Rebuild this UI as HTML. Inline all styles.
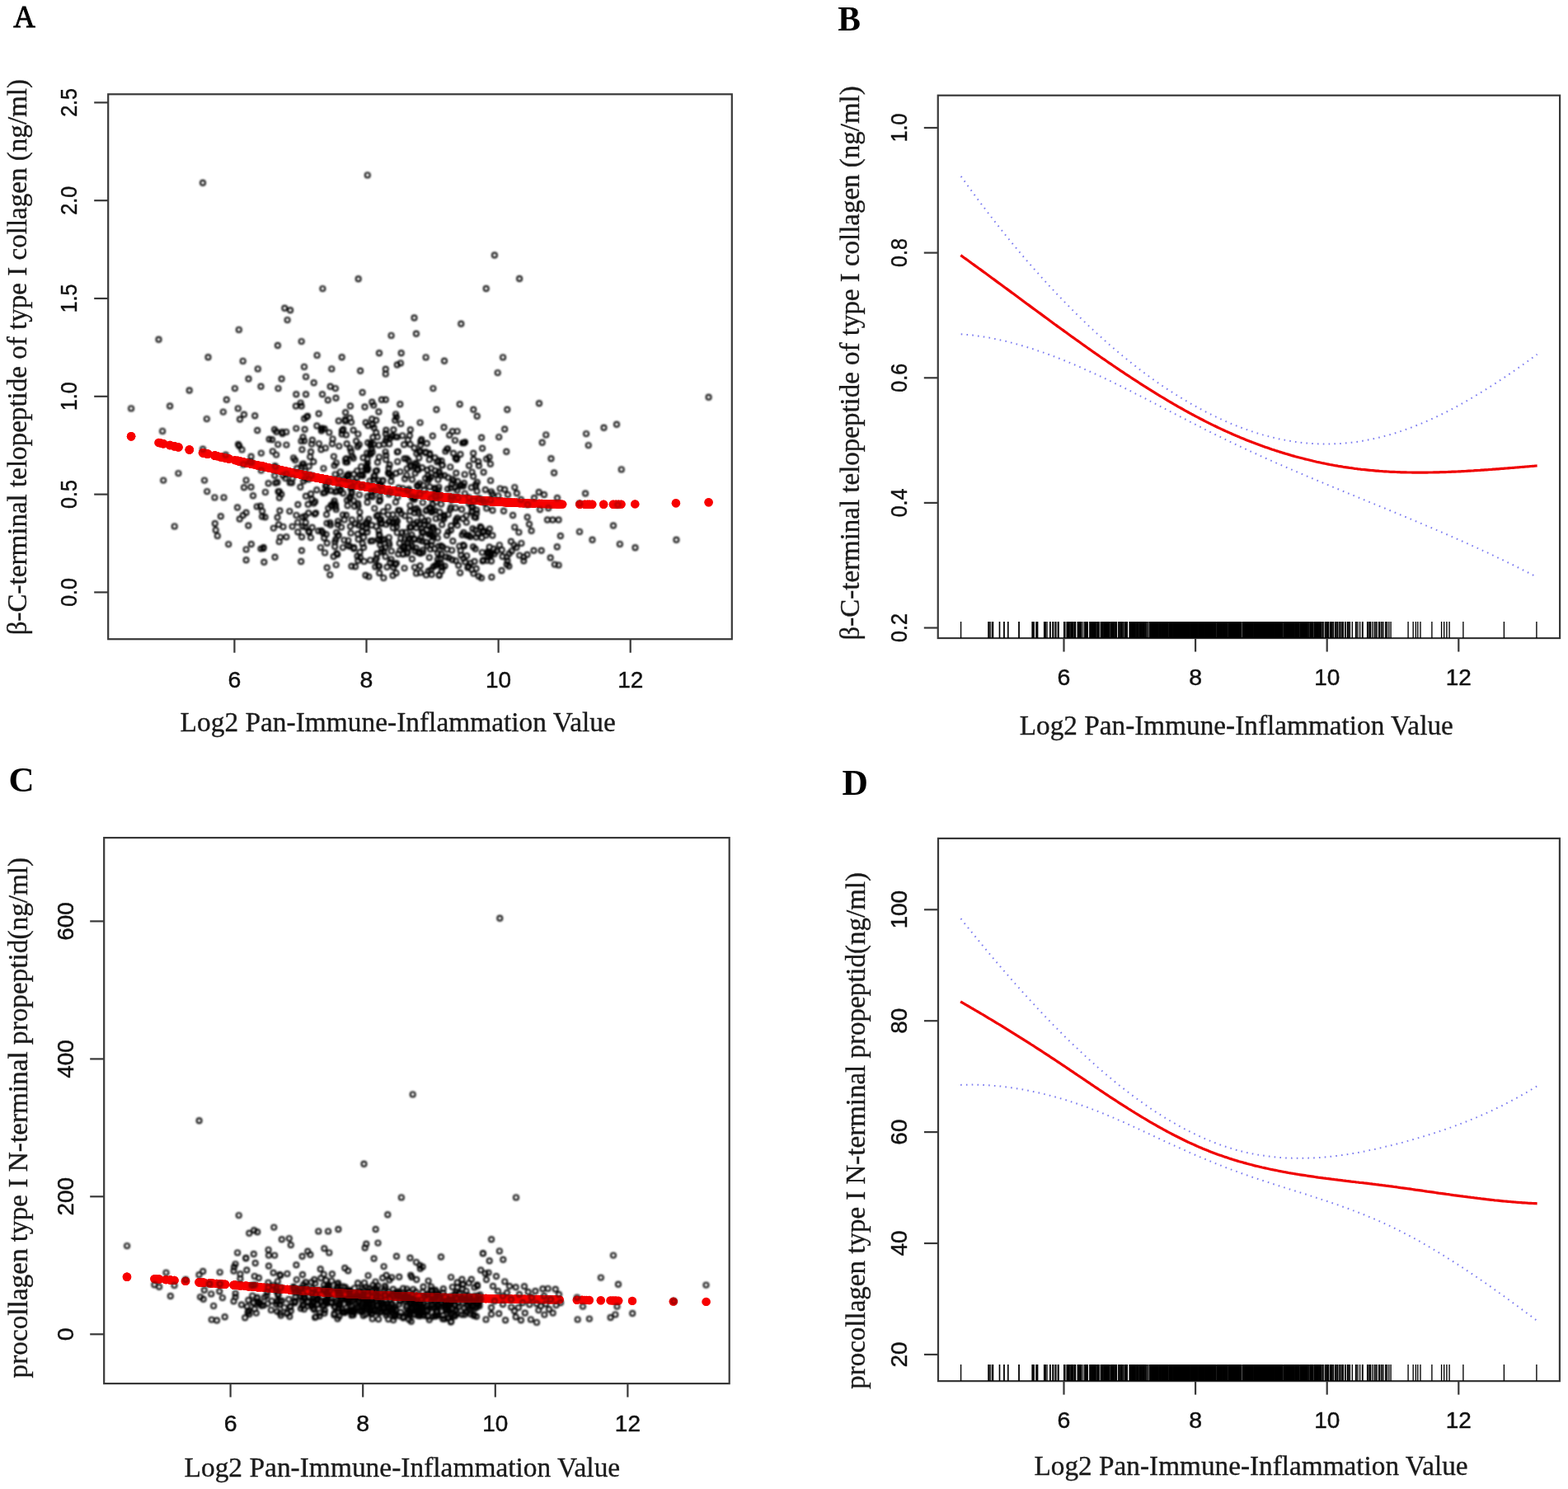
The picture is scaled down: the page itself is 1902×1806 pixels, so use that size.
<!DOCTYPE html><html><head><meta charset="utf-8"><title>Figure</title><style>html,body{margin:0;padding:0;background:#fff}svg{display:block}</style></head><body><svg xmlns="http://www.w3.org/2000/svg" width="1902" height="1806" viewBox="0 0 1902 1806">
<style>.tk{font-family:"Liberation Sans",Arial,sans-serif;font-size:28.5px;fill:#111;stroke:#111;stroke-width:0.45px}.ttl{font-family:"Liberation Serif","Times New Roman",serif;font-size:34.6px;fill:#1a1a1a;stroke:#1a1a1a;stroke-width:0.35px}.pl{font-family:"Liberation Serif","Times New Roman",serif;font-weight:bold;fill:#000}.oc{fill:none;stroke:#000;stroke-width:1.9}.rd{fill:#f70000}.rd2{fill:#f70000;opacity:.7}.rd3{fill:#f70000;opacity:.5}.ci{fill:none;stroke:#7b7bf0;stroke-width:2;stroke-dasharray:1.6 5.2;stroke-linecap:butt}.rc{fill:none;stroke:#f00000;stroke-width:3.2;stroke-linejoin:round}.rug{stroke:#000;stroke-width:1.35}</style>
<rect width="1902" height="1806" fill="#fff"/>
<defs><filter id="sb" x="0" y="0" width="1902" height="1806" filterUnits="userSpaceOnUse"><feGaussianBlur stdDeviation="0.8"/></filter></defs>
<g>
<text class="pl" x="16.2" y="33.1" font-size="38.5" style="font-weight:normal" stroke="#000" stroke-width="1.0" textLength="26.5" lengthAdjust="spacingAndGlyphs">A</text>
<text class="pl" x="1016.3" y="37.0" font-size="41.5">B</text>
<text class="pl" x="10.5" y="959.6" font-size="43">C</text>
<text class="pl" x="1021.6" y="964.3" font-size="43.5">D</text>
<g class="rd"><circle cx="304.5" cy="562.5" r="5.2"/><circle cx="316.4" cy="565.1" r="5.2"/><circle cx="319.7" cy="565.9" r="5.2"/><circle cx="301.3" cy="561.8" r="5.2"/><circle cx="305.1" cy="562.7" r="5.2"/><circle cx="330.1" cy="568.1" r="5.2"/><circle cx="302.7" cy="562.1" r="5.2"/><circle cx="304.6" cy="562.5" r="5.2"/><circle cx="330.8" cy="568.3" r="5.2"/><circle cx="320.3" cy="566.0" r="5.2"/><circle cx="312.2" cy="564.2" r="5.2"/><circle cx="316.8" cy="565.2" r="5.2"/><circle cx="321.6" cy="566.3" r="5.2"/><circle cx="309.2" cy="563.6" r="5.2"/><circle cx="304.8" cy="562.6" r="5.2"/><circle cx="325.6" cy="567.2" r="5.2"/><circle cx="321.9" cy="566.4" r="5.2"/><circle cx="316.8" cy="565.2" r="5.2"/><circle cx="326.6" cy="567.4" r="5.2"/><circle cx="318.0" cy="565.5" r="5.2"/><circle cx="331.8" cy="568.5" r="5.2"/><circle cx="307.0" cy="563.1" r="5.2"/><circle cx="318.1" cy="565.5" r="5.2"/><circle cx="315.9" cy="565.0" r="5.2"/><circle cx="311.7" cy="564.1" r="5.2"/><circle cx="319.4" cy="565.8" r="5.2"/><circle cx="340.0" cy="570.3" r="5.2"/><circle cx="358.1" cy="574.1" r="5.2"/><circle cx="360.2" cy="574.5" r="5.2"/><circle cx="336.6" cy="569.5" r="5.2"/><circle cx="347.4" cy="571.8" r="5.2"/><circle cx="341.3" cy="570.6" r="5.2"/><circle cx="335.1" cy="569.2" r="5.2"/><circle cx="361.1" cy="574.7" r="5.2"/><circle cx="346.2" cy="571.6" r="5.2"/><circle cx="337.2" cy="569.7" r="5.2"/><circle cx="354.0" cy="573.2" r="5.2"/><circle cx="338.9" cy="570.0" r="5.2"/><circle cx="361.3" cy="574.8" r="5.2"/><circle cx="339.4" cy="570.1" r="5.2"/><circle cx="333.5" cy="568.9" r="5.2"/><circle cx="338.9" cy="570.0" r="5.2"/><circle cx="343.5" cy="571.0" r="5.2"/><circle cx="347.4" cy="571.9" r="5.2"/><circle cx="361.4" cy="574.8" r="5.2"/><circle cx="354.8" cy="573.4" r="5.2"/><circle cx="343.3" cy="571.0" r="5.2"/><circle cx="333.0" cy="568.8" r="5.2"/><circle cx="337.5" cy="569.7" r="5.2"/><circle cx="364.3" cy="575.4" r="5.2"/><circle cx="347.2" cy="571.8" r="5.2"/><circle cx="354.6" cy="573.4" r="5.2"/><circle cx="334.2" cy="569.0" r="5.2"/><circle cx="333.5" cy="568.9" r="5.2"/><circle cx="359.5" cy="574.4" r="5.2"/><circle cx="351.3" cy="572.7" r="5.2"/><circle cx="342.3" cy="570.8" r="5.2"/><circle cx="342.6" cy="570.8" r="5.2"/><circle cx="335.3" cy="569.3" r="5.2"/><circle cx="338.0" cy="569.8" r="5.2"/><circle cx="333.2" cy="568.8" r="5.2"/><circle cx="359.3" cy="574.3" r="5.2"/><circle cx="347.4" cy="571.8" r="5.2"/><circle cx="336.5" cy="569.5" r="5.2"/><circle cx="356.1" cy="573.7" r="5.2"/><circle cx="338.7" cy="570.0" r="5.2"/><circle cx="334.4" cy="569.1" r="5.2"/><circle cx="351.6" cy="572.7" r="5.2"/><circle cx="400.3" cy="582.5" r="5.2"/><circle cx="365.5" cy="575.6" r="5.2"/><circle cx="396.7" cy="581.8" r="5.2"/><circle cx="372.1" cy="577.0" r="5.2"/><circle cx="368.2" cy="576.2" r="5.2"/><circle cx="365.2" cy="575.6" r="5.2"/><circle cx="376.2" cy="577.8" r="5.2"/><circle cx="393.6" cy="581.2" r="5.2"/><circle cx="384.2" cy="579.4" r="5.2"/><circle cx="398.6" cy="582.2" r="5.2"/><circle cx="373.1" cy="577.2" r="5.2"/><circle cx="377.1" cy="578.0" r="5.2"/><circle cx="374.8" cy="577.5" r="5.2"/><circle cx="403.6" cy="583.1" r="5.2"/><circle cx="402.1" cy="582.8" r="5.2"/><circle cx="378.1" cy="578.2" r="5.2"/><circle cx="381.9" cy="578.9" r="5.2"/><circle cx="377.0" cy="578.0" r="5.2"/><circle cx="394.3" cy="581.4" r="5.2"/><circle cx="366.1" cy="575.7" r="5.2"/><circle cx="367.1" cy="576.0" r="5.2"/><circle cx="380.6" cy="578.7" r="5.2"/><circle cx="374.3" cy="577.4" r="5.2"/><circle cx="398.3" cy="582.1" r="5.2"/><circle cx="394.1" cy="581.3" r="5.2"/><circle cx="386.3" cy="579.8" r="5.2"/><circle cx="390.9" cy="580.7" r="5.2"/><circle cx="392.2" cy="580.9" r="5.2"/><circle cx="395.7" cy="581.6" r="5.2"/><circle cx="401.6" cy="582.7" r="5.2"/><circle cx="370.4" cy="576.6" r="5.2"/><circle cx="389.5" cy="580.4" r="5.2"/><circle cx="370.2" cy="576.6" r="5.2"/><circle cx="382.2" cy="579.0" r="5.2"/><circle cx="395.9" cy="581.7" r="5.2"/><circle cx="400.3" cy="582.5" r="5.2"/><circle cx="394.8" cy="581.5" r="5.2"/><circle cx="365.9" cy="575.7" r="5.2"/><circle cx="378.8" cy="578.3" r="5.2"/><circle cx="371.0" cy="576.7" r="5.2"/><circle cx="404.4" cy="583.3" r="5.2"/><circle cx="370.2" cy="576.6" r="5.2"/><circle cx="374.2" cy="577.4" r="5.2"/><circle cx="378.7" cy="578.3" r="5.2"/><circle cx="366.9" cy="575.9" r="5.2"/><circle cx="399.3" cy="582.3" r="5.2"/><circle cx="389.9" cy="580.5" r="5.2"/><circle cx="370.8" cy="576.7" r="5.2"/><circle cx="384.4" cy="579.4" r="5.2"/><circle cx="367.6" cy="576.0" r="5.2"/><circle cx="388.9" cy="580.3" r="5.2"/><circle cx="373.7" cy="577.3" r="5.2"/><circle cx="366.0" cy="575.7" r="5.2"/><circle cx="369.1" cy="576.3" r="5.2"/><circle cx="386.7" cy="579.9" r="5.2"/><circle cx="389.9" cy="580.5" r="5.2"/><circle cx="377.5" cy="578.0" r="5.2"/><circle cx="390.2" cy="580.6" r="5.2"/><circle cx="378.5" cy="578.3" r="5.2"/><circle cx="369.7" cy="576.5" r="5.2"/><circle cx="377.1" cy="578.0" r="5.2"/><circle cx="380.3" cy="578.6" r="5.2"/><circle cx="401.0" cy="582.6" r="5.2"/><circle cx="369.1" cy="576.4" r="5.2"/><circle cx="367.9" cy="576.1" r="5.2"/><circle cx="386.9" cy="579.9" r="5.2"/><circle cx="403.0" cy="583.0" r="5.2"/><circle cx="400.8" cy="582.6" r="5.2"/><circle cx="392.5" cy="581.0" r="5.2"/><circle cx="367.1" cy="576.0" r="5.2"/><circle cx="396.7" cy="581.8" r="5.2"/><circle cx="391.8" cy="580.9" r="5.2"/><circle cx="370.2" cy="576.6" r="5.2"/><circle cx="383.1" cy="579.2" r="5.2"/><circle cx="366.4" cy="575.8" r="5.2"/><circle cx="396.5" cy="581.8" r="5.2"/><circle cx="393.2" cy="581.1" r="5.2"/><circle cx="396.7" cy="581.8" r="5.2"/><circle cx="394.9" cy="581.5" r="5.2"/><circle cx="375.1" cy="577.6" r="5.2"/><circle cx="396.1" cy="581.7" r="5.2"/><circle cx="374.4" cy="577.4" r="5.2"/><circle cx="410.0" cy="584.3" r="5.2"/><circle cx="420.1" cy="586.2" r="5.2"/><circle cx="424.4" cy="586.9" r="5.2"/><circle cx="415.9" cy="585.4" r="5.2"/><circle cx="428.7" cy="587.7" r="5.2"/><circle cx="428.6" cy="587.7" r="5.2"/><circle cx="414.1" cy="585.1" r="5.2"/><circle cx="429.4" cy="587.8" r="5.2"/><circle cx="418.8" cy="585.9" r="5.2"/><circle cx="433.9" cy="588.6" r="5.2"/><circle cx="416.1" cy="585.4" r="5.2"/><circle cx="436.4" cy="589.0" r="5.2"/><circle cx="421.1" cy="586.4" r="5.2"/><circle cx="426.6" cy="587.3" r="5.2"/><circle cx="431.4" cy="588.2" r="5.2"/><circle cx="425.2" cy="587.1" r="5.2"/><circle cx="414.8" cy="585.2" r="5.2"/><circle cx="443.7" cy="590.3" r="5.2"/><circle cx="408.3" cy="584.0" r="5.2"/><circle cx="417.5" cy="585.7" r="5.2"/><circle cx="426.5" cy="587.3" r="5.2"/><circle cx="405.6" cy="583.5" r="5.2"/><circle cx="410.7" cy="584.5" r="5.2"/><circle cx="436.5" cy="589.0" r="5.2"/><circle cx="435.8" cy="588.9" r="5.2"/><circle cx="430.0" cy="587.9" r="5.2"/><circle cx="440.6" cy="589.7" r="5.2"/><circle cx="434.7" cy="588.7" r="5.2"/><circle cx="416.4" cy="585.5" r="5.2"/><circle cx="430.3" cy="588.0" r="5.2"/><circle cx="418.1" cy="585.8" r="5.2"/><circle cx="434.5" cy="588.7" r="5.2"/><circle cx="419.9" cy="586.1" r="5.2"/><circle cx="410.6" cy="584.4" r="5.2"/><circle cx="439.6" cy="589.6" r="5.2"/><circle cx="432.1" cy="588.3" r="5.2"/><circle cx="434.3" cy="588.7" r="5.2"/><circle cx="426.9" cy="587.4" r="5.2"/><circle cx="435.8" cy="588.9" r="5.2"/><circle cx="422.4" cy="586.6" r="5.2"/><circle cx="427.1" cy="587.4" r="5.2"/><circle cx="407.0" cy="583.8" r="5.2"/><circle cx="426.7" cy="587.3" r="5.2"/><circle cx="437.1" cy="589.2" r="5.2"/><circle cx="432.7" cy="588.4" r="5.2"/><circle cx="436.6" cy="589.1" r="5.2"/><circle cx="424.3" cy="586.9" r="5.2"/><circle cx="439.8" cy="589.6" r="5.2"/><circle cx="408.8" cy="584.1" r="5.2"/><circle cx="439.5" cy="589.6" r="5.2"/><circle cx="419.3" cy="586.0" r="5.2"/><circle cx="408.1" cy="584.0" r="5.2"/><circle cx="429.3" cy="587.8" r="5.2"/><circle cx="422.7" cy="586.6" r="5.2"/><circle cx="421.6" cy="586.4" r="5.2"/><circle cx="438.6" cy="589.4" r="5.2"/><circle cx="410.0" cy="584.3" r="5.2"/><circle cx="429.2" cy="587.8" r="5.2"/><circle cx="421.0" cy="586.3" r="5.2"/><circle cx="425.6" cy="587.2" r="5.2"/><circle cx="424.5" cy="587.0" r="5.2"/><circle cx="409.8" cy="584.3" r="5.2"/><circle cx="425.0" cy="587.0" r="5.2"/><circle cx="439.0" cy="589.5" r="5.2"/><circle cx="411.3" cy="584.6" r="5.2"/><circle cx="404.9" cy="583.4" r="5.2"/><circle cx="407.2" cy="583.8" r="5.2"/><circle cx="422.9" cy="586.7" r="5.2"/><circle cx="443.5" cy="590.2" r="5.2"/><circle cx="406.2" cy="583.6" r="5.2"/><circle cx="444.1" cy="590.3" r="5.2"/><circle cx="425.9" cy="587.2" r="5.2"/><circle cx="409.3" cy="584.2" r="5.2"/><circle cx="421.2" cy="586.4" r="5.2"/><circle cx="412.8" cy="584.8" r="5.2"/><circle cx="433.1" cy="588.5" r="5.2"/><circle cx="426.1" cy="587.3" r="5.2"/><circle cx="416.0" cy="585.4" r="5.2"/><circle cx="414.7" cy="585.2" r="5.2"/><circle cx="439.2" cy="589.5" r="5.2"/><circle cx="435.1" cy="588.8" r="5.2"/><circle cx="421.9" cy="586.5" r="5.2"/><circle cx="420.7" cy="586.3" r="5.2"/><circle cx="434.0" cy="588.6" r="5.2"/><circle cx="443.3" cy="590.2" r="5.2"/><circle cx="407.7" cy="583.9" r="5.2"/><circle cx="410.8" cy="584.5" r="5.2"/><circle cx="419.0" cy="586.0" r="5.2"/><circle cx="424.8" cy="587.0" r="5.2"/><circle cx="407.3" cy="583.8" r="5.2"/><circle cx="406.6" cy="583.7" r="5.2"/><circle cx="413.3" cy="584.9" r="5.2"/><circle cx="419.9" cy="586.1" r="5.2"/><circle cx="434.1" cy="588.6" r="5.2"/><circle cx="428.9" cy="587.7" r="5.2"/><circle cx="405.6" cy="583.5" r="5.2"/><circle cx="406.3" cy="583.6" r="5.2"/><circle cx="422.6" cy="586.6" r="5.2"/><circle cx="439.5" cy="589.6" r="5.2"/><circle cx="441.1" cy="589.8" r="5.2"/><circle cx="419.1" cy="586.0" r="5.2"/><circle cx="440.0" cy="589.6" r="5.2"/><circle cx="441.7" cy="589.9" r="5.2"/><circle cx="420.7" cy="586.3" r="5.2"/><circle cx="434.3" cy="588.7" r="5.2"/><circle cx="419.1" cy="586.0" r="5.2"/><circle cx="410.6" cy="584.4" r="5.2"/><circle cx="427.5" cy="587.5" r="5.2"/><circle cx="407.9" cy="583.9" r="5.2"/><circle cx="431.0" cy="588.1" r="5.2"/><circle cx="436.9" cy="589.1" r="5.2"/><circle cx="441.1" cy="589.8" r="5.2"/><circle cx="462.4" cy="593.3" r="5.2"/><circle cx="449.2" cy="591.2" r="5.2"/><circle cx="480.6" cy="596.0" r="5.2"/><circle cx="479.3" cy="595.8" r="5.2"/><circle cx="483.2" cy="596.4" r="5.2"/><circle cx="468.3" cy="594.2" r="5.2"/><circle cx="471.5" cy="594.7" r="5.2"/><circle cx="459.4" cy="592.8" r="5.2"/><circle cx="451.8" cy="591.6" r="5.2"/><circle cx="456.2" cy="592.3" r="5.2"/><circle cx="473.3" cy="594.9" r="5.2"/><circle cx="457.5" cy="592.5" r="5.2"/><circle cx="472.2" cy="594.8" r="5.2"/><circle cx="464.6" cy="593.6" r="5.2"/><circle cx="462.5" cy="593.3" r="5.2"/><circle cx="483.2" cy="596.4" r="5.2"/><circle cx="451.1" cy="591.5" r="5.2"/><circle cx="464.0" cy="593.5" r="5.2"/><circle cx="450.9" cy="591.5" r="5.2"/><circle cx="482.0" cy="596.2" r="5.2"/><circle cx="464.1" cy="593.5" r="5.2"/><circle cx="457.8" cy="592.6" r="5.2"/><circle cx="451.2" cy="591.5" r="5.2"/><circle cx="468.3" cy="594.2" r="5.2"/><circle cx="460.5" cy="593.0" r="5.2"/><circle cx="449.6" cy="591.2" r="5.2"/><circle cx="445.8" cy="590.6" r="5.2"/><circle cx="460.2" cy="592.9" r="5.2"/><circle cx="467.8" cy="594.1" r="5.2"/><circle cx="465.3" cy="593.7" r="5.2"/><circle cx="480.5" cy="596.0" r="5.2"/><circle cx="481.0" cy="596.1" r="5.2"/><circle cx="482.0" cy="596.2" r="5.2"/><circle cx="476.5" cy="595.4" r="5.2"/><circle cx="463.6" cy="593.5" r="5.2"/><circle cx="465.5" cy="593.8" r="5.2"/><circle cx="460.4" cy="593.0" r="5.2"/><circle cx="460.5" cy="593.0" r="5.2"/><circle cx="446.2" cy="590.7" r="5.2"/><circle cx="476.5" cy="595.4" r="5.2"/><circle cx="454.3" cy="592.0" r="5.2"/><circle cx="445.7" cy="590.6" r="5.2"/><circle cx="463.2" cy="593.4" r="5.2"/><circle cx="473.2" cy="594.9" r="5.2"/><circle cx="462.0" cy="593.2" r="5.2"/><circle cx="459.1" cy="592.8" r="5.2"/><circle cx="470.9" cy="594.6" r="5.2"/><circle cx="451.0" cy="591.5" r="5.2"/><circle cx="445.0" cy="590.5" r="5.2"/><circle cx="468.2" cy="594.2" r="5.2"/><circle cx="465.7" cy="593.8" r="5.2"/><circle cx="479.2" cy="595.8" r="5.2"/><circle cx="461.1" cy="593.1" r="5.2"/><circle cx="476.0" cy="595.3" r="5.2"/><circle cx="445.2" cy="590.5" r="5.2"/><circle cx="445.6" cy="590.6" r="5.2"/><circle cx="468.5" cy="594.2" r="5.2"/><circle cx="453.6" cy="591.9" r="5.2"/><circle cx="447.2" cy="590.8" r="5.2"/><circle cx="449.6" cy="591.2" r="5.2"/><circle cx="459.5" cy="592.8" r="5.2"/><circle cx="458.0" cy="592.6" r="5.2"/><circle cx="467.1" cy="594.0" r="5.2"/><circle cx="480.0" cy="595.9" r="5.2"/><circle cx="459.1" cy="592.8" r="5.2"/><circle cx="451.9" cy="591.6" r="5.2"/><circle cx="467.6" cy="594.1" r="5.2"/><circle cx="444.6" cy="590.4" r="5.2"/><circle cx="459.9" cy="592.9" r="5.2"/><circle cx="457.2" cy="592.5" r="5.2"/><circle cx="460.0" cy="592.9" r="5.2"/><circle cx="446.5" cy="590.7" r="5.2"/><circle cx="466.7" cy="593.9" r="5.2"/><circle cx="469.5" cy="594.4" r="5.2"/><circle cx="474.5" cy="595.1" r="5.2"/><circle cx="482.8" cy="596.3" r="5.2"/><circle cx="458.7" cy="592.7" r="5.2"/><circle cx="470.8" cy="594.6" r="5.2"/><circle cx="462.2" cy="593.3" r="5.2"/><circle cx="453.1" cy="591.8" r="5.2"/><circle cx="480.1" cy="595.9" r="5.2"/><circle cx="474.4" cy="595.1" r="5.2"/><circle cx="482.2" cy="596.2" r="5.2"/><circle cx="477.4" cy="595.5" r="5.2"/><circle cx="481.2" cy="596.1" r="5.2"/><circle cx="449.6" cy="591.2" r="5.2"/><circle cx="445.1" cy="590.5" r="5.2"/><circle cx="452.4" cy="591.7" r="5.2"/><circle cx="461.0" cy="593.1" r="5.2"/><circle cx="472.0" cy="594.7" r="5.2"/><circle cx="462.0" cy="593.2" r="5.2"/><circle cx="465.0" cy="593.7" r="5.2"/><circle cx="475.0" cy="595.2" r="5.2"/><circle cx="447.3" cy="590.9" r="5.2"/><circle cx="471.6" cy="594.7" r="5.2"/><circle cx="446.5" cy="590.7" r="5.2"/><circle cx="454.5" cy="592.0" r="5.2"/><circle cx="473.4" cy="595.0" r="5.2"/><circle cx="471.8" cy="594.7" r="5.2"/><circle cx="460.7" cy="593.0" r="5.2"/><circle cx="456.3" cy="592.3" r="5.2"/><circle cx="477.6" cy="595.6" r="5.2"/><circle cx="455.5" cy="592.2" r="5.2"/><circle cx="445.7" cy="590.6" r="5.2"/><circle cx="454.4" cy="592.0" r="5.2"/><circle cx="445.3" cy="590.5" r="5.2"/><circle cx="476.9" cy="595.5" r="5.2"/><circle cx="449.4" cy="591.2" r="5.2"/><circle cx="483.5" cy="596.4" r="5.2"/><circle cx="453.0" cy="591.8" r="5.2"/><circle cx="456.8" cy="592.4" r="5.2"/><circle cx="467.9" cy="594.1" r="5.2"/><circle cx="456.8" cy="592.4" r="5.2"/><circle cx="459.7" cy="592.9" r="5.2"/><circle cx="448.7" cy="591.1" r="5.2"/><circle cx="460.1" cy="592.9" r="5.2"/><circle cx="445.5" cy="590.6" r="5.2"/><circle cx="453.5" cy="591.9" r="5.2"/><circle cx="480.9" cy="596.0" r="5.2"/><circle cx="455.7" cy="592.2" r="5.2"/><circle cx="455.3" cy="592.2" r="5.2"/><circle cx="471.7" cy="594.7" r="5.2"/><circle cx="479.8" cy="595.9" r="5.2"/><circle cx="456.3" cy="592.3" r="5.2"/><circle cx="459.6" cy="592.8" r="5.2"/><circle cx="473.1" cy="594.9" r="5.2"/><circle cx="476.2" cy="595.4" r="5.2"/><circle cx="469.1" cy="594.3" r="5.2"/><circle cx="451.7" cy="591.6" r="5.2"/><circle cx="451.7" cy="591.6" r="5.2"/><circle cx="474.8" cy="595.2" r="5.2"/><circle cx="472.8" cy="594.9" r="5.2"/><circle cx="480.4" cy="596.0" r="5.2"/><circle cx="475.7" cy="595.3" r="5.2"/><circle cx="461.4" cy="593.1" r="5.2"/><circle cx="449.8" cy="591.3" r="5.2"/><circle cx="480.1" cy="595.9" r="5.2"/><circle cx="472.3" cy="594.8" r="5.2"/><circle cx="467.6" cy="594.1" r="5.2"/><circle cx="471.8" cy="594.7" r="5.2"/><circle cx="499.9" cy="598.6" r="5.2"/><circle cx="498.3" cy="598.4" r="5.2"/><circle cx="507.6" cy="599.6" r="5.2"/><circle cx="503.8" cy="599.1" r="5.2"/><circle cx="512.9" cy="600.3" r="5.2"/><circle cx="522.0" cy="601.3" r="5.2"/><circle cx="518.4" cy="600.9" r="5.2"/><circle cx="500.0" cy="598.6" r="5.2"/><circle cx="499.4" cy="598.6" r="5.2"/><circle cx="521.6" cy="601.3" r="5.2"/><circle cx="500.3" cy="598.7" r="5.2"/><circle cx="516.6" cy="600.7" r="5.2"/><circle cx="488.2" cy="597.1" r="5.2"/><circle cx="502.6" cy="599.0" r="5.2"/><circle cx="505.2" cy="599.3" r="5.2"/><circle cx="516.9" cy="600.7" r="5.2"/><circle cx="519.7" cy="601.1" r="5.2"/><circle cx="490.6" cy="597.4" r="5.2"/><circle cx="509.2" cy="599.8" r="5.2"/><circle cx="509.7" cy="599.9" r="5.2"/><circle cx="490.6" cy="597.4" r="5.2"/><circle cx="517.9" cy="600.8" r="5.2"/><circle cx="506.7" cy="599.5" r="5.2"/><circle cx="523.0" cy="601.4" r="5.2"/><circle cx="492.0" cy="597.6" r="5.2"/><circle cx="505.5" cy="599.3" r="5.2"/><circle cx="497.5" cy="598.3" r="5.2"/><circle cx="510.2" cy="599.9" r="5.2"/><circle cx="508.9" cy="599.8" r="5.2"/><circle cx="505.0" cy="599.3" r="5.2"/><circle cx="497.5" cy="598.3" r="5.2"/><circle cx="504.7" cy="599.2" r="5.2"/><circle cx="499.4" cy="598.6" r="5.2"/><circle cx="520.2" cy="601.1" r="5.2"/><circle cx="503.0" cy="599.0" r="5.2"/><circle cx="503.5" cy="599.1" r="5.2"/><circle cx="494.9" cy="598.0" r="5.2"/><circle cx="494.7" cy="597.9" r="5.2"/><circle cx="522.7" cy="601.4" r="5.2"/><circle cx="497.1" cy="598.3" r="5.2"/><circle cx="519.3" cy="601.0" r="5.2"/><circle cx="508.3" cy="599.7" r="5.2"/><circle cx="523.8" cy="601.5" r="5.2"/><circle cx="491.1" cy="597.5" r="5.2"/><circle cx="522.2" cy="601.4" r="5.2"/><circle cx="515.4" cy="600.6" r="5.2"/><circle cx="507.3" cy="599.6" r="5.2"/><circle cx="512.9" cy="600.3" r="5.2"/><circle cx="513.4" cy="600.3" r="5.2"/><circle cx="502.5" cy="599.0" r="5.2"/><circle cx="509.9" cy="599.9" r="5.2"/><circle cx="493.7" cy="597.8" r="5.2"/><circle cx="485.4" cy="596.7" r="5.2"/><circle cx="511.6" cy="600.1" r="5.2"/><circle cx="503.5" cy="599.1" r="5.2"/><circle cx="520.8" cy="601.2" r="5.2"/><circle cx="495.1" cy="598.0" r="5.2"/><circle cx="517.3" cy="600.8" r="5.2"/><circle cx="524.0" cy="601.6" r="5.2"/><circle cx="520.5" cy="601.2" r="5.2"/><circle cx="523.1" cy="601.5" r="5.2"/><circle cx="490.9" cy="597.4" r="5.2"/><circle cx="491.1" cy="597.5" r="5.2"/><circle cx="493.7" cy="597.8" r="5.2"/><circle cx="499.0" cy="598.5" r="5.2"/><circle cx="489.1" cy="597.2" r="5.2"/><circle cx="490.6" cy="597.4" r="5.2"/><circle cx="485.3" cy="596.7" r="5.2"/><circle cx="521.9" cy="601.3" r="5.2"/><circle cx="499.0" cy="598.5" r="5.2"/><circle cx="509.6" cy="599.8" r="5.2"/><circle cx="502.7" cy="599.0" r="5.2"/><circle cx="514.3" cy="600.4" r="5.2"/><circle cx="516.8" cy="600.7" r="5.2"/><circle cx="499.9" cy="598.6" r="5.2"/><circle cx="506.0" cy="599.4" r="5.2"/><circle cx="488.4" cy="597.1" r="5.2"/><circle cx="496.0" cy="598.1" r="5.2"/><circle cx="493.4" cy="597.8" r="5.2"/><circle cx="496.9" cy="598.2" r="5.2"/><circle cx="497.5" cy="598.3" r="5.2"/><circle cx="507.5" cy="599.6" r="5.2"/><circle cx="497.8" cy="598.4" r="5.2"/><circle cx="497.6" cy="598.3" r="5.2"/><circle cx="517.8" cy="600.8" r="5.2"/><circle cx="485.0" cy="596.6" r="5.2"/><circle cx="484.7" cy="596.6" r="5.2"/><circle cx="486.8" cy="596.9" r="5.2"/><circle cx="519.2" cy="601.0" r="5.2"/><circle cx="509.9" cy="599.9" r="5.2"/><circle cx="513.7" cy="600.3" r="5.2"/><circle cx="522.9" cy="601.4" r="5.2"/><circle cx="493.3" cy="597.7" r="5.2"/><circle cx="521.3" cy="601.3" r="5.2"/><circle cx="494.2" cy="597.9" r="5.2"/><circle cx="505.3" cy="599.3" r="5.2"/><circle cx="511.8" cy="600.1" r="5.2"/><circle cx="516.4" cy="600.7" r="5.2"/><circle cx="494.5" cy="597.9" r="5.2"/><circle cx="503.6" cy="599.1" r="5.2"/><circle cx="486.3" cy="596.8" r="5.2"/><circle cx="496.0" cy="598.1" r="5.2"/><circle cx="523.8" cy="601.5" r="5.2"/><circle cx="520.8" cy="601.2" r="5.2"/><circle cx="507.8" cy="599.6" r="5.2"/><circle cx="516.0" cy="600.6" r="5.2"/><circle cx="520.6" cy="601.2" r="5.2"/><circle cx="497.8" cy="598.4" r="5.2"/><circle cx="523.8" cy="601.5" r="5.2"/><circle cx="502.5" cy="599.0" r="5.2"/><circle cx="490.9" cy="597.4" r="5.2"/><circle cx="505.7" cy="599.4" r="5.2"/><circle cx="508.3" cy="599.7" r="5.2"/><circle cx="512.3" cy="600.2" r="5.2"/><circle cx="511.4" cy="600.1" r="5.2"/><circle cx="486.2" cy="596.8" r="5.2"/><circle cx="510.1" cy="599.9" r="5.2"/><circle cx="521.4" cy="601.3" r="5.2"/><circle cx="511.3" cy="600.1" r="5.2"/><circle cx="523.6" cy="601.5" r="5.2"/><circle cx="505.0" cy="599.3" r="5.2"/><circle cx="517.0" cy="600.7" r="5.2"/><circle cx="490.1" cy="597.3" r="5.2"/><circle cx="520.4" cy="601.1" r="5.2"/><circle cx="502.0" cy="598.9" r="5.2"/><circle cx="519.6" cy="601.1" r="5.2"/><circle cx="497.4" cy="598.3" r="5.2"/><circle cx="509.5" cy="599.8" r="5.2"/><circle cx="518.4" cy="600.9" r="5.2"/><circle cx="513.0" cy="600.3" r="5.2"/><circle cx="509.3" cy="599.8" r="5.2"/><circle cx="523.4" cy="601.5" r="5.2"/><circle cx="488.0" cy="597.0" r="5.2"/><circle cx="488.6" cy="597.1" r="5.2"/><circle cx="506.6" cy="599.5" r="5.2"/><circle cx="522.7" cy="601.4" r="5.2"/><circle cx="512.0" cy="600.1" r="5.2"/><circle cx="496.9" cy="598.2" r="5.2"/><circle cx="488.8" cy="597.1" r="5.2"/><circle cx="502.5" cy="599.0" r="5.2"/><circle cx="503.7" cy="599.1" r="5.2"/><circle cx="503.3" cy="599.1" r="5.2"/><circle cx="549.3" cy="604.2" r="5.2"/><circle cx="535.5" cy="602.8" r="5.2"/><circle cx="559.8" cy="605.2" r="5.2"/><circle cx="536.1" cy="602.9" r="5.2"/><circle cx="528.8" cy="602.1" r="5.2"/><circle cx="538.5" cy="603.1" r="5.2"/><circle cx="562.0" cy="605.4" r="5.2"/><circle cx="530.9" cy="602.3" r="5.2"/><circle cx="535.7" cy="602.8" r="5.2"/><circle cx="561.6" cy="605.4" r="5.2"/><circle cx="538.5" cy="603.1" r="5.2"/><circle cx="558.3" cy="605.1" r="5.2"/><circle cx="526.4" cy="601.8" r="5.2"/><circle cx="560.1" cy="605.2" r="5.2"/><circle cx="534.0" cy="602.7" r="5.2"/><circle cx="531.8" cy="602.4" r="5.2"/><circle cx="554.3" cy="604.7" r="5.2"/><circle cx="564.2" cy="605.6" r="5.2"/><circle cx="562.9" cy="605.5" r="5.2"/><circle cx="554.7" cy="604.7" r="5.2"/><circle cx="561.1" cy="605.3" r="5.2"/><circle cx="564.1" cy="605.6" r="5.2"/><circle cx="546.7" cy="604.0" r="5.2"/><circle cx="530.3" cy="602.3" r="5.2"/><circle cx="558.5" cy="605.1" r="5.2"/><circle cx="540.4" cy="603.3" r="5.2"/><circle cx="537.1" cy="603.0" r="5.2"/><circle cx="544.6" cy="603.8" r="5.2"/><circle cx="525.9" cy="601.8" r="5.2"/><circle cx="525.3" cy="601.7" r="5.2"/><circle cx="535.1" cy="602.8" r="5.2"/><circle cx="548.4" cy="604.1" r="5.2"/><circle cx="554.5" cy="604.7" r="5.2"/><circle cx="562.9" cy="605.5" r="5.2"/><circle cx="557.3" cy="605.0" r="5.2"/><circle cx="562.2" cy="605.4" r="5.2"/><circle cx="550.0" cy="604.3" r="5.2"/><circle cx="553.9" cy="604.7" r="5.2"/><circle cx="548.1" cy="604.1" r="5.2"/><circle cx="527.8" cy="602.0" r="5.2"/><circle cx="527.0" cy="601.9" r="5.2"/><circle cx="555.0" cy="604.8" r="5.2"/><circle cx="532.6" cy="602.5" r="5.2"/><circle cx="556.2" cy="604.9" r="5.2"/><circle cx="543.1" cy="603.6" r="5.2"/><circle cx="524.8" cy="601.6" r="5.2"/><circle cx="547.0" cy="604.0" r="5.2"/><circle cx="542.3" cy="603.5" r="5.2"/><circle cx="527.5" cy="601.9" r="5.2"/><circle cx="535.0" cy="602.8" r="5.2"/><circle cx="536.8" cy="603.0" r="5.2"/><circle cx="538.4" cy="603.1" r="5.2"/><circle cx="552.8" cy="604.6" r="5.2"/><circle cx="531.2" cy="602.4" r="5.2"/><circle cx="542.3" cy="603.5" r="5.2"/><circle cx="548.8" cy="604.2" r="5.2"/><circle cx="562.4" cy="605.4" r="5.2"/><circle cx="529.2" cy="602.1" r="5.2"/><circle cx="527.7" cy="602.0" r="5.2"/><circle cx="532.2" cy="602.5" r="5.2"/><circle cx="533.4" cy="602.6" r="5.2"/><circle cx="531.1" cy="602.3" r="5.2"/><circle cx="527.6" cy="602.0" r="5.2"/><circle cx="532.9" cy="602.5" r="5.2"/><circle cx="533.5" cy="602.6" r="5.2"/><circle cx="543.7" cy="603.7" r="5.2"/><circle cx="550.5" cy="604.3" r="5.2"/><circle cx="539.1" cy="603.2" r="5.2"/><circle cx="531.3" cy="602.4" r="5.2"/><circle cx="528.3" cy="602.0" r="5.2"/><circle cx="535.1" cy="602.8" r="5.2"/><circle cx="531.4" cy="602.4" r="5.2"/><circle cx="543.8" cy="603.7" r="5.2"/><circle cx="559.4" cy="605.2" r="5.2"/><circle cx="553.2" cy="604.6" r="5.2"/><circle cx="532.7" cy="602.5" r="5.2"/><circle cx="526.0" cy="601.8" r="5.2"/><circle cx="527.3" cy="601.9" r="5.2"/><circle cx="542.0" cy="603.5" r="5.2"/><circle cx="539.1" cy="603.2" r="5.2"/><circle cx="551.9" cy="604.5" r="5.2"/><circle cx="527.9" cy="602.0" r="5.2"/><circle cx="534.7" cy="602.7" r="5.2"/><circle cx="552.0" cy="604.5" r="5.2"/><circle cx="547.3" cy="604.0" r="5.2"/><circle cx="545.2" cy="603.8" r="5.2"/><circle cx="560.6" cy="605.3" r="5.2"/><circle cx="529.1" cy="602.1" r="5.2"/><circle cx="532.4" cy="602.5" r="5.2"/><circle cx="547.2" cy="604.0" r="5.2"/><circle cx="547.2" cy="604.0" r="5.2"/><circle cx="563.8" cy="605.6" r="5.2"/><circle cx="563.7" cy="605.5" r="5.2"/><circle cx="548.1" cy="604.1" r="5.2"/><circle cx="554.9" cy="604.8" r="5.2"/><circle cx="552.5" cy="604.5" r="5.2"/><circle cx="529.9" cy="602.2" r="5.2"/><circle cx="548.7" cy="604.2" r="5.2"/><circle cx="536.8" cy="603.0" r="5.2"/><circle cx="538.9" cy="603.2" r="5.2"/><circle cx="530.8" cy="602.3" r="5.2"/><circle cx="524.9" cy="601.7" r="5.2"/><circle cx="558.7" cy="605.1" r="5.2"/><circle cx="553.3" cy="604.6" r="5.2"/><circle cx="554.7" cy="604.7" r="5.2"/><circle cx="536.1" cy="602.9" r="5.2"/><circle cx="541.3" cy="603.4" r="5.2"/><circle cx="531.6" cy="602.4" r="5.2"/><circle cx="548.7" cy="604.2" r="5.2"/><circle cx="558.1" cy="605.0" r="5.2"/><circle cx="555.7" cy="604.8" r="5.2"/><circle cx="561.9" cy="605.4" r="5.2"/><circle cx="535.0" cy="602.8" r="5.2"/><circle cx="552.6" cy="604.5" r="5.2"/><circle cx="529.6" cy="602.2" r="5.2"/><circle cx="546.0" cy="603.9" r="5.2"/><circle cx="529.0" cy="602.1" r="5.2"/><circle cx="546.2" cy="603.9" r="5.2"/><circle cx="584.1" cy="607.2" r="5.2"/><circle cx="577.1" cy="606.7" r="5.2"/><circle cx="577.2" cy="606.7" r="5.2"/><circle cx="590.2" cy="607.6" r="5.2"/><circle cx="581.9" cy="607.0" r="5.2"/><circle cx="579.3" cy="606.8" r="5.2"/><circle cx="568.6" cy="606.0" r="5.2"/><circle cx="574.7" cy="606.5" r="5.2"/><circle cx="595.1" cy="608.0" r="5.2"/><circle cx="599.6" cy="608.3" r="5.2"/><circle cx="578.0" cy="606.7" r="5.2"/><circle cx="595.9" cy="608.0" r="5.2"/><circle cx="596.0" cy="608.0" r="5.2"/><circle cx="572.4" cy="606.3" r="5.2"/><circle cx="574.4" cy="606.4" r="5.2"/><circle cx="589.6" cy="607.6" r="5.2"/><circle cx="575.6" cy="606.5" r="5.2"/><circle cx="599.0" cy="608.2" r="5.2"/><circle cx="577.7" cy="606.7" r="5.2"/><circle cx="590.9" cy="607.7" r="5.2"/><circle cx="590.1" cy="607.6" r="5.2"/><circle cx="572.3" cy="606.3" r="5.2"/><circle cx="595.8" cy="608.0" r="5.2"/><circle cx="576.4" cy="606.6" r="5.2"/><circle cx="568.5" cy="606.0" r="5.2"/><circle cx="566.4" cy="605.8" r="5.2"/><circle cx="580.9" cy="607.0" r="5.2"/><circle cx="587.4" cy="607.4" r="5.2"/><circle cx="574.4" cy="606.4" r="5.2"/><circle cx="594.9" cy="608.0" r="5.2"/><circle cx="574.2" cy="606.4" r="5.2"/><circle cx="595.1" cy="608.0" r="5.2"/><circle cx="565.8" cy="605.7" r="5.2"/><circle cx="574.0" cy="606.4" r="5.2"/><circle cx="570.3" cy="606.1" r="5.2"/><circle cx="580.7" cy="606.9" r="5.2"/><circle cx="577.2" cy="606.7" r="5.2"/><circle cx="578.8" cy="606.8" r="5.2"/><circle cx="595.2" cy="608.0" r="5.2"/><circle cx="585.5" cy="607.3" r="5.2"/><circle cx="586.4" cy="607.4" r="5.2"/><circle cx="578.6" cy="606.8" r="5.2"/><circle cx="593.7" cy="607.9" r="5.2"/><circle cx="582.7" cy="607.1" r="5.2"/><circle cx="591.4" cy="607.7" r="5.2"/><circle cx="597.5" cy="608.1" r="5.2"/><circle cx="586.6" cy="607.4" r="5.2"/><circle cx="580.3" cy="606.9" r="5.2"/><circle cx="574.1" cy="606.4" r="5.2"/><circle cx="597.4" cy="608.1" r="5.2"/><circle cx="592.1" cy="607.8" r="5.2"/><circle cx="593.4" cy="607.9" r="5.2"/><circle cx="572.6" cy="606.3" r="5.2"/><circle cx="580.3" cy="606.9" r="5.2"/><circle cx="596.4" cy="608.1" r="5.2"/><circle cx="573.4" cy="606.4" r="5.2"/><circle cx="593.9" cy="607.9" r="5.2"/><circle cx="584.0" cy="607.2" r="5.2"/><circle cx="572.5" cy="606.3" r="5.2"/><circle cx="578.1" cy="606.7" r="5.2"/><circle cx="567.3" cy="605.9" r="5.2"/><circle cx="588.8" cy="607.5" r="5.2"/><circle cx="590.8" cy="607.7" r="5.2"/><circle cx="565.6" cy="605.7" r="5.2"/><circle cx="575.4" cy="606.5" r="5.2"/><circle cx="592.3" cy="607.8" r="5.2"/><circle cx="571.8" cy="606.2" r="5.2"/><circle cx="583.9" cy="607.2" r="5.2"/><circle cx="593.6" cy="607.9" r="5.2"/><circle cx="585.1" cy="607.3" r="5.2"/><circle cx="569.0" cy="606.0" r="5.2"/><circle cx="597.3" cy="608.1" r="5.2"/><circle cx="591.5" cy="607.7" r="5.2"/><circle cx="584.9" cy="607.3" r="5.2"/><circle cx="576.6" cy="606.6" r="5.2"/><circle cx="585.6" cy="607.3" r="5.2"/><circle cx="578.7" cy="606.8" r="5.2"/><circle cx="568.9" cy="606.0" r="5.2"/><circle cx="569.0" cy="606.0" r="5.2"/><circle cx="566.2" cy="605.8" r="5.2"/><circle cx="570.7" cy="606.1" r="5.2"/><circle cx="573.4" cy="606.4" r="5.2"/><circle cx="587.5" cy="607.4" r="5.2"/><circle cx="585.5" cy="607.3" r="5.2"/><circle cx="509.1" cy="599.8" r="5.2"/><circle cx="444.3" cy="590.4" r="5.2"/><circle cx="584.5" cy="607.2" r="5.2"/><circle cx="533.7" cy="602.6" r="5.2"/><circle cx="535.6" cy="602.8" r="5.2"/><circle cx="521.2" cy="601.2" r="5.2"/><circle cx="404.7" cy="583.3" r="5.2"/><circle cx="510.5" cy="600.0" r="5.2"/><circle cx="543.1" cy="603.6" r="5.2"/><circle cx="532.4" cy="602.5" r="5.2"/><circle cx="445.8" cy="590.6" r="5.2"/><circle cx="495.7" cy="598.1" r="5.2"/><circle cx="543.5" cy="603.6" r="5.2"/><circle cx="577.7" cy="606.7" r="5.2"/><circle cx="448.6" cy="591.1" r="5.2"/><circle cx="514.5" cy="600.4" r="5.2"/><circle cx="417.7" cy="585.7" r="5.2"/><circle cx="438.2" cy="589.3" r="5.2"/><circle cx="477.3" cy="595.5" r="5.2"/><circle cx="407.7" cy="583.9" r="5.2"/><circle cx="472.6" cy="594.8" r="5.2"/><circle cx="571.8" cy="606.2" r="5.2"/><circle cx="462.5" cy="593.3" r="5.2"/><circle cx="433.5" cy="588.5" r="5.2"/><circle cx="424.5" cy="587.0" r="5.2"/><circle cx="510.6" cy="600.0" r="5.2"/><circle cx="481.8" cy="596.2" r="5.2"/><circle cx="524.8" cy="601.6" r="5.2"/><circle cx="481.7" cy="596.2" r="5.2"/><circle cx="505.7" cy="599.4" r="5.2"/><circle cx="482.3" cy="596.2" r="5.2"/><circle cx="459.9" cy="592.9" r="5.2"/><circle cx="406.4" cy="583.7" r="5.2"/><circle cx="458.8" cy="592.7" r="5.2"/><circle cx="547.0" cy="604.0" r="5.2"/><circle cx="470.7" cy="594.6" r="5.2"/><circle cx="552.8" cy="604.6" r="5.2"/><circle cx="412.5" cy="584.8" r="5.2"/><circle cx="539.6" cy="603.2" r="5.2"/><circle cx="563.0" cy="605.5" r="5.2"/><circle cx="246.0" cy="549.2" r="5.2"/><circle cx="445.8" cy="590.6" r="5.2"/><circle cx="599.9" cy="608.3" r="5.2"/><circle cx="630.1" cy="610.0" r="5.2"/><circle cx="434.7" cy="588.7" r="5.2"/><circle cx="391.4" cy="580.8" r="5.2"/><circle cx="589.7" cy="607.6" r="5.2"/><circle cx="345.3" cy="571.4" r="5.2"/><circle cx="352.1" cy="572.8" r="5.2"/><circle cx="348.6" cy="572.1" r="5.2"/><circle cx="502.5" cy="599.0" r="5.2"/><circle cx="559.3" cy="605.2" r="5.2"/><circle cx="289.8" cy="559.2" r="5.2"/><circle cx="192.5" cy="536.9" r="5.2"/><circle cx="474.6" cy="595.1" r="5.2"/><circle cx="504.9" cy="599.3" r="5.2"/><circle cx="365.7" cy="575.7" r="5.2"/><circle cx="336.9" cy="569.6" r="5.2"/><circle cx="252.5" cy="550.7" r="5.2"/><circle cx="294.7" cy="560.3" r="5.2"/><circle cx="384.6" cy="579.5" r="5.2"/><circle cx="414.7" cy="585.2" r="5.2"/><circle cx="460.0" cy="592.9" r="5.2"/><circle cx="486.7" cy="596.9" r="5.2"/><circle cx="516.6" cy="600.7" r="5.2"/><circle cx="539.0" cy="603.2" r="5.2"/><circle cx="610.1" cy="608.9" r="5.2"/><circle cx="312.8" cy="564.4" r="5.2"/><circle cx="369.0" cy="576.3" r="5.2"/><circle cx="402.3" cy="582.9" r="5.2"/><circle cx="437.1" cy="589.2" r="5.2"/><circle cx="467.8" cy="594.1" r="5.2"/><circle cx="467.8" cy="594.1" r="5.2"/><circle cx="481.8" cy="596.2" r="5.2"/><circle cx="485.9" cy="596.7" r="5.2"/><circle cx="603.7" cy="608.5" r="5.2"/><circle cx="301.5" cy="561.8" r="5.2"/><circle cx="341.6" cy="570.6" r="5.2"/><circle cx="371.1" cy="576.8" r="5.2"/><circle cx="380.7" cy="578.7" r="5.2"/><circle cx="229.7" cy="545.4" r="5.2"/><circle cx="284.9" cy="558.1" r="5.2"/><circle cx="316.5" cy="565.2" r="5.2"/><circle cx="337.5" cy="569.7" r="5.2"/><circle cx="400.7" cy="582.6" r="5.2"/><circle cx="406.9" cy="583.7" r="5.2"/><circle cx="525.4" cy="601.7" r="5.2"/><circle cx="439.6" cy="589.6" r="5.2"/><circle cx="359.3" cy="574.3" r="5.2"/><circle cx="371.1" cy="576.8" r="5.2"/><circle cx="391.0" cy="580.7" r="5.2"/><circle cx="407.5" cy="583.9" r="5.2"/><circle cx="274.8" cy="555.8" r="5.2"/><circle cx="397.8" cy="582.0" r="5.2"/><circle cx="463.0" cy="593.4" r="5.2"/><circle cx="467.8" cy="594.1" r="5.2"/><circle cx="451.3" cy="591.5" r="5.2"/><circle cx="453.2" cy="591.8" r="5.2"/><circle cx="364.7" cy="575.5" r="5.2"/><circle cx="485.3" cy="596.7" r="5.2"/><circle cx="425.0" cy="587.0" r="5.2"/><circle cx="159.1" cy="529.3" r="5.2"/><circle cx="206.1" cy="540.0" r="5.2"/><circle cx="358.9" cy="574.3" r="5.2"/><circle cx="365.7" cy="575.7" r="5.2"/><circle cx="442.5" cy="590.1" r="5.2"/><circle cx="557.7" cy="605.0" r="5.2"/><circle cx="529.4" cy="602.2" r="5.2"/><circle cx="574.3" cy="606.4" r="5.2"/><circle cx="615.3" cy="609.2" r="5.2"/><circle cx="654.0" cy="610.9" r="5.2"/><circle cx="250.8" cy="550.3" r="5.2"/><circle cx="270.8" cy="554.9" r="5.2"/><circle cx="288.8" cy="559.0" r="5.2"/><circle cx="291.0" cy="559.5" r="5.2"/><circle cx="296.0" cy="560.6" r="5.2"/><circle cx="197.1" cy="537.9" r="5.2"/><circle cx="246.1" cy="549.2" r="5.2"/><circle cx="273.8" cy="555.6" r="5.2"/><circle cx="289.0" cy="559.0" r="5.2"/><circle cx="290.3" cy="559.3" r="5.2"/><circle cx="293.5" cy="560.0" r="5.2"/><circle cx="295.2" cy="560.4" r="5.2"/><circle cx="216.4" cy="542.4" r="5.2"/><circle cx="198.2" cy="538.2" r="5.2"/><circle cx="248.0" cy="549.7" r="5.2"/><circle cx="251.2" cy="550.4" r="5.2"/><circle cx="260.4" cy="552.5" r="5.2"/><circle cx="271.5" cy="555.1" r="5.2"/><circle cx="288.0" cy="558.8" r="5.2"/><circle cx="267.8" cy="554.2" r="5.2"/><circle cx="290.7" cy="559.4" r="5.2"/><circle cx="294.8" cy="560.3" r="5.2"/><circle cx="298.6" cy="561.2" r="5.2"/><circle cx="211.7" cy="541.3" r="5.2"/><circle cx="260.8" cy="552.6" r="5.2"/><circle cx="261.7" cy="552.8" r="5.2"/><circle cx="263.8" cy="553.3" r="5.2"/><circle cx="277.2" cy="556.4" r="5.2"/><circle cx="298.6" cy="561.2" r="5.2"/><circle cx="298.6" cy="561.2" r="5.2"/><circle cx="298.6" cy="561.2" r="5.2"/><circle cx="296.0" cy="560.6" r="5.2"/><circle cx="612.2" cy="609.0" r="5.2"/><circle cx="605.2" cy="608.6" r="5.2"/><circle cx="662.3" cy="611.1" r="5.2"/><circle cx="657.7" cy="611.0" r="5.2"/><circle cx="614.3" cy="609.2" r="5.2"/><circle cx="668.5" cy="611.3" r="5.2"/><circle cx="672.1" cy="611.4" r="5.2"/><circle cx="606.6" cy="608.7" r="5.2"/><circle cx="612.2" cy="609.0" r="5.2"/><circle cx="624.3" cy="609.7" r="5.2"/><circle cx="626.9" cy="609.8" r="5.2"/><circle cx="604.4" cy="608.6" r="5.2"/><circle cx="653.7" cy="610.9" r="5.2"/><circle cx="611.0" cy="609.0" r="5.2"/><circle cx="622.1" cy="609.6" r="5.2"/><circle cx="639.7" cy="610.4" r="5.2"/><circle cx="642.0" cy="610.5" r="5.2"/><circle cx="644.6" cy="610.6" r="5.2"/><circle cx="624.3" cy="609.7" r="5.2"/><circle cx="629.4" cy="609.9" r="5.2"/><circle cx="664.0" cy="611.2" r="5.2"/><circle cx="670.4" cy="611.3" r="5.2"/><circle cx="677.6" cy="611.5" r="5.2"/><circle cx="665.2" cy="611.2" r="5.2"/><circle cx="679.9" cy="611.5" r="5.2"/><circle cx="675.8" cy="611.5" r="5.2"/><circle cx="667.7" cy="611.3" r="5.2"/><circle cx="672.9" cy="611.4" r="5.2"/><circle cx="677.6" cy="611.5" r="5.2"/><circle cx="647.5" cy="610.7" r="5.2"/><circle cx="656.7" cy="611.0" r="5.2"/><circle cx="619.9" cy="609.5" r="5.2"/><circle cx="632.4" cy="610.1" r="5.2"/><circle cx="605.9" cy="608.7" r="5.2"/><circle cx="608.8" cy="608.8" r="5.2"/><circle cx="602.2" cy="608.4" r="5.2"/><circle cx="623.6" cy="609.7" r="5.2"/><circle cx="626.5" cy="609.8" r="5.2"/><circle cx="620.6" cy="609.5" r="5.2"/><circle cx="617.7" cy="609.3" r="5.2"/><circle cx="609.6" cy="608.9" r="5.2"/><circle cx="614.7" cy="609.2" r="5.2"/><circle cx="615.5" cy="609.2" r="5.2"/><circle cx="614.7" cy="609.2" r="5.2"/><circle cx="617.4" cy="609.3" r="5.2"/><circle cx="608.5" cy="608.8" r="5.2"/><circle cx="630.2" cy="610.0" r="5.2"/><circle cx="635.3" cy="610.2" r="5.2"/><circle cx="635.3" cy="610.2" r="5.2"/><circle cx="639.5" cy="610.4" r="5.2"/><circle cx="616.0" cy="609.3" r="5.2"/><circle cx="632.0" cy="610.1" r="5.2"/><circle cx="648.0" cy="610.7" r="5.2"/><circle cx="660.0" cy="611.1" r="5.2"/><circle cx="676.0" cy="611.5" r="5.2"/><circle cx="640.0" cy="610.4" r="5.2"/><circle cx="655.0" cy="610.9" r="5.2"/><circle cx="709.5" cy="611.8" r="5.2"/><circle cx="712.7" cy="611.8" r="5.2"/><circle cx="715.1" cy="611.8" r="5.2"/><circle cx="718.3" cy="611.8" r="5.2"/><circle cx="732.2" cy="611.8" r="5.2"/><circle cx="743.9" cy="611.7" r="5.2"/><circle cx="747.1" cy="611.7" r="5.2"/><circle cx="750.3" cy="611.6" r="5.2"/><circle cx="753.5" cy="611.6" r="5.2"/><circle cx="770.3" cy="611.4" r="5.2"/><circle cx="819.9" cy="610.3" r="5.2"/><circle cx="859.6" cy="609.3" r="5.2"/><circle cx="703.3" cy="611.8" r="5.2"/><circle cx="682.2" cy="611.6" r="5.2"/><circle cx="159.1" cy="529.3" r="5.2"/><circle cx="193.5" cy="537.1" r="5.2"/><circle cx="194.7" cy="537.4" r="5.2"/><circle cx="197.9" cy="538.1" r="5.2"/><circle cx="206.2" cy="540.0" r="5.2"/><circle cx="211.6" cy="541.3" r="5.2"/><circle cx="216.4" cy="542.4" r="5.2"/><circle cx="229.8" cy="545.5" r="5.2"/><circle cx="247.0" cy="549.4" r="5.2"/><circle cx="250.8" cy="550.3" r="5.2"/><circle cx="260.4" cy="552.5" r="5.2"/><circle cx="262.0" cy="552.9" r="5.2"/><circle cx="267.6" cy="554.2" r="5.2"/><circle cx="270.8" cy="554.9" r="5.2"/><circle cx="273.8" cy="555.6" r="5.2"/><circle cx="278.0" cy="556.5" r="5.2"/></g>
<g class="oc" filter="url(#sb)"><circle cx="304.5" cy="590.8" r="3.0"/><circle cx="316.4" cy="665.6" r="3.0"/><circle cx="319.7" cy="663.9" r="3.0"/><circle cx="301.3" cy="637.5" r="3.0"/><circle cx="305.1" cy="560.9" r="3.0"/><circle cx="330.1" cy="533.2" r="3.0"/><circle cx="302.7" cy="560.3" r="3.0"/><circle cx="304.6" cy="553.7" r="3.0"/><circle cx="330.8" cy="547.4" r="3.0"/><circle cx="320.3" cy="681.8" r="3.0"/><circle cx="312.2" cy="522.0" r="3.0"/><circle cx="316.8" cy="549.6" r="3.0"/><circle cx="321.6" cy="627.3" r="3.0"/><circle cx="309.2" cy="504.2" r="3.0"/><circle cx="304.8" cy="660.0" r="3.0"/><circle cx="325.6" cy="586.2" r="3.0"/><circle cx="321.9" cy="596.9" r="3.0"/><circle cx="316.8" cy="570.6" r="3.0"/><circle cx="326.6" cy="532.7" r="3.0"/><circle cx="318.0" cy="626.6" r="3.0"/><circle cx="331.8" cy="640.6" r="3.0"/><circle cx="307.0" cy="601.3" r="3.0"/><circle cx="318.1" cy="620.0" r="3.0"/><circle cx="315.9" cy="613.8" r="3.0"/><circle cx="311.7" cy="614.4" r="3.0"/><circle cx="319.4" cy="665.2" r="3.0"/><circle cx="340.0" cy="651.6" r="3.0"/><circle cx="358.1" cy="558.1" r="3.0"/><circle cx="360.2" cy="568.0" r="3.0"/><circle cx="336.6" cy="627.5" r="3.0"/><circle cx="347.4" cy="574.9" r="3.0"/><circle cx="341.3" cy="599.4" r="3.0"/><circle cx="335.1" cy="551.6" r="3.0"/><circle cx="361.1" cy="633.6" r="3.0"/><circle cx="346.2" cy="580.1" r="3.0"/><circle cx="337.2" cy="539.1" r="3.0"/><circle cx="354.0" cy="585.6" r="3.0"/><circle cx="338.9" cy="596.3" r="3.0"/><circle cx="361.3" cy="645.3" r="3.0"/><circle cx="339.4" cy="619.5" r="3.0"/><circle cx="333.5" cy="675.7" r="3.0"/><circle cx="338.9" cy="603.8" r="3.0"/><circle cx="343.5" cy="638.9" r="3.0"/><circle cx="347.4" cy="539.6" r="3.0"/><circle cx="361.4" cy="612.0" r="3.0"/><circle cx="354.8" cy="580.1" r="3.0"/><circle cx="343.3" cy="576.7" r="3.0"/><circle cx="333.0" cy="521.0" r="3.0"/><circle cx="337.5" cy="596.2" r="3.0"/><circle cx="364.3" cy="590.7" r="3.0"/><circle cx="347.2" cy="523.9" r="3.0"/><circle cx="354.6" cy="638.6" r="3.0"/><circle cx="334.2" cy="585.8" r="3.0"/><circle cx="333.5" cy="565.2" r="3.0"/><circle cx="359.5" cy="624.9" r="3.0"/><circle cx="351.3" cy="620.1" r="3.0"/><circle cx="342.3" cy="523.9" r="3.0"/><circle cx="342.6" cy="526.1" r="3.0"/><circle cx="335.3" cy="523.7" r="3.0"/><circle cx="338.0" cy="636.2" r="3.0"/><circle cx="333.2" cy="576.7" r="3.0"/><circle cx="359.3" cy="519.6" r="3.0"/><circle cx="347.4" cy="651.3" r="3.0"/><circle cx="336.5" cy="585.0" r="3.0"/><circle cx="356.1" cy="555.4" r="3.0"/><circle cx="338.7" cy="656.9" r="3.0"/><circle cx="334.4" cy="566.2" r="3.0"/><circle cx="351.6" cy="585.4" r="3.0"/><circle cx="400.3" cy="697.3" r="3.0"/><circle cx="365.5" cy="534.9" r="3.0"/><circle cx="396.7" cy="594.6" r="3.0"/><circle cx="372.1" cy="505.8" r="3.0"/><circle cx="368.2" cy="583.5" r="3.0"/><circle cx="365.2" cy="681.0" r="3.0"/><circle cx="376.2" cy="554.1" r="3.0"/><circle cx="393.6" cy="520.0" r="3.0"/><circle cx="384.2" cy="594.2" r="3.0"/><circle cx="398.6" cy="584.4" r="3.0"/><circle cx="373.1" cy="504.7" r="3.0"/><circle cx="377.1" cy="599.0" r="3.0"/><circle cx="374.8" cy="565.6" r="3.0"/><circle cx="403.6" cy="532.4" r="3.0"/><circle cx="402.1" cy="613.8" r="3.0"/><circle cx="378.1" cy="538.6" r="3.0"/><circle cx="381.9" cy="623.6" r="3.0"/><circle cx="377.0" cy="652.1" r="3.0"/><circle cx="394.3" cy="597.4" r="3.0"/><circle cx="366.1" cy="651.3" r="3.0"/><circle cx="367.1" cy="638.6" r="3.0"/><circle cx="380.6" cy="610.6" r="3.0"/><circle cx="374.3" cy="644.2" r="3.0"/><circle cx="398.3" cy="616.4" r="3.0"/><circle cx="394.1" cy="670.4" r="3.0"/><circle cx="386.3" cy="643.9" r="3.0"/><circle cx="390.9" cy="519.5" r="3.0"/><circle cx="392.2" cy="598.0" r="3.0"/><circle cx="395.7" cy="648.1" r="3.0"/><circle cx="401.6" cy="612.7" r="3.0"/><circle cx="370.4" cy="580.4" r="3.0"/><circle cx="389.5" cy="545.3" r="3.0"/><circle cx="370.2" cy="571.9" r="3.0"/><circle cx="382.2" cy="608.5" r="3.0"/><circle cx="395.9" cy="588.0" r="3.0"/><circle cx="400.3" cy="633.9" r="3.0"/><circle cx="394.8" cy="543.4" r="3.0"/><circle cx="365.9" cy="667.8" r="3.0"/><circle cx="378.8" cy="533.7" r="3.0"/><circle cx="371.0" cy="601.8" r="3.0"/><circle cx="404.4" cy="610.5" r="3.0"/><circle cx="370.2" cy="639.1" r="3.0"/><circle cx="374.2" cy="622.3" r="3.0"/><circle cx="378.7" cy="639.8" r="3.0"/><circle cx="366.9" cy="562.9" r="3.0"/><circle cx="399.3" cy="524.6" r="3.0"/><circle cx="389.9" cy="643.7" r="3.0"/><circle cx="370.8" cy="633.7" r="3.0"/><circle cx="384.4" cy="516.5" r="3.0"/><circle cx="367.6" cy="530.2" r="3.0"/><circle cx="388.9" cy="664.1" r="3.0"/><circle cx="373.7" cy="611.7" r="3.0"/><circle cx="366.0" cy="565.7" r="3.0"/><circle cx="369.1" cy="534.7" r="3.0"/><circle cx="386.7" cy="501.7" r="3.0"/><circle cx="389.9" cy="522.5" r="3.0"/><circle cx="377.5" cy="576.4" r="3.0"/><circle cx="390.2" cy="520.0" r="3.0"/><circle cx="378.5" cy="605.7" r="3.0"/><circle cx="369.7" cy="520.7" r="3.0"/><circle cx="377.1" cy="548.0" r="3.0"/><circle cx="380.3" cy="560.0" r="3.0"/><circle cx="401.0" cy="595.0" r="3.0"/><circle cx="369.1" cy="507.8" r="3.0"/><circle cx="367.9" cy="562.5" r="3.0"/><circle cx="386.9" cy="538.1" r="3.0"/><circle cx="403.0" cy="538.3" r="3.0"/><circle cx="400.8" cy="636.7" r="3.0"/><circle cx="392.5" cy="568.1" r="3.0"/><circle cx="367.1" cy="627.2" r="3.0"/><circle cx="396.7" cy="688.5" r="3.0"/><circle cx="391.8" cy="646.3" r="3.0"/><circle cx="370.2" cy="625.9" r="3.0"/><circle cx="383.1" cy="622.1" r="3.0"/><circle cx="366.4" cy="545.3" r="3.0"/><circle cx="396.5" cy="634.6" r="3.0"/><circle cx="393.2" cy="652.5" r="3.0"/><circle cx="396.7" cy="658.7" r="3.0"/><circle cx="394.9" cy="590.0" r="3.0"/><circle cx="375.1" cy="645.8" r="3.0"/><circle cx="396.1" cy="624.0" r="3.0"/><circle cx="374.4" cy="581.3" r="3.0"/><circle cx="410.0" cy="649.6" r="3.0"/><circle cx="420.1" cy="556.2" r="3.0"/><circle cx="424.4" cy="602.6" r="3.0"/><circle cx="415.9" cy="664.1" r="3.0"/><circle cx="428.7" cy="555.7" r="3.0"/><circle cx="428.6" cy="521.7" r="3.0"/><circle cx="414.1" cy="639.4" r="3.0"/><circle cx="429.4" cy="663.9" r="3.0"/><circle cx="418.8" cy="508.8" r="3.0"/><circle cx="433.9" cy="541.7" r="3.0"/><circle cx="416.1" cy="598.3" r="3.0"/><circle cx="436.4" cy="621.2" r="3.0"/><circle cx="421.1" cy="576.5" r="3.0"/><circle cx="426.6" cy="596.1" r="3.0"/><circle cx="431.4" cy="635.2" r="3.0"/><circle cx="425.2" cy="591.7" r="3.0"/><circle cx="414.8" cy="522.5" r="3.0"/><circle cx="443.7" cy="512.5" r="3.0"/><circle cx="408.3" cy="671.2" r="3.0"/><circle cx="417.5" cy="655.1" r="3.0"/><circle cx="426.5" cy="686.7" r="3.0"/><circle cx="405.6" cy="607.5" r="3.0"/><circle cx="410.7" cy="649.3" r="3.0"/><circle cx="436.5" cy="628.7" r="3.0"/><circle cx="435.8" cy="539.3" r="3.0"/><circle cx="430.0" cy="614.1" r="3.0"/><circle cx="440.6" cy="555.3" r="3.0"/><circle cx="434.7" cy="654.1" r="3.0"/><circle cx="416.4" cy="520.8" r="3.0"/><circle cx="430.3" cy="584.1" r="3.0"/><circle cx="418.1" cy="580.6" r="3.0"/><circle cx="434.5" cy="613.4" r="3.0"/><circle cx="419.9" cy="527.5" r="3.0"/><circle cx="410.6" cy="580.8" r="3.0"/><circle cx="439.6" cy="637.8" r="3.0"/><circle cx="432.1" cy="535.0" r="3.0"/><circle cx="434.3" cy="680.0" r="3.0"/><circle cx="426.9" cy="630.5" r="3.0"/><circle cx="435.8" cy="600.1" r="3.0"/><circle cx="422.4" cy="655.6" r="3.0"/><circle cx="427.1" cy="553.2" r="3.0"/><circle cx="407.0" cy="611.9" r="3.0"/><circle cx="426.7" cy="598.9" r="3.0"/><circle cx="437.1" cy="576.2" r="3.0"/><circle cx="432.7" cy="580.3" r="3.0"/><circle cx="436.6" cy="669.8" r="3.0"/><circle cx="424.3" cy="605.3" r="3.0"/><circle cx="439.8" cy="659.4" r="3.0"/><circle cx="408.8" cy="595.9" r="3.0"/><circle cx="439.5" cy="575.3" r="3.0"/><circle cx="419.3" cy="560.6" r="3.0"/><circle cx="408.1" cy="646.0" r="3.0"/><circle cx="429.3" cy="575.2" r="3.0"/><circle cx="422.7" cy="576.5" r="3.0"/><circle cx="421.6" cy="613.2" r="3.0"/><circle cx="438.6" cy="589.5" r="3.0"/><circle cx="410.0" cy="632.3" r="3.0"/><circle cx="429.2" cy="665.5" r="3.0"/><circle cx="421.0" cy="606.7" r="3.0"/><circle cx="425.6" cy="646.6" r="3.0"/><circle cx="424.5" cy="507.0" r="3.0"/><circle cx="409.8" cy="636.3" r="3.0"/><circle cx="425.0" cy="638.5" r="3.0"/><circle cx="439.0" cy="645.1" r="3.0"/><circle cx="411.3" cy="541.1" r="3.0"/><circle cx="404.9" cy="553.6" r="3.0"/><circle cx="407.2" cy="614.7" r="3.0"/><circle cx="422.9" cy="575.3" r="3.0"/><circle cx="443.5" cy="697.7" r="3.0"/><circle cx="406.2" cy="662.9" r="3.0"/><circle cx="444.1" cy="569.4" r="3.0"/><circle cx="425.9" cy="547.4" r="3.0"/><circle cx="409.3" cy="672.5" r="3.0"/><circle cx="421.2" cy="560.6" r="3.0"/><circle cx="412.8" cy="572.4" r="3.0"/><circle cx="433.1" cy="571.1" r="3.0"/><circle cx="426.1" cy="512.1" r="3.0"/><circle cx="416.0" cy="624.4" r="3.0"/><circle cx="414.7" cy="526.5" r="3.0"/><circle cx="439.2" cy="589.3" r="3.0"/><circle cx="435.1" cy="637.0" r="3.0"/><circle cx="421.9" cy="661.7" r="3.0"/><circle cx="420.7" cy="577.9" r="3.0"/><circle cx="434.0" cy="647.8" r="3.0"/><circle cx="443.3" cy="635.8" r="3.0"/><circle cx="407.7" cy="685.1" r="3.0"/><circle cx="410.8" cy="510.5" r="3.0"/><circle cx="419.0" cy="510.9" r="3.0"/><circle cx="424.8" cy="543.9" r="3.0"/><circle cx="407.3" cy="654.2" r="3.0"/><circle cx="406.6" cy="575.4" r="3.0"/><circle cx="413.3" cy="593.7" r="3.0"/><circle cx="419.9" cy="624.8" r="3.0"/><circle cx="434.1" cy="610.7" r="3.0"/><circle cx="428.9" cy="607.1" r="3.0"/><circle cx="405.6" cy="564.6" r="3.0"/><circle cx="406.3" cy="657.3" r="3.0"/><circle cx="422.6" cy="581.5" r="3.0"/><circle cx="439.5" cy="644.1" r="3.0"/><circle cx="441.1" cy="664.0" r="3.0"/><circle cx="419.1" cy="557.1" r="3.0"/><circle cx="440.0" cy="577.1" r="3.0"/><circle cx="441.7" cy="680.9" r="3.0"/><circle cx="420.7" cy="538.3" r="3.0"/><circle cx="434.3" cy="526.4" r="3.0"/><circle cx="419.1" cy="500.2" r="3.0"/><circle cx="410.6" cy="591.0" r="3.0"/><circle cx="427.5" cy="590.4" r="3.0"/><circle cx="407.9" cy="561.4" r="3.0"/><circle cx="431.0" cy="687.3" r="3.0"/><circle cx="436.9" cy="676.3" r="3.0"/><circle cx="441.1" cy="651.7" r="3.0"/><circle cx="462.4" cy="669.6" r="3.0"/><circle cx="449.2" cy="679.4" r="3.0"/><circle cx="480.6" cy="634.7" r="3.0"/><circle cx="479.3" cy="684.7" r="3.0"/><circle cx="483.2" cy="672.0" r="3.0"/><circle cx="468.3" cy="552.3" r="3.0"/><circle cx="471.5" cy="633.1" r="3.0"/><circle cx="459.4" cy="499.5" r="3.0"/><circle cx="451.8" cy="602.6" r="3.0"/><circle cx="456.2" cy="509.8" r="3.0"/><circle cx="473.3" cy="531.4" r="3.0"/><circle cx="457.5" cy="671.7" r="3.0"/><circle cx="472.2" cy="538.4" r="3.0"/><circle cx="464.6" cy="582.6" r="3.0"/><circle cx="462.5" cy="634.0" r="3.0"/><circle cx="483.2" cy="619.0" r="3.0"/><circle cx="451.1" cy="596.3" r="3.0"/><circle cx="464.0" cy="583.3" r="3.0"/><circle cx="450.9" cy="544.5" r="3.0"/><circle cx="482.0" cy="632.0" r="3.0"/><circle cx="464.1" cy="654.9" r="3.0"/><circle cx="457.8" cy="529.9" r="3.0"/><circle cx="451.2" cy="508.2" r="3.0"/><circle cx="468.3" cy="521.7" r="3.0"/><circle cx="460.5" cy="602.2" r="3.0"/><circle cx="449.6" cy="601.2" r="3.0"/><circle cx="445.8" cy="602.2" r="3.0"/><circle cx="460.2" cy="695.0" r="3.0"/><circle cx="467.8" cy="534.6" r="3.0"/><circle cx="465.3" cy="700.9" r="3.0"/><circle cx="480.5" cy="695.0" r="3.0"/><circle cx="481.0" cy="506.0" r="3.0"/><circle cx="482.0" cy="530.1" r="3.0"/><circle cx="476.5" cy="624.3" r="3.0"/><circle cx="463.6" cy="594.8" r="3.0"/><circle cx="465.5" cy="668.8" r="3.0"/><circle cx="460.4" cy="586.8" r="3.0"/><circle cx="460.5" cy="649.8" r="3.0"/><circle cx="446.2" cy="537.0" r="3.0"/><circle cx="476.5" cy="698.0" r="3.0"/><circle cx="454.3" cy="616.6" r="3.0"/><circle cx="445.7" cy="561.6" r="3.0"/><circle cx="463.2" cy="665.8" r="3.0"/><circle cx="473.2" cy="682.0" r="3.0"/><circle cx="462.0" cy="588.5" r="3.0"/><circle cx="459.1" cy="654.3" r="3.0"/><circle cx="470.9" cy="573.4" r="3.0"/><circle cx="451.0" cy="637.0" r="3.0"/><circle cx="445.0" cy="632.9" r="3.0"/><circle cx="468.2" cy="557.4" r="3.0"/><circle cx="465.7" cy="538.7" r="3.0"/><circle cx="479.2" cy="509.8" r="3.0"/><circle cx="461.1" cy="606.5" r="3.0"/><circle cx="476.0" cy="634.0" r="3.0"/><circle cx="445.2" cy="564.7" r="3.0"/><circle cx="445.6" cy="609.3" r="3.0"/><circle cx="468.5" cy="636.0" r="3.0"/><circle cx="453.6" cy="518.8" r="3.0"/><circle cx="447.2" cy="629.7" r="3.0"/><circle cx="449.6" cy="656.2" r="3.0"/><circle cx="459.5" cy="643.8" r="3.0"/><circle cx="458.0" cy="560.7" r="3.0"/><circle cx="467.1" cy="664.2" r="3.0"/><circle cx="480.0" cy="608.9" r="3.0"/><circle cx="459.1" cy="654.4" r="3.0"/><circle cx="451.9" cy="655.9" r="3.0"/><circle cx="467.6" cy="675.1" r="3.0"/><circle cx="444.6" cy="641.2" r="3.0"/><circle cx="459.9" cy="554.4" r="3.0"/><circle cx="457.2" cy="570.8" r="3.0"/><circle cx="460.0" cy="686.8" r="3.0"/><circle cx="446.5" cy="568.5" r="3.0"/><circle cx="466.7" cy="654.1" r="3.0"/><circle cx="469.5" cy="687.7" r="3.0"/><circle cx="474.5" cy="678.4" r="3.0"/><circle cx="482.8" cy="547.8" r="3.0"/><circle cx="458.7" cy="624.5" r="3.0"/><circle cx="470.8" cy="624.3" r="3.0"/><circle cx="462.2" cy="629.9" r="3.0"/><circle cx="453.1" cy="538.7" r="3.0"/><circle cx="480.1" cy="629.1" r="3.0"/><circle cx="474.4" cy="583.8" r="3.0"/><circle cx="482.2" cy="559.9" r="3.0"/><circle cx="477.4" cy="521.2" r="3.0"/><circle cx="481.2" cy="638.5" r="3.0"/><circle cx="449.6" cy="540.4" r="3.0"/><circle cx="445.1" cy="566.0" r="3.0"/><circle cx="452.4" cy="530.5" r="3.0"/><circle cx="461.0" cy="660.5" r="3.0"/><circle cx="472.0" cy="599.5" r="3.0"/><circle cx="462.0" cy="589.8" r="3.0"/><circle cx="465.0" cy="620.5" r="3.0"/><circle cx="475.0" cy="577.0" r="3.0"/><circle cx="447.3" cy="699.4" r="3.0"/><circle cx="471.6" cy="567.8" r="3.0"/><circle cx="446.5" cy="516.3" r="3.0"/><circle cx="454.5" cy="577.6" r="3.0"/><circle cx="473.4" cy="596.5" r="3.0"/><circle cx="471.8" cy="574.4" r="3.0"/><circle cx="460.7" cy="631.3" r="3.0"/><circle cx="456.3" cy="638.4" r="3.0"/><circle cx="477.6" cy="633.3" r="3.0"/><circle cx="455.5" cy="679.4" r="3.0"/><circle cx="445.7" cy="557.1" r="3.0"/><circle cx="454.4" cy="595.2" r="3.0"/><circle cx="445.3" cy="549.4" r="3.0"/><circle cx="476.9" cy="640.3" r="3.0"/><circle cx="449.4" cy="550.9" r="3.0"/><circle cx="483.5" cy="591.8" r="3.0"/><circle cx="453.0" cy="581.6" r="3.0"/><circle cx="456.8" cy="626.0" r="3.0"/><circle cx="467.9" cy="526.0" r="3.0"/><circle cx="456.8" cy="676.9" r="3.0"/><circle cx="459.7" cy="582.9" r="3.0"/><circle cx="448.7" cy="550.3" r="3.0"/><circle cx="460.1" cy="608.0" r="3.0"/><circle cx="445.5" cy="645.3" r="3.0"/><circle cx="453.5" cy="577.8" r="3.0"/><circle cx="480.9" cy="683.1" r="3.0"/><circle cx="455.7" cy="571.5" r="3.0"/><circle cx="455.3" cy="687.4" r="3.0"/><circle cx="471.7" cy="657.9" r="3.0"/><circle cx="479.8" cy="529.8" r="3.0"/><circle cx="456.3" cy="524.8" r="3.0"/><circle cx="459.6" cy="539.9" r="3.0"/><circle cx="473.1" cy="575.0" r="3.0"/><circle cx="476.2" cy="528.8" r="3.0"/><circle cx="469.1" cy="531.3" r="3.0"/><circle cx="451.7" cy="515.2" r="3.0"/><circle cx="451.7" cy="548.5" r="3.0"/><circle cx="474.8" cy="668.4" r="3.0"/><circle cx="472.8" cy="632.3" r="3.0"/><circle cx="480.4" cy="574.0" r="3.0"/><circle cx="475.7" cy="529.0" r="3.0"/><circle cx="461.4" cy="656.2" r="3.0"/><circle cx="449.8" cy="537.7" r="3.0"/><circle cx="480.1" cy="502.4" r="3.0"/><circle cx="472.3" cy="660.6" r="3.0"/><circle cx="467.6" cy="548.1" r="3.0"/><circle cx="471.8" cy="651.9" r="3.0"/><circle cx="499.9" cy="581.5" r="3.0"/><circle cx="498.3" cy="566.5" r="3.0"/><circle cx="507.6" cy="569.7" r="3.0"/><circle cx="503.8" cy="562.0" r="3.0"/><circle cx="512.9" cy="670.1" r="3.0"/><circle cx="522.0" cy="666.1" r="3.0"/><circle cx="518.4" cy="661.8" r="3.0"/><circle cx="500.0" cy="663.2" r="3.0"/><circle cx="499.4" cy="602.5" r="3.0"/><circle cx="521.6" cy="617.4" r="3.0"/><circle cx="500.3" cy="604.6" r="3.0"/><circle cx="516.6" cy="549.5" r="3.0"/><circle cx="488.2" cy="528.4" r="3.0"/><circle cx="502.6" cy="605.7" r="3.0"/><circle cx="505.2" cy="616.7" r="3.0"/><circle cx="516.9" cy="657.8" r="3.0"/><circle cx="519.7" cy="692.7" r="3.0"/><circle cx="490.6" cy="556.2" r="3.0"/><circle cx="509.2" cy="636.4" r="3.0"/><circle cx="509.7" cy="686.2" r="3.0"/><circle cx="490.6" cy="689.1" r="3.0"/><circle cx="517.9" cy="642.2" r="3.0"/><circle cx="506.7" cy="590.2" r="3.0"/><circle cx="523.0" cy="661.3" r="3.0"/><circle cx="492.0" cy="645.6" r="3.0"/><circle cx="505.5" cy="569.6" r="3.0"/><circle cx="497.5" cy="620.2" r="3.0"/><circle cx="510.2" cy="535.3" r="3.0"/><circle cx="508.9" cy="586.4" r="3.0"/><circle cx="505.0" cy="695.4" r="3.0"/><circle cx="497.5" cy="564.2" r="3.0"/><circle cx="504.7" cy="664.7" r="3.0"/><circle cx="499.4" cy="648.7" r="3.0"/><circle cx="520.2" cy="647.9" r="3.0"/><circle cx="503.0" cy="688.1" r="3.0"/><circle cx="503.5" cy="603.6" r="3.0"/><circle cx="494.9" cy="533.5" r="3.0"/><circle cx="494.7" cy="669.4" r="3.0"/><circle cx="522.7" cy="578.7" r="3.0"/><circle cx="497.1" cy="639.2" r="3.0"/><circle cx="519.3" cy="631.1" r="3.0"/><circle cx="508.3" cy="547.4" r="3.0"/><circle cx="523.8" cy="649.3" r="3.0"/><circle cx="491.1" cy="580.8" r="3.0"/><circle cx="522.2" cy="615.4" r="3.0"/><circle cx="515.4" cy="632.0" r="3.0"/><circle cx="507.3" cy="670.0" r="3.0"/><circle cx="512.9" cy="609.4" r="3.0"/><circle cx="513.4" cy="588.6" r="3.0"/><circle cx="502.5" cy="617.9" r="3.0"/><circle cx="509.9" cy="671.3" r="3.0"/><circle cx="493.7" cy="568.4" r="3.0"/><circle cx="485.4" cy="572.1" r="3.0"/><circle cx="511.6" cy="627.8" r="3.0"/><circle cx="503.5" cy="565.6" r="3.0"/><circle cx="520.8" cy="676.2" r="3.0"/><circle cx="495.1" cy="654.5" r="3.0"/><circle cx="517.3" cy="618.6" r="3.0"/><circle cx="524.0" cy="649.6" r="3.0"/><circle cx="520.5" cy="638.4" r="3.0"/><circle cx="523.1" cy="604.5" r="3.0"/><circle cx="490.9" cy="653.6" r="3.0"/><circle cx="491.1" cy="625.6" r="3.0"/><circle cx="493.7" cy="671.6" r="3.0"/><circle cx="499.0" cy="660.9" r="3.0"/><circle cx="489.1" cy="671.8" r="3.0"/><circle cx="490.6" cy="664.1" r="3.0"/><circle cx="485.3" cy="667.4" r="3.0"/><circle cx="521.9" cy="648.5" r="3.0"/><circle cx="499.0" cy="639.6" r="3.0"/><circle cx="509.6" cy="512.6" r="3.0"/><circle cx="502.7" cy="635.8" r="3.0"/><circle cx="514.3" cy="636.1" r="3.0"/><circle cx="516.8" cy="619.6" r="3.0"/><circle cx="499.9" cy="678.0" r="3.0"/><circle cx="506.0" cy="589.0" r="3.0"/><circle cx="488.4" cy="663.9" r="3.0"/><circle cx="496.0" cy="663.9" r="3.0"/><circle cx="493.4" cy="556.3" r="3.0"/><circle cx="496.9" cy="630.7" r="3.0"/><circle cx="497.5" cy="613.1" r="3.0"/><circle cx="507.5" cy="619.8" r="3.0"/><circle cx="497.8" cy="640.0" r="3.0"/><circle cx="497.6" cy="538.9" r="3.0"/><circle cx="517.8" cy="537.8" r="3.0"/><circle cx="485.0" cy="619.2" r="3.0"/><circle cx="484.7" cy="658.9" r="3.0"/><circle cx="486.8" cy="622.9" r="3.0"/><circle cx="519.2" cy="576.7" r="3.0"/><circle cx="509.9" cy="694.5" r="3.0"/><circle cx="513.7" cy="646.1" r="3.0"/><circle cx="522.9" cy="568.1" r="3.0"/><circle cx="493.3" cy="576.4" r="3.0"/><circle cx="521.3" cy="549.9" r="3.0"/><circle cx="494.2" cy="658.0" r="3.0"/><circle cx="505.3" cy="550.1" r="3.0"/><circle cx="511.8" cy="644.9" r="3.0"/><circle cx="516.4" cy="548.3" r="3.0"/><circle cx="494.5" cy="595.2" r="3.0"/><circle cx="503.6" cy="573.9" r="3.0"/><circle cx="486.3" cy="652.9" r="3.0"/><circle cx="496.0" cy="593.2" r="3.0"/><circle cx="523.8" cy="656.6" r="3.0"/><circle cx="520.8" cy="557.4" r="3.0"/><circle cx="507.8" cy="622.6" r="3.0"/><circle cx="516.0" cy="580.2" r="3.0"/><circle cx="520.6" cy="616.3" r="3.0"/><circle cx="497.8" cy="521.2" r="3.0"/><circle cx="523.8" cy="640.1" r="3.0"/><circle cx="502.5" cy="543.2" r="3.0"/><circle cx="490.9" cy="662.0" r="3.0"/><circle cx="505.7" cy="633.2" r="3.0"/><circle cx="508.3" cy="555.3" r="3.0"/><circle cx="512.3" cy="656.4" r="3.0"/><circle cx="511.4" cy="640.8" r="3.0"/><circle cx="486.2" cy="513.9" r="3.0"/><circle cx="510.1" cy="539.7" r="3.0"/><circle cx="521.4" cy="551.5" r="3.0"/><circle cx="511.3" cy="533.0" r="3.0"/><circle cx="523.6" cy="696.7" r="3.0"/><circle cx="505.0" cy="640.0" r="3.0"/><circle cx="517.0" cy="697.4" r="3.0"/><circle cx="490.1" cy="539.2" r="3.0"/><circle cx="520.4" cy="580.3" r="3.0"/><circle cx="502.0" cy="653.3" r="3.0"/><circle cx="519.6" cy="582.6" r="3.0"/><circle cx="497.4" cy="652.4" r="3.0"/><circle cx="509.5" cy="635.8" r="3.0"/><circle cx="518.4" cy="570.0" r="3.0"/><circle cx="513.0" cy="667.1" r="3.0"/><circle cx="509.3" cy="599.2" r="3.0"/><circle cx="523.4" cy="621.3" r="3.0"/><circle cx="488.0" cy="645.8" r="3.0"/><circle cx="488.6" cy="592.5" r="3.0"/><circle cx="506.6" cy="588.6" r="3.0"/><circle cx="522.7" cy="691.3" r="3.0"/><circle cx="512.0" cy="567.2" r="3.0"/><circle cx="496.9" cy="528.2" r="3.0"/><circle cx="488.8" cy="672.3" r="3.0"/><circle cx="502.5" cy="622.0" r="3.0"/><circle cx="503.7" cy="668.5" r="3.0"/><circle cx="503.3" cy="654.2" r="3.0"/><circle cx="549.3" cy="656.2" r="3.0"/><circle cx="535.5" cy="686.6" r="3.0"/><circle cx="559.8" cy="588.5" r="3.0"/><circle cx="536.1" cy="564.0" r="3.0"/><circle cx="528.8" cy="628.9" r="3.0"/><circle cx="538.5" cy="518.3" r="3.0"/><circle cx="562.0" cy="589.6" r="3.0"/><circle cx="530.9" cy="678.6" r="3.0"/><circle cx="535.7" cy="692.4" r="3.0"/><circle cx="561.6" cy="629.0" r="3.0"/><circle cx="538.5" cy="629.2" r="3.0"/><circle cx="558.3" cy="589.4" r="3.0"/><circle cx="526.4" cy="641.9" r="3.0"/><circle cx="560.1" cy="617.8" r="3.0"/><circle cx="534.0" cy="678.2" r="3.0"/><circle cx="531.8" cy="662.6" r="3.0"/><circle cx="554.3" cy="555.5" r="3.0"/><circle cx="564.2" cy="681.4" r="3.0"/><circle cx="562.9" cy="537.3" r="3.0"/><circle cx="554.7" cy="628.2" r="3.0"/><circle cx="561.1" cy="537.2" r="3.0"/><circle cx="564.1" cy="536.2" r="3.0"/><circle cx="546.7" cy="591.8" r="3.0"/><circle cx="530.3" cy="560.2" r="3.0"/><circle cx="558.5" cy="551.0" r="3.0"/><circle cx="540.4" cy="547.4" r="3.0"/><circle cx="537.1" cy="663.5" r="3.0"/><circle cx="544.6" cy="676.8" r="3.0"/><circle cx="525.9" cy="687.3" r="3.0"/><circle cx="525.3" cy="639.4" r="3.0"/><circle cx="535.1" cy="671.8" r="3.0"/><circle cx="548.4" cy="602.5" r="3.0"/><circle cx="554.5" cy="594.8" r="3.0"/><circle cx="562.9" cy="586.0" r="3.0"/><circle cx="557.3" cy="662.4" r="3.0"/><circle cx="562.2" cy="677.3" r="3.0"/><circle cx="550.0" cy="549.7" r="3.0"/><circle cx="553.9" cy="557.2" r="3.0"/><circle cx="548.1" cy="667.4" r="3.0"/><circle cx="527.8" cy="619.5" r="3.0"/><circle cx="527.0" cy="665.5" r="3.0"/><circle cx="555.0" cy="583.7" r="3.0"/><circle cx="532.6" cy="697.2" r="3.0"/><circle cx="556.2" cy="685.8" r="3.0"/><circle cx="543.1" cy="544.3" r="3.0"/><circle cx="524.8" cy="528.8" r="3.0"/><circle cx="547.0" cy="643.0" r="3.0"/><circle cx="542.3" cy="544.6" r="3.0"/><circle cx="527.5" cy="591.9" r="3.0"/><circle cx="535.0" cy="576.8" r="3.0"/><circle cx="536.8" cy="564.3" r="3.0"/><circle cx="538.4" cy="626.6" r="3.0"/><circle cx="552.8" cy="633.0" r="3.0"/><circle cx="531.2" cy="671.3" r="3.0"/><circle cx="542.3" cy="666.2" r="3.0"/><circle cx="548.8" cy="523.2" r="3.0"/><circle cx="562.4" cy="646.0" r="3.0"/><circle cx="529.2" cy="608.9" r="3.0"/><circle cx="527.7" cy="593.7" r="3.0"/><circle cx="532.2" cy="558.4" r="3.0"/><circle cx="533.4" cy="621.0" r="3.0"/><circle cx="531.1" cy="644.5" r="3.0"/><circle cx="527.6" cy="555.2" r="3.0"/><circle cx="532.9" cy="698.1" r="3.0"/><circle cx="533.5" cy="601.3" r="3.0"/><circle cx="543.7" cy="624.1" r="3.0"/><circle cx="550.5" cy="583.2" r="3.0"/><circle cx="539.1" cy="576.8" r="3.0"/><circle cx="531.3" cy="682.8" r="3.0"/><circle cx="528.3" cy="685.6" r="3.0"/><circle cx="535.1" cy="611.5" r="3.0"/><circle cx="531.4" cy="581.7" r="3.0"/><circle cx="543.8" cy="645.1" r="3.0"/><circle cx="559.4" cy="673.4" r="3.0"/><circle cx="553.2" cy="630.5" r="3.0"/><circle cx="532.7" cy="571.6" r="3.0"/><circle cx="526.0" cy="651.4" r="3.0"/><circle cx="527.3" cy="601.2" r="3.0"/><circle cx="542.0" cy="649.2" r="3.0"/><circle cx="539.1" cy="626.6" r="3.0"/><circle cx="551.9" cy="591.5" r="3.0"/><circle cx="527.9" cy="570.9" r="3.0"/><circle cx="534.7" cy="683.1" r="3.0"/><circle cx="552.0" cy="534.1" r="3.0"/><circle cx="547.3" cy="606.3" r="3.0"/><circle cx="545.2" cy="527.8" r="3.0"/><circle cx="560.6" cy="648.8" r="3.0"/><circle cx="529.1" cy="575.4" r="3.0"/><circle cx="532.4" cy="590.9" r="3.0"/><circle cx="547.2" cy="602.6" r="3.0"/><circle cx="547.2" cy="637.8" r="3.0"/><circle cx="563.8" cy="598.6" r="3.0"/><circle cx="563.7" cy="575.4" r="3.0"/><circle cx="548.1" cy="587.3" r="3.0"/><circle cx="554.9" cy="637.1" r="3.0"/><circle cx="552.5" cy="555.8" r="3.0"/><circle cx="529.9" cy="602.0" r="3.0"/><circle cx="548.7" cy="581.1" r="3.0"/><circle cx="536.8" cy="688.4" r="3.0"/><circle cx="538.9" cy="624.9" r="3.0"/><circle cx="530.8" cy="652.6" r="3.0"/><circle cx="524.9" cy="619.7" r="3.0"/><circle cx="558.7" cy="667.9" r="3.0"/><circle cx="553.3" cy="573.7" r="3.0"/><circle cx="554.7" cy="523.1" r="3.0"/><circle cx="536.1" cy="636.3" r="3.0"/><circle cx="541.3" cy="675.5" r="3.0"/><circle cx="531.6" cy="594.3" r="3.0"/><circle cx="548.7" cy="679.0" r="3.0"/><circle cx="558.1" cy="694.8" r="3.0"/><circle cx="555.7" cy="603.7" r="3.0"/><circle cx="561.9" cy="660.9" r="3.0"/><circle cx="535.0" cy="661.9" r="3.0"/><circle cx="552.6" cy="616.1" r="3.0"/><circle cx="529.6" cy="685.6" r="3.0"/><circle cx="546.0" cy="618.1" r="3.0"/><circle cx="529.0" cy="596.4" r="3.0"/><circle cx="546.2" cy="566.4" r="3.0"/><circle cx="584.1" cy="530.8" r="3.0"/><circle cx="577.1" cy="587.6" r="3.0"/><circle cx="577.2" cy="590.1" r="3.0"/><circle cx="590.2" cy="616.6" r="3.0"/><circle cx="581.9" cy="604.7" r="3.0"/><circle cx="579.3" cy="647.6" r="3.0"/><circle cx="568.6" cy="649.3" r="3.0"/><circle cx="574.7" cy="607.3" r="3.0"/><circle cx="595.1" cy="606.5" r="3.0"/><circle cx="599.6" cy="671.9" r="3.0"/><circle cx="578.0" cy="622.8" r="3.0"/><circle cx="595.9" cy="596.4" r="3.0"/><circle cx="596.0" cy="680.5" r="3.0"/><circle cx="572.4" cy="690.9" r="3.0"/><circle cx="574.4" cy="557.3" r="3.0"/><circle cx="589.6" cy="649.2" r="3.0"/><circle cx="575.6" cy="681.0" r="3.0"/><circle cx="599.0" cy="665.7" r="3.0"/><circle cx="577.7" cy="689.7" r="3.0"/><circle cx="590.9" cy="670.8" r="3.0"/><circle cx="590.1" cy="556.6" r="3.0"/><circle cx="572.3" cy="621.6" r="3.0"/><circle cx="595.8" cy="671.3" r="3.0"/><circle cx="576.4" cy="642.9" r="3.0"/><circle cx="568.5" cy="686.8" r="3.0"/><circle cx="566.4" cy="649.5" r="3.0"/><circle cx="580.9" cy="564.8" r="3.0"/><circle cx="587.4" cy="644.2" r="3.0"/><circle cx="574.4" cy="695.6" r="3.0"/><circle cx="594.9" cy="562.7" r="3.0"/><circle cx="574.2" cy="549.7" r="3.0"/><circle cx="595.1" cy="582.9" r="3.0"/><circle cx="565.8" cy="633.5" r="3.0"/><circle cx="574.0" cy="663.2" r="3.0"/><circle cx="570.3" cy="651.1" r="3.0"/><circle cx="580.7" cy="698.9" r="3.0"/><circle cx="577.2" cy="627.8" r="3.0"/><circle cx="578.8" cy="584.9" r="3.0"/><circle cx="595.2" cy="673.5" r="3.0"/><circle cx="585.5" cy="680.5" r="3.0"/><circle cx="586.4" cy="679.3" r="3.0"/><circle cx="578.6" cy="595.8" r="3.0"/><circle cx="593.7" cy="663.5" r="3.0"/><circle cx="582.7" cy="638.7" r="3.0"/><circle cx="591.4" cy="645.6" r="3.0"/><circle cx="597.5" cy="619.0" r="3.0"/><circle cx="586.6" cy="572.7" r="3.0"/><circle cx="580.3" cy="605.4" r="3.0"/><circle cx="574.1" cy="577.7" r="3.0"/><circle cx="597.4" cy="649.5" r="3.0"/><circle cx="592.1" cy="670.2" r="3.0"/><circle cx="593.4" cy="671.8" r="3.0"/><circle cx="572.6" cy="572.6" r="3.0"/><circle cx="580.3" cy="560.0" r="3.0"/><circle cx="596.4" cy="700.0" r="3.0"/><circle cx="573.4" cy="641.3" r="3.0"/><circle cx="593.9" cy="641.5" r="3.0"/><circle cx="584.0" cy="700.9" r="3.0"/><circle cx="572.5" cy="619.4" r="3.0"/><circle cx="578.1" cy="618.8" r="3.0"/><circle cx="567.3" cy="688.5" r="3.0"/><circle cx="588.8" cy="594.0" r="3.0"/><circle cx="590.8" cy="679.7" r="3.0"/><circle cx="565.6" cy="625.4" r="3.0"/><circle cx="575.4" cy="626.9" r="3.0"/><circle cx="592.3" cy="675.8" r="3.0"/><circle cx="571.8" cy="591.3" r="3.0"/><circle cx="583.9" cy="640.3" r="3.0"/><circle cx="593.6" cy="554.5" r="3.0"/><circle cx="585.1" cy="543.7" r="3.0"/><circle cx="569.0" cy="564.7" r="3.0"/><circle cx="597.3" cy="599.2" r="3.0"/><circle cx="591.5" cy="669.4" r="3.0"/><circle cx="584.9" cy="670.1" r="3.0"/><circle cx="576.6" cy="665.8" r="3.0"/><circle cx="585.6" cy="645.2" r="3.0"/><circle cx="578.7" cy="504.7" r="3.0"/><circle cx="568.9" cy="610.4" r="3.0"/><circle cx="569.0" cy="603.4" r="3.0"/><circle cx="566.2" cy="674.1" r="3.0"/><circle cx="570.7" cy="683.3" r="3.0"/><circle cx="573.4" cy="615.4" r="3.0"/><circle cx="587.5" cy="609.8" r="3.0"/><circle cx="585.5" cy="607.0" r="3.0"/><circle cx="509.1" cy="655.1" r="3.0"/><circle cx="444.3" cy="635.8" r="3.0"/><circle cx="584.5" cy="652.2" r="3.0"/><circle cx="533.7" cy="627.7" r="3.0"/><circle cx="535.6" cy="558.9" r="3.0"/><circle cx="521.2" cy="590.5" r="3.0"/><circle cx="404.7" cy="675.0" r="3.0"/><circle cx="510.5" cy="547.8" r="3.0"/><circle cx="543.1" cy="593.0" r="3.0"/><circle cx="532.4" cy="573.9" r="3.0"/><circle cx="445.8" cy="570.2" r="3.0"/><circle cx="495.7" cy="558.8" r="3.0"/><circle cx="543.5" cy="579.2" r="3.0"/><circle cx="577.7" cy="651.5" r="3.0"/><circle cx="448.6" cy="583.4" r="3.0"/><circle cx="514.5" cy="594.6" r="3.0"/><circle cx="417.7" cy="630.4" r="3.0"/><circle cx="438.2" cy="565.9" r="3.0"/><circle cx="477.3" cy="688.2" r="3.0"/><circle cx="407.7" cy="617.9" r="3.0"/><circle cx="472.6" cy="563.8" r="3.0"/><circle cx="571.8" cy="614.0" r="3.0"/><circle cx="462.5" cy="635.4" r="3.0"/><circle cx="433.5" cy="674.5" r="3.0"/><circle cx="424.5" cy="662.8" r="3.0"/><circle cx="510.6" cy="652.1" r="3.0"/><circle cx="481.8" cy="548.3" r="3.0"/><circle cx="524.8" cy="611.7" r="3.0"/><circle cx="481.7" cy="646.1" r="3.0"/><circle cx="505.7" cy="563.4" r="3.0"/><circle cx="482.3" cy="602.8" r="3.0"/><circle cx="459.9" cy="647.9" r="3.0"/><circle cx="406.4" cy="596.6" r="3.0"/><circle cx="458.8" cy="686.2" r="3.0"/><circle cx="547.0" cy="615.5" r="3.0"/><circle cx="470.7" cy="614.9" r="3.0"/><circle cx="552.8" cy="680.1" r="3.0"/><circle cx="412.5" cy="595.8" r="3.0"/><circle cx="539.6" cy="686.6" r="3.0"/><circle cx="563.0" cy="662.2" r="3.0"/><circle cx="246.0" cy="221.7" r="3.0"/><circle cx="445.8" cy="212.4" r="3.0"/><circle cx="599.9" cy="309.5" r="3.0"/><circle cx="630.1" cy="338.0" r="3.0"/><circle cx="434.7" cy="338.2" r="3.0"/><circle cx="391.4" cy="350.1" r="3.0"/><circle cx="589.7" cy="350.0" r="3.0"/><circle cx="345.3" cy="373.7" r="3.0"/><circle cx="352.1" cy="376.2" r="3.0"/><circle cx="348.6" cy="388.1" r="3.0"/><circle cx="502.5" cy="385.5" r="3.0"/><circle cx="559.3" cy="392.8" r="3.0"/><circle cx="289.8" cy="399.9" r="3.0"/><circle cx="192.5" cy="411.8" r="3.0"/><circle cx="474.6" cy="406.9" r="3.0"/><circle cx="504.9" cy="404.8" r="3.0"/><circle cx="365.7" cy="414.1" r="3.0"/><circle cx="336.9" cy="419.0" r="3.0"/><circle cx="252.5" cy="433.2" r="3.0"/><circle cx="294.7" cy="437.9" r="3.0"/><circle cx="384.6" cy="430.9" r="3.0"/><circle cx="414.7" cy="433.2" r="3.0"/><circle cx="460.0" cy="428.3" r="3.0"/><circle cx="486.7" cy="428.3" r="3.0"/><circle cx="516.6" cy="433.4" r="3.0"/><circle cx="539.0" cy="437.8" r="3.0"/><circle cx="610.1" cy="433.4" r="3.0"/><circle cx="312.8" cy="447.4" r="3.0"/><circle cx="369.0" cy="444.9" r="3.0"/><circle cx="402.3" cy="447.4" r="3.0"/><circle cx="437.1" cy="449.7" r="3.0"/><circle cx="467.8" cy="447.8" r="3.0"/><circle cx="467.8" cy="453.6" r="3.0"/><circle cx="481.8" cy="442.5" r="3.0"/><circle cx="485.9" cy="440.4" r="3.0"/><circle cx="603.7" cy="452.1" r="3.0"/><circle cx="301.5" cy="459.5" r="3.0"/><circle cx="341.6" cy="459.5" r="3.0"/><circle cx="371.1" cy="456.9" r="3.0"/><circle cx="380.7" cy="464.3" r="3.0"/><circle cx="229.7" cy="473.5" r="3.0"/><circle cx="284.9" cy="471.1" r="3.0"/><circle cx="316.5" cy="468.8" r="3.0"/><circle cx="337.5" cy="471.1" r="3.0"/><circle cx="400.7" cy="468.8" r="3.0"/><circle cx="406.9" cy="471.1" r="3.0"/><circle cx="525.4" cy="471.1" r="3.0"/><circle cx="439.6" cy="476.0" r="3.0"/><circle cx="359.3" cy="478.3" r="3.0"/><circle cx="371.1" cy="478.3" r="3.0"/><circle cx="391.0" cy="478.3" r="3.0"/><circle cx="407.5" cy="482.8" r="3.0"/><circle cx="274.8" cy="484.7" r="3.0"/><circle cx="397.8" cy="485.3" r="3.0"/><circle cx="463.0" cy="484.7" r="3.0"/><circle cx="467.8" cy="484.7" r="3.0"/><circle cx="451.3" cy="487.7" r="3.0"/><circle cx="453.2" cy="491.6" r="3.0"/><circle cx="364.7" cy="488.6" r="3.0"/><circle cx="485.3" cy="490.2" r="3.0"/><circle cx="425.0" cy="492.5" r="3.0"/><circle cx="159.1" cy="495.4" r="3.0"/><circle cx="206.1" cy="492.5" r="3.0"/><circle cx="358.9" cy="492.5" r="3.0"/><circle cx="365.7" cy="492.5" r="3.0"/><circle cx="442.5" cy="493.5" r="3.0"/><circle cx="557.7" cy="490.3" r="3.0"/><circle cx="529.4" cy="496.7" r="3.0"/><circle cx="574.3" cy="496.7" r="3.0"/><circle cx="615.3" cy="496.7" r="3.0"/><circle cx="654.0" cy="489.3" r="3.0"/><circle cx="859.6" cy="481.7" r="3.0"/><circle cx="250.8" cy="508.1" r="3.0"/><circle cx="270.8" cy="499.6" r="3.0"/><circle cx="288.8" cy="495.4" r="3.0"/><circle cx="291.0" cy="508.5" r="3.0"/><circle cx="296.0" cy="502.7" r="3.0"/><circle cx="197.1" cy="522.9" r="3.0"/><circle cx="246.1" cy="544.8" r="3.0"/><circle cx="273.8" cy="551.8" r="3.0"/><circle cx="289.0" cy="539.0" r="3.0"/><circle cx="290.3" cy="541.0" r="3.0"/><circle cx="293.5" cy="545.4" r="3.0"/><circle cx="295.2" cy="563.2" r="3.0"/><circle cx="216.4" cy="574.1" r="3.0"/><circle cx="198.2" cy="582.6" r="3.0"/><circle cx="248.0" cy="582.6" r="3.0"/><circle cx="251.2" cy="596.1" r="3.0"/><circle cx="260.4" cy="603.4" r="3.0"/><circle cx="271.5" cy="603.4" r="3.0"/><circle cx="288.0" cy="615.5" r="3.0"/><circle cx="267.8" cy="626.3" r="3.0"/><circle cx="290.7" cy="629.5" r="3.0"/><circle cx="294.8" cy="625.0" r="3.0"/><circle cx="298.6" cy="621.8" r="3.0"/><circle cx="211.7" cy="638.4" r="3.0"/><circle cx="260.8" cy="635.0" r="3.0"/><circle cx="261.7" cy="642.9" r="3.0"/><circle cx="263.8" cy="649.9" r="3.0"/><circle cx="277.2" cy="660.1" r="3.0"/><circle cx="298.6" cy="666.4" r="3.0"/><circle cx="298.6" cy="679.2" r="3.0"/><circle cx="298.6" cy="582.4" r="3.0"/><circle cx="296.0" cy="591.3" r="3.0"/><circle cx="612.2" cy="520.5" r="3.0"/><circle cx="605.2" cy="530.1" r="3.0"/><circle cx="662.3" cy="527.4" r="3.0"/><circle cx="657.7" cy="536.7" r="3.0"/><circle cx="614.3" cy="547.7" r="3.0"/><circle cx="668.5" cy="556.3" r="3.0"/><circle cx="672.1" cy="573.5" r="3.0"/><circle cx="711.1" cy="526.1" r="3.0"/><circle cx="732.5" cy="518.7" r="3.0"/><circle cx="748.0" cy="514.7" r="3.0"/><circle cx="713.8" cy="540.1" r="3.0"/><circle cx="753.8" cy="569.4" r="3.0"/><circle cx="606.6" cy="592.6" r="3.0"/><circle cx="612.2" cy="593.8" r="3.0"/><circle cx="624.3" cy="591.1" r="3.0"/><circle cx="626.9" cy="598.2" r="3.0"/><circle cx="604.4" cy="601.4" r="3.0"/><circle cx="653.7" cy="597.0" r="3.0"/><circle cx="710.1" cy="598.5" r="3.0"/><circle cx="611.0" cy="619.8" r="3.0"/><circle cx="622.1" cy="625.0" r="3.0"/><circle cx="639.7" cy="627.2" r="3.0"/><circle cx="642.0" cy="635.8" r="3.0"/><circle cx="644.6" cy="643.8" r="3.0"/><circle cx="624.3" cy="639.4" r="3.0"/><circle cx="629.4" cy="645.6" r="3.0"/><circle cx="664.0" cy="630.5" r="3.0"/><circle cx="670.4" cy="630.5" r="3.0"/><circle cx="677.6" cy="630.5" r="3.0"/><circle cx="665.2" cy="616.2" r="3.0"/><circle cx="679.9" cy="650.0" r="3.0"/><circle cx="675.8" cy="663.3" r="3.0"/><circle cx="667.7" cy="676.5" r="3.0"/><circle cx="672.9" cy="684.6" r="3.0"/><circle cx="677.6" cy="685.4" r="3.0"/><circle cx="647.5" cy="667.7" r="3.0"/><circle cx="656.7" cy="667.7" r="3.0"/><circle cx="703.0" cy="644.9" r="3.0"/><circle cx="718.5" cy="654.7" r="3.0"/><circle cx="744.0" cy="637.5" r="3.0"/><circle cx="751.9" cy="659.9" r="3.0"/><circle cx="770.5" cy="664.3" r="3.0"/><circle cx="820.4" cy="654.7" r="3.0"/><circle cx="703.0" cy="610.7" r="3.0"/><circle cx="749.4" cy="612.2" r="3.0"/><circle cx="619.9" cy="656.7" r="3.0"/><circle cx="632.4" cy="658.9" r="3.0"/><circle cx="605.9" cy="661.1" r="3.0"/><circle cx="608.8" cy="667.0" r="3.0"/><circle cx="602.2" cy="668.4" r="3.0"/><circle cx="623.6" cy="661.1" r="3.0"/><circle cx="626.5" cy="664.0" r="3.0"/><circle cx="620.6" cy="668.4" r="3.0"/><circle cx="617.7" cy="671.4" r="3.0"/><circle cx="609.6" cy="675.0" r="3.0"/><circle cx="614.7" cy="675.8" r="3.0"/><circle cx="615.5" cy="680.2" r="3.0"/><circle cx="614.7" cy="684.6" r="3.0"/><circle cx="617.4" cy="686.8" r="3.0"/><circle cx="608.5" cy="692.0" r="3.0"/><circle cx="630.2" cy="673.6" r="3.0"/><circle cx="635.3" cy="675.8" r="3.0"/><circle cx="635.3" cy="680.2" r="3.0"/><circle cx="639.5" cy="672.8" r="3.0"/><circle cx="616.0" cy="600.0" r="3.0"/><circle cx="632.0" cy="606.0" r="3.0"/><circle cx="648.0" cy="604.0" r="3.0"/><circle cx="660.0" cy="600.0" r="3.0"/><circle cx="676.0" cy="604.0" r="3.0"/><circle cx="640.0" cy="612.0" r="3.0"/><circle cx="655.0" cy="618.0" r="3.0"/></g>
<g class="rd2"><circle cx="304.5" cy="562.5" r="5.2"/><circle cx="316.4" cy="565.1" r="5.2"/><circle cx="319.7" cy="565.9" r="5.2"/><circle cx="301.3" cy="561.8" r="5.2"/><circle cx="305.1" cy="562.7" r="5.2"/><circle cx="330.1" cy="568.1" r="5.2"/><circle cx="302.7" cy="562.1" r="5.2"/><circle cx="304.6" cy="562.5" r="5.2"/><circle cx="330.8" cy="568.3" r="5.2"/><circle cx="320.3" cy="566.0" r="5.2"/><circle cx="312.2" cy="564.2" r="5.2"/><circle cx="316.8" cy="565.2" r="5.2"/><circle cx="321.6" cy="566.3" r="5.2"/><circle cx="309.2" cy="563.6" r="5.2"/><circle cx="304.8" cy="562.6" r="5.2"/><circle cx="325.6" cy="567.2" r="5.2"/><circle cx="321.9" cy="566.4" r="5.2"/><circle cx="316.8" cy="565.2" r="5.2"/><circle cx="326.6" cy="567.4" r="5.2"/><circle cx="318.0" cy="565.5" r="5.2"/><circle cx="331.8" cy="568.5" r="5.2"/><circle cx="307.0" cy="563.1" r="5.2"/><circle cx="318.1" cy="565.5" r="5.2"/><circle cx="315.9" cy="565.0" r="5.2"/><circle cx="311.7" cy="564.1" r="5.2"/><circle cx="319.4" cy="565.8" r="5.2"/><circle cx="340.0" cy="570.3" r="5.2"/><circle cx="358.1" cy="574.1" r="5.2"/><circle cx="360.2" cy="574.5" r="5.2"/><circle cx="336.6" cy="569.5" r="5.2"/><circle cx="347.4" cy="571.8" r="5.2"/><circle cx="341.3" cy="570.6" r="5.2"/><circle cx="335.1" cy="569.2" r="5.2"/><circle cx="361.1" cy="574.7" r="5.2"/><circle cx="346.2" cy="571.6" r="5.2"/><circle cx="337.2" cy="569.7" r="5.2"/><circle cx="354.0" cy="573.2" r="5.2"/><circle cx="338.9" cy="570.0" r="5.2"/><circle cx="361.3" cy="574.8" r="5.2"/><circle cx="339.4" cy="570.1" r="5.2"/><circle cx="333.5" cy="568.9" r="5.2"/><circle cx="338.9" cy="570.0" r="5.2"/><circle cx="343.5" cy="571.0" r="5.2"/><circle cx="347.4" cy="571.9" r="5.2"/><circle cx="361.4" cy="574.8" r="5.2"/><circle cx="354.8" cy="573.4" r="5.2"/><circle cx="343.3" cy="571.0" r="5.2"/><circle cx="333.0" cy="568.8" r="5.2"/><circle cx="337.5" cy="569.7" r="5.2"/><circle cx="364.3" cy="575.4" r="5.2"/><circle cx="347.2" cy="571.8" r="5.2"/><circle cx="354.6" cy="573.4" r="5.2"/><circle cx="334.2" cy="569.0" r="5.2"/><circle cx="333.5" cy="568.9" r="5.2"/><circle cx="359.5" cy="574.4" r="5.2"/><circle cx="351.3" cy="572.7" r="5.2"/><circle cx="342.3" cy="570.8" r="5.2"/><circle cx="342.6" cy="570.8" r="5.2"/><circle cx="335.3" cy="569.3" r="5.2"/><circle cx="338.0" cy="569.8" r="5.2"/><circle cx="333.2" cy="568.8" r="5.2"/><circle cx="359.3" cy="574.3" r="5.2"/><circle cx="347.4" cy="571.8" r="5.2"/><circle cx="336.5" cy="569.5" r="5.2"/><circle cx="356.1" cy="573.7" r="5.2"/><circle cx="338.7" cy="570.0" r="5.2"/><circle cx="334.4" cy="569.1" r="5.2"/><circle cx="351.6" cy="572.7" r="5.2"/><circle cx="400.3" cy="582.5" r="5.2"/><circle cx="365.5" cy="575.6" r="5.2"/><circle cx="396.7" cy="581.8" r="5.2"/><circle cx="372.1" cy="577.0" r="5.2"/><circle cx="368.2" cy="576.2" r="5.2"/><circle cx="365.2" cy="575.6" r="5.2"/><circle cx="376.2" cy="577.8" r="5.2"/><circle cx="393.6" cy="581.2" r="5.2"/><circle cx="384.2" cy="579.4" r="5.2"/><circle cx="398.6" cy="582.2" r="5.2"/><circle cx="373.1" cy="577.2" r="5.2"/><circle cx="377.1" cy="578.0" r="5.2"/><circle cx="374.8" cy="577.5" r="5.2"/><circle cx="403.6" cy="583.1" r="5.2"/><circle cx="402.1" cy="582.8" r="5.2"/><circle cx="378.1" cy="578.2" r="5.2"/><circle cx="381.9" cy="578.9" r="5.2"/><circle cx="377.0" cy="578.0" r="5.2"/><circle cx="394.3" cy="581.4" r="5.2"/><circle cx="366.1" cy="575.7" r="5.2"/><circle cx="367.1" cy="576.0" r="5.2"/><circle cx="380.6" cy="578.7" r="5.2"/><circle cx="374.3" cy="577.4" r="5.2"/><circle cx="398.3" cy="582.1" r="5.2"/><circle cx="394.1" cy="581.3" r="5.2"/><circle cx="386.3" cy="579.8" r="5.2"/><circle cx="390.9" cy="580.7" r="5.2"/><circle cx="392.2" cy="580.9" r="5.2"/><circle cx="395.7" cy="581.6" r="5.2"/><circle cx="401.6" cy="582.7" r="5.2"/><circle cx="370.4" cy="576.6" r="5.2"/><circle cx="389.5" cy="580.4" r="5.2"/><circle cx="370.2" cy="576.6" r="5.2"/><circle cx="382.2" cy="579.0" r="5.2"/><circle cx="395.9" cy="581.7" r="5.2"/><circle cx="400.3" cy="582.5" r="5.2"/><circle cx="394.8" cy="581.5" r="5.2"/><circle cx="365.9" cy="575.7" r="5.2"/><circle cx="378.8" cy="578.3" r="5.2"/><circle cx="371.0" cy="576.7" r="5.2"/><circle cx="404.4" cy="583.3" r="5.2"/><circle cx="370.2" cy="576.6" r="5.2"/><circle cx="374.2" cy="577.4" r="5.2"/><circle cx="378.7" cy="578.3" r="5.2"/><circle cx="366.9" cy="575.9" r="5.2"/><circle cx="399.3" cy="582.3" r="5.2"/><circle cx="389.9" cy="580.5" r="5.2"/><circle cx="370.8" cy="576.7" r="5.2"/><circle cx="384.4" cy="579.4" r="5.2"/><circle cx="367.6" cy="576.0" r="5.2"/><circle cx="388.9" cy="580.3" r="5.2"/><circle cx="373.7" cy="577.3" r="5.2"/><circle cx="366.0" cy="575.7" r="5.2"/><circle cx="369.1" cy="576.3" r="5.2"/><circle cx="386.7" cy="579.9" r="5.2"/><circle cx="389.9" cy="580.5" r="5.2"/><circle cx="377.5" cy="578.0" r="5.2"/><circle cx="390.2" cy="580.6" r="5.2"/><circle cx="378.5" cy="578.3" r="5.2"/><circle cx="369.7" cy="576.5" r="5.2"/><circle cx="377.1" cy="578.0" r="5.2"/><circle cx="380.3" cy="578.6" r="5.2"/><circle cx="401.0" cy="582.6" r="5.2"/><circle cx="369.1" cy="576.4" r="5.2"/><circle cx="367.9" cy="576.1" r="5.2"/><circle cx="386.9" cy="579.9" r="5.2"/><circle cx="403.0" cy="583.0" r="5.2"/><circle cx="400.8" cy="582.6" r="5.2"/><circle cx="392.5" cy="581.0" r="5.2"/><circle cx="367.1" cy="576.0" r="5.2"/><circle cx="396.7" cy="581.8" r="5.2"/><circle cx="391.8" cy="580.9" r="5.2"/><circle cx="370.2" cy="576.6" r="5.2"/><circle cx="383.1" cy="579.2" r="5.2"/><circle cx="366.4" cy="575.8" r="5.2"/><circle cx="396.5" cy="581.8" r="5.2"/><circle cx="393.2" cy="581.1" r="5.2"/><circle cx="396.7" cy="581.8" r="5.2"/><circle cx="394.9" cy="581.5" r="5.2"/><circle cx="375.1" cy="577.6" r="5.2"/><circle cx="396.1" cy="581.7" r="5.2"/><circle cx="374.4" cy="577.4" r="5.2"/><circle cx="410.0" cy="584.3" r="5.2"/><circle cx="420.1" cy="586.2" r="5.2"/><circle cx="424.4" cy="586.9" r="5.2"/><circle cx="415.9" cy="585.4" r="5.2"/><circle cx="428.7" cy="587.7" r="5.2"/><circle cx="428.6" cy="587.7" r="5.2"/><circle cx="414.1" cy="585.1" r="5.2"/><circle cx="429.4" cy="587.8" r="5.2"/><circle cx="418.8" cy="585.9" r="5.2"/><circle cx="433.9" cy="588.6" r="5.2"/><circle cx="416.1" cy="585.4" r="5.2"/><circle cx="436.4" cy="589.0" r="5.2"/><circle cx="421.1" cy="586.4" r="5.2"/><circle cx="426.6" cy="587.3" r="5.2"/><circle cx="431.4" cy="588.2" r="5.2"/><circle cx="425.2" cy="587.1" r="5.2"/><circle cx="414.8" cy="585.2" r="5.2"/><circle cx="443.7" cy="590.3" r="5.2"/><circle cx="408.3" cy="584.0" r="5.2"/><circle cx="417.5" cy="585.7" r="5.2"/><circle cx="426.5" cy="587.3" r="5.2"/><circle cx="405.6" cy="583.5" r="5.2"/><circle cx="410.7" cy="584.5" r="5.2"/><circle cx="436.5" cy="589.0" r="5.2"/><circle cx="435.8" cy="588.9" r="5.2"/><circle cx="430.0" cy="587.9" r="5.2"/><circle cx="440.6" cy="589.7" r="5.2"/><circle cx="434.7" cy="588.7" r="5.2"/><circle cx="416.4" cy="585.5" r="5.2"/><circle cx="430.3" cy="588.0" r="5.2"/><circle cx="418.1" cy="585.8" r="5.2"/><circle cx="434.5" cy="588.7" r="5.2"/><circle cx="419.9" cy="586.1" r="5.2"/><circle cx="410.6" cy="584.4" r="5.2"/><circle cx="439.6" cy="589.6" r="5.2"/><circle cx="432.1" cy="588.3" r="5.2"/><circle cx="434.3" cy="588.7" r="5.2"/><circle cx="426.9" cy="587.4" r="5.2"/><circle cx="435.8" cy="588.9" r="5.2"/><circle cx="422.4" cy="586.6" r="5.2"/><circle cx="427.1" cy="587.4" r="5.2"/><circle cx="407.0" cy="583.8" r="5.2"/><circle cx="426.7" cy="587.3" r="5.2"/><circle cx="437.1" cy="589.2" r="5.2"/><circle cx="432.7" cy="588.4" r="5.2"/><circle cx="436.6" cy="589.1" r="5.2"/><circle cx="424.3" cy="586.9" r="5.2"/><circle cx="439.8" cy="589.6" r="5.2"/><circle cx="408.8" cy="584.1" r="5.2"/><circle cx="439.5" cy="589.6" r="5.2"/><circle cx="419.3" cy="586.0" r="5.2"/><circle cx="408.1" cy="584.0" r="5.2"/><circle cx="429.3" cy="587.8" r="5.2"/><circle cx="422.7" cy="586.6" r="5.2"/><circle cx="421.6" cy="586.4" r="5.2"/><circle cx="438.6" cy="589.4" r="5.2"/><circle cx="410.0" cy="584.3" r="5.2"/><circle cx="429.2" cy="587.8" r="5.2"/><circle cx="421.0" cy="586.3" r="5.2"/><circle cx="425.6" cy="587.2" r="5.2"/><circle cx="424.5" cy="587.0" r="5.2"/><circle cx="409.8" cy="584.3" r="5.2"/><circle cx="425.0" cy="587.0" r="5.2"/><circle cx="439.0" cy="589.5" r="5.2"/><circle cx="411.3" cy="584.6" r="5.2"/><circle cx="404.9" cy="583.4" r="5.2"/><circle cx="407.2" cy="583.8" r="5.2"/><circle cx="422.9" cy="586.7" r="5.2"/><circle cx="443.5" cy="590.2" r="5.2"/><circle cx="406.2" cy="583.6" r="5.2"/><circle cx="444.1" cy="590.3" r="5.2"/><circle cx="425.9" cy="587.2" r="5.2"/><circle cx="409.3" cy="584.2" r="5.2"/><circle cx="421.2" cy="586.4" r="5.2"/><circle cx="412.8" cy="584.8" r="5.2"/><circle cx="433.1" cy="588.5" r="5.2"/><circle cx="426.1" cy="587.3" r="5.2"/><circle cx="416.0" cy="585.4" r="5.2"/><circle cx="414.7" cy="585.2" r="5.2"/><circle cx="439.2" cy="589.5" r="5.2"/><circle cx="435.1" cy="588.8" r="5.2"/><circle cx="421.9" cy="586.5" r="5.2"/><circle cx="420.7" cy="586.3" r="5.2"/><circle cx="434.0" cy="588.6" r="5.2"/><circle cx="443.3" cy="590.2" r="5.2"/><circle cx="407.7" cy="583.9" r="5.2"/><circle cx="410.8" cy="584.5" r="5.2"/><circle cx="419.0" cy="586.0" r="5.2"/><circle cx="424.8" cy="587.0" r="5.2"/><circle cx="407.3" cy="583.8" r="5.2"/><circle cx="406.6" cy="583.7" r="5.2"/><circle cx="413.3" cy="584.9" r="5.2"/><circle cx="419.9" cy="586.1" r="5.2"/><circle cx="434.1" cy="588.6" r="5.2"/><circle cx="428.9" cy="587.7" r="5.2"/><circle cx="405.6" cy="583.5" r="5.2"/><circle cx="406.3" cy="583.6" r="5.2"/><circle cx="422.6" cy="586.6" r="5.2"/><circle cx="439.5" cy="589.6" r="5.2"/><circle cx="441.1" cy="589.8" r="5.2"/><circle cx="419.1" cy="586.0" r="5.2"/><circle cx="440.0" cy="589.6" r="5.2"/><circle cx="441.7" cy="589.9" r="5.2"/><circle cx="420.7" cy="586.3" r="5.2"/><circle cx="434.3" cy="588.7" r="5.2"/><circle cx="419.1" cy="586.0" r="5.2"/><circle cx="410.6" cy="584.4" r="5.2"/><circle cx="427.5" cy="587.5" r="5.2"/><circle cx="407.9" cy="583.9" r="5.2"/><circle cx="431.0" cy="588.1" r="5.2"/><circle cx="436.9" cy="589.1" r="5.2"/><circle cx="441.1" cy="589.8" r="5.2"/><circle cx="462.4" cy="593.3" r="5.2"/><circle cx="449.2" cy="591.2" r="5.2"/><circle cx="480.6" cy="596.0" r="5.2"/><circle cx="479.3" cy="595.8" r="5.2"/><circle cx="483.2" cy="596.4" r="5.2"/><circle cx="468.3" cy="594.2" r="5.2"/><circle cx="471.5" cy="594.7" r="5.2"/><circle cx="459.4" cy="592.8" r="5.2"/><circle cx="451.8" cy="591.6" r="5.2"/><circle cx="456.2" cy="592.3" r="5.2"/><circle cx="473.3" cy="594.9" r="5.2"/><circle cx="457.5" cy="592.5" r="5.2"/><circle cx="472.2" cy="594.8" r="5.2"/><circle cx="464.6" cy="593.6" r="5.2"/><circle cx="462.5" cy="593.3" r="5.2"/><circle cx="483.2" cy="596.4" r="5.2"/><circle cx="451.1" cy="591.5" r="5.2"/><circle cx="464.0" cy="593.5" r="5.2"/><circle cx="450.9" cy="591.5" r="5.2"/><circle cx="482.0" cy="596.2" r="5.2"/><circle cx="464.1" cy="593.5" r="5.2"/><circle cx="457.8" cy="592.6" r="5.2"/><circle cx="451.2" cy="591.5" r="5.2"/><circle cx="468.3" cy="594.2" r="5.2"/><circle cx="460.5" cy="593.0" r="5.2"/><circle cx="449.6" cy="591.2" r="5.2"/><circle cx="445.8" cy="590.6" r="5.2"/><circle cx="460.2" cy="592.9" r="5.2"/><circle cx="467.8" cy="594.1" r="5.2"/><circle cx="465.3" cy="593.7" r="5.2"/><circle cx="480.5" cy="596.0" r="5.2"/><circle cx="481.0" cy="596.1" r="5.2"/><circle cx="482.0" cy="596.2" r="5.2"/><circle cx="476.5" cy="595.4" r="5.2"/><circle cx="463.6" cy="593.5" r="5.2"/><circle cx="465.5" cy="593.8" r="5.2"/><circle cx="460.4" cy="593.0" r="5.2"/><circle cx="460.5" cy="593.0" r="5.2"/><circle cx="446.2" cy="590.7" r="5.2"/><circle cx="476.5" cy="595.4" r="5.2"/><circle cx="454.3" cy="592.0" r="5.2"/><circle cx="445.7" cy="590.6" r="5.2"/><circle cx="463.2" cy="593.4" r="5.2"/><circle cx="473.2" cy="594.9" r="5.2"/><circle cx="462.0" cy="593.2" r="5.2"/><circle cx="459.1" cy="592.8" r="5.2"/><circle cx="470.9" cy="594.6" r="5.2"/><circle cx="451.0" cy="591.5" r="5.2"/><circle cx="445.0" cy="590.5" r="5.2"/><circle cx="468.2" cy="594.2" r="5.2"/><circle cx="465.7" cy="593.8" r="5.2"/><circle cx="479.2" cy="595.8" r="5.2"/><circle cx="461.1" cy="593.1" r="5.2"/><circle cx="476.0" cy="595.3" r="5.2"/><circle cx="445.2" cy="590.5" r="5.2"/><circle cx="445.6" cy="590.6" r="5.2"/><circle cx="468.5" cy="594.2" r="5.2"/><circle cx="453.6" cy="591.9" r="5.2"/><circle cx="447.2" cy="590.8" r="5.2"/><circle cx="449.6" cy="591.2" r="5.2"/><circle cx="459.5" cy="592.8" r="5.2"/><circle cx="458.0" cy="592.6" r="5.2"/><circle cx="467.1" cy="594.0" r="5.2"/><circle cx="480.0" cy="595.9" r="5.2"/><circle cx="459.1" cy="592.8" r="5.2"/><circle cx="451.9" cy="591.6" r="5.2"/><circle cx="467.6" cy="594.1" r="5.2"/><circle cx="444.6" cy="590.4" r="5.2"/><circle cx="459.9" cy="592.9" r="5.2"/><circle cx="457.2" cy="592.5" r="5.2"/><circle cx="460.0" cy="592.9" r="5.2"/><circle cx="446.5" cy="590.7" r="5.2"/><circle cx="466.7" cy="593.9" r="5.2"/><circle cx="469.5" cy="594.4" r="5.2"/><circle cx="474.5" cy="595.1" r="5.2"/><circle cx="482.8" cy="596.3" r="5.2"/><circle cx="458.7" cy="592.7" r="5.2"/><circle cx="470.8" cy="594.6" r="5.2"/><circle cx="462.2" cy="593.3" r="5.2"/><circle cx="453.1" cy="591.8" r="5.2"/><circle cx="480.1" cy="595.9" r="5.2"/><circle cx="474.4" cy="595.1" r="5.2"/><circle cx="482.2" cy="596.2" r="5.2"/><circle cx="477.4" cy="595.5" r="5.2"/><circle cx="481.2" cy="596.1" r="5.2"/><circle cx="449.6" cy="591.2" r="5.2"/><circle cx="445.1" cy="590.5" r="5.2"/><circle cx="452.4" cy="591.7" r="5.2"/><circle cx="461.0" cy="593.1" r="5.2"/><circle cx="472.0" cy="594.7" r="5.2"/><circle cx="462.0" cy="593.2" r="5.2"/><circle cx="465.0" cy="593.7" r="5.2"/><circle cx="475.0" cy="595.2" r="5.2"/><circle cx="447.3" cy="590.9" r="5.2"/><circle cx="471.6" cy="594.7" r="5.2"/><circle cx="446.5" cy="590.7" r="5.2"/><circle cx="454.5" cy="592.0" r="5.2"/><circle cx="473.4" cy="595.0" r="5.2"/><circle cx="471.8" cy="594.7" r="5.2"/><circle cx="460.7" cy="593.0" r="5.2"/><circle cx="456.3" cy="592.3" r="5.2"/><circle cx="477.6" cy="595.6" r="5.2"/><circle cx="455.5" cy="592.2" r="5.2"/><circle cx="445.7" cy="590.6" r="5.2"/><circle cx="454.4" cy="592.0" r="5.2"/><circle cx="445.3" cy="590.5" r="5.2"/><circle cx="476.9" cy="595.5" r="5.2"/><circle cx="449.4" cy="591.2" r="5.2"/><circle cx="483.5" cy="596.4" r="5.2"/><circle cx="453.0" cy="591.8" r="5.2"/><circle cx="456.8" cy="592.4" r="5.2"/><circle cx="467.9" cy="594.1" r="5.2"/><circle cx="456.8" cy="592.4" r="5.2"/><circle cx="459.7" cy="592.9" r="5.2"/><circle cx="448.7" cy="591.1" r="5.2"/><circle cx="460.1" cy="592.9" r="5.2"/><circle cx="445.5" cy="590.6" r="5.2"/><circle cx="453.5" cy="591.9" r="5.2"/><circle cx="480.9" cy="596.0" r="5.2"/><circle cx="455.7" cy="592.2" r="5.2"/><circle cx="455.3" cy="592.2" r="5.2"/><circle cx="471.7" cy="594.7" r="5.2"/><circle cx="479.8" cy="595.9" r="5.2"/><circle cx="456.3" cy="592.3" r="5.2"/><circle cx="459.6" cy="592.8" r="5.2"/><circle cx="473.1" cy="594.9" r="5.2"/><circle cx="476.2" cy="595.4" r="5.2"/><circle cx="469.1" cy="594.3" r="5.2"/><circle cx="451.7" cy="591.6" r="5.2"/><circle cx="451.7" cy="591.6" r="5.2"/><circle cx="474.8" cy="595.2" r="5.2"/><circle cx="472.8" cy="594.9" r="5.2"/><circle cx="480.4" cy="596.0" r="5.2"/><circle cx="475.7" cy="595.3" r="5.2"/><circle cx="461.4" cy="593.1" r="5.2"/><circle cx="449.8" cy="591.3" r="5.2"/><circle cx="480.1" cy="595.9" r="5.2"/><circle cx="472.3" cy="594.8" r="5.2"/><circle cx="467.6" cy="594.1" r="5.2"/><circle cx="471.8" cy="594.7" r="5.2"/><circle cx="499.9" cy="598.6" r="5.2"/><circle cx="498.3" cy="598.4" r="5.2"/><circle cx="507.6" cy="599.6" r="5.2"/><circle cx="503.8" cy="599.1" r="5.2"/><circle cx="512.9" cy="600.3" r="5.2"/><circle cx="522.0" cy="601.3" r="5.2"/><circle cx="518.4" cy="600.9" r="5.2"/><circle cx="500.0" cy="598.6" r="5.2"/><circle cx="499.4" cy="598.6" r="5.2"/><circle cx="521.6" cy="601.3" r="5.2"/><circle cx="500.3" cy="598.7" r="5.2"/><circle cx="516.6" cy="600.7" r="5.2"/><circle cx="488.2" cy="597.1" r="5.2"/><circle cx="502.6" cy="599.0" r="5.2"/><circle cx="505.2" cy="599.3" r="5.2"/><circle cx="516.9" cy="600.7" r="5.2"/><circle cx="519.7" cy="601.1" r="5.2"/><circle cx="490.6" cy="597.4" r="5.2"/><circle cx="509.2" cy="599.8" r="5.2"/><circle cx="509.7" cy="599.9" r="5.2"/><circle cx="490.6" cy="597.4" r="5.2"/><circle cx="517.9" cy="600.8" r="5.2"/><circle cx="506.7" cy="599.5" r="5.2"/><circle cx="523.0" cy="601.4" r="5.2"/><circle cx="492.0" cy="597.6" r="5.2"/><circle cx="505.5" cy="599.3" r="5.2"/><circle cx="497.5" cy="598.3" r="5.2"/><circle cx="510.2" cy="599.9" r="5.2"/><circle cx="508.9" cy="599.8" r="5.2"/><circle cx="505.0" cy="599.3" r="5.2"/><circle cx="497.5" cy="598.3" r="5.2"/><circle cx="504.7" cy="599.2" r="5.2"/><circle cx="499.4" cy="598.6" r="5.2"/><circle cx="520.2" cy="601.1" r="5.2"/><circle cx="503.0" cy="599.0" r="5.2"/><circle cx="503.5" cy="599.1" r="5.2"/><circle cx="494.9" cy="598.0" r="5.2"/><circle cx="494.7" cy="597.9" r="5.2"/><circle cx="522.7" cy="601.4" r="5.2"/><circle cx="497.1" cy="598.3" r="5.2"/><circle cx="519.3" cy="601.0" r="5.2"/><circle cx="508.3" cy="599.7" r="5.2"/><circle cx="523.8" cy="601.5" r="5.2"/><circle cx="491.1" cy="597.5" r="5.2"/><circle cx="522.2" cy="601.4" r="5.2"/><circle cx="515.4" cy="600.6" r="5.2"/><circle cx="507.3" cy="599.6" r="5.2"/><circle cx="512.9" cy="600.3" r="5.2"/><circle cx="513.4" cy="600.3" r="5.2"/><circle cx="502.5" cy="599.0" r="5.2"/><circle cx="509.9" cy="599.9" r="5.2"/><circle cx="493.7" cy="597.8" r="5.2"/><circle cx="485.4" cy="596.7" r="5.2"/><circle cx="511.6" cy="600.1" r="5.2"/><circle cx="503.5" cy="599.1" r="5.2"/><circle cx="520.8" cy="601.2" r="5.2"/><circle cx="495.1" cy="598.0" r="5.2"/><circle cx="517.3" cy="600.8" r="5.2"/><circle cx="524.0" cy="601.6" r="5.2"/><circle cx="520.5" cy="601.2" r="5.2"/><circle cx="523.1" cy="601.5" r="5.2"/><circle cx="490.9" cy="597.4" r="5.2"/><circle cx="491.1" cy="597.5" r="5.2"/><circle cx="493.7" cy="597.8" r="5.2"/><circle cx="499.0" cy="598.5" r="5.2"/><circle cx="489.1" cy="597.2" r="5.2"/><circle cx="490.6" cy="597.4" r="5.2"/><circle cx="485.3" cy="596.7" r="5.2"/><circle cx="521.9" cy="601.3" r="5.2"/><circle cx="499.0" cy="598.5" r="5.2"/><circle cx="509.6" cy="599.8" r="5.2"/><circle cx="502.7" cy="599.0" r="5.2"/><circle cx="514.3" cy="600.4" r="5.2"/><circle cx="516.8" cy="600.7" r="5.2"/><circle cx="499.9" cy="598.6" r="5.2"/><circle cx="506.0" cy="599.4" r="5.2"/><circle cx="488.4" cy="597.1" r="5.2"/><circle cx="496.0" cy="598.1" r="5.2"/><circle cx="493.4" cy="597.8" r="5.2"/><circle cx="496.9" cy="598.2" r="5.2"/><circle cx="497.5" cy="598.3" r="5.2"/><circle cx="507.5" cy="599.6" r="5.2"/><circle cx="497.8" cy="598.4" r="5.2"/><circle cx="497.6" cy="598.3" r="5.2"/><circle cx="517.8" cy="600.8" r="5.2"/><circle cx="485.0" cy="596.6" r="5.2"/><circle cx="484.7" cy="596.6" r="5.2"/><circle cx="486.8" cy="596.9" r="5.2"/><circle cx="519.2" cy="601.0" r="5.2"/><circle cx="509.9" cy="599.9" r="5.2"/><circle cx="513.7" cy="600.3" r="5.2"/><circle cx="522.9" cy="601.4" r="5.2"/><circle cx="493.3" cy="597.7" r="5.2"/><circle cx="521.3" cy="601.3" r="5.2"/><circle cx="494.2" cy="597.9" r="5.2"/><circle cx="505.3" cy="599.3" r="5.2"/><circle cx="511.8" cy="600.1" r="5.2"/><circle cx="516.4" cy="600.7" r="5.2"/><circle cx="494.5" cy="597.9" r="5.2"/><circle cx="503.6" cy="599.1" r="5.2"/><circle cx="486.3" cy="596.8" r="5.2"/><circle cx="496.0" cy="598.1" r="5.2"/><circle cx="523.8" cy="601.5" r="5.2"/><circle cx="520.8" cy="601.2" r="5.2"/><circle cx="507.8" cy="599.6" r="5.2"/><circle cx="516.0" cy="600.6" r="5.2"/><circle cx="520.6" cy="601.2" r="5.2"/><circle cx="497.8" cy="598.4" r="5.2"/><circle cx="523.8" cy="601.5" r="5.2"/><circle cx="502.5" cy="599.0" r="5.2"/><circle cx="490.9" cy="597.4" r="5.2"/><circle cx="505.7" cy="599.4" r="5.2"/><circle cx="508.3" cy="599.7" r="5.2"/><circle cx="512.3" cy="600.2" r="5.2"/><circle cx="511.4" cy="600.1" r="5.2"/><circle cx="486.2" cy="596.8" r="5.2"/><circle cx="510.1" cy="599.9" r="5.2"/><circle cx="521.4" cy="601.3" r="5.2"/><circle cx="511.3" cy="600.1" r="5.2"/><circle cx="523.6" cy="601.5" r="5.2"/><circle cx="505.0" cy="599.3" r="5.2"/><circle cx="517.0" cy="600.7" r="5.2"/><circle cx="490.1" cy="597.3" r="5.2"/><circle cx="520.4" cy="601.1" r="5.2"/><circle cx="502.0" cy="598.9" r="5.2"/><circle cx="519.6" cy="601.1" r="5.2"/><circle cx="497.4" cy="598.3" r="5.2"/><circle cx="509.5" cy="599.8" r="5.2"/><circle cx="518.4" cy="600.9" r="5.2"/><circle cx="513.0" cy="600.3" r="5.2"/><circle cx="509.3" cy="599.8" r="5.2"/><circle cx="523.4" cy="601.5" r="5.2"/><circle cx="488.0" cy="597.0" r="5.2"/><circle cx="488.6" cy="597.1" r="5.2"/><circle cx="506.6" cy="599.5" r="5.2"/><circle cx="522.7" cy="601.4" r="5.2"/><circle cx="512.0" cy="600.1" r="5.2"/><circle cx="496.9" cy="598.2" r="5.2"/><circle cx="488.8" cy="597.1" r="5.2"/><circle cx="502.5" cy="599.0" r="5.2"/><circle cx="503.7" cy="599.1" r="5.2"/><circle cx="503.3" cy="599.1" r="5.2"/><circle cx="549.3" cy="604.2" r="5.2"/><circle cx="535.5" cy="602.8" r="5.2"/><circle cx="559.8" cy="605.2" r="5.2"/><circle cx="536.1" cy="602.9" r="5.2"/><circle cx="528.8" cy="602.1" r="5.2"/><circle cx="538.5" cy="603.1" r="5.2"/><circle cx="562.0" cy="605.4" r="5.2"/><circle cx="530.9" cy="602.3" r="5.2"/><circle cx="535.7" cy="602.8" r="5.2"/><circle cx="561.6" cy="605.4" r="5.2"/><circle cx="538.5" cy="603.1" r="5.2"/><circle cx="558.3" cy="605.1" r="5.2"/><circle cx="526.4" cy="601.8" r="5.2"/><circle cx="560.1" cy="605.2" r="5.2"/><circle cx="534.0" cy="602.7" r="5.2"/><circle cx="531.8" cy="602.4" r="5.2"/><circle cx="554.3" cy="604.7" r="5.2"/><circle cx="564.2" cy="605.6" r="5.2"/><circle cx="562.9" cy="605.5" r="5.2"/><circle cx="554.7" cy="604.7" r="5.2"/><circle cx="561.1" cy="605.3" r="5.2"/><circle cx="564.1" cy="605.6" r="5.2"/><circle cx="546.7" cy="604.0" r="5.2"/><circle cx="530.3" cy="602.3" r="5.2"/><circle cx="558.5" cy="605.1" r="5.2"/><circle cx="540.4" cy="603.3" r="5.2"/><circle cx="537.1" cy="603.0" r="5.2"/><circle cx="544.6" cy="603.8" r="5.2"/><circle cx="525.9" cy="601.8" r="5.2"/><circle cx="525.3" cy="601.7" r="5.2"/><circle cx="535.1" cy="602.8" r="5.2"/><circle cx="548.4" cy="604.1" r="5.2"/><circle cx="554.5" cy="604.7" r="5.2"/><circle cx="562.9" cy="605.5" r="5.2"/><circle cx="557.3" cy="605.0" r="5.2"/><circle cx="562.2" cy="605.4" r="5.2"/><circle cx="550.0" cy="604.3" r="5.2"/><circle cx="553.9" cy="604.7" r="5.2"/><circle cx="548.1" cy="604.1" r="5.2"/><circle cx="527.8" cy="602.0" r="5.2"/><circle cx="527.0" cy="601.9" r="5.2"/><circle cx="555.0" cy="604.8" r="5.2"/><circle cx="532.6" cy="602.5" r="5.2"/><circle cx="556.2" cy="604.9" r="5.2"/><circle cx="543.1" cy="603.6" r="5.2"/><circle cx="524.8" cy="601.6" r="5.2"/><circle cx="547.0" cy="604.0" r="5.2"/><circle cx="542.3" cy="603.5" r="5.2"/><circle cx="527.5" cy="601.9" r="5.2"/><circle cx="535.0" cy="602.8" r="5.2"/><circle cx="536.8" cy="603.0" r="5.2"/><circle cx="538.4" cy="603.1" r="5.2"/><circle cx="552.8" cy="604.6" r="5.2"/><circle cx="531.2" cy="602.4" r="5.2"/><circle cx="542.3" cy="603.5" r="5.2"/><circle cx="548.8" cy="604.2" r="5.2"/><circle cx="562.4" cy="605.4" r="5.2"/><circle cx="529.2" cy="602.1" r="5.2"/><circle cx="527.7" cy="602.0" r="5.2"/><circle cx="532.2" cy="602.5" r="5.2"/><circle cx="533.4" cy="602.6" r="5.2"/><circle cx="531.1" cy="602.3" r="5.2"/><circle cx="527.6" cy="602.0" r="5.2"/><circle cx="532.9" cy="602.5" r="5.2"/><circle cx="533.5" cy="602.6" r="5.2"/><circle cx="543.7" cy="603.7" r="5.2"/><circle cx="550.5" cy="604.3" r="5.2"/><circle cx="539.1" cy="603.2" r="5.2"/><circle cx="531.3" cy="602.4" r="5.2"/><circle cx="528.3" cy="602.0" r="5.2"/><circle cx="535.1" cy="602.8" r="5.2"/><circle cx="531.4" cy="602.4" r="5.2"/><circle cx="543.8" cy="603.7" r="5.2"/><circle cx="559.4" cy="605.2" r="5.2"/><circle cx="553.2" cy="604.6" r="5.2"/><circle cx="532.7" cy="602.5" r="5.2"/><circle cx="526.0" cy="601.8" r="5.2"/><circle cx="527.3" cy="601.9" r="5.2"/><circle cx="542.0" cy="603.5" r="5.2"/><circle cx="539.1" cy="603.2" r="5.2"/><circle cx="551.9" cy="604.5" r="5.2"/><circle cx="527.9" cy="602.0" r="5.2"/><circle cx="534.7" cy="602.7" r="5.2"/><circle cx="552.0" cy="604.5" r="5.2"/><circle cx="547.3" cy="604.0" r="5.2"/><circle cx="545.2" cy="603.8" r="5.2"/><circle cx="560.6" cy="605.3" r="5.2"/><circle cx="529.1" cy="602.1" r="5.2"/><circle cx="532.4" cy="602.5" r="5.2"/><circle cx="547.2" cy="604.0" r="5.2"/><circle cx="547.2" cy="604.0" r="5.2"/><circle cx="563.8" cy="605.6" r="5.2"/><circle cx="563.7" cy="605.5" r="5.2"/><circle cx="548.1" cy="604.1" r="5.2"/><circle cx="554.9" cy="604.8" r="5.2"/><circle cx="552.5" cy="604.5" r="5.2"/><circle cx="529.9" cy="602.2" r="5.2"/><circle cx="548.7" cy="604.2" r="5.2"/><circle cx="536.8" cy="603.0" r="5.2"/><circle cx="538.9" cy="603.2" r="5.2"/><circle cx="530.8" cy="602.3" r="5.2"/><circle cx="524.9" cy="601.7" r="5.2"/><circle cx="558.7" cy="605.1" r="5.2"/><circle cx="553.3" cy="604.6" r="5.2"/><circle cx="554.7" cy="604.7" r="5.2"/><circle cx="536.1" cy="602.9" r="5.2"/><circle cx="541.3" cy="603.4" r="5.2"/><circle cx="531.6" cy="602.4" r="5.2"/><circle cx="548.7" cy="604.2" r="5.2"/><circle cx="558.1" cy="605.0" r="5.2"/><circle cx="555.7" cy="604.8" r="5.2"/><circle cx="561.9" cy="605.4" r="5.2"/><circle cx="535.0" cy="602.8" r="5.2"/><circle cx="552.6" cy="604.5" r="5.2"/><circle cx="529.6" cy="602.2" r="5.2"/><circle cx="546.0" cy="603.9" r="5.2"/><circle cx="529.0" cy="602.1" r="5.2"/><circle cx="546.2" cy="603.9" r="5.2"/><circle cx="584.1" cy="607.2" r="5.2"/><circle cx="577.1" cy="606.7" r="5.2"/><circle cx="577.2" cy="606.7" r="5.2"/><circle cx="590.2" cy="607.6" r="5.2"/><circle cx="581.9" cy="607.0" r="5.2"/><circle cx="579.3" cy="606.8" r="5.2"/><circle cx="568.6" cy="606.0" r="5.2"/><circle cx="574.7" cy="606.5" r="5.2"/><circle cx="595.1" cy="608.0" r="5.2"/><circle cx="599.6" cy="608.3" r="5.2"/><circle cx="578.0" cy="606.7" r="5.2"/><circle cx="595.9" cy="608.0" r="5.2"/><circle cx="596.0" cy="608.0" r="5.2"/><circle cx="572.4" cy="606.3" r="5.2"/><circle cx="574.4" cy="606.4" r="5.2"/><circle cx="589.6" cy="607.6" r="5.2"/><circle cx="575.6" cy="606.5" r="5.2"/><circle cx="599.0" cy="608.2" r="5.2"/><circle cx="577.7" cy="606.7" r="5.2"/><circle cx="590.9" cy="607.7" r="5.2"/><circle cx="590.1" cy="607.6" r="5.2"/><circle cx="572.3" cy="606.3" r="5.2"/><circle cx="595.8" cy="608.0" r="5.2"/><circle cx="576.4" cy="606.6" r="5.2"/><circle cx="568.5" cy="606.0" r="5.2"/><circle cx="566.4" cy="605.8" r="5.2"/><circle cx="580.9" cy="607.0" r="5.2"/><circle cx="587.4" cy="607.4" r="5.2"/><circle cx="574.4" cy="606.4" r="5.2"/><circle cx="594.9" cy="608.0" r="5.2"/><circle cx="574.2" cy="606.4" r="5.2"/><circle cx="595.1" cy="608.0" r="5.2"/><circle cx="565.8" cy="605.7" r="5.2"/><circle cx="574.0" cy="606.4" r="5.2"/><circle cx="570.3" cy="606.1" r="5.2"/><circle cx="580.7" cy="606.9" r="5.2"/><circle cx="577.2" cy="606.7" r="5.2"/><circle cx="578.8" cy="606.8" r="5.2"/><circle cx="595.2" cy="608.0" r="5.2"/><circle cx="585.5" cy="607.3" r="5.2"/><circle cx="586.4" cy="607.4" r="5.2"/><circle cx="578.6" cy="606.8" r="5.2"/><circle cx="593.7" cy="607.9" r="5.2"/><circle cx="582.7" cy="607.1" r="5.2"/><circle cx="591.4" cy="607.7" r="5.2"/><circle cx="597.5" cy="608.1" r="5.2"/><circle cx="586.6" cy="607.4" r="5.2"/><circle cx="580.3" cy="606.9" r="5.2"/><circle cx="574.1" cy="606.4" r="5.2"/><circle cx="597.4" cy="608.1" r="5.2"/><circle cx="592.1" cy="607.8" r="5.2"/><circle cx="593.4" cy="607.9" r="5.2"/><circle cx="572.6" cy="606.3" r="5.2"/><circle cx="580.3" cy="606.9" r="5.2"/><circle cx="596.4" cy="608.1" r="5.2"/><circle cx="573.4" cy="606.4" r="5.2"/><circle cx="593.9" cy="607.9" r="5.2"/><circle cx="584.0" cy="607.2" r="5.2"/><circle cx="572.5" cy="606.3" r="5.2"/><circle cx="578.1" cy="606.7" r="5.2"/><circle cx="567.3" cy="605.9" r="5.2"/><circle cx="588.8" cy="607.5" r="5.2"/><circle cx="590.8" cy="607.7" r="5.2"/><circle cx="565.6" cy="605.7" r="5.2"/><circle cx="575.4" cy="606.5" r="5.2"/><circle cx="592.3" cy="607.8" r="5.2"/><circle cx="571.8" cy="606.2" r="5.2"/><circle cx="583.9" cy="607.2" r="5.2"/><circle cx="593.6" cy="607.9" r="5.2"/><circle cx="585.1" cy="607.3" r="5.2"/><circle cx="569.0" cy="606.0" r="5.2"/><circle cx="597.3" cy="608.1" r="5.2"/><circle cx="591.5" cy="607.7" r="5.2"/><circle cx="584.9" cy="607.3" r="5.2"/><circle cx="576.6" cy="606.6" r="5.2"/><circle cx="585.6" cy="607.3" r="5.2"/><circle cx="578.7" cy="606.8" r="5.2"/><circle cx="568.9" cy="606.0" r="5.2"/><circle cx="569.0" cy="606.0" r="5.2"/><circle cx="566.2" cy="605.8" r="5.2"/><circle cx="570.7" cy="606.1" r="5.2"/><circle cx="573.4" cy="606.4" r="5.2"/><circle cx="587.5" cy="607.4" r="5.2"/><circle cx="585.5" cy="607.3" r="5.2"/><circle cx="509.1" cy="599.8" r="5.2"/><circle cx="444.3" cy="590.4" r="5.2"/><circle cx="584.5" cy="607.2" r="5.2"/><circle cx="533.7" cy="602.6" r="5.2"/><circle cx="535.6" cy="602.8" r="5.2"/><circle cx="521.2" cy="601.2" r="5.2"/><circle cx="404.7" cy="583.3" r="5.2"/><circle cx="510.5" cy="600.0" r="5.2"/><circle cx="543.1" cy="603.6" r="5.2"/><circle cx="532.4" cy="602.5" r="5.2"/><circle cx="445.8" cy="590.6" r="5.2"/><circle cx="495.7" cy="598.1" r="5.2"/><circle cx="543.5" cy="603.6" r="5.2"/><circle cx="577.7" cy="606.7" r="5.2"/><circle cx="448.6" cy="591.1" r="5.2"/><circle cx="514.5" cy="600.4" r="5.2"/><circle cx="417.7" cy="585.7" r="5.2"/><circle cx="438.2" cy="589.3" r="5.2"/><circle cx="477.3" cy="595.5" r="5.2"/><circle cx="407.7" cy="583.9" r="5.2"/><circle cx="472.6" cy="594.8" r="5.2"/><circle cx="571.8" cy="606.2" r="5.2"/><circle cx="462.5" cy="593.3" r="5.2"/><circle cx="433.5" cy="588.5" r="5.2"/><circle cx="424.5" cy="587.0" r="5.2"/><circle cx="510.6" cy="600.0" r="5.2"/><circle cx="481.8" cy="596.2" r="5.2"/><circle cx="524.8" cy="601.6" r="5.2"/><circle cx="481.7" cy="596.2" r="5.2"/><circle cx="505.7" cy="599.4" r="5.2"/><circle cx="482.3" cy="596.2" r="5.2"/><circle cx="459.9" cy="592.9" r="5.2"/><circle cx="406.4" cy="583.7" r="5.2"/><circle cx="458.8" cy="592.7" r="5.2"/><circle cx="547.0" cy="604.0" r="5.2"/><circle cx="470.7" cy="594.6" r="5.2"/><circle cx="552.8" cy="604.6" r="5.2"/><circle cx="412.5" cy="584.8" r="5.2"/><circle cx="539.6" cy="603.2" r="5.2"/><circle cx="563.0" cy="605.5" r="5.2"/><circle cx="246.0" cy="549.2" r="5.2"/><circle cx="445.8" cy="590.6" r="5.2"/><circle cx="599.9" cy="608.3" r="5.2"/><circle cx="630.1" cy="610.0" r="5.2"/><circle cx="434.7" cy="588.7" r="5.2"/><circle cx="391.4" cy="580.8" r="5.2"/><circle cx="589.7" cy="607.6" r="5.2"/><circle cx="345.3" cy="571.4" r="5.2"/><circle cx="352.1" cy="572.8" r="5.2"/><circle cx="348.6" cy="572.1" r="5.2"/><circle cx="502.5" cy="599.0" r="5.2"/><circle cx="559.3" cy="605.2" r="5.2"/><circle cx="289.8" cy="559.2" r="5.2"/><circle cx="192.5" cy="536.9" r="5.2"/><circle cx="474.6" cy="595.1" r="5.2"/><circle cx="504.9" cy="599.3" r="5.2"/><circle cx="365.7" cy="575.7" r="5.2"/><circle cx="336.9" cy="569.6" r="5.2"/><circle cx="252.5" cy="550.7" r="5.2"/><circle cx="294.7" cy="560.3" r="5.2"/><circle cx="384.6" cy="579.5" r="5.2"/><circle cx="414.7" cy="585.2" r="5.2"/><circle cx="460.0" cy="592.9" r="5.2"/><circle cx="486.7" cy="596.9" r="5.2"/><circle cx="516.6" cy="600.7" r="5.2"/><circle cx="539.0" cy="603.2" r="5.2"/><circle cx="610.1" cy="608.9" r="5.2"/><circle cx="312.8" cy="564.4" r="5.2"/><circle cx="369.0" cy="576.3" r="5.2"/><circle cx="402.3" cy="582.9" r="5.2"/><circle cx="437.1" cy="589.2" r="5.2"/><circle cx="467.8" cy="594.1" r="5.2"/><circle cx="467.8" cy="594.1" r="5.2"/><circle cx="481.8" cy="596.2" r="5.2"/><circle cx="485.9" cy="596.7" r="5.2"/><circle cx="603.7" cy="608.5" r="5.2"/><circle cx="301.5" cy="561.8" r="5.2"/><circle cx="341.6" cy="570.6" r="5.2"/><circle cx="371.1" cy="576.8" r="5.2"/><circle cx="380.7" cy="578.7" r="5.2"/><circle cx="229.7" cy="545.4" r="5.2"/><circle cx="284.9" cy="558.1" r="5.2"/><circle cx="316.5" cy="565.2" r="5.2"/><circle cx="337.5" cy="569.7" r="5.2"/><circle cx="400.7" cy="582.6" r="5.2"/><circle cx="406.9" cy="583.7" r="5.2"/><circle cx="525.4" cy="601.7" r="5.2"/><circle cx="439.6" cy="589.6" r="5.2"/><circle cx="359.3" cy="574.3" r="5.2"/><circle cx="371.1" cy="576.8" r="5.2"/><circle cx="391.0" cy="580.7" r="5.2"/><circle cx="407.5" cy="583.9" r="5.2"/><circle cx="274.8" cy="555.8" r="5.2"/><circle cx="397.8" cy="582.0" r="5.2"/><circle cx="463.0" cy="593.4" r="5.2"/><circle cx="467.8" cy="594.1" r="5.2"/><circle cx="451.3" cy="591.5" r="5.2"/><circle cx="453.2" cy="591.8" r="5.2"/><circle cx="364.7" cy="575.5" r="5.2"/><circle cx="485.3" cy="596.7" r="5.2"/><circle cx="425.0" cy="587.0" r="5.2"/><circle cx="159.1" cy="529.3" r="5.2"/><circle cx="206.1" cy="540.0" r="5.2"/><circle cx="358.9" cy="574.3" r="5.2"/><circle cx="365.7" cy="575.7" r="5.2"/><circle cx="442.5" cy="590.1" r="5.2"/><circle cx="557.7" cy="605.0" r="5.2"/><circle cx="529.4" cy="602.2" r="5.2"/><circle cx="574.3" cy="606.4" r="5.2"/><circle cx="615.3" cy="609.2" r="5.2"/><circle cx="654.0" cy="610.9" r="5.2"/><circle cx="250.8" cy="550.3" r="5.2"/><circle cx="270.8" cy="554.9" r="5.2"/><circle cx="288.8" cy="559.0" r="5.2"/><circle cx="291.0" cy="559.5" r="5.2"/><circle cx="296.0" cy="560.6" r="5.2"/><circle cx="197.1" cy="537.9" r="5.2"/><circle cx="246.1" cy="549.2" r="5.2"/><circle cx="273.8" cy="555.6" r="5.2"/><circle cx="289.0" cy="559.0" r="5.2"/><circle cx="290.3" cy="559.3" r="5.2"/><circle cx="293.5" cy="560.0" r="5.2"/><circle cx="295.2" cy="560.4" r="5.2"/><circle cx="216.4" cy="542.4" r="5.2"/><circle cx="198.2" cy="538.2" r="5.2"/><circle cx="248.0" cy="549.7" r="5.2"/><circle cx="251.2" cy="550.4" r="5.2"/><circle cx="260.4" cy="552.5" r="5.2"/><circle cx="271.5" cy="555.1" r="5.2"/><circle cx="288.0" cy="558.8" r="5.2"/><circle cx="267.8" cy="554.2" r="5.2"/><circle cx="290.7" cy="559.4" r="5.2"/><circle cx="294.8" cy="560.3" r="5.2"/><circle cx="298.6" cy="561.2" r="5.2"/><circle cx="211.7" cy="541.3" r="5.2"/><circle cx="260.8" cy="552.6" r="5.2"/><circle cx="261.7" cy="552.8" r="5.2"/><circle cx="263.8" cy="553.3" r="5.2"/><circle cx="277.2" cy="556.4" r="5.2"/><circle cx="298.6" cy="561.2" r="5.2"/><circle cx="298.6" cy="561.2" r="5.2"/><circle cx="298.6" cy="561.2" r="5.2"/><circle cx="296.0" cy="560.6" r="5.2"/><circle cx="612.2" cy="609.0" r="5.2"/><circle cx="605.2" cy="608.6" r="5.2"/><circle cx="662.3" cy="611.1" r="5.2"/><circle cx="657.7" cy="611.0" r="5.2"/><circle cx="614.3" cy="609.2" r="5.2"/><circle cx="668.5" cy="611.3" r="5.2"/><circle cx="672.1" cy="611.4" r="5.2"/><circle cx="606.6" cy="608.7" r="5.2"/><circle cx="612.2" cy="609.0" r="5.2"/><circle cx="624.3" cy="609.7" r="5.2"/><circle cx="626.9" cy="609.8" r="5.2"/><circle cx="604.4" cy="608.6" r="5.2"/><circle cx="653.7" cy="610.9" r="5.2"/><circle cx="611.0" cy="609.0" r="5.2"/><circle cx="622.1" cy="609.6" r="5.2"/><circle cx="639.7" cy="610.4" r="5.2"/><circle cx="642.0" cy="610.5" r="5.2"/><circle cx="644.6" cy="610.6" r="5.2"/><circle cx="624.3" cy="609.7" r="5.2"/><circle cx="629.4" cy="609.9" r="5.2"/><circle cx="664.0" cy="611.2" r="5.2"/><circle cx="670.4" cy="611.3" r="5.2"/><circle cx="677.6" cy="611.5" r="5.2"/><circle cx="665.2" cy="611.2" r="5.2"/><circle cx="679.9" cy="611.5" r="5.2"/><circle cx="675.8" cy="611.5" r="5.2"/><circle cx="667.7" cy="611.3" r="5.2"/><circle cx="672.9" cy="611.4" r="5.2"/><circle cx="677.6" cy="611.5" r="5.2"/><circle cx="647.5" cy="610.7" r="5.2"/><circle cx="656.7" cy="611.0" r="5.2"/><circle cx="619.9" cy="609.5" r="5.2"/><circle cx="632.4" cy="610.1" r="5.2"/><circle cx="605.9" cy="608.7" r="5.2"/><circle cx="608.8" cy="608.8" r="5.2"/><circle cx="602.2" cy="608.4" r="5.2"/><circle cx="623.6" cy="609.7" r="5.2"/><circle cx="626.5" cy="609.8" r="5.2"/><circle cx="620.6" cy="609.5" r="5.2"/><circle cx="617.7" cy="609.3" r="5.2"/><circle cx="609.6" cy="608.9" r="5.2"/><circle cx="614.7" cy="609.2" r="5.2"/><circle cx="615.5" cy="609.2" r="5.2"/><circle cx="614.7" cy="609.2" r="5.2"/><circle cx="617.4" cy="609.3" r="5.2"/><circle cx="608.5" cy="608.8" r="5.2"/><circle cx="630.2" cy="610.0" r="5.2"/><circle cx="635.3" cy="610.2" r="5.2"/><circle cx="635.3" cy="610.2" r="5.2"/><circle cx="639.5" cy="610.4" r="5.2"/><circle cx="616.0" cy="609.3" r="5.2"/><circle cx="632.0" cy="610.1" r="5.2"/><circle cx="648.0" cy="610.7" r="5.2"/><circle cx="660.0" cy="611.1" r="5.2"/><circle cx="676.0" cy="611.5" r="5.2"/><circle cx="640.0" cy="610.4" r="5.2"/><circle cx="655.0" cy="610.9" r="5.2"/><circle cx="709.5" cy="611.8" r="5.2"/><circle cx="712.7" cy="611.8" r="5.2"/><circle cx="715.1" cy="611.8" r="5.2"/><circle cx="718.3" cy="611.8" r="5.2"/><circle cx="732.2" cy="611.8" r="5.2"/><circle cx="743.9" cy="611.7" r="5.2"/><circle cx="747.1" cy="611.7" r="5.2"/><circle cx="750.3" cy="611.6" r="5.2"/><circle cx="753.5" cy="611.6" r="5.2"/><circle cx="770.3" cy="611.4" r="5.2"/><circle cx="819.9" cy="610.3" r="5.2"/><circle cx="859.6" cy="609.3" r="5.2"/><circle cx="703.3" cy="611.8" r="5.2"/><circle cx="682.2" cy="611.6" r="5.2"/><circle cx="159.1" cy="529.3" r="5.2"/><circle cx="193.5" cy="537.1" r="5.2"/><circle cx="194.7" cy="537.4" r="5.2"/><circle cx="197.9" cy="538.1" r="5.2"/><circle cx="206.2" cy="540.0" r="5.2"/><circle cx="211.6" cy="541.3" r="5.2"/><circle cx="216.4" cy="542.4" r="5.2"/><circle cx="229.8" cy="545.5" r="5.2"/><circle cx="247.0" cy="549.4" r="5.2"/><circle cx="250.8" cy="550.3" r="5.2"/><circle cx="260.4" cy="552.5" r="5.2"/><circle cx="262.0" cy="552.9" r="5.2"/><circle cx="267.6" cy="554.2" r="5.2"/><circle cx="270.8" cy="554.9" r="5.2"/><circle cx="273.8" cy="555.6" r="5.2"/><circle cx="278.0" cy="556.5" r="5.2"/></g>
<rect x="131.2" y="114.3" width="756.60" height="660.90" fill="none" stroke="#383838" stroke-width="2.2"/>
<line x1="114.2" y1="718.4" x2="131.2" y2="718.4" stroke="#383838" stroke-width="2.2"/>
<text class="tk" transform="translate(93.2,718.4) rotate(-90)" text-anchor="middle" textLength="34.9" lengthAdjust="spacingAndGlyphs">0.0</text>
<line x1="114.2" y1="599.6" x2="131.2" y2="599.6" stroke="#383838" stroke-width="2.2"/>
<text class="tk" transform="translate(93.2,599.6) rotate(-90)" text-anchor="middle" textLength="34.9" lengthAdjust="spacingAndGlyphs">0.5</text>
<line x1="114.2" y1="480.8" x2="131.2" y2="480.8" stroke="#383838" stroke-width="2.2"/>
<text class="tk" transform="translate(93.2,480.8) rotate(-90)" text-anchor="middle" textLength="34.9" lengthAdjust="spacingAndGlyphs">1.0</text>
<line x1="114.2" y1="362.0" x2="131.2" y2="362.0" stroke="#383838" stroke-width="2.2"/>
<text class="tk" transform="translate(93.2,362.0) rotate(-90)" text-anchor="middle" textLength="34.9" lengthAdjust="spacingAndGlyphs">1.5</text>
<line x1="114.2" y1="243.2" x2="131.2" y2="243.2" stroke="#383838" stroke-width="2.2"/>
<text class="tk" transform="translate(93.2,243.2) rotate(-90)" text-anchor="middle" textLength="34.9" lengthAdjust="spacingAndGlyphs">2.0</text>
<line x1="114.2" y1="124.4" x2="131.2" y2="124.4" stroke="#383838" stroke-width="2.2"/>
<text class="tk" transform="translate(93.2,124.4) rotate(-90)" text-anchor="middle" textLength="34.9" lengthAdjust="spacingAndGlyphs">2.5</text>
<line x1="284.4" y1="775.2" x2="284.4" y2="791.7" stroke="#383838" stroke-width="2.2"/>
<text class="tk" x="284.4" y="833.6" text-anchor="middle">6</text>
<line x1="444.5" y1="775.2" x2="444.5" y2="791.7" stroke="#383838" stroke-width="2.2"/>
<text class="tk" x="444.5" y="833.6" text-anchor="middle">8</text>
<line x1="604.6" y1="775.2" x2="604.6" y2="791.7" stroke="#383838" stroke-width="2.2"/>
<text class="tk" x="604.6" y="833.6" text-anchor="middle" textLength="31.1" lengthAdjust="spacingAndGlyphs">10</text>
<line x1="764.7" y1="775.2" x2="764.7" y2="791.7" stroke="#383838" stroke-width="2.2"/>
<text class="tk" x="764.7" y="833.6" text-anchor="middle" textLength="31.1" lengthAdjust="spacingAndGlyphs">12</text>
<text class="ttl" x="218.6" y="887.2" textLength="528.2" lengthAdjust="spacingAndGlyphs">Log2 Pan-Immune-Inflammation Value</text>
<text class="ttl" transform="translate(31.6,770.3) rotate(-90)" textLength="674.3" lengthAdjust="spacingAndGlyphs">β-C-terminal telopeptide of type I collagen (ng/ml)</text>
<rect x="1137.75" y="115.7" width="754.35" height="658.30" fill="none" stroke="#383838" stroke-width="2.2"/>
<g class="rug"><line x1="1165.6" y1="754" x2="1165.6" y2="774"/><line x1="1198.9" y1="754" x2="1198.9" y2="774"/><line x1="1199.8" y1="754" x2="1199.8" y2="774"/><line x1="1201.1" y1="754" x2="1201.1" y2="774"/><line x1="1203.4" y1="754" x2="1203.4" y2="774"/><line x1="1204.3" y1="754" x2="1204.3" y2="774"/><line x1="1204.6" y1="754" x2="1204.6" y2="774"/><line x1="1212.5" y1="754" x2="1212.5" y2="774"/><line x1="1212.5" y1="754" x2="1212.5" y2="774"/><line x1="1217.9" y1="754" x2="1217.9" y2="774"/><line x1="1218.0" y1="754" x2="1218.0" y2="774"/><line x1="1222.7" y1="754" x2="1222.7" y2="774"/><line x1="1222.7" y1="754" x2="1222.7" y2="774"/><line x1="1236.0" y1="754" x2="1236.0" y2="774"/><line x1="1236.1" y1="754" x2="1236.1" y2="774"/><line x1="1252.2" y1="754" x2="1252.2" y2="774"/><line x1="1252.4" y1="754" x2="1252.4" y2="774"/><line x1="1253.2" y1="754" x2="1253.2" y2="774"/><line x1="1254.2" y1="754" x2="1254.2" y2="774"/><line x1="1257.0" y1="754" x2="1257.0" y2="774"/><line x1="1257.4" y1="754" x2="1257.4" y2="774"/><line x1="1258.7" y1="754" x2="1258.7" y2="774"/><line x1="1266.6" y1="754" x2="1266.6" y2="774"/><line x1="1267.0" y1="754" x2="1267.0" y2="774"/><line x1="1267.8" y1="754" x2="1267.8" y2="774"/><line x1="1268.2" y1="754" x2="1268.2" y2="774"/><line x1="1270.0" y1="754" x2="1270.0" y2="774"/><line x1="1273.7" y1="754" x2="1273.7" y2="774"/><line x1="1274.0" y1="754" x2="1274.0" y2="774"/><line x1="1276.9" y1="754" x2="1276.9" y2="774"/><line x1="1277.7" y1="754" x2="1277.7" y2="774"/><line x1="1280.0" y1="754" x2="1280.0" y2="774"/><line x1="1280.9" y1="754" x2="1280.9" y2="774"/><line x1="1283.3" y1="754" x2="1283.3" y2="774"/><line x1="1284.1" y1="754" x2="1284.1" y2="774"/><line x1="1290.7" y1="754" x2="1290.7" y2="774"/><line x1="1291.0" y1="754" x2="1291.0" y2="774"/><line x1="1291.9" y1="754" x2="1291.9" y2="774"/><line x1="1294.1" y1="754" x2="1294.1" y2="774"/><line x1="1294.9" y1="754" x2="1294.9" y2="774"/><line x1="1295.0" y1="754" x2="1295.0" y2="774"/><line x1="1295.8" y1="754" x2="1295.8" y2="774"/><line x1="1296.4" y1="754" x2="1296.4" y2="774"/><line x1="1296.8" y1="754" x2="1296.8" y2="774"/><line x1="1297.0" y1="754" x2="1297.0" y2="774"/><line x1="1298.2" y1="754" x2="1298.2" y2="774"/><line x1="1299.6" y1="754" x2="1299.6" y2="774"/><line x1="1300.8" y1="754" x2="1300.8" y2="774"/><line x1="1300.9" y1="754" x2="1300.9" y2="774"/><line x1="1301.3" y1="754" x2="1301.3" y2="774"/><line x1="1302.1" y1="754" x2="1302.1" y2="774"/><line x1="1303.6" y1="754" x2="1303.6" y2="774"/><line x1="1303.7" y1="754" x2="1303.7" y2="774"/><line x1="1304.6" y1="754" x2="1304.6" y2="774"/><line x1="1307.3" y1="754" x2="1307.3" y2="774"/><line x1="1307.6" y1="754" x2="1307.6" y2="774"/><line x1="1308.7" y1="754" x2="1308.7" y2="774"/><line x1="1309.7" y1="754" x2="1309.7" y2="774"/><line x1="1310.5" y1="754" x2="1310.5" y2="774"/><line x1="1310.6" y1="754" x2="1310.6" y2="774"/><line x1="1310.8" y1="754" x2="1310.8" y2="774"/><line x1="1311.2" y1="754" x2="1311.2" y2="774"/><line x1="1313.0" y1="754" x2="1313.0" y2="774"/><line x1="1315.2" y1="754" x2="1315.2" y2="774"/><line x1="1316.6" y1="754" x2="1316.6" y2="774"/><line x1="1317.7" y1="754" x2="1317.7" y2="774"/><line x1="1318.3" y1="754" x2="1318.3" y2="774"/><line x1="1318.8" y1="754" x2="1318.8" y2="774"/><line x1="1319.3" y1="754" x2="1319.3" y2="774"/><line x1="1321.9" y1="754" x2="1321.9" y2="774"/><line x1="1322.4" y1="754" x2="1322.4" y2="774"/><line x1="1322.5" y1="754" x2="1322.5" y2="774"/><line x1="1322.8" y1="754" x2="1322.8" y2="774"/><line x1="1323.2" y1="754" x2="1323.2" y2="774"/><line x1="1323.9" y1="754" x2="1323.9" y2="774"/><line x1="1324.0" y1="754" x2="1324.0" y2="774"/><line x1="1324.1" y1="754" x2="1324.1" y2="774"/><line x1="1325.4" y1="754" x2="1325.4" y2="774"/><line x1="1325.7" y1="754" x2="1325.7" y2="774"/><line x1="1326.3" y1="754" x2="1326.3" y2="774"/><line x1="1327.6" y1="754" x2="1327.6" y2="774"/><line x1="1327.8" y1="754" x2="1327.8" y2="774"/><line x1="1327.9" y1="754" x2="1327.9" y2="774"/><line x1="1328.2" y1="754" x2="1328.2" y2="774"/><line x1="1329.2" y1="754" x2="1329.2" y2="774"/><line x1="1330.2" y1="754" x2="1330.2" y2="774"/><line x1="1331.6" y1="754" x2="1331.6" y2="774"/><line x1="1332.6" y1="754" x2="1332.6" y2="774"/><line x1="1333.0" y1="754" x2="1333.0" y2="774"/><line x1="1335.2" y1="754" x2="1335.2" y2="774"/><line x1="1336.1" y1="754" x2="1336.1" y2="774"/><line x1="1336.5" y1="754" x2="1336.5" y2="774"/><line x1="1336.7" y1="754" x2="1336.7" y2="774"/><line x1="1337.7" y1="754" x2="1337.7" y2="774"/><line x1="1338.9" y1="754" x2="1338.9" y2="774"/><line x1="1339.2" y1="754" x2="1339.2" y2="774"/><line x1="1339.4" y1="754" x2="1339.4" y2="774"/><line x1="1339.5" y1="754" x2="1339.5" y2="774"/><line x1="1340.1" y1="754" x2="1340.1" y2="774"/><line x1="1340.1" y1="754" x2="1340.1" y2="774"/><line x1="1340.3" y1="754" x2="1340.3" y2="774"/><line x1="1340.4" y1="754" x2="1340.4" y2="774"/><line x1="1341.0" y1="754" x2="1341.0" y2="774"/><line x1="1341.3" y1="754" x2="1341.3" y2="774"/><line x1="1342.3" y1="754" x2="1342.3" y2="774"/><line x1="1342.4" y1="754" x2="1342.4" y2="774"/><line x1="1342.5" y1="754" x2="1342.5" y2="774"/><line x1="1342.8" y1="754" x2="1342.8" y2="774"/><line x1="1343.1" y1="754" x2="1343.1" y2="774"/><line x1="1343.4" y1="754" x2="1343.4" y2="774"/><line x1="1343.5" y1="754" x2="1343.5" y2="774"/><line x1="1343.7" y1="754" x2="1343.7" y2="774"/><line x1="1343.9" y1="754" x2="1343.9" y2="774"/><line x1="1344.6" y1="754" x2="1344.6" y2="774"/><line x1="1344.8" y1="754" x2="1344.8" y2="774"/><line x1="1344.8" y1="754" x2="1344.8" y2="774"/><line x1="1345.3" y1="754" x2="1345.3" y2="774"/><line x1="1345.9" y1="754" x2="1345.9" y2="774"/><line x1="1347.2" y1="754" x2="1347.2" y2="774"/><line x1="1347.6" y1="754" x2="1347.6" y2="774"/><line x1="1348.2" y1="754" x2="1348.2" y2="774"/><line x1="1348.5" y1="754" x2="1348.5" y2="774"/><line x1="1348.8" y1="754" x2="1348.8" y2="774"/><line x1="1349.2" y1="754" x2="1349.2" y2="774"/><line x1="1349.4" y1="754" x2="1349.4" y2="774"/><line x1="1350.6" y1="754" x2="1350.6" y2="774"/><line x1="1351.2" y1="754" x2="1351.2" y2="774"/><line x1="1352.1" y1="754" x2="1352.1" y2="774"/><line x1="1353.1" y1="754" x2="1353.1" y2="774"/><line x1="1353.3" y1="754" x2="1353.3" y2="774"/><line x1="1353.4" y1="754" x2="1353.4" y2="774"/><line x1="1353.9" y1="754" x2="1353.9" y2="774"/><line x1="1354.5" y1="754" x2="1354.5" y2="774"/><line x1="1357.0" y1="754" x2="1357.0" y2="774"/><line x1="1357.1" y1="754" x2="1357.1" y2="774"/><line x1="1357.5" y1="754" x2="1357.5" y2="774"/><line x1="1357.9" y1="754" x2="1357.9" y2="774"/><line x1="1358.0" y1="754" x2="1358.0" y2="774"/><line x1="1359.8" y1="754" x2="1359.8" y2="774"/><line x1="1359.8" y1="754" x2="1359.8" y2="774"/><line x1="1360.4" y1="754" x2="1360.4" y2="774"/><line x1="1360.6" y1="754" x2="1360.6" y2="774"/><line x1="1362.0" y1="754" x2="1362.0" y2="774"/><line x1="1362.2" y1="754" x2="1362.2" y2="774"/><line x1="1364.0" y1="754" x2="1364.0" y2="774"/><line x1="1364.8" y1="754" x2="1364.8" y2="774"/><line x1="1365.2" y1="754" x2="1365.2" y2="774"/><line x1="1365.4" y1="754" x2="1365.4" y2="774"/><line x1="1366.1" y1="754" x2="1366.1" y2="774"/><line x1="1366.9" y1="754" x2="1366.9" y2="774"/><line x1="1367.2" y1="754" x2="1367.2" y2="774"/><line x1="1367.3" y1="754" x2="1367.3" y2="774"/><line x1="1370.2" y1="754" x2="1370.2" y2="774"/><line x1="1370.5" y1="754" x2="1370.5" y2="774"/><line x1="1371.0" y1="754" x2="1371.0" y2="774"/><line x1="1371.3" y1="754" x2="1371.3" y2="774"/><line x1="1371.6" y1="754" x2="1371.6" y2="774"/><line x1="1371.7" y1="754" x2="1371.7" y2="774"/><line x1="1371.8" y1="754" x2="1371.8" y2="774"/><line x1="1371.9" y1="754" x2="1371.9" y2="774"/><line x1="1372.3" y1="754" x2="1372.3" y2="774"/><line x1="1372.7" y1="754" x2="1372.7" y2="774"/><line x1="1372.9" y1="754" x2="1372.9" y2="774"/><line x1="1373.0" y1="754" x2="1373.0" y2="774"/><line x1="1373.4" y1="754" x2="1373.4" y2="774"/><line x1="1373.7" y1="754" x2="1373.7" y2="774"/><line x1="1374.0" y1="754" x2="1374.0" y2="774"/><line x1="1374.8" y1="754" x2="1374.8" y2="774"/><line x1="1374.9" y1="754" x2="1374.9" y2="774"/><line x1="1375.5" y1="754" x2="1375.5" y2="774"/><line x1="1376.0" y1="754" x2="1376.0" y2="774"/><line x1="1376.3" y1="754" x2="1376.3" y2="774"/><line x1="1376.7" y1="754" x2="1376.7" y2="774"/><line x1="1376.8" y1="754" x2="1376.8" y2="774"/><line x1="1376.9" y1="754" x2="1376.9" y2="774"/><line x1="1377.9" y1="754" x2="1377.9" y2="774"/><line x1="1378.9" y1="754" x2="1378.9" y2="774"/><line x1="1379.0" y1="754" x2="1379.0" y2="774"/><line x1="1379.6" y1="754" x2="1379.6" y2="774"/><line x1="1379.8" y1="754" x2="1379.8" y2="774"/><line x1="1380.0" y1="754" x2="1380.0" y2="774"/><line x1="1380.1" y1="754" x2="1380.1" y2="774"/><line x1="1380.3" y1="754" x2="1380.3" y2="774"/><line x1="1380.6" y1="754" x2="1380.6" y2="774"/><line x1="1381.0" y1="754" x2="1381.0" y2="774"/><line x1="1382.0" y1="754" x2="1382.0" y2="774"/><line x1="1382.7" y1="754" x2="1382.7" y2="774"/><line x1="1382.8" y1="754" x2="1382.8" y2="774"/><line x1="1382.9" y1="754" x2="1382.9" y2="774"/><line x1="1383.2" y1="754" x2="1383.2" y2="774"/><line x1="1383.9" y1="754" x2="1383.9" y2="774"/><line x1="1384.3" y1="754" x2="1384.3" y2="774"/><line x1="1384.6" y1="754" x2="1384.6" y2="774"/><line x1="1384.7" y1="754" x2="1384.7" y2="774"/><line x1="1385.9" y1="754" x2="1385.9" y2="774"/><line x1="1386.1" y1="754" x2="1386.1" y2="774"/><line x1="1386.4" y1="754" x2="1386.4" y2="774"/><line x1="1386.5" y1="754" x2="1386.5" y2="774"/><line x1="1387.7" y1="754" x2="1387.7" y2="774"/><line x1="1388.0" y1="754" x2="1388.0" y2="774"/><line x1="1388.8" y1="754" x2="1388.8" y2="774"/><line x1="1390.0" y1="754" x2="1390.0" y2="774"/><line x1="1390.2" y1="754" x2="1390.2" y2="774"/><line x1="1390.4" y1="754" x2="1390.4" y2="774"/><line x1="1392.1" y1="754" x2="1392.1" y2="774"/><line x1="1392.5" y1="754" x2="1392.5" y2="774"/><line x1="1392.7" y1="754" x2="1392.7" y2="774"/><line x1="1394.6" y1="754" x2="1394.6" y2="774"/><line x1="1395.3" y1="754" x2="1395.3" y2="774"/><line x1="1395.7" y1="754" x2="1395.7" y2="774"/><line x1="1396.0" y1="754" x2="1396.0" y2="774"/><line x1="1396.5" y1="754" x2="1396.5" y2="774"/><line x1="1396.7" y1="754" x2="1396.7" y2="774"/><line x1="1396.8" y1="754" x2="1396.8" y2="774"/><line x1="1397.2" y1="754" x2="1397.2" y2="774"/><line x1="1397.6" y1="754" x2="1397.6" y2="774"/><line x1="1397.9" y1="754" x2="1397.9" y2="774"/><line x1="1398.2" y1="754" x2="1398.2" y2="774"/><line x1="1398.9" y1="754" x2="1398.9" y2="774"/><line x1="1398.9" y1="754" x2="1398.9" y2="774"/><line x1="1399.3" y1="754" x2="1399.3" y2="774"/><line x1="1399.9" y1="754" x2="1399.9" y2="774"/><line x1="1400.1" y1="754" x2="1400.1" y2="774"/><line x1="1400.6" y1="754" x2="1400.6" y2="774"/><line x1="1401.5" y1="754" x2="1401.5" y2="774"/><line x1="1401.7" y1="754" x2="1401.7" y2="774"/><line x1="1401.8" y1="754" x2="1401.8" y2="774"/><line x1="1402.3" y1="754" x2="1402.3" y2="774"/><line x1="1402.4" y1="754" x2="1402.4" y2="774"/><line x1="1402.5" y1="754" x2="1402.5" y2="774"/><line x1="1403.6" y1="754" x2="1403.6" y2="774"/><line x1="1404.1" y1="754" x2="1404.1" y2="774"/><line x1="1404.3" y1="754" x2="1404.3" y2="774"/><line x1="1405.0" y1="754" x2="1405.0" y2="774"/><line x1="1406.0" y1="754" x2="1406.0" y2="774"/><line x1="1406.1" y1="754" x2="1406.1" y2="774"/><line x1="1406.4" y1="754" x2="1406.4" y2="774"/><line x1="1406.5" y1="754" x2="1406.5" y2="774"/><line x1="1406.7" y1="754" x2="1406.7" y2="774"/><line x1="1407.3" y1="754" x2="1407.3" y2="774"/><line x1="1407.9" y1="754" x2="1407.9" y2="774"/><line x1="1408.0" y1="754" x2="1408.0" y2="774"/><line x1="1408.8" y1="754" x2="1408.8" y2="774"/><line x1="1409.3" y1="754" x2="1409.3" y2="774"/><line x1="1410.1" y1="754" x2="1410.1" y2="774"/><line x1="1410.4" y1="754" x2="1410.4" y2="774"/><line x1="1410.7" y1="754" x2="1410.7" y2="774"/><line x1="1411.3" y1="754" x2="1411.3" y2="774"/><line x1="1411.4" y1="754" x2="1411.4" y2="774"/><line x1="1412.0" y1="754" x2="1412.0" y2="774"/><line x1="1412.0" y1="754" x2="1412.0" y2="774"/><line x1="1412.2" y1="754" x2="1412.2" y2="774"/><line x1="1412.4" y1="754" x2="1412.4" y2="774"/><line x1="1412.6" y1="754" x2="1412.6" y2="774"/><line x1="1412.7" y1="754" x2="1412.7" y2="774"/><line x1="1412.9" y1="754" x2="1412.9" y2="774"/><line x1="1413.1" y1="754" x2="1413.1" y2="774"/><line x1="1413.2" y1="754" x2="1413.2" y2="774"/><line x1="1413.4" y1="754" x2="1413.4" y2="774"/><line x1="1413.5" y1="754" x2="1413.5" y2="774"/><line x1="1413.6" y1="754" x2="1413.6" y2="774"/><line x1="1413.8" y1="754" x2="1413.8" y2="774"/><line x1="1414.0" y1="754" x2="1414.0" y2="774"/><line x1="1414.5" y1="754" x2="1414.5" y2="774"/><line x1="1414.8" y1="754" x2="1414.8" y2="774"/><line x1="1415.0" y1="754" x2="1415.0" y2="774"/><line x1="1415.5" y1="754" x2="1415.5" y2="774"/><line x1="1415.7" y1="754" x2="1415.7" y2="774"/><line x1="1416.3" y1="754" x2="1416.3" y2="774"/><line x1="1416.6" y1="754" x2="1416.6" y2="774"/><line x1="1417.1" y1="754" x2="1417.1" y2="774"/><line x1="1418.2" y1="754" x2="1418.2" y2="774"/><line x1="1418.5" y1="754" x2="1418.5" y2="774"/><line x1="1419.0" y1="754" x2="1419.0" y2="774"/><line x1="1419.1" y1="754" x2="1419.1" y2="774"/><line x1="1419.4" y1="754" x2="1419.4" y2="774"/><line x1="1419.8" y1="754" x2="1419.8" y2="774"/><line x1="1420.2" y1="754" x2="1420.2" y2="774"/><line x1="1420.4" y1="754" x2="1420.4" y2="774"/><line x1="1420.5" y1="754" x2="1420.5" y2="774"/><line x1="1421.6" y1="754" x2="1421.6" y2="774"/><line x1="1421.7" y1="754" x2="1421.7" y2="774"/><line x1="1421.8" y1="754" x2="1421.8" y2="774"/><line x1="1422.1" y1="754" x2="1422.1" y2="774"/><line x1="1423.1" y1="754" x2="1423.1" y2="774"/><line x1="1423.4" y1="754" x2="1423.4" y2="774"/><line x1="1423.8" y1="754" x2="1423.8" y2="774"/><line x1="1424.5" y1="754" x2="1424.5" y2="774"/><line x1="1424.6" y1="754" x2="1424.6" y2="774"/><line x1="1424.8" y1="754" x2="1424.8" y2="774"/><line x1="1425.0" y1="754" x2="1425.0" y2="774"/><line x1="1425.0" y1="754" x2="1425.0" y2="774"/><line x1="1425.5" y1="754" x2="1425.5" y2="774"/><line x1="1425.6" y1="754" x2="1425.6" y2="774"/><line x1="1425.8" y1="754" x2="1425.8" y2="774"/><line x1="1426.4" y1="754" x2="1426.4" y2="774"/><line x1="1426.7" y1="754" x2="1426.7" y2="774"/><line x1="1426.8" y1="754" x2="1426.8" y2="774"/><line x1="1426.9" y1="754" x2="1426.9" y2="774"/><line x1="1427.1" y1="754" x2="1427.1" y2="774"/><line x1="1427.3" y1="754" x2="1427.3" y2="774"/><line x1="1427.6" y1="754" x2="1427.6" y2="774"/><line x1="1428.1" y1="754" x2="1428.1" y2="774"/><line x1="1428.2" y1="754" x2="1428.2" y2="774"/><line x1="1428.3" y1="754" x2="1428.3" y2="774"/><line x1="1428.6" y1="754" x2="1428.6" y2="774"/><line x1="1429.2" y1="754" x2="1429.2" y2="774"/><line x1="1430.0" y1="754" x2="1430.0" y2="774"/><line x1="1430.1" y1="754" x2="1430.1" y2="774"/><line x1="1430.2" y1="754" x2="1430.2" y2="774"/><line x1="1430.5" y1="754" x2="1430.5" y2="774"/><line x1="1430.6" y1="754" x2="1430.6" y2="774"/><line x1="1430.9" y1="754" x2="1430.9" y2="774"/><line x1="1431.3" y1="754" x2="1431.3" y2="774"/><line x1="1431.3" y1="754" x2="1431.3" y2="774"/><line x1="1431.6" y1="754" x2="1431.6" y2="774"/><line x1="1431.8" y1="754" x2="1431.8" y2="774"/><line x1="1432.1" y1="754" x2="1432.1" y2="774"/><line x1="1432.3" y1="754" x2="1432.3" y2="774"/><line x1="1432.4" y1="754" x2="1432.4" y2="774"/><line x1="1432.5" y1="754" x2="1432.5" y2="774"/><line x1="1432.8" y1="754" x2="1432.8" y2="774"/><line x1="1432.9" y1="754" x2="1432.9" y2="774"/><line x1="1433.2" y1="754" x2="1433.2" y2="774"/><line x1="1434.2" y1="754" x2="1434.2" y2="774"/><line x1="1434.4" y1="754" x2="1434.4" y2="774"/><line x1="1434.5" y1="754" x2="1434.5" y2="774"/><line x1="1434.8" y1="754" x2="1434.8" y2="774"/><line x1="1434.9" y1="754" x2="1434.9" y2="774"/><line x1="1435.0" y1="754" x2="1435.0" y2="774"/><line x1="1435.6" y1="754" x2="1435.6" y2="774"/><line x1="1435.9" y1="754" x2="1435.9" y2="774"/><line x1="1436.7" y1="754" x2="1436.7" y2="774"/><line x1="1437.1" y1="754" x2="1437.1" y2="774"/><line x1="1437.7" y1="754" x2="1437.7" y2="774"/><line x1="1438.4" y1="754" x2="1438.4" y2="774"/><line x1="1438.5" y1="754" x2="1438.5" y2="774"/><line x1="1438.7" y1="754" x2="1438.7" y2="774"/><line x1="1439.1" y1="754" x2="1439.1" y2="774"/><line x1="1439.3" y1="754" x2="1439.3" y2="774"/><line x1="1439.5" y1="754" x2="1439.5" y2="774"/><line x1="1439.6" y1="754" x2="1439.6" y2="774"/><line x1="1439.7" y1="754" x2="1439.7" y2="774"/><line x1="1439.9" y1="754" x2="1439.9" y2="774"/><line x1="1440.0" y1="754" x2="1440.0" y2="774"/><line x1="1440.1" y1="754" x2="1440.1" y2="774"/><line x1="1440.4" y1="754" x2="1440.4" y2="774"/><line x1="1440.8" y1="754" x2="1440.8" y2="774"/><line x1="1441.4" y1="754" x2="1441.4" y2="774"/><line x1="1441.5" y1="754" x2="1441.5" y2="774"/><line x1="1441.9" y1="754" x2="1441.9" y2="774"/><line x1="1442.0" y1="754" x2="1442.0" y2="774"/><line x1="1442.1" y1="754" x2="1442.1" y2="774"/><line x1="1442.3" y1="754" x2="1442.3" y2="774"/><line x1="1442.5" y1="754" x2="1442.5" y2="774"/><line x1="1442.7" y1="754" x2="1442.7" y2="774"/><line x1="1442.8" y1="754" x2="1442.8" y2="774"/><line x1="1443.8" y1="754" x2="1443.8" y2="774"/><line x1="1444.2" y1="754" x2="1444.2" y2="774"/><line x1="1444.6" y1="754" x2="1444.6" y2="774"/><line x1="1444.8" y1="754" x2="1444.8" y2="774"/><line x1="1445.1" y1="754" x2="1445.1" y2="774"/><line x1="1445.2" y1="754" x2="1445.2" y2="774"/><line x1="1445.2" y1="754" x2="1445.2" y2="774"/><line x1="1445.4" y1="754" x2="1445.4" y2="774"/><line x1="1445.6" y1="754" x2="1445.6" y2="774"/><line x1="1446.2" y1="754" x2="1446.2" y2="774"/><line x1="1446.7" y1="754" x2="1446.7" y2="774"/><line x1="1446.7" y1="754" x2="1446.7" y2="774"/><line x1="1447.3" y1="754" x2="1447.3" y2="774"/><line x1="1448.1" y1="754" x2="1448.1" y2="774"/><line x1="1448.4" y1="754" x2="1448.4" y2="774"/><line x1="1448.9" y1="754" x2="1448.9" y2="774"/><line x1="1449.1" y1="754" x2="1449.1" y2="774"/><line x1="1449.3" y1="754" x2="1449.3" y2="774"/><line x1="1449.7" y1="754" x2="1449.7" y2="774"/><line x1="1449.9" y1="754" x2="1449.9" y2="774"/><line x1="1450.2" y1="754" x2="1450.2" y2="774"/><line x1="1450.6" y1="754" x2="1450.6" y2="774"/><line x1="1450.7" y1="754" x2="1450.7" y2="774"/><line x1="1450.8" y1="754" x2="1450.8" y2="774"/><line x1="1451.0" y1="754" x2="1451.0" y2="774"/><line x1="1451.1" y1="754" x2="1451.1" y2="774"/><line x1="1451.2" y1="754" x2="1451.2" y2="774"/><line x1="1451.3" y1="754" x2="1451.3" y2="774"/><line x1="1451.4" y1="754" x2="1451.4" y2="774"/><line x1="1451.5" y1="754" x2="1451.5" y2="774"/><line x1="1451.8" y1="754" x2="1451.8" y2="774"/><line x1="1452.0" y1="754" x2="1452.0" y2="774"/><line x1="1452.1" y1="754" x2="1452.1" y2="774"/><line x1="1452.8" y1="754" x2="1452.8" y2="774"/><line x1="1452.9" y1="754" x2="1452.9" y2="774"/><line x1="1453.9" y1="754" x2="1453.9" y2="774"/><line x1="1454.2" y1="754" x2="1454.2" y2="774"/><line x1="1454.2" y1="754" x2="1454.2" y2="774"/><line x1="1454.8" y1="754" x2="1454.8" y2="774"/><line x1="1455.0" y1="754" x2="1455.0" y2="774"/><line x1="1455.2" y1="754" x2="1455.2" y2="774"/><line x1="1455.4" y1="754" x2="1455.4" y2="774"/><line x1="1456.5" y1="754" x2="1456.5" y2="774"/><line x1="1456.6" y1="754" x2="1456.6" y2="774"/><line x1="1456.7" y1="754" x2="1456.7" y2="774"/><line x1="1456.8" y1="754" x2="1456.8" y2="774"/><line x1="1456.9" y1="754" x2="1456.9" y2="774"/><line x1="1457.2" y1="754" x2="1457.2" y2="774"/><line x1="1457.3" y1="754" x2="1457.3" y2="774"/><line x1="1457.4" y1="754" x2="1457.4" y2="774"/><line x1="1457.7" y1="754" x2="1457.7" y2="774"/><line x1="1458.0" y1="754" x2="1458.0" y2="774"/><line x1="1458.6" y1="754" x2="1458.6" y2="774"/><line x1="1458.7" y1="754" x2="1458.7" y2="774"/><line x1="1458.8" y1="754" x2="1458.8" y2="774"/><line x1="1459.0" y1="754" x2="1459.0" y2="774"/><line x1="1459.1" y1="754" x2="1459.1" y2="774"/><line x1="1459.9" y1="754" x2="1459.9" y2="774"/><line x1="1460.0" y1="754" x2="1460.0" y2="774"/><line x1="1460.9" y1="754" x2="1460.9" y2="774"/><line x1="1461.0" y1="754" x2="1461.0" y2="774"/><line x1="1461.3" y1="754" x2="1461.3" y2="774"/><line x1="1461.8" y1="754" x2="1461.8" y2="774"/><line x1="1461.8" y1="754" x2="1461.8" y2="774"/><line x1="1461.9" y1="754" x2="1461.9" y2="774"/><line x1="1462.3" y1="754" x2="1462.3" y2="774"/><line x1="1462.4" y1="754" x2="1462.4" y2="774"/><line x1="1462.8" y1="754" x2="1462.8" y2="774"/><line x1="1463.0" y1="754" x2="1463.0" y2="774"/><line x1="1463.3" y1="754" x2="1463.3" y2="774"/><line x1="1463.6" y1="754" x2="1463.6" y2="774"/><line x1="1464.2" y1="754" x2="1464.2" y2="774"/><line x1="1464.4" y1="754" x2="1464.4" y2="774"/><line x1="1464.6" y1="754" x2="1464.6" y2="774"/><line x1="1464.7" y1="754" x2="1464.7" y2="774"/><line x1="1465.0" y1="754" x2="1465.0" y2="774"/><line x1="1465.1" y1="754" x2="1465.1" y2="774"/><line x1="1465.3" y1="754" x2="1465.3" y2="774"/><line x1="1465.4" y1="754" x2="1465.4" y2="774"/><line x1="1465.6" y1="754" x2="1465.6" y2="774"/><line x1="1465.7" y1="754" x2="1465.7" y2="774"/><line x1="1465.7" y1="754" x2="1465.7" y2="774"/><line x1="1466.0" y1="754" x2="1466.0" y2="774"/><line x1="1466.1" y1="754" x2="1466.1" y2="774"/><line x1="1466.3" y1="754" x2="1466.3" y2="774"/><line x1="1466.5" y1="754" x2="1466.5" y2="774"/><line x1="1466.7" y1="754" x2="1466.7" y2="774"/><line x1="1466.9" y1="754" x2="1466.9" y2="774"/><line x1="1467.5" y1="754" x2="1467.5" y2="774"/><line x1="1467.6" y1="754" x2="1467.6" y2="774"/><line x1="1467.7" y1="754" x2="1467.7" y2="774"/><line x1="1468.0" y1="754" x2="1468.0" y2="774"/><line x1="1468.1" y1="754" x2="1468.1" y2="774"/><line x1="1468.5" y1="754" x2="1468.5" y2="774"/><line x1="1468.7" y1="754" x2="1468.7" y2="774"/><line x1="1469.2" y1="754" x2="1469.2" y2="774"/><line x1="1469.6" y1="754" x2="1469.6" y2="774"/><line x1="1469.7" y1="754" x2="1469.7" y2="774"/><line x1="1470.1" y1="754" x2="1470.1" y2="774"/><line x1="1470.6" y1="754" x2="1470.6" y2="774"/><line x1="1470.8" y1="754" x2="1470.8" y2="774"/><line x1="1471.0" y1="754" x2="1471.0" y2="774"/><line x1="1471.2" y1="754" x2="1471.2" y2="774"/><line x1="1472.2" y1="754" x2="1472.2" y2="774"/><line x1="1472.6" y1="754" x2="1472.6" y2="774"/><line x1="1473.0" y1="754" x2="1473.0" y2="774"/><line x1="1473.1" y1="754" x2="1473.1" y2="774"/><line x1="1473.2" y1="754" x2="1473.2" y2="774"/><line x1="1473.3" y1="754" x2="1473.3" y2="774"/><line x1="1473.4" y1="754" x2="1473.4" y2="774"/><line x1="1473.5" y1="754" x2="1473.5" y2="774"/><line x1="1473.7" y1="754" x2="1473.7" y2="774"/><line x1="1473.8" y1="754" x2="1473.8" y2="774"/><line x1="1474.0" y1="754" x2="1474.0" y2="774"/><line x1="1474.6" y1="754" x2="1474.6" y2="774"/><line x1="1475.0" y1="754" x2="1475.0" y2="774"/><line x1="1476.3" y1="754" x2="1476.3" y2="774"/><line x1="1476.4" y1="754" x2="1476.4" y2="774"/><line x1="1477.0" y1="754" x2="1477.0" y2="774"/><line x1="1477.2" y1="754" x2="1477.2" y2="774"/><line x1="1477.2" y1="754" x2="1477.2" y2="774"/><line x1="1477.3" y1="754" x2="1477.3" y2="774"/><line x1="1477.4" y1="754" x2="1477.4" y2="774"/><line x1="1477.6" y1="754" x2="1477.6" y2="774"/><line x1="1477.7" y1="754" x2="1477.7" y2="774"/><line x1="1477.9" y1="754" x2="1477.9" y2="774"/><line x1="1478.1" y1="754" x2="1478.1" y2="774"/><line x1="1478.3" y1="754" x2="1478.3" y2="774"/><line x1="1478.6" y1="754" x2="1478.6" y2="774"/><line x1="1478.7" y1="754" x2="1478.7" y2="774"/><line x1="1478.8" y1="754" x2="1478.8" y2="774"/><line x1="1478.9" y1="754" x2="1478.9" y2="774"/><line x1="1479.9" y1="754" x2="1479.9" y2="774"/><line x1="1480.0" y1="754" x2="1480.0" y2="774"/><line x1="1480.1" y1="754" x2="1480.1" y2="774"/><line x1="1480.3" y1="754" x2="1480.3" y2="774"/><line x1="1480.4" y1="754" x2="1480.4" y2="774"/><line x1="1481.2" y1="754" x2="1481.2" y2="774"/><line x1="1481.5" y1="754" x2="1481.5" y2="774"/><line x1="1481.7" y1="754" x2="1481.7" y2="774"/><line x1="1481.9" y1="754" x2="1481.9" y2="774"/><line x1="1482.0" y1="754" x2="1482.0" y2="774"/><line x1="1482.4" y1="754" x2="1482.4" y2="774"/><line x1="1482.8" y1="754" x2="1482.8" y2="774"/><line x1="1482.9" y1="754" x2="1482.9" y2="774"/><line x1="1483.1" y1="754" x2="1483.1" y2="774"/><line x1="1484.0" y1="754" x2="1484.0" y2="774"/><line x1="1484.1" y1="754" x2="1484.1" y2="774"/><line x1="1484.7" y1="754" x2="1484.7" y2="774"/><line x1="1484.8" y1="754" x2="1484.8" y2="774"/><line x1="1485.3" y1="754" x2="1485.3" y2="774"/><line x1="1485.5" y1="754" x2="1485.5" y2="774"/><line x1="1485.6" y1="754" x2="1485.6" y2="774"/><line x1="1485.9" y1="754" x2="1485.9" y2="774"/><line x1="1486.0" y1="754" x2="1486.0" y2="774"/><line x1="1486.1" y1="754" x2="1486.1" y2="774"/><line x1="1486.4" y1="754" x2="1486.4" y2="774"/><line x1="1486.5" y1="754" x2="1486.5" y2="774"/><line x1="1486.7" y1="754" x2="1486.7" y2="774"/><line x1="1487.2" y1="754" x2="1487.2" y2="774"/><line x1="1487.3" y1="754" x2="1487.3" y2="774"/><line x1="1487.4" y1="754" x2="1487.4" y2="774"/><line x1="1487.5" y1="754" x2="1487.5" y2="774"/><line x1="1487.7" y1="754" x2="1487.7" y2="774"/><line x1="1487.8" y1="754" x2="1487.8" y2="774"/><line x1="1488.3" y1="754" x2="1488.3" y2="774"/><line x1="1488.7" y1="754" x2="1488.7" y2="774"/><line x1="1489.0" y1="754" x2="1489.0" y2="774"/><line x1="1490.2" y1="754" x2="1490.2" y2="774"/><line x1="1490.5" y1="754" x2="1490.5" y2="774"/><line x1="1490.7" y1="754" x2="1490.7" y2="774"/><line x1="1490.8" y1="754" x2="1490.8" y2="774"/><line x1="1490.9" y1="754" x2="1490.9" y2="774"/><line x1="1491.4" y1="754" x2="1491.4" y2="774"/><line x1="1491.7" y1="754" x2="1491.7" y2="774"/><line x1="1491.8" y1="754" x2="1491.8" y2="774"/><line x1="1492.2" y1="754" x2="1492.2" y2="774"/><line x1="1492.3" y1="754" x2="1492.3" y2="774"/><line x1="1493.5" y1="754" x2="1493.5" y2="774"/><line x1="1493.7" y1="754" x2="1493.7" y2="774"/><line x1="1493.9" y1="754" x2="1493.9" y2="774"/><line x1="1494.1" y1="754" x2="1494.1" y2="774"/><line x1="1494.3" y1="754" x2="1494.3" y2="774"/><line x1="1494.6" y1="754" x2="1494.6" y2="774"/><line x1="1495.6" y1="754" x2="1495.6" y2="774"/><line x1="1496.0" y1="754" x2="1496.0" y2="774"/><line x1="1496.1" y1="754" x2="1496.1" y2="774"/><line x1="1496.3" y1="754" x2="1496.3" y2="774"/><line x1="1496.4" y1="754" x2="1496.4" y2="774"/><line x1="1496.5" y1="754" x2="1496.5" y2="774"/><line x1="1496.6" y1="754" x2="1496.6" y2="774"/><line x1="1497.1" y1="754" x2="1497.1" y2="774"/><line x1="1497.4" y1="754" x2="1497.4" y2="774"/><line x1="1498.7" y1="754" x2="1498.7" y2="774"/><line x1="1498.9" y1="754" x2="1498.9" y2="774"/><line x1="1499.1" y1="754" x2="1499.1" y2="774"/><line x1="1499.7" y1="754" x2="1499.7" y2="774"/><line x1="1499.9" y1="754" x2="1499.9" y2="774"/><line x1="1500.1" y1="754" x2="1500.1" y2="774"/><line x1="1500.3" y1="754" x2="1500.3" y2="774"/><line x1="1500.5" y1="754" x2="1500.5" y2="774"/><line x1="1501.1" y1="754" x2="1501.1" y2="774"/><line x1="1501.4" y1="754" x2="1501.4" y2="774"/><line x1="1501.5" y1="754" x2="1501.5" y2="774"/><line x1="1502.3" y1="754" x2="1502.3" y2="774"/><line x1="1502.4" y1="754" x2="1502.4" y2="774"/><line x1="1502.5" y1="754" x2="1502.5" y2="774"/><line x1="1502.8" y1="754" x2="1502.8" y2="774"/><line x1="1502.9" y1="754" x2="1502.9" y2="774"/><line x1="1503.0" y1="754" x2="1503.0" y2="774"/><line x1="1503.2" y1="754" x2="1503.2" y2="774"/><line x1="1503.7" y1="754" x2="1503.7" y2="774"/><line x1="1504.4" y1="754" x2="1504.4" y2="774"/><line x1="1504.8" y1="754" x2="1504.8" y2="774"/><line x1="1505.2" y1="754" x2="1505.2" y2="774"/><line x1="1505.4" y1="754" x2="1505.4" y2="774"/><line x1="1505.5" y1="754" x2="1505.5" y2="774"/><line x1="1505.7" y1="754" x2="1505.7" y2="774"/><line x1="1507.4" y1="754" x2="1507.4" y2="774"/><line x1="1507.9" y1="754" x2="1507.9" y2="774"/><line x1="1508.0" y1="754" x2="1508.0" y2="774"/><line x1="1508.0" y1="754" x2="1508.0" y2="774"/><line x1="1508.1" y1="754" x2="1508.1" y2="774"/><line x1="1508.4" y1="754" x2="1508.4" y2="774"/><line x1="1508.7" y1="754" x2="1508.7" y2="774"/><line x1="1508.9" y1="754" x2="1508.9" y2="774"/><line x1="1509.0" y1="754" x2="1509.0" y2="774"/><line x1="1509.1" y1="754" x2="1509.1" y2="774"/><line x1="1509.2" y1="754" x2="1509.2" y2="774"/><line x1="1509.2" y1="754" x2="1509.2" y2="774"/><line x1="1510.1" y1="754" x2="1510.1" y2="774"/><line x1="1510.3" y1="754" x2="1510.3" y2="774"/><line x1="1510.4" y1="754" x2="1510.4" y2="774"/><line x1="1510.6" y1="754" x2="1510.6" y2="774"/><line x1="1510.7" y1="754" x2="1510.7" y2="774"/><line x1="1510.9" y1="754" x2="1510.9" y2="774"/><line x1="1511.1" y1="754" x2="1511.1" y2="774"/><line x1="1511.4" y1="754" x2="1511.4" y2="774"/><line x1="1512.0" y1="754" x2="1512.0" y2="774"/><line x1="1512.1" y1="754" x2="1512.1" y2="774"/><line x1="1512.7" y1="754" x2="1512.7" y2="774"/><line x1="1513.0" y1="754" x2="1513.0" y2="774"/><line x1="1513.2" y1="754" x2="1513.2" y2="774"/><line x1="1513.7" y1="754" x2="1513.7" y2="774"/><line x1="1514.3" y1="754" x2="1514.3" y2="774"/><line x1="1514.5" y1="754" x2="1514.5" y2="774"/><line x1="1514.7" y1="754" x2="1514.7" y2="774"/><line x1="1514.7" y1="754" x2="1514.7" y2="774"/><line x1="1514.9" y1="754" x2="1514.9" y2="774"/><line x1="1515.0" y1="754" x2="1515.0" y2="774"/><line x1="1515.1" y1="754" x2="1515.1" y2="774"/><line x1="1515.3" y1="754" x2="1515.3" y2="774"/><line x1="1515.5" y1="754" x2="1515.5" y2="774"/><line x1="1515.6" y1="754" x2="1515.6" y2="774"/><line x1="1515.9" y1="754" x2="1515.9" y2="774"/><line x1="1515.9" y1="754" x2="1515.9" y2="774"/><line x1="1516.7" y1="754" x2="1516.7" y2="774"/><line x1="1517.0" y1="754" x2="1517.0" y2="774"/><line x1="1517.2" y1="754" x2="1517.2" y2="774"/><line x1="1517.4" y1="754" x2="1517.4" y2="774"/><line x1="1517.6" y1="754" x2="1517.6" y2="774"/><line x1="1518.2" y1="754" x2="1518.2" y2="774"/><line x1="1518.4" y1="754" x2="1518.4" y2="774"/><line x1="1518.8" y1="754" x2="1518.8" y2="774"/><line x1="1519.0" y1="754" x2="1519.0" y2="774"/><line x1="1519.7" y1="754" x2="1519.7" y2="774"/><line x1="1519.9" y1="754" x2="1519.9" y2="774"/><line x1="1520.8" y1="754" x2="1520.8" y2="774"/><line x1="1521.4" y1="754" x2="1521.4" y2="774"/><line x1="1521.8" y1="754" x2="1521.8" y2="774"/><line x1="1521.9" y1="754" x2="1521.9" y2="774"/><line x1="1522.0" y1="754" x2="1522.0" y2="774"/><line x1="1522.2" y1="754" x2="1522.2" y2="774"/><line x1="1522.2" y1="754" x2="1522.2" y2="774"/><line x1="1522.3" y1="754" x2="1522.3" y2="774"/><line x1="1522.6" y1="754" x2="1522.6" y2="774"/><line x1="1523.2" y1="754" x2="1523.2" y2="774"/><line x1="1523.3" y1="754" x2="1523.3" y2="774"/><line x1="1523.8" y1="754" x2="1523.8" y2="774"/><line x1="1523.8" y1="754" x2="1523.8" y2="774"/><line x1="1524.6" y1="754" x2="1524.6" y2="774"/><line x1="1524.6" y1="754" x2="1524.6" y2="774"/><line x1="1525.0" y1="754" x2="1525.0" y2="774"/><line x1="1525.0" y1="754" x2="1525.0" y2="774"/><line x1="1525.5" y1="754" x2="1525.5" y2="774"/><line x1="1525.8" y1="754" x2="1525.8" y2="774"/><line x1="1525.8" y1="754" x2="1525.8" y2="774"/><line x1="1526.0" y1="754" x2="1526.0" y2="774"/><line x1="1526.1" y1="754" x2="1526.1" y2="774"/><line x1="1526.5" y1="754" x2="1526.5" y2="774"/><line x1="1526.7" y1="754" x2="1526.7" y2="774"/><line x1="1526.8" y1="754" x2="1526.8" y2="774"/><line x1="1526.9" y1="754" x2="1526.9" y2="774"/><line x1="1527.3" y1="754" x2="1527.3" y2="774"/><line x1="1527.3" y1="754" x2="1527.3" y2="774"/><line x1="1527.6" y1="754" x2="1527.6" y2="774"/><line x1="1528.1" y1="754" x2="1528.1" y2="774"/><line x1="1528.2" y1="754" x2="1528.2" y2="774"/><line x1="1528.4" y1="754" x2="1528.4" y2="774"/><line x1="1528.5" y1="754" x2="1528.5" y2="774"/><line x1="1528.7" y1="754" x2="1528.7" y2="774"/><line x1="1528.9" y1="754" x2="1528.9" y2="774"/><line x1="1529.1" y1="754" x2="1529.1" y2="774"/><line x1="1529.3" y1="754" x2="1529.3" y2="774"/><line x1="1529.6" y1="754" x2="1529.6" y2="774"/><line x1="1530.1" y1="754" x2="1530.1" y2="774"/><line x1="1530.2" y1="754" x2="1530.2" y2="774"/><line x1="1530.6" y1="754" x2="1530.6" y2="774"/><line x1="1530.8" y1="754" x2="1530.8" y2="774"/><line x1="1531.3" y1="754" x2="1531.3" y2="774"/><line x1="1531.3" y1="754" x2="1531.3" y2="774"/><line x1="1531.7" y1="754" x2="1531.7" y2="774"/><line x1="1532.4" y1="754" x2="1532.4" y2="774"/><line x1="1532.6" y1="754" x2="1532.6" y2="774"/><line x1="1532.7" y1="754" x2="1532.7" y2="774"/><line x1="1532.9" y1="754" x2="1532.9" y2="774"/><line x1="1532.9" y1="754" x2="1532.9" y2="774"/><line x1="1533.1" y1="754" x2="1533.1" y2="774"/><line x1="1533.2" y1="754" x2="1533.2" y2="774"/><line x1="1533.3" y1="754" x2="1533.3" y2="774"/><line x1="1533.6" y1="754" x2="1533.6" y2="774"/><line x1="1533.7" y1="754" x2="1533.7" y2="774"/><line x1="1534.2" y1="754" x2="1534.2" y2="774"/><line x1="1534.3" y1="754" x2="1534.3" y2="774"/><line x1="1534.4" y1="754" x2="1534.4" y2="774"/><line x1="1534.8" y1="754" x2="1534.8" y2="774"/><line x1="1534.9" y1="754" x2="1534.9" y2="774"/><line x1="1535.2" y1="754" x2="1535.2" y2="774"/><line x1="1535.6" y1="754" x2="1535.6" y2="774"/><line x1="1536.1" y1="754" x2="1536.1" y2="774"/><line x1="1536.3" y1="754" x2="1536.3" y2="774"/><line x1="1536.4" y1="754" x2="1536.4" y2="774"/><line x1="1536.6" y1="754" x2="1536.6" y2="774"/><line x1="1536.7" y1="754" x2="1536.7" y2="774"/><line x1="1536.9" y1="754" x2="1536.9" y2="774"/><line x1="1537.1" y1="754" x2="1537.1" y2="774"/><line x1="1537.6" y1="754" x2="1537.6" y2="774"/><line x1="1537.7" y1="754" x2="1537.7" y2="774"/><line x1="1538.0" y1="754" x2="1538.0" y2="774"/><line x1="1538.0" y1="754" x2="1538.0" y2="774"/><line x1="1538.3" y1="754" x2="1538.3" y2="774"/><line x1="1538.7" y1="754" x2="1538.7" y2="774"/><line x1="1538.8" y1="754" x2="1538.8" y2="774"/><line x1="1539.0" y1="754" x2="1539.0" y2="774"/><line x1="1539.4" y1="754" x2="1539.4" y2="774"/><line x1="1540.0" y1="754" x2="1540.0" y2="774"/><line x1="1540.3" y1="754" x2="1540.3" y2="774"/><line x1="1540.4" y1="754" x2="1540.4" y2="774"/><line x1="1540.4" y1="754" x2="1540.4" y2="774"/><line x1="1540.8" y1="754" x2="1540.8" y2="774"/><line x1="1541.0" y1="754" x2="1541.0" y2="774"/><line x1="1541.3" y1="754" x2="1541.3" y2="774"/><line x1="1541.4" y1="754" x2="1541.4" y2="774"/><line x1="1541.8" y1="754" x2="1541.8" y2="774"/><line x1="1542.1" y1="754" x2="1542.1" y2="774"/><line x1="1542.3" y1="754" x2="1542.3" y2="774"/><line x1="1543.7" y1="754" x2="1543.7" y2="774"/><line x1="1543.8" y1="754" x2="1543.8" y2="774"/><line x1="1544.2" y1="754" x2="1544.2" y2="774"/><line x1="1544.3" y1="754" x2="1544.3" y2="774"/><line x1="1544.4" y1="754" x2="1544.4" y2="774"/><line x1="1544.9" y1="754" x2="1544.9" y2="774"/><line x1="1545.7" y1="754" x2="1545.7" y2="774"/><line x1="1546.6" y1="754" x2="1546.6" y2="774"/><line x1="1547.3" y1="754" x2="1547.3" y2="774"/><line x1="1547.6" y1="754" x2="1547.6" y2="774"/><line x1="1548.4" y1="754" x2="1548.4" y2="774"/><line x1="1548.8" y1="754" x2="1548.8" y2="774"/><line x1="1549.1" y1="754" x2="1549.1" y2="774"/><line x1="1549.1" y1="754" x2="1549.1" y2="774"/><line x1="1549.8" y1="754" x2="1549.8" y2="774"/><line x1="1550.5" y1="754" x2="1550.5" y2="774"/><line x1="1551.3" y1="754" x2="1551.3" y2="774"/><line x1="1551.4" y1="754" x2="1551.4" y2="774"/><line x1="1551.9" y1="754" x2="1551.9" y2="774"/><line x1="1552.3" y1="754" x2="1552.3" y2="774"/><line x1="1552.5" y1="754" x2="1552.5" y2="774"/><line x1="1552.6" y1="754" x2="1552.6" y2="774"/><line x1="1553.4" y1="754" x2="1553.4" y2="774"/><line x1="1553.7" y1="754" x2="1553.7" y2="774"/><line x1="1553.9" y1="754" x2="1553.9" y2="774"/><line x1="1554.1" y1="754" x2="1554.1" y2="774"/><line x1="1554.6" y1="754" x2="1554.6" y2="774"/><line x1="1555.3" y1="754" x2="1555.3" y2="774"/><line x1="1555.8" y1="754" x2="1555.8" y2="774"/><line x1="1557.1" y1="754" x2="1557.1" y2="774"/><line x1="1557.3" y1="754" x2="1557.3" y2="774"/><line x1="1557.8" y1="754" x2="1557.8" y2="774"/><line x1="1557.9" y1="754" x2="1557.9" y2="774"/><line x1="1558.1" y1="754" x2="1558.1" y2="774"/><line x1="1558.5" y1="754" x2="1558.5" y2="774"/><line x1="1558.5" y1="754" x2="1558.5" y2="774"/><line x1="1559.2" y1="754" x2="1559.2" y2="774"/><line x1="1559.5" y1="754" x2="1559.5" y2="774"/><line x1="1559.8" y1="754" x2="1559.8" y2="774"/><line x1="1559.9" y1="754" x2="1559.9" y2="774"/><line x1="1560.1" y1="754" x2="1560.1" y2="774"/><line x1="1560.2" y1="754" x2="1560.2" y2="774"/><line x1="1560.9" y1="754" x2="1560.9" y2="774"/><line x1="1561.4" y1="754" x2="1561.4" y2="774"/><line x1="1562.5" y1="754" x2="1562.5" y2="774"/><line x1="1562.9" y1="754" x2="1562.9" y2="774"/><line x1="1563.4" y1="754" x2="1563.4" y2="774"/><line x1="1563.6" y1="754" x2="1563.6" y2="774"/><line x1="1563.8" y1="754" x2="1563.8" y2="774"/><line x1="1564.0" y1="754" x2="1564.0" y2="774"/><line x1="1564.5" y1="754" x2="1564.5" y2="774"/><line x1="1564.7" y1="754" x2="1564.7" y2="774"/><line x1="1565.0" y1="754" x2="1565.0" y2="774"/><line x1="1565.3" y1="754" x2="1565.3" y2="774"/><line x1="1565.9" y1="754" x2="1565.9" y2="774"/><line x1="1566.4" y1="754" x2="1566.4" y2="774"/><line x1="1566.8" y1="754" x2="1566.8" y2="774"/><line x1="1567.2" y1="754" x2="1567.2" y2="774"/><line x1="1567.2" y1="754" x2="1567.2" y2="774"/><line x1="1567.5" y1="754" x2="1567.5" y2="774"/><line x1="1567.6" y1="754" x2="1567.6" y2="774"/><line x1="1568.1" y1="754" x2="1568.1" y2="774"/><line x1="1568.2" y1="754" x2="1568.2" y2="774"/><line x1="1568.3" y1="754" x2="1568.3" y2="774"/><line x1="1568.9" y1="754" x2="1568.9" y2="774"/><line x1="1569.0" y1="754" x2="1569.0" y2="774"/><line x1="1569.3" y1="754" x2="1569.3" y2="774"/><line x1="1569.4" y1="754" x2="1569.4" y2="774"/><line x1="1570.8" y1="754" x2="1570.8" y2="774"/><line x1="1571.0" y1="754" x2="1571.0" y2="774"/><line x1="1571.4" y1="754" x2="1571.4" y2="774"/><line x1="1571.6" y1="754" x2="1571.6" y2="774"/><line x1="1572.5" y1="754" x2="1572.5" y2="774"/><line x1="1573.8" y1="754" x2="1573.8" y2="774"/><line x1="1573.9" y1="754" x2="1573.9" y2="774"/><line x1="1574.0" y1="754" x2="1574.0" y2="774"/><line x1="1574.2" y1="754" x2="1574.2" y2="774"/><line x1="1575.5" y1="754" x2="1575.5" y2="774"/><line x1="1575.9" y1="754" x2="1575.9" y2="774"/><line x1="1577.0" y1="754" x2="1577.0" y2="774"/><line x1="1577.5" y1="754" x2="1577.5" y2="774"/><line x1="1577.6" y1="754" x2="1577.6" y2="774"/><line x1="1577.8" y1="754" x2="1577.8" y2="774"/><line x1="1578.7" y1="754" x2="1578.7" y2="774"/><line x1="1579.2" y1="754" x2="1579.2" y2="774"/><line x1="1579.3" y1="754" x2="1579.3" y2="774"/><line x1="1579.4" y1="754" x2="1579.4" y2="774"/><line x1="1579.5" y1="754" x2="1579.5" y2="774"/><line x1="1579.5" y1="754" x2="1579.5" y2="774"/><line x1="1579.6" y1="754" x2="1579.6" y2="774"/><line x1="1579.9" y1="754" x2="1579.9" y2="774"/><line x1="1580.7" y1="754" x2="1580.7" y2="774"/><line x1="1580.8" y1="754" x2="1580.8" y2="774"/><line x1="1581.6" y1="754" x2="1581.6" y2="774"/><line x1="1581.8" y1="754" x2="1581.8" y2="774"/><line x1="1582.2" y1="754" x2="1582.2" y2="774"/><line x1="1582.3" y1="754" x2="1582.3" y2="774"/><line x1="1582.4" y1="754" x2="1582.4" y2="774"/><line x1="1582.9" y1="754" x2="1582.9" y2="774"/><line x1="1583.2" y1="754" x2="1583.2" y2="774"/><line x1="1583.3" y1="754" x2="1583.3" y2="774"/><line x1="1583.8" y1="754" x2="1583.8" y2="774"/><line x1="1584.0" y1="754" x2="1584.0" y2="774"/><line x1="1584.4" y1="754" x2="1584.4" y2="774"/><line x1="1585.4" y1="754" x2="1585.4" y2="774"/><line x1="1585.5" y1="754" x2="1585.5" y2="774"/><line x1="1585.8" y1="754" x2="1585.8" y2="774"/><line x1="1586.0" y1="754" x2="1586.0" y2="774"/><line x1="1587.0" y1="754" x2="1587.0" y2="774"/><line x1="1587.8" y1="754" x2="1587.8" y2="774"/><line x1="1589.1" y1="754" x2="1589.1" y2="774"/><line x1="1589.3" y1="754" x2="1589.3" y2="774"/><line x1="1589.7" y1="754" x2="1589.7" y2="774"/><line x1="1590.1" y1="754" x2="1590.1" y2="774"/><line x1="1590.2" y1="754" x2="1590.2" y2="774"/><line x1="1590.6" y1="754" x2="1590.6" y2="774"/><line x1="1590.7" y1="754" x2="1590.7" y2="774"/><line x1="1591.5" y1="754" x2="1591.5" y2="774"/><line x1="1591.7" y1="754" x2="1591.7" y2="774"/><line x1="1592.5" y1="754" x2="1592.5" y2="774"/><line x1="1592.6" y1="754" x2="1592.6" y2="774"/><line x1="1594.0" y1="754" x2="1594.0" y2="774"/><line x1="1594.8" y1="754" x2="1594.8" y2="774"/><line x1="1594.9" y1="754" x2="1594.9" y2="774"/><line x1="1595.2" y1="754" x2="1595.2" y2="774"/><line x1="1595.3" y1="754" x2="1595.3" y2="774"/><line x1="1595.9" y1="754" x2="1595.9" y2="774"/><line x1="1596.1" y1="754" x2="1596.1" y2="774"/><line x1="1596.6" y1="754" x2="1596.6" y2="774"/><line x1="1597.3" y1="754" x2="1597.3" y2="774"/><line x1="1597.4" y1="754" x2="1597.4" y2="774"/><line x1="1598.5" y1="754" x2="1598.5" y2="774"/><line x1="1598.8" y1="754" x2="1598.8" y2="774"/><line x1="1598.8" y1="754" x2="1598.8" y2="774"/><line x1="1599.0" y1="754" x2="1599.0" y2="774"/><line x1="1600.0" y1="754" x2="1600.0" y2="774"/><line x1="1600.2" y1="754" x2="1600.2" y2="774"/><line x1="1600.4" y1="754" x2="1600.4" y2="774"/><line x1="1600.9" y1="754" x2="1600.9" y2="774"/><line x1="1601.1" y1="754" x2="1601.1" y2="774"/><line x1="1601.2" y1="754" x2="1601.2" y2="774"/><line x1="1601.6" y1="754" x2="1601.6" y2="774"/><line x1="1602.4" y1="754" x2="1602.4" y2="774"/><line x1="1602.5" y1="754" x2="1602.5" y2="774"/><line x1="1602.6" y1="754" x2="1602.6" y2="774"/><line x1="1604.1" y1="754" x2="1604.1" y2="774"/><line x1="1604.7" y1="754" x2="1604.7" y2="774"/><line x1="1605.0" y1="754" x2="1605.0" y2="774"/><line x1="1607.3" y1="754" x2="1607.3" y2="774"/><line x1="1608.8" y1="754" x2="1608.8" y2="774"/><line x1="1609.5" y1="754" x2="1609.5" y2="774"/><line x1="1610.3" y1="754" x2="1610.3" y2="774"/><line x1="1611.0" y1="754" x2="1611.0" y2="774"/><line x1="1611.7" y1="754" x2="1611.7" y2="774"/><line x1="1613.6" y1="754" x2="1613.6" y2="774"/><line x1="1613.8" y1="754" x2="1613.8" y2="774"/><line x1="1614.6" y1="754" x2="1614.6" y2="774"/><line x1="1615.2" y1="754" x2="1615.2" y2="774"/><line x1="1616.1" y1="754" x2="1616.1" y2="774"/><line x1="1617.3" y1="754" x2="1617.3" y2="774"/><line x1="1619.4" y1="754" x2="1619.4" y2="774"/><line x1="1619.8" y1="754" x2="1619.8" y2="774"/><line x1="1620.4" y1="754" x2="1620.4" y2="774"/><line x1="1620.6" y1="754" x2="1620.6" y2="774"/><line x1="1621.0" y1="754" x2="1621.0" y2="774"/><line x1="1622.5" y1="754" x2="1622.5" y2="774"/><line x1="1622.8" y1="754" x2="1622.8" y2="774"/><line x1="1624.9" y1="754" x2="1624.9" y2="774"/><line x1="1625.7" y1="754" x2="1625.7" y2="774"/><line x1="1627.2" y1="754" x2="1627.2" y2="774"/><line x1="1628.6" y1="754" x2="1628.6" y2="774"/><line x1="1629.3" y1="754" x2="1629.3" y2="774"/><line x1="1631.6" y1="754" x2="1631.6" y2="774"/><line x1="1632.0" y1="754" x2="1632.0" y2="774"/><line x1="1634.4" y1="754" x2="1634.4" y2="774"/><line x1="1635.2" y1="754" x2="1635.2" y2="774"/><line x1="1635.2" y1="754" x2="1635.2" y2="774"/><line x1="1637.0" y1="754" x2="1637.0" y2="774"/><line x1="1637.4" y1="754" x2="1637.4" y2="774"/><line x1="1640.3" y1="754" x2="1640.3" y2="774"/><line x1="1644.5" y1="754" x2="1644.5" y2="774"/><line x1="1644.7" y1="754" x2="1644.7" y2="774"/><line x1="1645.0" y1="754" x2="1645.0" y2="774"/><line x1="1647.0" y1="754" x2="1647.0" y2="774"/><line x1="1649.6" y1="754" x2="1649.6" y2="774"/><line x1="1652.5" y1="754" x2="1652.5" y2="774"/><line x1="1653.0" y1="754" x2="1653.0" y2="774"/><line x1="1658.6" y1="754" x2="1658.6" y2="774"/><line x1="1658.9" y1="754" x2="1658.9" y2="774"/><line x1="1660.0" y1="754" x2="1660.0" y2="774"/><line x1="1661.6" y1="754" x2="1661.6" y2="774"/><line x1="1662.6" y1="754" x2="1662.6" y2="774"/><line x1="1664.9" y1="754" x2="1664.9" y2="774"/><line x1="1667.2" y1="754" x2="1667.2" y2="774"/><line x1="1668.9" y1="754" x2="1668.9" y2="774"/><line x1="1670.1" y1="754" x2="1670.1" y2="774"/><line x1="1672.6" y1="754" x2="1672.6" y2="774"/><line x1="1673.4" y1="754" x2="1673.4" y2="774"/><line x1="1675.3" y1="754" x2="1675.3" y2="774"/><line x1="1677.0" y1="754" x2="1677.0" y2="774"/><line x1="1677.8" y1="754" x2="1677.8" y2="774"/><line x1="1680.6" y1="754" x2="1680.6" y2="774"/><line x1="1680.9" y1="754" x2="1680.9" y2="774"/><line x1="1682.5" y1="754" x2="1682.5" y2="774"/><line x1="1684.8" y1="754" x2="1684.8" y2="774"/><line x1="1687.1" y1="754" x2="1687.1" y2="774"/><line x1="1708.1" y1="754" x2="1708.1" y2="774"/><line x1="1714.2" y1="754" x2="1714.2" y2="774"/><line x1="1717.4" y1="754" x2="1717.4" y2="774"/><line x1="1719.8" y1="754" x2="1719.8" y2="774"/><line x1="1723.0" y1="754" x2="1723.0" y2="774"/><line x1="1736.9" y1="754" x2="1736.9" y2="774"/><line x1="1748.6" y1="754" x2="1748.6" y2="774"/><line x1="1751.7" y1="754" x2="1751.7" y2="774"/><line x1="1754.9" y1="754" x2="1754.9" y2="774"/><line x1="1758.1" y1="754" x2="1758.1" y2="774"/><line x1="1774.9" y1="754" x2="1774.9" y2="774"/><line x1="1824.4" y1="754" x2="1824.4" y2="774"/><line x1="1863.9" y1="754" x2="1863.9" y2="774"/></g>
<path class="ci" d="M1165.7,213.9 L1167.7,216.6 L1169.7,219.4 L1171.7,222.2 L1173.7,225.0 L1175.7,227.7 L1177.7,230.4 L1179.7,233.2 L1181.7,235.9 L1183.7,238.6 L1185.7,241.3 L1187.7,243.9 L1189.7,246.6 L1191.7,249.2 L1193.7,251.9 L1195.7,254.5 L1197.7,257.1 L1199.7,259.7 L1201.7,262.3 L1203.7,264.9 L1205.7,267.5 L1207.7,270.0 L1209.7,272.5 L1211.7,275.1 L1213.7,277.6 L1215.7,280.1 L1217.7,282.6 L1219.7,285.1 L1221.7,287.5 L1223.7,290.0 L1225.7,292.4 L1227.7,294.9 L1229.7,297.3 L1231.7,299.7 L1233.7,302.1 L1235.7,304.5 L1237.7,306.9 L1239.7,309.2 L1241.7,311.6 L1243.7,313.9 L1245.7,316.3 L1247.7,318.6 L1249.7,320.9 L1251.7,323.2 L1253.7,325.5 L1255.7,327.7 L1257.7,330.0 L1259.7,332.2 L1261.7,334.5 L1263.7,336.7 L1265.7,338.9 L1267.7,341.1 L1269.7,343.3 L1271.7,345.5 L1273.7,347.6 L1275.7,349.8 L1277.7,351.9 L1279.7,354.1 L1281.7,356.2 L1283.7,358.3 L1285.7,360.4 L1287.7,362.5 L1289.7,364.6 L1291.7,366.6 L1293.7,368.7 L1295.7,370.7 L1297.7,372.7 L1299.7,374.8 L1301.7,376.8 L1303.7,378.8 L1305.7,380.7 L1307.7,382.7 L1309.7,384.7 L1311.7,386.6 L1313.7,388.6 L1315.7,390.5 L1317.7,392.4 L1319.7,394.3 L1321.7,396.2 L1323.7,398.1 L1325.7,399.9 L1327.7,401.8 L1329.7,403.6 L1331.7,405.5 L1333.7,407.3 L1335.7,409.1 L1337.7,410.9 L1339.7,412.7 L1341.7,414.5 L1343.7,416.2 L1345.7,418.0 L1347.7,419.7 L1349.7,421.5 L1351.7,423.2 L1353.7,424.9 L1355.7,426.6 L1357.7,428.3 L1359.7,429.9 L1361.7,431.6 L1363.7,433.2 L1365.7,434.9 L1367.7,436.5 L1369.7,438.1 L1371.7,439.7 L1373.7,441.3 L1375.7,442.9 L1377.7,444.4 L1379.7,446.0 L1381.7,447.5 L1383.7,449.0 L1385.7,450.5 L1387.7,452.0 L1389.7,453.5 L1391.7,455.0 L1393.7,456.5 L1395.7,457.9 L1397.7,459.4 L1399.7,460.8 L1401.7,462.2 L1403.7,463.6 L1405.7,465.0 L1407.7,466.4 L1409.7,467.8 L1411.7,469.1 L1413.7,470.5 L1415.7,471.8 L1417.7,473.1 L1419.7,474.4 L1421.7,475.7 L1423.7,477.0 L1425.7,478.3 L1427.7,479.5 L1429.7,480.8 L1431.7,482.0 L1433.7,483.2 L1435.7,484.4 L1437.7,485.6 L1439.7,486.8 L1441.7,488.0 L1443.7,489.1 L1445.7,490.3 L1447.7,491.4 L1449.7,492.5 L1451.7,493.6 L1453.7,494.7 L1455.7,495.8 L1457.7,496.9 L1459.7,498.0 L1461.7,499.0 L1463.7,500.0 L1465.7,501.0 L1467.7,502.1 L1469.7,503.0 L1471.7,504.0 L1473.7,505.0 L1475.7,505.9 L1477.7,506.9 L1479.7,507.8 L1481.7,508.7 L1483.7,509.6 L1485.7,510.5 L1487.7,511.4 L1489.7,512.3 L1491.7,513.1 L1493.7,514.0 L1495.7,514.8 L1497.7,515.6 L1499.7,516.4 L1501.7,517.2 L1503.7,518.0 L1505.7,518.7 L1507.7,519.5 L1509.7,520.2 L1511.7,520.9 L1513.7,521.6 L1515.7,522.3 L1517.7,523.0 L1519.7,523.7 L1521.7,524.3 L1523.7,524.9 L1525.7,525.6 L1527.7,526.2 L1529.7,526.8 L1531.7,527.4 L1533.7,527.9 L1535.7,528.5 L1537.7,529.0 L1539.7,529.5 L1541.7,530.1 L1543.7,530.5 L1545.7,531.0 L1547.7,531.5 L1549.7,531.9 L1551.7,532.4 L1553.7,532.8 L1555.7,533.2 L1557.7,533.6 L1559.7,534.0 L1561.7,534.4 L1563.7,534.7 L1565.7,535.0 L1567.7,535.4 L1569.7,535.7 L1571.7,536.0 L1573.7,536.2 L1575.7,536.5 L1577.7,536.7 L1579.7,537.0 L1581.7,537.2 L1583.7,537.4 L1585.7,537.6 L1587.7,537.7 L1589.7,537.9 L1591.7,538.0 L1593.7,538.2 L1595.7,538.3 L1597.7,538.3 L1599.7,538.4 L1601.7,538.5 L1603.7,538.5 L1605.7,538.6 L1607.7,538.6 L1609.7,538.6 L1611.7,538.5 L1613.7,538.5 L1615.7,538.5 L1617.7,538.4 L1619.7,538.3 L1621.7,538.2 L1623.7,538.1 L1625.7,538.0 L1627.7,537.8 L1629.7,537.7 L1631.7,537.5 L1633.7,537.3 L1635.7,537.1 L1637.7,536.9 L1639.7,536.7 L1641.7,536.4 L1643.7,536.2 L1645.7,535.9 L1647.7,535.6 L1649.7,535.3 L1651.7,535.0 L1653.7,534.6 L1655.7,534.3 L1657.7,533.9 L1659.7,533.5 L1661.7,533.1 L1663.7,532.7 L1665.7,532.3 L1667.7,531.9 L1669.7,531.4 L1671.7,530.9 L1673.7,530.5 L1675.7,530.0 L1677.7,529.5 L1679.7,528.9 L1681.7,528.4 L1683.7,527.8 L1685.7,527.3 L1687.7,526.7 L1689.7,526.1 L1691.7,525.5 L1693.7,524.9 L1695.7,524.2 L1697.7,523.6 L1699.7,522.9 L1701.7,522.2 L1703.7,521.5 L1705.7,520.8 L1707.7,520.1 L1709.7,519.4 L1711.7,518.6 L1713.7,517.9 L1715.7,517.1 L1717.7,516.3 L1719.7,515.5 L1721.7,514.7 L1723.7,513.9 L1725.7,513.0 L1727.7,512.2 L1729.7,511.3 L1731.7,510.4 L1733.7,509.6 L1735.7,508.7 L1737.7,507.7 L1739.7,506.8 L1741.7,505.9 L1743.7,504.9 L1745.7,504.0 L1747.7,503.0 L1749.7,502.0 L1751.7,501.0 L1753.7,500.0 L1755.7,499.0 L1757.7,498.0 L1759.7,496.9 L1761.7,495.9 L1763.7,494.8 L1765.7,493.8 L1767.7,492.7 L1769.7,491.6 L1771.7,490.5 L1773.7,489.4 L1775.7,488.3 L1777.7,487.1 L1779.7,486.0 L1781.7,484.8 L1783.7,483.7 L1785.7,482.5 L1787.7,481.3 L1789.7,480.1 L1791.7,478.9 L1793.7,477.7 L1795.7,476.5 L1797.7,475.3 L1799.7,474.0 L1801.7,472.8 L1803.7,471.5 L1805.7,470.3 L1807.7,469.0 L1809.7,467.7 L1811.7,466.4 L1813.7,465.1 L1815.7,463.8 L1817.7,462.5 L1819.7,461.2 L1821.7,459.9 L1823.7,458.5 L1825.7,457.2 L1827.7,455.8 L1829.7,454.5 L1831.7,453.1 L1833.7,451.7 L1835.7,450.4 L1837.7,449.0 L1839.7,447.6 L1841.7,446.2 L1843.7,444.8 L1845.7,443.4 L1847.7,442.0 L1849.7,440.5 L1851.7,439.1 L1853.7,437.7 L1855.7,436.2 L1857.7,434.8 L1859.7,433.3 L1861.7,431.9 L1863.7,430.4 L1864.6,429.8"/>
<path class="ci" d="M1165.7,405.3 L1167.7,405.5 L1169.7,405.6 L1171.7,405.8 L1173.7,406.0 L1175.7,406.2 L1177.7,406.4 L1179.7,406.6 L1181.7,406.9 L1183.7,407.1 L1185.7,407.4 L1187.7,407.7 L1189.7,408.0 L1191.7,408.3 L1193.7,408.6 L1195.7,408.9 L1197.7,409.3 L1199.7,409.6 L1201.7,410.0 L1203.7,410.4 L1205.7,410.8 L1207.7,411.2 L1209.7,411.6 L1211.7,412.0 L1213.7,412.5 L1215.7,412.9 L1217.7,413.4 L1219.7,413.8 L1221.7,414.3 L1223.7,414.8 L1225.7,415.3 L1227.7,415.9 L1229.7,416.4 L1231.7,416.9 L1233.7,417.5 L1235.7,418.0 L1237.7,418.6 L1239.7,419.2 L1241.7,419.8 L1243.7,420.4 L1245.7,421.0 L1247.7,421.6 L1249.7,422.3 L1251.7,422.9 L1253.7,423.5 L1255.7,424.2 L1257.7,424.9 L1259.7,425.6 L1261.7,426.2 L1263.7,426.9 L1265.7,427.6 L1267.7,428.4 L1269.7,429.1 L1271.7,429.8 L1273.7,430.5 L1275.7,431.3 L1277.7,432.0 L1279.7,432.8 L1281.7,433.6 L1283.7,434.4 L1285.7,435.1 L1287.7,435.9 L1289.7,436.7 L1291.7,437.5 L1293.7,438.4 L1295.7,439.2 L1297.7,440.0 L1299.7,440.9 L1301.7,441.7 L1303.7,442.5 L1305.7,443.4 L1307.7,444.3 L1309.7,445.1 L1311.7,446.0 L1313.7,446.9 L1315.7,447.8 L1317.7,448.7 L1319.7,449.6 L1321.7,450.5 L1323.7,451.4 L1325.7,452.3 L1327.7,453.2 L1329.7,454.1 L1331.7,455.1 L1333.7,456.0 L1335.7,456.9 L1337.7,457.9 L1339.7,458.8 L1341.7,459.8 L1343.7,460.7 L1345.7,461.7 L1347.7,462.7 L1349.7,463.6 L1351.7,464.6 L1353.7,465.6 L1355.7,466.6 L1357.7,467.5 L1359.7,468.5 L1361.7,469.5 L1363.7,470.5 L1365.7,471.5 L1367.7,472.5 L1369.7,473.5 L1371.7,474.5 L1373.7,475.5 L1375.7,476.5 L1377.7,477.6 L1379.7,478.6 L1381.7,479.6 L1383.7,480.6 L1385.7,481.6 L1387.7,482.7 L1389.7,483.7 L1391.7,484.7 L1393.7,485.7 L1395.7,486.8 L1397.7,487.8 L1399.7,488.8 L1401.7,489.9 L1403.7,490.9 L1405.7,491.9 L1407.7,493.0 L1409.7,494.0 L1411.7,495.0 L1413.7,496.1 L1415.7,497.1 L1417.7,498.1 L1419.7,499.2 L1421.7,500.2 L1423.7,501.3 L1425.7,502.3 L1427.7,503.3 L1429.7,504.4 L1431.7,505.4 L1433.7,506.4 L1435.7,507.5 L1437.7,508.5 L1439.7,509.5 L1441.7,510.6 L1443.7,511.6 L1445.7,512.6 L1447.7,513.6 L1449.7,514.7 L1451.7,515.7 L1453.7,516.7 L1455.7,517.7 L1457.7,518.7 L1459.7,519.7 L1461.7,520.8 L1463.7,521.8 L1465.7,522.8 L1467.7,523.8 L1469.7,524.8 L1471.7,525.8 L1473.7,526.8 L1475.7,527.8 L1477.7,528.7 L1479.7,529.7 L1481.7,530.7 L1483.7,531.7 L1485.7,532.7 L1487.7,533.6 L1489.7,534.6 L1491.7,535.6 L1493.7,536.5 L1495.7,537.5 L1497.7,538.4 L1499.7,539.4 L1501.7,540.3 L1503.7,541.3 L1505.7,542.2 L1507.7,543.2 L1509.7,544.1 L1511.7,545.0 L1513.7,545.9 L1515.7,546.9 L1517.7,547.8 L1519.7,548.7 L1521.7,549.6 L1523.7,550.5 L1525.7,551.5 L1527.7,552.4 L1529.7,553.3 L1531.7,554.2 L1533.7,555.1 L1535.7,556.0 L1537.7,556.9 L1539.7,557.8 L1541.7,558.6 L1543.7,559.5 L1545.7,560.4 L1547.7,561.3 L1549.7,562.2 L1551.7,563.1 L1553.7,563.9 L1555.7,564.8 L1557.7,565.7 L1559.7,566.5 L1561.7,567.4 L1563.7,568.3 L1565.7,569.1 L1567.7,570.0 L1569.7,570.9 L1571.7,571.7 L1573.7,572.6 L1575.7,573.4 L1577.7,574.3 L1579.7,575.1 L1581.7,576.0 L1583.7,576.8 L1585.7,577.7 L1587.7,578.5 L1589.7,579.4 L1591.7,580.2 L1593.7,581.1 L1595.7,581.9 L1597.7,582.7 L1599.7,583.6 L1601.7,584.4 L1603.7,585.2 L1605.7,586.1 L1607.7,586.9 L1609.7,587.7 L1611.7,588.6 L1613.7,589.4 L1615.7,590.2 L1617.7,591.1 L1619.7,591.9 L1621.7,592.7 L1623.7,593.5 L1625.7,594.4 L1627.7,595.2 L1629.7,596.0 L1631.7,596.8 L1633.7,597.7 L1635.7,598.5 L1637.7,599.3 L1639.7,600.1 L1641.7,600.9 L1643.7,601.8 L1645.7,602.6 L1647.7,603.4 L1649.7,604.2 L1651.7,605.1 L1653.7,605.9 L1655.7,606.7 L1657.7,607.5 L1659.7,608.3 L1661.7,609.2 L1663.7,610.0 L1665.7,610.8 L1667.7,611.6 L1669.7,612.4 L1671.7,613.3 L1673.7,614.1 L1675.7,614.9 L1677.7,615.7 L1679.7,616.5 L1681.7,617.4 L1683.7,618.2 L1685.7,619.0 L1687.7,619.8 L1689.7,620.7 L1691.7,621.5 L1693.7,622.3 L1695.7,623.1 L1697.7,624.0 L1699.7,624.8 L1701.7,625.6 L1703.7,626.5 L1705.7,627.3 L1707.7,628.1 L1709.7,629.0 L1711.7,629.8 L1713.7,630.6 L1715.7,631.5 L1717.7,632.3 L1719.7,633.2 L1721.7,634.0 L1723.7,634.8 L1725.7,635.7 L1727.7,636.5 L1729.7,637.4 L1731.7,638.2 L1733.7,639.1 L1735.7,639.9 L1737.7,640.8 L1739.7,641.6 L1741.7,642.5 L1743.7,643.3 L1745.7,644.2 L1747.7,645.1 L1749.7,645.9 L1751.7,646.8 L1753.7,647.7 L1755.7,648.5 L1757.7,649.4 L1759.7,650.3 L1761.7,651.2 L1763.7,652.0 L1765.7,652.9 L1767.7,653.8 L1769.7,654.7 L1771.7,655.6 L1773.7,656.5 L1775.7,657.4 L1777.7,658.3 L1779.7,659.2 L1781.7,660.1 L1783.7,661.0 L1785.7,661.9 L1787.7,662.8 L1789.7,663.7 L1791.7,664.6 L1793.7,665.5 L1795.7,666.4 L1797.7,667.4 L1799.7,668.3 L1801.7,669.2 L1803.7,670.1 L1805.7,671.1 L1807.7,672.0 L1809.7,673.0 L1811.7,673.9 L1813.7,674.9 L1815.7,675.8 L1817.7,676.8 L1819.7,677.7 L1821.7,678.7 L1823.7,679.6 L1825.7,680.6 L1827.7,681.6 L1829.7,682.6 L1831.7,683.5 L1833.7,684.5 L1835.7,685.5 L1837.7,686.5 L1839.7,687.5 L1841.7,688.5 L1843.7,689.5 L1845.7,690.5 L1847.7,691.5 L1849.7,692.5 L1851.7,693.5 L1853.7,694.5 L1855.7,695.6 L1857.7,696.6 L1859.7,697.6 L1861.7,698.7 L1863.7,699.7 L1864.6,700.2"/>
<path class="rc" d="M1165.3,309.6 L1167.3,311.0 L1169.3,312.5 L1171.3,313.9 L1173.3,315.3 L1175.3,316.8 L1177.3,318.2 L1179.3,319.7 L1181.3,321.1 L1183.3,322.6 L1185.3,324.0 L1187.3,325.5 L1189.3,326.9 L1191.3,328.4 L1193.3,329.9 L1195.3,331.3 L1197.3,332.8 L1199.3,334.2 L1201.3,335.7 L1203.3,337.2 L1205.3,338.6 L1207.3,340.1 L1209.3,341.6 L1211.3,343.1 L1213.3,344.5 L1215.3,346.0 L1217.3,347.5 L1219.3,349.0 L1221.3,350.4 L1223.3,351.9 L1225.3,353.4 L1227.3,354.9 L1229.3,356.3 L1231.3,357.8 L1233.3,359.3 L1235.3,360.8 L1237.3,362.2 L1239.3,363.7 L1241.3,365.2 L1243.3,366.7 L1245.3,368.2 L1247.3,369.6 L1249.3,371.1 L1251.3,372.6 L1253.3,374.1 L1255.3,375.5 L1257.3,377.0 L1259.3,378.5 L1261.3,379.9 L1263.3,381.4 L1265.3,382.9 L1267.3,384.4 L1269.3,385.8 L1271.3,387.3 L1273.3,388.8 L1275.3,390.2 L1277.3,391.7 L1279.3,393.2 L1281.3,394.6 L1283.3,396.1 L1285.3,397.5 L1287.3,399.0 L1289.3,400.4 L1291.3,401.9 L1293.3,403.3 L1295.3,404.8 L1297.3,406.2 L1299.3,407.7 L1301.3,409.1 L1303.3,410.5 L1305.3,412.0 L1307.3,413.4 L1309.3,414.8 L1311.3,416.3 L1313.3,417.7 L1315.3,419.1 L1317.3,420.5 L1319.3,422.0 L1321.3,423.4 L1323.3,424.8 L1325.3,426.2 L1327.3,427.6 L1329.3,429.0 L1331.3,430.4 L1333.3,431.8 L1335.3,433.2 L1337.3,434.6 L1339.3,435.9 L1341.3,437.3 L1343.3,438.7 L1345.3,440.1 L1347.3,441.4 L1349.3,442.8 L1351.3,444.2 L1353.3,445.5 L1355.3,446.9 L1357.3,448.2 L1359.3,449.6 L1361.3,450.9 L1363.3,452.2 L1365.3,453.6 L1367.3,454.9 L1369.3,456.2 L1371.3,457.5 L1373.3,458.8 L1375.3,460.1 L1377.3,461.4 L1379.3,462.7 L1381.3,464.0 L1383.3,465.3 L1385.3,466.6 L1387.3,467.9 L1389.3,469.1 L1391.3,470.4 L1393.3,471.7 L1395.3,472.9 L1397.3,474.2 L1399.3,475.4 L1401.3,476.6 L1403.3,477.9 L1405.3,479.1 L1407.3,480.3 L1409.3,481.5 L1411.3,482.7 L1413.3,483.9 L1415.3,485.1 L1417.3,486.3 L1419.3,487.5 L1421.3,488.6 L1423.3,489.8 L1425.3,491.0 L1427.3,492.1 L1429.3,493.3 L1431.3,494.4 L1433.3,495.5 L1435.3,496.6 L1437.3,497.8 L1439.3,498.9 L1441.3,500.0 L1443.3,501.1 L1445.3,502.2 L1447.3,503.2 L1449.3,504.3 L1451.3,505.4 L1453.3,506.4 L1455.3,507.5 L1457.3,508.5 L1459.3,509.5 L1461.3,510.6 L1463.3,511.6 L1465.3,512.6 L1467.3,513.6 L1469.3,514.6 L1471.3,515.6 L1473.3,516.5 L1475.3,517.5 L1477.3,518.5 L1479.3,519.4 L1481.3,520.4 L1483.3,521.3 L1485.3,522.2 L1487.3,523.1 L1489.3,524.0 L1491.3,524.9 L1493.3,525.8 L1495.3,526.7 L1497.3,527.6 L1499.3,528.4 L1501.3,529.3 L1503.3,530.1 L1505.3,531.0 L1507.3,531.8 L1509.3,532.6 L1511.3,533.4 L1513.3,534.2 L1515.3,535.0 L1517.3,535.8 L1519.3,536.6 L1521.3,537.3 L1523.3,538.1 L1525.3,538.8 L1527.3,539.6 L1529.3,540.3 L1531.3,541.0 L1533.3,541.7 L1535.3,542.4 L1537.3,543.1 L1539.3,543.8 L1541.3,544.5 L1543.3,545.2 L1545.3,545.8 L1547.3,546.5 L1549.3,547.1 L1551.3,547.8 L1553.3,548.4 L1555.3,549.0 L1557.3,549.6 L1559.3,550.2 L1561.3,550.8 L1563.3,551.4 L1565.3,552.0 L1567.3,552.6 L1569.3,553.1 L1571.3,553.7 L1573.3,554.2 L1575.3,554.8 L1577.3,555.3 L1579.3,555.8 L1581.3,556.3 L1583.3,556.9 L1585.3,557.3 L1587.3,557.8 L1589.3,558.3 L1591.3,558.8 L1593.3,559.3 L1595.3,559.7 L1597.3,560.2 L1599.3,560.6 L1601.3,561.0 L1603.3,561.5 L1605.3,561.9 L1607.3,562.3 L1609.3,562.7 L1611.3,563.1 L1613.3,563.5 L1615.3,563.8 L1617.3,564.2 L1619.3,564.6 L1621.3,564.9 L1623.3,565.3 L1625.3,565.6 L1627.3,565.9 L1629.3,566.3 L1631.3,566.6 L1633.3,566.9 L1635.3,567.2 L1637.3,567.5 L1639.3,567.7 L1641.3,568.0 L1643.3,568.3 L1645.3,568.5 L1647.3,568.8 L1649.3,569.0 L1651.3,569.3 L1653.3,569.5 L1655.3,569.7 L1657.3,569.9 L1659.3,570.1 L1661.3,570.3 L1663.3,570.5 L1665.3,570.7 L1667.3,570.9 L1669.3,571.1 L1671.3,571.2 L1673.3,571.4 L1675.3,571.5 L1677.3,571.7 L1679.3,571.8 L1681.3,571.9 L1683.3,572.0 L1685.3,572.2 L1687.3,572.3 L1689.3,572.4 L1691.3,572.4 L1693.3,572.5 L1695.3,572.6 L1697.3,572.7 L1699.3,572.8 L1701.3,572.8 L1703.3,572.9 L1705.3,572.9 L1707.3,573.0 L1709.3,573.0 L1711.3,573.0 L1713.3,573.1 L1715.3,573.1 L1717.3,573.1 L1719.3,573.1 L1721.3,573.1 L1723.3,573.1 L1725.3,573.1 L1727.3,573.1 L1729.3,573.1 L1731.3,573.1 L1733.3,573.0 L1735.3,573.0 L1737.3,573.0 L1739.3,572.9 L1741.3,572.9 L1743.3,572.9 L1745.3,572.8 L1747.3,572.7 L1749.3,572.7 L1751.3,572.6 L1753.3,572.6 L1755.3,572.5 L1757.3,572.4 L1759.3,572.3 L1761.3,572.2 L1763.3,572.2 L1765.3,572.1 L1767.3,572.0 L1769.3,571.9 L1771.3,571.8 L1773.3,571.7 L1775.3,571.6 L1777.3,571.5 L1779.3,571.3 L1781.3,571.2 L1783.3,571.1 L1785.3,571.0 L1787.3,570.9 L1789.3,570.7 L1791.3,570.6 L1793.3,570.5 L1795.3,570.4 L1797.3,570.2 L1799.3,570.1 L1801.3,569.9 L1803.3,569.8 L1805.3,569.7 L1807.3,569.5 L1809.3,569.4 L1811.3,569.2 L1813.3,569.1 L1815.3,568.9 L1817.3,568.8 L1819.3,568.6 L1821.3,568.4 L1823.3,568.3 L1825.3,568.1 L1827.3,568.0 L1829.3,567.8 L1831.3,567.6 L1833.3,567.5 L1835.3,567.3 L1837.3,567.2 L1839.3,567.0 L1841.3,566.8 L1843.3,566.7 L1845.3,566.5 L1847.3,566.3 L1849.3,566.2 L1851.3,566.0 L1853.3,565.8 L1855.3,565.7 L1857.3,565.5 L1859.3,565.3 L1861.3,565.2 L1863.3,565.0 L1864.6,564.9"/>
<line x1="1120.8" y1="761.5" x2="1137.8" y2="761.5" stroke="#383838" stroke-width="2.2"/>
<text class="tk" transform="translate(1100.2,761.5) rotate(-90)" text-anchor="middle" textLength="34.9" lengthAdjust="spacingAndGlyphs">0.2</text>
<line x1="1120.8" y1="609.9" x2="1137.8" y2="609.9" stroke="#383838" stroke-width="2.2"/>
<text class="tk" transform="translate(1100.2,609.9) rotate(-90)" text-anchor="middle" textLength="34.9" lengthAdjust="spacingAndGlyphs">0.4</text>
<line x1="1120.8" y1="458.3" x2="1137.8" y2="458.3" stroke="#383838" stroke-width="2.2"/>
<text class="tk" transform="translate(1100.2,458.3) rotate(-90)" text-anchor="middle" textLength="34.9" lengthAdjust="spacingAndGlyphs">0.6</text>
<line x1="1120.8" y1="306.6" x2="1137.8" y2="306.6" stroke="#383838" stroke-width="2.2"/>
<text class="tk" transform="translate(1100.2,306.6) rotate(-90)" text-anchor="middle" textLength="34.9" lengthAdjust="spacingAndGlyphs">0.8</text>
<line x1="1120.8" y1="155.0" x2="1137.8" y2="155.0" stroke="#383838" stroke-width="2.2"/>
<text class="tk" transform="translate(1100.2,155.0) rotate(-90)" text-anchor="middle" textLength="34.9" lengthAdjust="spacingAndGlyphs">1.0</text>
<line x1="1290.5" y1="774.0" x2="1290.5" y2="790.5" stroke="#383838" stroke-width="2.2"/>
<text class="tk" x="1290.5" y="830.7" text-anchor="middle">6</text>
<line x1="1450.1" y1="774.0" x2="1450.1" y2="790.5" stroke="#383838" stroke-width="2.2"/>
<text class="tk" x="1450.1" y="830.7" text-anchor="middle">8</text>
<line x1="1609.7" y1="774.0" x2="1609.7" y2="790.5" stroke="#383838" stroke-width="2.2"/>
<text class="tk" x="1609.7" y="830.7" text-anchor="middle" textLength="31.1" lengthAdjust="spacingAndGlyphs">10</text>
<line x1="1769.3" y1="774.0" x2="1769.3" y2="790.5" stroke="#383838" stroke-width="2.2"/>
<text class="tk" x="1769.3" y="830.7" text-anchor="middle" textLength="31.1" lengthAdjust="spacingAndGlyphs">12</text>
<text class="ttl" x="1236.7" y="890.8" textLength="526.1" lengthAdjust="spacingAndGlyphs">Log2 Pan-Immune-Inflammation Value</text>
<text class="ttl" transform="translate(1042.1,776.4) rotate(-90)" textLength="672.1" lengthAdjust="spacingAndGlyphs">β-C-terminal telopeptide of type I collagen (ng/ml)</text>
<g class="rd"><circle cx="313.9" cy="1561.1" r="5.2"/><circle cx="302.4" cy="1560.2" r="5.2"/><circle cx="323.5" cy="1561.9" r="5.2"/><circle cx="307.3" cy="1560.6" r="5.2"/><circle cx="308.9" cy="1560.7" r="5.2"/><circle cx="308.7" cy="1560.7" r="5.2"/><circle cx="319.9" cy="1561.6" r="5.2"/><circle cx="308.8" cy="1560.7" r="5.2"/><circle cx="312.1" cy="1561.0" r="5.2"/><circle cx="324.2" cy="1562.0" r="5.2"/><circle cx="312.0" cy="1561.0" r="5.2"/><circle cx="325.5" cy="1562.1" r="5.2"/><circle cx="325.4" cy="1562.1" r="5.2"/><circle cx="312.4" cy="1561.0" r="5.2"/><circle cx="306.2" cy="1560.5" r="5.2"/><circle cx="326.0" cy="1562.1" r="5.2"/><circle cx="315.4" cy="1561.2" r="5.2"/><circle cx="309.7" cy="1560.8" r="5.2"/><circle cx="301.3" cy="1560.1" r="5.2"/><circle cx="312.7" cy="1561.0" r="5.2"/><circle cx="300.6" cy="1560.0" r="5.2"/><circle cx="317.3" cy="1561.4" r="5.2"/><circle cx="310.8" cy="1560.9" r="5.2"/><circle cx="307.9" cy="1560.6" r="5.2"/><circle cx="305.8" cy="1560.4" r="5.2"/><circle cx="320.9" cy="1561.7" r="5.2"/><circle cx="324.9" cy="1562.0" r="5.2"/><circle cx="299.9" cy="1560.0" r="5.2"/><circle cx="314.6" cy="1561.2" r="5.2"/><circle cx="301.9" cy="1560.1" r="5.2"/><circle cx="328.9" cy="1562.4" r="5.2"/><circle cx="359.4" cy="1564.8" r="5.2"/><circle cx="337.8" cy="1563.1" r="5.2"/><circle cx="344.9" cy="1563.6" r="5.2"/><circle cx="356.8" cy="1564.6" r="5.2"/><circle cx="348.4" cy="1563.9" r="5.2"/><circle cx="339.0" cy="1563.2" r="5.2"/><circle cx="350.3" cy="1564.1" r="5.2"/><circle cx="352.9" cy="1564.3" r="5.2"/><circle cx="348.5" cy="1563.9" r="5.2"/><circle cx="340.2" cy="1563.3" r="5.2"/><circle cx="352.0" cy="1564.2" r="5.2"/><circle cx="339.8" cy="1563.2" r="5.2"/><circle cx="339.4" cy="1563.2" r="5.2"/><circle cx="336.8" cy="1563.0" r="5.2"/><circle cx="359.1" cy="1564.8" r="5.2"/><circle cx="331.6" cy="1562.6" r="5.2"/><circle cx="329.5" cy="1562.4" r="5.2"/><circle cx="337.2" cy="1563.0" r="5.2"/><circle cx="331.7" cy="1562.6" r="5.2"/><circle cx="339.5" cy="1563.2" r="5.2"/><circle cx="357.9" cy="1564.7" r="5.2"/><circle cx="358.2" cy="1564.7" r="5.2"/><circle cx="335.1" cy="1562.9" r="5.2"/><circle cx="337.3" cy="1563.0" r="5.2"/><circle cx="340.7" cy="1563.3" r="5.2"/><circle cx="358.3" cy="1564.7" r="5.2"/><circle cx="336.3" cy="1563.0" r="5.2"/><circle cx="352.3" cy="1564.2" r="5.2"/><circle cx="348.3" cy="1563.9" r="5.2"/><circle cx="356.0" cy="1564.5" r="5.2"/><circle cx="336.7" cy="1563.0" r="5.2"/><circle cx="357.6" cy="1564.6" r="5.2"/><circle cx="359.8" cy="1564.8" r="5.2"/><circle cx="340.5" cy="1563.3" r="5.2"/><circle cx="357.8" cy="1564.7" r="5.2"/><circle cx="351.3" cy="1564.2" r="5.2"/><circle cx="335.0" cy="1562.8" r="5.2"/><circle cx="342.0" cy="1563.4" r="5.2"/><circle cx="335.8" cy="1562.9" r="5.2"/><circle cx="356.8" cy="1564.6" r="5.2"/><circle cx="335.2" cy="1562.9" r="5.2"/><circle cx="395.1" cy="1567.4" r="5.2"/><circle cx="371.0" cy="1565.7" r="5.2"/><circle cx="395.7" cy="1567.5" r="5.2"/><circle cx="391.7" cy="1567.2" r="5.2"/><circle cx="389.3" cy="1567.0" r="5.2"/><circle cx="370.7" cy="1565.6" r="5.2"/><circle cx="388.7" cy="1567.0" r="5.2"/><circle cx="385.1" cy="1566.7" r="5.2"/><circle cx="373.9" cy="1565.9" r="5.2"/><circle cx="399.5" cy="1567.7" r="5.2"/><circle cx="398.3" cy="1567.6" r="5.2"/><circle cx="386.1" cy="1566.8" r="5.2"/><circle cx="396.3" cy="1567.5" r="5.2"/><circle cx="373.3" cy="1565.8" r="5.2"/><circle cx="366.7" cy="1565.3" r="5.2"/><circle cx="373.3" cy="1565.8" r="5.2"/><circle cx="382.7" cy="1566.5" r="5.2"/><circle cx="396.1" cy="1567.5" r="5.2"/><circle cx="393.6" cy="1567.3" r="5.2"/><circle cx="369.6" cy="1565.6" r="5.2"/><circle cx="392.8" cy="1567.2" r="5.2"/><circle cx="395.4" cy="1567.4" r="5.2"/><circle cx="383.3" cy="1566.6" r="5.2"/><circle cx="379.8" cy="1566.3" r="5.2"/><circle cx="378.8" cy="1566.2" r="5.2"/><circle cx="367.8" cy="1565.4" r="5.2"/><circle cx="370.2" cy="1565.6" r="5.2"/><circle cx="380.2" cy="1566.4" r="5.2"/><circle cx="380.5" cy="1566.4" r="5.2"/><circle cx="381.2" cy="1566.4" r="5.2"/><circle cx="377.8" cy="1566.2" r="5.2"/><circle cx="394.0" cy="1567.3" r="5.2"/><circle cx="366.6" cy="1565.3" r="5.2"/><circle cx="367.0" cy="1565.4" r="5.2"/><circle cx="397.3" cy="1567.6" r="5.2"/><circle cx="383.4" cy="1566.6" r="5.2"/><circle cx="384.7" cy="1566.7" r="5.2"/><circle cx="378.8" cy="1566.3" r="5.2"/><circle cx="377.1" cy="1566.1" r="5.2"/><circle cx="374.0" cy="1565.9" r="5.2"/><circle cx="381.3" cy="1566.4" r="5.2"/><circle cx="393.1" cy="1567.3" r="5.2"/><circle cx="361.7" cy="1565.0" r="5.2"/><circle cx="397.7" cy="1567.6" r="5.2"/><circle cx="367.5" cy="1565.4" r="5.2"/><circle cx="379.5" cy="1566.3" r="5.2"/><circle cx="393.1" cy="1567.3" r="5.2"/><circle cx="365.2" cy="1565.2" r="5.2"/><circle cx="386.0" cy="1566.8" r="5.2"/><circle cx="384.2" cy="1566.6" r="5.2"/><circle cx="382.1" cy="1566.5" r="5.2"/><circle cx="393.2" cy="1567.3" r="5.2"/><circle cx="365.1" cy="1565.2" r="5.2"/><circle cx="368.7" cy="1565.5" r="5.2"/><circle cx="396.5" cy="1567.5" r="5.2"/><circle cx="398.0" cy="1567.6" r="5.2"/><circle cx="364.9" cy="1565.2" r="5.2"/><circle cx="386.8" cy="1566.8" r="5.2"/><circle cx="363.8" cy="1565.1" r="5.2"/><circle cx="397.4" cy="1567.6" r="5.2"/><circle cx="397.8" cy="1567.6" r="5.2"/><circle cx="387.6" cy="1566.9" r="5.2"/><circle cx="379.2" cy="1566.3" r="5.2"/><circle cx="386.1" cy="1566.8" r="5.2"/><circle cx="382.4" cy="1566.5" r="5.2"/><circle cx="393.0" cy="1567.3" r="5.2"/><circle cx="393.4" cy="1567.3" r="5.2"/><circle cx="394.5" cy="1567.4" r="5.2"/><circle cx="393.6" cy="1567.3" r="5.2"/><circle cx="368.8" cy="1565.5" r="5.2"/><circle cx="368.2" cy="1565.5" r="5.2"/><circle cx="387.9" cy="1566.9" r="5.2"/><circle cx="422.2" cy="1569.2" r="5.2"/><circle cx="438.9" cy="1570.1" r="5.2"/><circle cx="402.3" cy="1567.9" r="5.2"/><circle cx="416.3" cy="1568.8" r="5.2"/><circle cx="434.9" cy="1569.9" r="5.2"/><circle cx="418.1" cy="1568.9" r="5.2"/><circle cx="405.4" cy="1568.1" r="5.2"/><circle cx="413.2" cy="1568.6" r="5.2"/><circle cx="438.7" cy="1570.1" r="5.2"/><circle cx="431.0" cy="1569.7" r="5.2"/><circle cx="433.7" cy="1569.9" r="5.2"/><circle cx="410.5" cy="1568.4" r="5.2"/><circle cx="432.3" cy="1569.8" r="5.2"/><circle cx="400.3" cy="1567.8" r="5.2"/><circle cx="408.9" cy="1568.3" r="5.2"/><circle cx="425.2" cy="1569.4" r="5.2"/><circle cx="426.5" cy="1569.4" r="5.2"/><circle cx="418.3" cy="1568.9" r="5.2"/><circle cx="438.5" cy="1570.1" r="5.2"/><circle cx="414.9" cy="1568.7" r="5.2"/><circle cx="411.0" cy="1568.5" r="5.2"/><circle cx="408.2" cy="1568.3" r="5.2"/><circle cx="430.0" cy="1569.6" r="5.2"/><circle cx="432.8" cy="1569.8" r="5.2"/><circle cx="433.2" cy="1569.8" r="5.2"/><circle cx="425.0" cy="1569.3" r="5.2"/><circle cx="401.4" cy="1567.8" r="5.2"/><circle cx="416.7" cy="1568.8" r="5.2"/><circle cx="406.8" cy="1568.2" r="5.2"/><circle cx="411.4" cy="1568.5" r="5.2"/><circle cx="401.2" cy="1567.8" r="5.2"/><circle cx="427.9" cy="1569.5" r="5.2"/><circle cx="410.1" cy="1568.4" r="5.2"/><circle cx="422.6" cy="1569.2" r="5.2"/><circle cx="438.7" cy="1570.1" r="5.2"/><circle cx="409.5" cy="1568.4" r="5.2"/><circle cx="411.5" cy="1568.5" r="5.2"/><circle cx="410.3" cy="1568.4" r="5.2"/><circle cx="402.7" cy="1567.9" r="5.2"/><circle cx="422.8" cy="1569.2" r="5.2"/><circle cx="422.2" cy="1569.2" r="5.2"/><circle cx="424.1" cy="1569.3" r="5.2"/><circle cx="438.7" cy="1570.1" r="5.2"/><circle cx="423.2" cy="1569.2" r="5.2"/><circle cx="424.5" cy="1569.3" r="5.2"/><circle cx="435.8" cy="1570.0" r="5.2"/><circle cx="435.2" cy="1569.9" r="5.2"/><circle cx="421.1" cy="1569.1" r="5.2"/><circle cx="424.4" cy="1569.3" r="5.2"/><circle cx="414.8" cy="1568.7" r="5.2"/><circle cx="420.0" cy="1569.0" r="5.2"/><circle cx="419.4" cy="1569.0" r="5.2"/><circle cx="421.3" cy="1569.1" r="5.2"/><circle cx="409.5" cy="1568.4" r="5.2"/><circle cx="424.2" cy="1569.3" r="5.2"/><circle cx="411.4" cy="1568.5" r="5.2"/><circle cx="412.5" cy="1568.6" r="5.2"/><circle cx="412.4" cy="1568.6" r="5.2"/><circle cx="431.6" cy="1569.7" r="5.2"/><circle cx="402.9" cy="1567.9" r="5.2"/><circle cx="440.0" cy="1570.2" r="5.2"/><circle cx="406.7" cy="1568.2" r="5.2"/><circle cx="424.9" cy="1569.3" r="5.2"/><circle cx="409.4" cy="1568.4" r="5.2"/><circle cx="427.5" cy="1569.5" r="5.2"/><circle cx="434.4" cy="1569.9" r="5.2"/><circle cx="417.5" cy="1568.9" r="5.2"/><circle cx="418.9" cy="1569.0" r="5.2"/><circle cx="439.5" cy="1570.2" r="5.2"/><circle cx="423.7" cy="1569.3" r="5.2"/><circle cx="414.8" cy="1568.7" r="5.2"/><circle cx="409.3" cy="1568.4" r="5.2"/><circle cx="434.1" cy="1569.9" r="5.2"/><circle cx="428.1" cy="1569.5" r="5.2"/><circle cx="412.5" cy="1568.6" r="5.2"/><circle cx="420.4" cy="1569.1" r="5.2"/><circle cx="405.6" cy="1568.1" r="5.2"/><circle cx="431.2" cy="1569.7" r="5.2"/><circle cx="436.2" cy="1570.0" r="5.2"/><circle cx="429.3" cy="1569.6" r="5.2"/><circle cx="428.6" cy="1569.6" r="5.2"/><circle cx="405.3" cy="1568.1" r="5.2"/><circle cx="436.6" cy="1570.0" r="5.2"/><circle cx="423.9" cy="1569.3" r="5.2"/><circle cx="436.0" cy="1570.0" r="5.2"/><circle cx="430.0" cy="1569.6" r="5.2"/><circle cx="435.7" cy="1570.0" r="5.2"/><circle cx="432.5" cy="1569.8" r="5.2"/><circle cx="429.4" cy="1569.6" r="5.2"/><circle cx="424.1" cy="1569.3" r="5.2"/><circle cx="411.3" cy="1568.5" r="5.2"/><circle cx="410.1" cy="1568.4" r="5.2"/><circle cx="476.9" cy="1572.0" r="5.2"/><circle cx="472.2" cy="1571.8" r="5.2"/><circle cx="450.3" cy="1570.7" r="5.2"/><circle cx="444.4" cy="1570.4" r="5.2"/><circle cx="475.4" cy="1571.9" r="5.2"/><circle cx="440.7" cy="1570.2" r="5.2"/><circle cx="465.3" cy="1571.5" r="5.2"/><circle cx="468.6" cy="1571.6" r="5.2"/><circle cx="457.3" cy="1571.1" r="5.2"/><circle cx="476.9" cy="1572.0" r="5.2"/><circle cx="466.1" cy="1571.5" r="5.2"/><circle cx="480.0" cy="1572.1" r="5.2"/><circle cx="467.9" cy="1571.6" r="5.2"/><circle cx="462.6" cy="1571.3" r="5.2"/><circle cx="443.4" cy="1570.4" r="5.2"/><circle cx="475.6" cy="1571.9" r="5.2"/><circle cx="444.9" cy="1570.5" r="5.2"/><circle cx="451.3" cy="1570.8" r="5.2"/><circle cx="466.2" cy="1571.5" r="5.2"/><circle cx="467.7" cy="1571.6" r="5.2"/><circle cx="477.4" cy="1572.0" r="5.2"/><circle cx="478.2" cy="1572.0" r="5.2"/><circle cx="477.2" cy="1572.0" r="5.2"/><circle cx="471.9" cy="1571.8" r="5.2"/><circle cx="455.5" cy="1571.0" r="5.2"/><circle cx="469.3" cy="1571.6" r="5.2"/><circle cx="446.4" cy="1570.5" r="5.2"/><circle cx="453.2" cy="1570.9" r="5.2"/><circle cx="480.2" cy="1572.1" r="5.2"/><circle cx="465.9" cy="1571.5" r="5.2"/><circle cx="477.5" cy="1572.0" r="5.2"/><circle cx="446.9" cy="1570.6" r="5.2"/><circle cx="464.2" cy="1571.4" r="5.2"/><circle cx="447.6" cy="1570.6" r="5.2"/><circle cx="468.6" cy="1571.6" r="5.2"/><circle cx="477.4" cy="1572.0" r="5.2"/><circle cx="457.7" cy="1571.1" r="5.2"/><circle cx="440.9" cy="1570.3" r="5.2"/><circle cx="453.6" cy="1570.9" r="5.2"/><circle cx="443.7" cy="1570.4" r="5.2"/><circle cx="458.6" cy="1571.2" r="5.2"/><circle cx="472.4" cy="1571.8" r="5.2"/><circle cx="479.6" cy="1572.1" r="5.2"/><circle cx="451.4" cy="1570.8" r="5.2"/><circle cx="446.2" cy="1570.5" r="5.2"/><circle cx="442.1" cy="1570.3" r="5.2"/><circle cx="452.6" cy="1570.9" r="5.2"/><circle cx="450.6" cy="1570.8" r="5.2"/><circle cx="448.5" cy="1570.7" r="5.2"/><circle cx="475.7" cy="1571.9" r="5.2"/><circle cx="451.7" cy="1570.8" r="5.2"/><circle cx="446.6" cy="1570.6" r="5.2"/><circle cx="446.3" cy="1570.5" r="5.2"/><circle cx="469.3" cy="1571.6" r="5.2"/><circle cx="457.5" cy="1571.1" r="5.2"/><circle cx="455.8" cy="1571.0" r="5.2"/><circle cx="468.5" cy="1571.6" r="5.2"/><circle cx="465.6" cy="1571.5" r="5.2"/><circle cx="458.7" cy="1571.2" r="5.2"/><circle cx="465.1" cy="1571.5" r="5.2"/><circle cx="452.6" cy="1570.9" r="5.2"/><circle cx="457.5" cy="1571.1" r="5.2"/><circle cx="467.3" cy="1571.6" r="5.2"/><circle cx="441.1" cy="1570.3" r="5.2"/><circle cx="456.6" cy="1571.1" r="5.2"/><circle cx="455.5" cy="1571.0" r="5.2"/><circle cx="453.2" cy="1570.9" r="5.2"/><circle cx="460.3" cy="1571.2" r="5.2"/><circle cx="467.9" cy="1571.6" r="5.2"/><circle cx="469.9" cy="1571.7" r="5.2"/><circle cx="471.1" cy="1571.7" r="5.2"/><circle cx="465.1" cy="1571.5" r="5.2"/><circle cx="440.8" cy="1570.2" r="5.2"/><circle cx="450.1" cy="1570.7" r="5.2"/><circle cx="467.0" cy="1571.5" r="5.2"/><circle cx="444.9" cy="1570.5" r="5.2"/><circle cx="463.5" cy="1571.4" r="5.2"/><circle cx="440.8" cy="1570.2" r="5.2"/><circle cx="473.9" cy="1571.8" r="5.2"/><circle cx="446.9" cy="1570.6" r="5.2"/><circle cx="457.7" cy="1571.1" r="5.2"/><circle cx="445.0" cy="1570.5" r="5.2"/><circle cx="447.3" cy="1570.6" r="5.2"/><circle cx="459.1" cy="1571.2" r="5.2"/><circle cx="461.1" cy="1571.3" r="5.2"/><circle cx="474.9" cy="1571.9" r="5.2"/><circle cx="448.5" cy="1570.7" r="5.2"/><circle cx="475.6" cy="1571.9" r="5.2"/><circle cx="449.7" cy="1570.7" r="5.2"/><circle cx="456.0" cy="1571.0" r="5.2"/><circle cx="478.7" cy="1572.0" r="5.2"/><circle cx="460.8" cy="1571.3" r="5.2"/><circle cx="450.4" cy="1570.8" r="5.2"/><circle cx="458.4" cy="1571.1" r="5.2"/><circle cx="473.2" cy="1571.8" r="5.2"/><circle cx="475.2" cy="1571.9" r="5.2"/><circle cx="444.7" cy="1570.5" r="5.2"/><circle cx="460.9" cy="1571.3" r="5.2"/><circle cx="455.3" cy="1571.0" r="5.2"/><circle cx="443.5" cy="1570.4" r="5.2"/><circle cx="457.8" cy="1571.1" r="5.2"/><circle cx="452.0" cy="1570.8" r="5.2"/><circle cx="469.9" cy="1571.7" r="5.2"/><circle cx="440.9" cy="1570.3" r="5.2"/><circle cx="498.5" cy="1572.8" r="5.2"/><circle cx="494.2" cy="1572.6" r="5.2"/><circle cx="497.2" cy="1572.7" r="5.2"/><circle cx="497.8" cy="1572.8" r="5.2"/><circle cx="519.6" cy="1573.5" r="5.2"/><circle cx="507.9" cy="1573.1" r="5.2"/><circle cx="495.8" cy="1572.7" r="5.2"/><circle cx="493.9" cy="1572.6" r="5.2"/><circle cx="497.9" cy="1572.8" r="5.2"/><circle cx="517.8" cy="1573.4" r="5.2"/><circle cx="504.3" cy="1573.0" r="5.2"/><circle cx="518.6" cy="1573.4" r="5.2"/><circle cx="488.6" cy="1572.4" r="5.2"/><circle cx="501.3" cy="1572.9" r="5.2"/><circle cx="509.3" cy="1573.1" r="5.2"/><circle cx="513.5" cy="1573.3" r="5.2"/><circle cx="484.5" cy="1572.3" r="5.2"/><circle cx="496.6" cy="1572.7" r="5.2"/><circle cx="515.4" cy="1573.3" r="5.2"/><circle cx="505.0" cy="1573.0" r="5.2"/><circle cx="486.0" cy="1572.3" r="5.2"/><circle cx="497.2" cy="1572.7" r="5.2"/><circle cx="500.5" cy="1572.9" r="5.2"/><circle cx="480.4" cy="1572.1" r="5.2"/><circle cx="497.3" cy="1572.7" r="5.2"/><circle cx="499.4" cy="1572.8" r="5.2"/><circle cx="519.0" cy="1573.4" r="5.2"/><circle cx="501.1" cy="1572.9" r="5.2"/><circle cx="501.5" cy="1572.9" r="5.2"/><circle cx="483.4" cy="1572.2" r="5.2"/><circle cx="481.9" cy="1572.2" r="5.2"/><circle cx="498.8" cy="1572.8" r="5.2"/><circle cx="505.7" cy="1573.0" r="5.2"/><circle cx="489.1" cy="1572.5" r="5.2"/><circle cx="503.4" cy="1573.0" r="5.2"/><circle cx="484.2" cy="1572.3" r="5.2"/><circle cx="491.4" cy="1572.5" r="5.2"/><circle cx="501.3" cy="1572.9" r="5.2"/><circle cx="492.7" cy="1572.6" r="5.2"/><circle cx="498.2" cy="1572.8" r="5.2"/><circle cx="509.0" cy="1573.1" r="5.2"/><circle cx="487.5" cy="1572.4" r="5.2"/><circle cx="506.7" cy="1573.1" r="5.2"/><circle cx="518.9" cy="1573.4" r="5.2"/><circle cx="513.5" cy="1573.3" r="5.2"/><circle cx="495.4" cy="1572.7" r="5.2"/><circle cx="506.0" cy="1573.0" r="5.2"/><circle cx="484.9" cy="1572.3" r="5.2"/><circle cx="509.3" cy="1573.1" r="5.2"/><circle cx="510.4" cy="1573.2" r="5.2"/><circle cx="489.2" cy="1572.5" r="5.2"/><circle cx="495.6" cy="1572.7" r="5.2"/><circle cx="504.6" cy="1573.0" r="5.2"/><circle cx="506.8" cy="1573.1" r="5.2"/><circle cx="505.3" cy="1573.0" r="5.2"/><circle cx="510.4" cy="1573.2" r="5.2"/><circle cx="514.5" cy="1573.3" r="5.2"/><circle cx="499.2" cy="1572.8" r="5.2"/><circle cx="481.0" cy="1572.1" r="5.2"/><circle cx="512.7" cy="1573.3" r="5.2"/><circle cx="484.7" cy="1572.3" r="5.2"/><circle cx="501.6" cy="1572.9" r="5.2"/><circle cx="509.0" cy="1573.1" r="5.2"/><circle cx="512.8" cy="1573.3" r="5.2"/><circle cx="501.6" cy="1572.9" r="5.2"/><circle cx="505.8" cy="1573.0" r="5.2"/><circle cx="519.1" cy="1573.4" r="5.2"/><circle cx="511.3" cy="1573.2" r="5.2"/><circle cx="491.8" cy="1572.5" r="5.2"/><circle cx="517.9" cy="1573.4" r="5.2"/><circle cx="507.6" cy="1573.1" r="5.2"/><circle cx="492.5" cy="1572.6" r="5.2"/><circle cx="491.4" cy="1572.5" r="5.2"/><circle cx="498.1" cy="1572.8" r="5.2"/><circle cx="500.8" cy="1572.9" r="5.2"/><circle cx="514.3" cy="1573.3" r="5.2"/><circle cx="498.7" cy="1572.8" r="5.2"/><circle cx="508.9" cy="1573.1" r="5.2"/><circle cx="493.8" cy="1572.6" r="5.2"/><circle cx="499.2" cy="1572.8" r="5.2"/><circle cx="493.4" cy="1572.6" r="5.2"/><circle cx="496.1" cy="1572.7" r="5.2"/><circle cx="508.4" cy="1573.1" r="5.2"/><circle cx="489.7" cy="1572.5" r="5.2"/><circle cx="500.0" cy="1572.8" r="5.2"/><circle cx="510.1" cy="1573.2" r="5.2"/><circle cx="480.8" cy="1572.1" r="5.2"/><circle cx="496.8" cy="1572.7" r="5.2"/><circle cx="511.4" cy="1573.2" r="5.2"/><circle cx="506.7" cy="1573.1" r="5.2"/><circle cx="513.1" cy="1573.3" r="5.2"/><circle cx="490.7" cy="1572.5" r="5.2"/><circle cx="505.0" cy="1573.0" r="5.2"/><circle cx="492.7" cy="1572.6" r="5.2"/><circle cx="483.7" cy="1572.2" r="5.2"/><circle cx="511.9" cy="1573.2" r="5.2"/><circle cx="492.3" cy="1572.6" r="5.2"/><circle cx="509.8" cy="1573.2" r="5.2"/><circle cx="511.3" cy="1573.2" r="5.2"/><circle cx="512.7" cy="1573.3" r="5.2"/><circle cx="532.1" cy="1573.8" r="5.2"/><circle cx="552.7" cy="1574.3" r="5.2"/><circle cx="530.3" cy="1573.8" r="5.2"/><circle cx="547.2" cy="1574.2" r="5.2"/><circle cx="520.8" cy="1573.5" r="5.2"/><circle cx="552.0" cy="1574.3" r="5.2"/><circle cx="523.0" cy="1573.6" r="5.2"/><circle cx="549.3" cy="1574.2" r="5.2"/><circle cx="545.9" cy="1574.1" r="5.2"/><circle cx="523.0" cy="1573.6" r="5.2"/><circle cx="543.9" cy="1574.1" r="5.2"/><circle cx="548.9" cy="1574.2" r="5.2"/><circle cx="552.9" cy="1574.3" r="5.2"/><circle cx="559.9" cy="1574.4" r="5.2"/><circle cx="530.1" cy="1573.7" r="5.2"/><circle cx="537.6" cy="1573.9" r="5.2"/><circle cx="535.2" cy="1573.9" r="5.2"/><circle cx="547.1" cy="1574.2" r="5.2"/><circle cx="528.1" cy="1573.7" r="5.2"/><circle cx="543.0" cy="1574.1" r="5.2"/><circle cx="530.1" cy="1573.7" r="5.2"/><circle cx="528.9" cy="1573.7" r="5.2"/><circle cx="550.8" cy="1574.3" r="5.2"/><circle cx="542.5" cy="1574.1" r="5.2"/><circle cx="551.8" cy="1574.3" r="5.2"/><circle cx="547.1" cy="1574.2" r="5.2"/><circle cx="554.7" cy="1574.3" r="5.2"/><circle cx="539.6" cy="1574.0" r="5.2"/><circle cx="521.0" cy="1573.5" r="5.2"/><circle cx="560.6" cy="1574.5" r="5.2"/><circle cx="529.7" cy="1573.7" r="5.2"/><circle cx="553.6" cy="1574.3" r="5.2"/><circle cx="528.5" cy="1573.7" r="5.2"/><circle cx="541.0" cy="1574.0" r="5.2"/><circle cx="532.1" cy="1573.8" r="5.2"/><circle cx="546.9" cy="1574.2" r="5.2"/><circle cx="523.7" cy="1573.6" r="5.2"/><circle cx="523.4" cy="1573.6" r="5.2"/><circle cx="539.0" cy="1574.0" r="5.2"/><circle cx="554.6" cy="1574.3" r="5.2"/><circle cx="539.2" cy="1574.0" r="5.2"/><circle cx="525.2" cy="1573.6" r="5.2"/><circle cx="560.4" cy="1574.5" r="5.2"/><circle cx="524.7" cy="1573.6" r="5.2"/><circle cx="533.0" cy="1573.8" r="5.2"/><circle cx="543.2" cy="1574.1" r="5.2"/><circle cx="531.3" cy="1573.8" r="5.2"/><circle cx="548.6" cy="1574.2" r="5.2"/><circle cx="537.3" cy="1573.9" r="5.2"/><circle cx="552.4" cy="1574.3" r="5.2"/><circle cx="523.8" cy="1573.6" r="5.2"/><circle cx="553.5" cy="1574.3" r="5.2"/><circle cx="556.7" cy="1574.4" r="5.2"/><circle cx="530.7" cy="1573.8" r="5.2"/><circle cx="530.0" cy="1573.7" r="5.2"/><circle cx="555.9" cy="1574.4" r="5.2"/><circle cx="537.1" cy="1573.9" r="5.2"/><circle cx="536.5" cy="1573.9" r="5.2"/><circle cx="544.0" cy="1574.1" r="5.2"/><circle cx="542.5" cy="1574.1" r="5.2"/><circle cx="553.1" cy="1574.3" r="5.2"/><circle cx="547.4" cy="1574.2" r="5.2"/><circle cx="548.8" cy="1574.2" r="5.2"/><circle cx="537.8" cy="1573.9" r="5.2"/><circle cx="541.1" cy="1574.0" r="5.2"/><circle cx="554.8" cy="1574.3" r="5.2"/><circle cx="555.3" cy="1574.4" r="5.2"/><circle cx="545.1" cy="1574.1" r="5.2"/><circle cx="544.2" cy="1574.1" r="5.2"/><circle cx="532.7" cy="1573.8" r="5.2"/><circle cx="539.8" cy="1574.0" r="5.2"/><circle cx="528.4" cy="1573.7" r="5.2"/><circle cx="540.0" cy="1574.0" r="5.2"/><circle cx="522.9" cy="1573.6" r="5.2"/><circle cx="530.8" cy="1573.8" r="5.2"/><circle cx="532.0" cy="1573.8" r="5.2"/><circle cx="539.5" cy="1574.0" r="5.2"/><circle cx="547.9" cy="1574.2" r="5.2"/><circle cx="524.4" cy="1573.6" r="5.2"/><circle cx="546.2" cy="1574.1" r="5.2"/><circle cx="551.6" cy="1574.3" r="5.2"/><circle cx="527.2" cy="1573.7" r="5.2"/><circle cx="526.1" cy="1573.6" r="5.2"/><circle cx="524.6" cy="1573.6" r="5.2"/><circle cx="574.9" cy="1574.7" r="5.2"/><circle cx="569.6" cy="1574.6" r="5.2"/><circle cx="561.5" cy="1574.5" r="5.2"/><circle cx="563.3" cy="1574.5" r="5.2"/><circle cx="568.8" cy="1574.6" r="5.2"/><circle cx="561.8" cy="1574.5" r="5.2"/><circle cx="578.5" cy="1574.8" r="5.2"/><circle cx="565.0" cy="1574.6" r="5.2"/><circle cx="578.9" cy="1574.8" r="5.2"/><circle cx="561.4" cy="1574.5" r="5.2"/><circle cx="568.2" cy="1574.6" r="5.2"/><circle cx="581.6" cy="1574.9" r="5.2"/><circle cx="564.1" cy="1574.5" r="5.2"/><circle cx="561.5" cy="1574.5" r="5.2"/><circle cx="579.5" cy="1574.8" r="5.2"/><circle cx="578.6" cy="1574.8" r="5.2"/><circle cx="571.8" cy="1574.7" r="5.2"/><circle cx="563.5" cy="1574.5" r="5.2"/><circle cx="567.2" cy="1574.6" r="5.2"/><circle cx="570.6" cy="1574.7" r="5.2"/><circle cx="582.3" cy="1574.9" r="5.2"/><circle cx="565.5" cy="1574.6" r="5.2"/><circle cx="575.5" cy="1574.8" r="5.2"/><circle cx="576.5" cy="1574.8" r="5.2"/><circle cx="580.2" cy="1574.8" r="5.2"/><circle cx="575.8" cy="1574.8" r="5.2"/><circle cx="569.1" cy="1574.6" r="5.2"/><circle cx="570.6" cy="1574.7" r="5.2"/><circle cx="571.3" cy="1574.7" r="5.2"/><circle cx="573.9" cy="1574.7" r="5.2"/><circle cx="572.6" cy="1574.7" r="5.2"/><circle cx="563.0" cy="1574.5" r="5.2"/><circle cx="578.0" cy="1574.8" r="5.2"/><circle cx="568.8" cy="1574.6" r="5.2"/><circle cx="574.7" cy="1574.7" r="5.2"/><circle cx="567.6" cy="1574.6" r="5.2"/><circle cx="570.7" cy="1574.7" r="5.2"/><circle cx="583.0" cy="1574.9" r="5.2"/><circle cx="561.0" cy="1574.5" r="5.2"/><circle cx="575.0" cy="1574.7" r="5.2"/><circle cx="564.9" cy="1574.6" r="5.2"/><circle cx="582.1" cy="1574.9" r="5.2"/><circle cx="579.1" cy="1574.8" r="5.2"/><circle cx="579.4" cy="1574.8" r="5.2"/><circle cx="606.3" cy="1575.3" r="5.2"/><circle cx="500.7" cy="1572.9" r="5.2"/><circle cx="241.6" cy="1555.2" r="5.2"/><circle cx="441.5" cy="1570.3" r="5.2"/><circle cx="486.9" cy="1572.4" r="5.2"/><circle cx="626.0" cy="1575.6" r="5.2"/><circle cx="470.3" cy="1571.7" r="5.2"/><circle cx="289.7" cy="1559.1" r="5.2"/><circle cx="154.1" cy="1548.7" r="5.2"/><circle cx="332.3" cy="1562.6" r="5.2"/><circle cx="302.3" cy="1560.2" r="5.2"/><circle cx="308.2" cy="1560.6" r="5.2"/><circle cx="312.2" cy="1561.0" r="5.2"/><circle cx="386.3" cy="1566.8" r="5.2"/><circle cx="398.1" cy="1567.6" r="5.2"/><circle cx="410.4" cy="1568.4" r="5.2"/><circle cx="455.7" cy="1571.0" r="5.2"/><circle cx="596.1" cy="1575.1" r="5.2"/><circle cx="341.8" cy="1563.4" r="5.2"/><circle cx="350.8" cy="1564.1" r="5.2"/><circle cx="352.8" cy="1564.3" r="5.2"/><circle cx="458.5" cy="1571.2" r="5.2"/><circle cx="444.3" cy="1570.4" r="5.2"/><circle cx="442.7" cy="1570.4" r="5.2"/><circle cx="288.1" cy="1559.0" r="5.2"/><circle cx="307.8" cy="1560.6" r="5.2"/><circle cx="298.4" cy="1559.8" r="5.2"/><circle cx="325.6" cy="1562.1" r="5.2"/><circle cx="326.0" cy="1562.1" r="5.2"/><circle cx="333.1" cy="1562.7" r="5.2"/><circle cx="393.4" cy="1567.3" r="5.2"/><circle cx="399.3" cy="1567.7" r="5.2"/><circle cx="373.3" cy="1565.8" r="5.2"/><circle cx="376.4" cy="1566.1" r="5.2"/><circle cx="366.6" cy="1565.3" r="5.2"/><circle cx="481.0" cy="1572.1" r="5.2"/><circle cx="497.5" cy="1572.8" r="5.2"/><circle cx="505.0" cy="1573.0" r="5.2"/><circle cx="535.0" cy="1573.9" r="5.2"/><circle cx="585.8" cy="1574.9" r="5.2"/><circle cx="605.9" cy="1575.3" r="5.2"/><circle cx="593.7" cy="1575.1" r="5.2"/><circle cx="610.3" cy="1575.3" r="5.2"/><circle cx="201.5" cy="1552.1" r="5.2"/><circle cx="187.3" cy="1551.1" r="5.2"/><circle cx="193.1" cy="1551.5" r="5.2"/><circle cx="211.5" cy="1552.9" r="5.2"/><circle cx="206.8" cy="1552.5" r="5.2"/><circle cx="225.2" cy="1553.9" r="5.2"/><circle cx="241.5" cy="1555.2" r="5.2"/><circle cx="246.2" cy="1555.6" r="5.2"/><circle cx="266.7" cy="1557.2" r="5.2"/><circle cx="247.8" cy="1555.7" r="5.2"/><circle cx="256.2" cy="1556.4" r="5.2"/><circle cx="266.2" cy="1557.2" r="5.2"/><circle cx="269.9" cy="1557.5" r="5.2"/><circle cx="243.0" cy="1555.3" r="5.2"/><circle cx="246.7" cy="1555.6" r="5.2"/><circle cx="259.1" cy="1556.6" r="5.2"/><circle cx="256.7" cy="1556.4" r="5.2"/><circle cx="263.0" cy="1556.9" r="5.2"/><circle cx="272.7" cy="1557.7" r="5.2"/><circle cx="254.1" cy="1556.2" r="5.2"/><circle cx="266.7" cy="1557.2" r="5.2"/><circle cx="298.2" cy="1559.8" r="5.2"/><circle cx="285.6" cy="1558.8" r="5.2"/><circle cx="284.0" cy="1558.6" r="5.2"/><circle cx="283.5" cy="1558.6" r="5.2"/><circle cx="291.4" cy="1559.2" r="5.2"/><circle cx="291.4" cy="1559.2" r="5.2"/><circle cx="299.3" cy="1559.9" r="5.2"/><circle cx="283.5" cy="1558.6" r="5.2"/><circle cx="285.6" cy="1558.8" r="5.2"/><circle cx="285.6" cy="1558.8" r="5.2"/><circle cx="293.0" cy="1559.4" r="5.2"/><circle cx="297.2" cy="1559.7" r="5.2"/><circle cx="586.0" cy="1574.9" r="5.2"/><circle cx="583.2" cy="1574.9" r="5.2"/><circle cx="588.7" cy="1575.0" r="5.2"/><circle cx="592.6" cy="1575.1" r="5.2"/><circle cx="625.7" cy="1575.6" r="5.2"/><circle cx="636.0" cy="1575.7" r="5.2"/><circle cx="640.7" cy="1575.8" r="5.2"/><circle cx="649.4" cy="1575.9" r="5.2"/><circle cx="658.4" cy="1576.0" r="5.2"/><circle cx="664.7" cy="1576.1" r="5.2"/><circle cx="673.8" cy="1576.3" r="5.2"/><circle cx="612.3" cy="1575.4" r="5.2"/><circle cx="589.5" cy="1575.0" r="5.2"/><circle cx="613.1" cy="1575.4" r="5.2"/><circle cx="632.0" cy="1575.7" r="5.2"/><circle cx="651.0" cy="1575.9" r="5.2"/><circle cx="660.4" cy="1576.1" r="5.2"/><circle cx="625.7" cy="1575.6" r="5.2"/><circle cx="643.9" cy="1575.8" r="5.2"/><circle cx="653.3" cy="1576.0" r="5.2"/><circle cx="670.7" cy="1576.2" r="5.2"/><circle cx="605.2" cy="1575.3" r="5.2"/><circle cx="620.2" cy="1575.5" r="5.2"/><circle cx="628.9" cy="1575.6" r="5.2"/><circle cx="642.3" cy="1575.8" r="5.2"/><circle cx="651.0" cy="1575.9" r="5.2"/><circle cx="662.0" cy="1576.1" r="5.2"/><circle cx="674.6" cy="1576.3" r="5.2"/><circle cx="636.8" cy="1575.7" r="5.2"/><circle cx="598.0" cy="1575.1" r="5.2"/><circle cx="604.0" cy="1575.2" r="5.2"/><circle cx="610.0" cy="1575.3" r="5.2"/><circle cx="600.0" cy="1575.2" r="5.2"/><circle cx="615.0" cy="1575.4" r="5.2"/><circle cx="620.0" cy="1575.5" r="5.2"/><circle cx="596.0" cy="1575.1" r="5.2"/><circle cx="630.0" cy="1575.6" r="5.2"/><circle cx="645.0" cy="1575.8" r="5.2"/><circle cx="660.0" cy="1576.1" r="5.2"/><circle cx="668.0" cy="1576.2" r="5.2"/><circle cx="590.0" cy="1575.0" r="5.2"/><circle cx="602.0" cy="1575.2" r="5.2"/><circle cx="618.0" cy="1575.5" r="5.2"/><circle cx="634.0" cy="1575.7" r="5.2"/><circle cx="656.0" cy="1576.0" r="5.2"/><circle cx="666.0" cy="1576.2" r="5.2"/><circle cx="596.0" cy="1575.1" r="5.2"/><circle cx="610.0" cy="1575.3" r="5.2"/><circle cx="624.0" cy="1575.5" r="5.2"/><circle cx="706.0" cy="1576.8" r="5.2"/><circle cx="709.2" cy="1576.9" r="5.2"/><circle cx="711.6" cy="1576.9" r="5.2"/><circle cx="714.8" cy="1577.0" r="5.2"/><circle cx="728.8" cy="1577.2" r="5.2"/><circle cx="740.5" cy="1577.4" r="5.2"/><circle cx="743.7" cy="1577.5" r="5.2"/><circle cx="746.9" cy="1577.5" r="5.2"/><circle cx="750.2" cy="1577.6" r="5.2"/><circle cx="767.0" cy="1577.9" r="5.2"/><circle cx="816.8" cy="1578.6" r="5.2"/><circle cx="856.6" cy="1578.9" r="5.2"/><circle cx="699.8" cy="1576.7" r="5.2"/><circle cx="678.7" cy="1576.4" r="5.2"/><circle cx="153.9" cy="1548.7" r="5.2"/><circle cx="188.4" cy="1551.1" r="5.2"/><circle cx="189.7" cy="1551.2" r="5.2"/><circle cx="192.9" cy="1551.5" r="5.2"/><circle cx="201.1" cy="1552.1" r="5.2"/><circle cx="206.5" cy="1552.5" r="5.2"/><circle cx="211.3" cy="1552.9" r="5.2"/><circle cx="224.8" cy="1553.9" r="5.2"/><circle cx="242.1" cy="1555.2" r="5.2"/><circle cx="245.9" cy="1555.5" r="5.2"/><circle cx="255.5" cy="1556.3" r="5.2"/><circle cx="257.1" cy="1556.4" r="5.2"/><circle cx="262.7" cy="1556.9" r="5.2"/><circle cx="265.9" cy="1557.2" r="5.2"/><circle cx="269.0" cy="1557.4" r="5.2"/><circle cx="273.2" cy="1557.7" r="5.2"/></g>
<g class="oc" filter="url(#sb)"><circle cx="313.9" cy="1550.0" r="3.0"/><circle cx="302.4" cy="1594.1" r="3.0"/><circle cx="323.5" cy="1571.4" r="3.0"/><circle cx="307.3" cy="1580.3" r="3.0"/><circle cx="308.9" cy="1587.8" r="3.0"/><circle cx="308.7" cy="1558.5" r="3.0"/><circle cx="319.9" cy="1583.3" r="3.0"/><circle cx="308.8" cy="1547.9" r="3.0"/><circle cx="312.1" cy="1574.6" r="3.0"/><circle cx="324.2" cy="1567.1" r="3.0"/><circle cx="312.0" cy="1573.8" r="3.0"/><circle cx="325.5" cy="1561.4" r="3.0"/><circle cx="325.4" cy="1555.6" r="3.0"/><circle cx="312.4" cy="1578.4" r="3.0"/><circle cx="306.2" cy="1571.6" r="3.0"/><circle cx="326.0" cy="1535.5" r="3.0"/><circle cx="315.4" cy="1580.2" r="3.0"/><circle cx="309.7" cy="1532.0" r="3.0"/><circle cx="301.3" cy="1577.0" r="3.0"/><circle cx="312.7" cy="1579.9" r="3.0"/><circle cx="300.6" cy="1591.7" r="3.0"/><circle cx="317.3" cy="1583.7" r="3.0"/><circle cx="310.8" cy="1592.6" r="3.0"/><circle cx="307.9" cy="1579.8" r="3.0"/><circle cx="305.8" cy="1559.0" r="3.0"/><circle cx="320.9" cy="1573.4" r="3.0"/><circle cx="324.9" cy="1581.1" r="3.0"/><circle cx="299.9" cy="1584.9" r="3.0"/><circle cx="314.6" cy="1581.6" r="3.0"/><circle cx="301.9" cy="1589.5" r="3.0"/><circle cx="328.9" cy="1588.9" r="3.0"/><circle cx="359.4" cy="1534.2" r="3.0"/><circle cx="337.8" cy="1569.7" r="3.0"/><circle cx="344.9" cy="1585.9" r="3.0"/><circle cx="356.8" cy="1563.6" r="3.0"/><circle cx="348.4" cy="1544.9" r="3.0"/><circle cx="339.0" cy="1582.3" r="3.0"/><circle cx="350.3" cy="1575.9" r="3.0"/><circle cx="352.9" cy="1589.7" r="3.0"/><circle cx="348.5" cy="1592.7" r="3.0"/><circle cx="340.2" cy="1547.0" r="3.0"/><circle cx="352.0" cy="1584.2" r="3.0"/><circle cx="339.8" cy="1592.6" r="3.0"/><circle cx="339.4" cy="1545.9" r="3.0"/><circle cx="336.8" cy="1554.1" r="3.0"/><circle cx="359.1" cy="1567.3" r="3.0"/><circle cx="331.6" cy="1543.8" r="3.0"/><circle cx="329.5" cy="1577.9" r="3.0"/><circle cx="337.2" cy="1569.1" r="3.0"/><circle cx="331.7" cy="1559.2" r="3.0"/><circle cx="339.5" cy="1578.2" r="3.0"/><circle cx="357.9" cy="1567.2" r="3.0"/><circle cx="358.2" cy="1578.2" r="3.0"/><circle cx="335.1" cy="1565.9" r="3.0"/><circle cx="337.3" cy="1571.0" r="3.0"/><circle cx="340.7" cy="1595.6" r="3.0"/><circle cx="358.3" cy="1573.5" r="3.0"/><circle cx="336.3" cy="1590.7" r="3.0"/><circle cx="352.3" cy="1585.5" r="3.0"/><circle cx="348.3" cy="1593.3" r="3.0"/><circle cx="356.0" cy="1560.8" r="3.0"/><circle cx="336.7" cy="1578.2" r="3.0"/><circle cx="357.6" cy="1580.2" r="3.0"/><circle cx="359.8" cy="1552.1" r="3.0"/><circle cx="340.5" cy="1561.6" r="3.0"/><circle cx="357.8" cy="1577.9" r="3.0"/><circle cx="351.3" cy="1596.7" r="3.0"/><circle cx="335.0" cy="1562.1" r="3.0"/><circle cx="342.0" cy="1577.7" r="3.0"/><circle cx="335.8" cy="1578.7" r="3.0"/><circle cx="356.8" cy="1562.5" r="3.0"/><circle cx="335.2" cy="1582.1" r="3.0"/><circle cx="395.1" cy="1578.2" r="3.0"/><circle cx="371.0" cy="1560.7" r="3.0"/><circle cx="395.7" cy="1568.3" r="3.0"/><circle cx="391.7" cy="1584.7" r="3.0"/><circle cx="389.3" cy="1550.2" r="3.0"/><circle cx="370.7" cy="1555.3" r="3.0"/><circle cx="388.7" cy="1539.2" r="3.0"/><circle cx="385.1" cy="1577.3" r="3.0"/><circle cx="373.9" cy="1572.6" r="3.0"/><circle cx="399.5" cy="1559.7" r="3.0"/><circle cx="398.3" cy="1570.6" r="3.0"/><circle cx="386.1" cy="1574.5" r="3.0"/><circle cx="396.3" cy="1578.5" r="3.0"/><circle cx="373.3" cy="1579.9" r="3.0"/><circle cx="366.7" cy="1583.9" r="3.0"/><circle cx="373.3" cy="1584.1" r="3.0"/><circle cx="382.7" cy="1570.1" r="3.0"/><circle cx="396.1" cy="1581.2" r="3.0"/><circle cx="393.6" cy="1592.7" r="3.0"/><circle cx="369.6" cy="1574.8" r="3.0"/><circle cx="392.8" cy="1545.6" r="3.0"/><circle cx="395.4" cy="1552.8" r="3.0"/><circle cx="383.3" cy="1597.1" r="3.0"/><circle cx="379.8" cy="1586.7" r="3.0"/><circle cx="378.8" cy="1563.3" r="3.0"/><circle cx="367.8" cy="1574.2" r="3.0"/><circle cx="370.2" cy="1574.5" r="3.0"/><circle cx="380.2" cy="1578.0" r="3.0"/><circle cx="380.5" cy="1575.3" r="3.0"/><circle cx="381.2" cy="1588.5" r="3.0"/><circle cx="377.8" cy="1555.1" r="3.0"/><circle cx="394.0" cy="1589.3" r="3.0"/><circle cx="366.6" cy="1577.3" r="3.0"/><circle cx="367.0" cy="1546.0" r="3.0"/><circle cx="397.3" cy="1558.8" r="3.0"/><circle cx="383.4" cy="1576.4" r="3.0"/><circle cx="384.7" cy="1576.5" r="3.0"/><circle cx="378.8" cy="1583.8" r="3.0"/><circle cx="377.1" cy="1582.5" r="3.0"/><circle cx="374.0" cy="1579.0" r="3.0"/><circle cx="381.3" cy="1552.0" r="3.0"/><circle cx="393.1" cy="1582.5" r="3.0"/><circle cx="361.7" cy="1565.8" r="3.0"/><circle cx="397.7" cy="1570.6" r="3.0"/><circle cx="367.5" cy="1569.0" r="3.0"/><circle cx="379.5" cy="1579.8" r="3.0"/><circle cx="393.1" cy="1565.0" r="3.0"/><circle cx="365.2" cy="1572.7" r="3.0"/><circle cx="386.0" cy="1574.9" r="3.0"/><circle cx="384.2" cy="1582.5" r="3.0"/><circle cx="382.1" cy="1597.9" r="3.0"/><circle cx="393.2" cy="1565.1" r="3.0"/><circle cx="365.1" cy="1562.4" r="3.0"/><circle cx="368.7" cy="1582.0" r="3.0"/><circle cx="396.5" cy="1579.3" r="3.0"/><circle cx="398.0" cy="1572.7" r="3.0"/><circle cx="364.9" cy="1587.1" r="3.0"/><circle cx="386.8" cy="1564.9" r="3.0"/><circle cx="363.8" cy="1563.0" r="3.0"/><circle cx="397.4" cy="1563.0" r="3.0"/><circle cx="397.8" cy="1561.7" r="3.0"/><circle cx="387.6" cy="1596.2" r="3.0"/><circle cx="379.2" cy="1567.6" r="3.0"/><circle cx="386.1" cy="1582.0" r="3.0"/><circle cx="382.4" cy="1556.6" r="3.0"/><circle cx="393.0" cy="1558.6" r="3.0"/><circle cx="393.4" cy="1563.3" r="3.0"/><circle cx="394.5" cy="1577.8" r="3.0"/><circle cx="393.6" cy="1577.3" r="3.0"/><circle cx="368.8" cy="1587.9" r="3.0"/><circle cx="368.2" cy="1558.2" r="3.0"/><circle cx="387.9" cy="1592.5" r="3.0"/><circle cx="422.2" cy="1541.2" r="3.0"/><circle cx="438.9" cy="1562.7" r="3.0"/><circle cx="402.3" cy="1553.6" r="3.0"/><circle cx="416.3" cy="1560.5" r="3.0"/><circle cx="434.9" cy="1572.8" r="3.0"/><circle cx="418.1" cy="1592.3" r="3.0"/><circle cx="405.4" cy="1584.6" r="3.0"/><circle cx="413.2" cy="1568.9" r="3.0"/><circle cx="438.7" cy="1581.3" r="3.0"/><circle cx="431.0" cy="1573.0" r="3.0"/><circle cx="433.7" cy="1586.7" r="3.0"/><circle cx="410.5" cy="1586.9" r="3.0"/><circle cx="432.3" cy="1574.2" r="3.0"/><circle cx="400.3" cy="1564.9" r="3.0"/><circle cx="408.9" cy="1577.1" r="3.0"/><circle cx="425.2" cy="1589.3" r="3.0"/><circle cx="426.5" cy="1595.4" r="3.0"/><circle cx="418.3" cy="1538.0" r="3.0"/><circle cx="438.5" cy="1591.3" r="3.0"/><circle cx="414.9" cy="1587.9" r="3.0"/><circle cx="411.0" cy="1586.3" r="3.0"/><circle cx="408.2" cy="1562.8" r="3.0"/><circle cx="430.0" cy="1587.4" r="3.0"/><circle cx="432.8" cy="1570.5" r="3.0"/><circle cx="433.2" cy="1574.4" r="3.0"/><circle cx="425.0" cy="1591.0" r="3.0"/><circle cx="401.4" cy="1574.7" r="3.0"/><circle cx="416.7" cy="1591.5" r="3.0"/><circle cx="406.8" cy="1579.5" r="3.0"/><circle cx="411.4" cy="1566.0" r="3.0"/><circle cx="401.2" cy="1580.2" r="3.0"/><circle cx="427.9" cy="1589.0" r="3.0"/><circle cx="410.1" cy="1582.9" r="3.0"/><circle cx="422.6" cy="1580.6" r="3.0"/><circle cx="438.7" cy="1574.3" r="3.0"/><circle cx="409.5" cy="1599.5" r="3.0"/><circle cx="411.5" cy="1596.5" r="3.0"/><circle cx="410.3" cy="1570.4" r="3.0"/><circle cx="402.7" cy="1578.9" r="3.0"/><circle cx="422.8" cy="1578.2" r="3.0"/><circle cx="422.2" cy="1575.4" r="3.0"/><circle cx="424.1" cy="1580.6" r="3.0"/><circle cx="438.7" cy="1584.7" r="3.0"/><circle cx="423.2" cy="1577.0" r="3.0"/><circle cx="424.5" cy="1568.6" r="3.0"/><circle cx="435.8" cy="1574.4" r="3.0"/><circle cx="435.2" cy="1578.9" r="3.0"/><circle cx="421.1" cy="1590.2" r="3.0"/><circle cx="424.4" cy="1575.4" r="3.0"/><circle cx="414.8" cy="1591.1" r="3.0"/><circle cx="420.0" cy="1586.5" r="3.0"/><circle cx="419.4" cy="1576.4" r="3.0"/><circle cx="421.3" cy="1576.9" r="3.0"/><circle cx="409.5" cy="1560.0" r="3.0"/><circle cx="424.2" cy="1565.0" r="3.0"/><circle cx="411.4" cy="1570.8" r="3.0"/><circle cx="412.5" cy="1582.2" r="3.0"/><circle cx="412.4" cy="1578.2" r="3.0"/><circle cx="431.6" cy="1582.1" r="3.0"/><circle cx="402.9" cy="1545.3" r="3.0"/><circle cx="440.0" cy="1572.9" r="3.0"/><circle cx="406.7" cy="1585.7" r="3.0"/><circle cx="424.9" cy="1588.5" r="3.0"/><circle cx="409.4" cy="1557.0" r="3.0"/><circle cx="427.5" cy="1588.8" r="3.0"/><circle cx="434.4" cy="1574.0" r="3.0"/><circle cx="417.5" cy="1575.8" r="3.0"/><circle cx="418.9" cy="1561.2" r="3.0"/><circle cx="439.5" cy="1589.3" r="3.0"/><circle cx="423.7" cy="1571.9" r="3.0"/><circle cx="414.8" cy="1575.3" r="3.0"/><circle cx="409.3" cy="1565.4" r="3.0"/><circle cx="434.1" cy="1556.3" r="3.0"/><circle cx="428.1" cy="1577.4" r="3.0"/><circle cx="412.5" cy="1580.9" r="3.0"/><circle cx="420.4" cy="1564.7" r="3.0"/><circle cx="405.6" cy="1592.9" r="3.0"/><circle cx="431.2" cy="1576.3" r="3.0"/><circle cx="436.2" cy="1590.1" r="3.0"/><circle cx="429.3" cy="1592.0" r="3.0"/><circle cx="428.6" cy="1595.0" r="3.0"/><circle cx="405.3" cy="1594.9" r="3.0"/><circle cx="436.6" cy="1566.5" r="3.0"/><circle cx="423.9" cy="1564.9" r="3.0"/><circle cx="436.0" cy="1577.7" r="3.0"/><circle cx="430.0" cy="1562.4" r="3.0"/><circle cx="435.7" cy="1578.6" r="3.0"/><circle cx="432.5" cy="1584.9" r="3.0"/><circle cx="429.4" cy="1590.8" r="3.0"/><circle cx="424.1" cy="1566.7" r="3.0"/><circle cx="411.3" cy="1565.1" r="3.0"/><circle cx="410.1" cy="1556.3" r="3.0"/><circle cx="476.9" cy="1589.5" r="3.0"/><circle cx="472.2" cy="1583.9" r="3.0"/><circle cx="450.3" cy="1593.7" r="3.0"/><circle cx="444.4" cy="1561.1" r="3.0"/><circle cx="475.4" cy="1570.4" r="3.0"/><circle cx="440.7" cy="1571.8" r="3.0"/><circle cx="465.3" cy="1580.4" r="3.0"/><circle cx="468.6" cy="1582.1" r="3.0"/><circle cx="457.3" cy="1584.3" r="3.0"/><circle cx="476.9" cy="1563.8" r="3.0"/><circle cx="466.1" cy="1587.5" r="3.0"/><circle cx="480.0" cy="1567.5" r="3.0"/><circle cx="467.9" cy="1576.4" r="3.0"/><circle cx="462.6" cy="1591.0" r="3.0"/><circle cx="443.4" cy="1594.3" r="3.0"/><circle cx="475.6" cy="1589.2" r="3.0"/><circle cx="444.9" cy="1579.8" r="3.0"/><circle cx="451.3" cy="1593.2" r="3.0"/><circle cx="466.2" cy="1571.2" r="3.0"/><circle cx="467.7" cy="1562.4" r="3.0"/><circle cx="477.4" cy="1572.9" r="3.0"/><circle cx="478.2" cy="1596.9" r="3.0"/><circle cx="477.2" cy="1601.1" r="3.0"/><circle cx="471.9" cy="1567.5" r="3.0"/><circle cx="455.5" cy="1554.6" r="3.0"/><circle cx="469.3" cy="1585.0" r="3.0"/><circle cx="446.4" cy="1571.9" r="3.0"/><circle cx="453.2" cy="1583.0" r="3.0"/><circle cx="480.2" cy="1587.9" r="3.0"/><circle cx="465.9" cy="1565.0" r="3.0"/><circle cx="477.5" cy="1586.9" r="3.0"/><circle cx="446.9" cy="1566.4" r="3.0"/><circle cx="464.2" cy="1550.0" r="3.0"/><circle cx="447.6" cy="1580.9" r="3.0"/><circle cx="468.6" cy="1546.8" r="3.0"/><circle cx="477.4" cy="1594.0" r="3.0"/><circle cx="457.7" cy="1565.8" r="3.0"/><circle cx="440.9" cy="1579.0" r="3.0"/><circle cx="453.6" cy="1526.5" r="3.0"/><circle cx="443.7" cy="1578.7" r="3.0"/><circle cx="458.6" cy="1588.9" r="3.0"/><circle cx="472.4" cy="1552.6" r="3.0"/><circle cx="479.6" cy="1595.8" r="3.0"/><circle cx="451.4" cy="1573.3" r="3.0"/><circle cx="446.2" cy="1588.2" r="3.0"/><circle cx="442.1" cy="1555.9" r="3.0"/><circle cx="452.6" cy="1580.9" r="3.0"/><circle cx="450.6" cy="1566.5" r="3.0"/><circle cx="448.5" cy="1579.9" r="3.0"/><circle cx="475.7" cy="1592.2" r="3.0"/><circle cx="451.7" cy="1599.6" r="3.0"/><circle cx="446.6" cy="1547.1" r="3.0"/><circle cx="446.3" cy="1576.1" r="3.0"/><circle cx="469.3" cy="1592.5" r="3.0"/><circle cx="457.5" cy="1583.7" r="3.0"/><circle cx="455.8" cy="1564.5" r="3.0"/><circle cx="468.5" cy="1595.3" r="3.0"/><circle cx="465.6" cy="1536.1" r="3.0"/><circle cx="458.7" cy="1583.0" r="3.0"/><circle cx="465.1" cy="1584.6" r="3.0"/><circle cx="452.6" cy="1558.6" r="3.0"/><circle cx="457.5" cy="1577.0" r="3.0"/><circle cx="467.3" cy="1591.2" r="3.0"/><circle cx="441.1" cy="1564.9" r="3.0"/><circle cx="456.6" cy="1573.5" r="3.0"/><circle cx="455.5" cy="1561.9" r="3.0"/><circle cx="453.2" cy="1590.0" r="3.0"/><circle cx="460.3" cy="1592.1" r="3.0"/><circle cx="467.9" cy="1571.3" r="3.0"/><circle cx="469.9" cy="1585.6" r="3.0"/><circle cx="471.1" cy="1600.0" r="3.0"/><circle cx="465.1" cy="1587.1" r="3.0"/><circle cx="440.8" cy="1570.0" r="3.0"/><circle cx="450.1" cy="1588.1" r="3.0"/><circle cx="467.0" cy="1559.7" r="3.0"/><circle cx="444.9" cy="1585.5" r="3.0"/><circle cx="463.5" cy="1581.4" r="3.0"/><circle cx="440.8" cy="1595.8" r="3.0"/><circle cx="473.9" cy="1589.5" r="3.0"/><circle cx="446.9" cy="1582.0" r="3.0"/><circle cx="457.7" cy="1571.7" r="3.0"/><circle cx="445.0" cy="1577.0" r="3.0"/><circle cx="447.3" cy="1562.8" r="3.0"/><circle cx="459.1" cy="1600.0" r="3.0"/><circle cx="461.1" cy="1579.9" r="3.0"/><circle cx="474.9" cy="1582.5" r="3.0"/><circle cx="448.5" cy="1591.2" r="3.0"/><circle cx="475.6" cy="1581.2" r="3.0"/><circle cx="449.7" cy="1588.3" r="3.0"/><circle cx="456.0" cy="1574.0" r="3.0"/><circle cx="478.7" cy="1585.0" r="3.0"/><circle cx="460.8" cy="1573.0" r="3.0"/><circle cx="450.4" cy="1590.0" r="3.0"/><circle cx="458.4" cy="1559.5" r="3.0"/><circle cx="473.2" cy="1575.2" r="3.0"/><circle cx="475.2" cy="1549.4" r="3.0"/><circle cx="444.7" cy="1581.3" r="3.0"/><circle cx="460.9" cy="1586.1" r="3.0"/><circle cx="455.3" cy="1578.1" r="3.0"/><circle cx="443.5" cy="1585.2" r="3.0"/><circle cx="457.8" cy="1591.4" r="3.0"/><circle cx="452.0" cy="1579.6" r="3.0"/><circle cx="469.9" cy="1581.3" r="3.0"/><circle cx="440.9" cy="1587.1" r="3.0"/><circle cx="498.5" cy="1585.9" r="3.0"/><circle cx="494.2" cy="1591.7" r="3.0"/><circle cx="497.2" cy="1579.5" r="3.0"/><circle cx="497.8" cy="1594.9" r="3.0"/><circle cx="519.6" cy="1553.6" r="3.0"/><circle cx="507.9" cy="1581.3" r="3.0"/><circle cx="495.8" cy="1567.3" r="3.0"/><circle cx="493.9" cy="1593.7" r="3.0"/><circle cx="497.9" cy="1576.8" r="3.0"/><circle cx="517.8" cy="1583.5" r="3.0"/><circle cx="504.3" cy="1567.0" r="3.0"/><circle cx="518.6" cy="1569.4" r="3.0"/><circle cx="488.6" cy="1597.0" r="3.0"/><circle cx="501.3" cy="1563.9" r="3.0"/><circle cx="509.3" cy="1596.3" r="3.0"/><circle cx="513.5" cy="1560.7" r="3.0"/><circle cx="484.5" cy="1581.7" r="3.0"/><circle cx="496.6" cy="1593.7" r="3.0"/><circle cx="515.4" cy="1571.9" r="3.0"/><circle cx="505.0" cy="1581.1" r="3.0"/><circle cx="486.0" cy="1591.7" r="3.0"/><circle cx="497.2" cy="1589.6" r="3.0"/><circle cx="500.5" cy="1574.9" r="3.0"/><circle cx="480.4" cy="1594.8" r="3.0"/><circle cx="497.3" cy="1590.8" r="3.0"/><circle cx="499.4" cy="1549.0" r="3.0"/><circle cx="519.0" cy="1590.3" r="3.0"/><circle cx="501.1" cy="1576.5" r="3.0"/><circle cx="501.5" cy="1575.4" r="3.0"/><circle cx="483.4" cy="1566.5" r="3.0"/><circle cx="481.9" cy="1567.8" r="3.0"/><circle cx="498.8" cy="1602.7" r="3.0"/><circle cx="505.7" cy="1587.2" r="3.0"/><circle cx="489.1" cy="1562.6" r="3.0"/><circle cx="503.4" cy="1590.2" r="3.0"/><circle cx="484.2" cy="1548.8" r="3.0"/><circle cx="491.4" cy="1577.9" r="3.0"/><circle cx="501.3" cy="1594.0" r="3.0"/><circle cx="492.7" cy="1573.3" r="3.0"/><circle cx="498.2" cy="1546.6" r="3.0"/><circle cx="509.0" cy="1589.2" r="3.0"/><circle cx="487.5" cy="1573.2" r="3.0"/><circle cx="506.7" cy="1591.2" r="3.0"/><circle cx="518.9" cy="1588.5" r="3.0"/><circle cx="513.5" cy="1580.3" r="3.0"/><circle cx="495.4" cy="1574.2" r="3.0"/><circle cx="506.0" cy="1576.9" r="3.0"/><circle cx="484.9" cy="1578.2" r="3.0"/><circle cx="509.3" cy="1534.8" r="3.0"/><circle cx="510.4" cy="1593.0" r="3.0"/><circle cx="489.2" cy="1598.6" r="3.0"/><circle cx="495.6" cy="1573.5" r="3.0"/><circle cx="504.6" cy="1579.1" r="3.0"/><circle cx="506.8" cy="1595.8" r="3.0"/><circle cx="505.3" cy="1552.0" r="3.0"/><circle cx="510.4" cy="1589.5" r="3.0"/><circle cx="514.5" cy="1595.8" r="3.0"/><circle cx="499.2" cy="1575.6" r="3.0"/><circle cx="481.0" cy="1571.6" r="3.0"/><circle cx="512.7" cy="1536.4" r="3.0"/><circle cx="484.7" cy="1596.2" r="3.0"/><circle cx="501.6" cy="1594.5" r="3.0"/><circle cx="509.0" cy="1584.9" r="3.0"/><circle cx="512.8" cy="1586.8" r="3.0"/><circle cx="501.6" cy="1582.3" r="3.0"/><circle cx="505.8" cy="1589.5" r="3.0"/><circle cx="519.1" cy="1596.9" r="3.0"/><circle cx="511.3" cy="1586.9" r="3.0"/><circle cx="491.8" cy="1570.9" r="3.0"/><circle cx="517.9" cy="1570.5" r="3.0"/><circle cx="507.6" cy="1589.0" r="3.0"/><circle cx="492.5" cy="1573.6" r="3.0"/><circle cx="491.4" cy="1575.5" r="3.0"/><circle cx="498.1" cy="1587.1" r="3.0"/><circle cx="500.8" cy="1585.6" r="3.0"/><circle cx="514.3" cy="1581.2" r="3.0"/><circle cx="498.7" cy="1579.2" r="3.0"/><circle cx="508.9" cy="1591.2" r="3.0"/><circle cx="493.8" cy="1583.2" r="3.0"/><circle cx="499.2" cy="1587.8" r="3.0"/><circle cx="493.4" cy="1563.4" r="3.0"/><circle cx="496.1" cy="1600.6" r="3.0"/><circle cx="508.4" cy="1593.1" r="3.0"/><circle cx="489.7" cy="1568.8" r="3.0"/><circle cx="500.0" cy="1575.6" r="3.0"/><circle cx="510.1" cy="1581.2" r="3.0"/><circle cx="480.8" cy="1570.2" r="3.0"/><circle cx="496.8" cy="1594.8" r="3.0"/><circle cx="511.4" cy="1576.7" r="3.0"/><circle cx="506.7" cy="1593.4" r="3.0"/><circle cx="513.1" cy="1594.7" r="3.0"/><circle cx="490.7" cy="1574.1" r="3.0"/><circle cx="505.0" cy="1590.3" r="3.0"/><circle cx="492.7" cy="1585.4" r="3.0"/><circle cx="483.7" cy="1571.9" r="3.0"/><circle cx="511.9" cy="1592.7" r="3.0"/><circle cx="492.3" cy="1572.4" r="3.0"/><circle cx="509.8" cy="1538.8" r="3.0"/><circle cx="511.3" cy="1584.0" r="3.0"/><circle cx="512.7" cy="1567.3" r="3.0"/><circle cx="532.1" cy="1571.1" r="3.0"/><circle cx="552.7" cy="1595.1" r="3.0"/><circle cx="530.3" cy="1595.6" r="3.0"/><circle cx="547.2" cy="1582.3" r="3.0"/><circle cx="520.8" cy="1600.8" r="3.0"/><circle cx="552.0" cy="1581.9" r="3.0"/><circle cx="523.0" cy="1578.5" r="3.0"/><circle cx="549.3" cy="1576.1" r="3.0"/><circle cx="545.9" cy="1576.3" r="3.0"/><circle cx="523.0" cy="1560.6" r="3.0"/><circle cx="543.9" cy="1586.2" r="3.0"/><circle cx="548.9" cy="1561.1" r="3.0"/><circle cx="552.9" cy="1575.2" r="3.0"/><circle cx="559.9" cy="1575.4" r="3.0"/><circle cx="530.1" cy="1583.8" r="3.0"/><circle cx="537.6" cy="1568.0" r="3.0"/><circle cx="535.2" cy="1590.3" r="3.0"/><circle cx="547.1" cy="1572.1" r="3.0"/><circle cx="528.1" cy="1564.8" r="3.0"/><circle cx="543.0" cy="1589.6" r="3.0"/><circle cx="530.1" cy="1592.1" r="3.0"/><circle cx="528.9" cy="1590.2" r="3.0"/><circle cx="550.8" cy="1582.8" r="3.0"/><circle cx="542.5" cy="1577.4" r="3.0"/><circle cx="551.8" cy="1569.7" r="3.0"/><circle cx="547.1" cy="1549.1" r="3.0"/><circle cx="554.7" cy="1555.5" r="3.0"/><circle cx="539.6" cy="1578.5" r="3.0"/><circle cx="521.0" cy="1586.3" r="3.0"/><circle cx="560.6" cy="1594.6" r="3.0"/><circle cx="529.7" cy="1569.9" r="3.0"/><circle cx="553.6" cy="1575.3" r="3.0"/><circle cx="528.5" cy="1585.2" r="3.0"/><circle cx="541.0" cy="1584.1" r="3.0"/><circle cx="532.1" cy="1583.4" r="3.0"/><circle cx="546.9" cy="1603.5" r="3.0"/><circle cx="523.7" cy="1582.5" r="3.0"/><circle cx="523.4" cy="1577.4" r="3.0"/><circle cx="539.0" cy="1583.6" r="3.0"/><circle cx="554.6" cy="1593.4" r="3.0"/><circle cx="539.2" cy="1581.5" r="3.0"/><circle cx="525.2" cy="1575.2" r="3.0"/><circle cx="560.4" cy="1551.7" r="3.0"/><circle cx="524.7" cy="1565.7" r="3.0"/><circle cx="533.0" cy="1573.7" r="3.0"/><circle cx="543.2" cy="1582.8" r="3.0"/><circle cx="531.3" cy="1595.4" r="3.0"/><circle cx="548.6" cy="1587.6" r="3.0"/><circle cx="537.3" cy="1595.7" r="3.0"/><circle cx="552.4" cy="1583.6" r="3.0"/><circle cx="523.8" cy="1565.6" r="3.0"/><circle cx="553.5" cy="1566.7" r="3.0"/><circle cx="556.7" cy="1569.3" r="3.0"/><circle cx="530.7" cy="1581.6" r="3.0"/><circle cx="530.0" cy="1567.1" r="3.0"/><circle cx="555.9" cy="1585.6" r="3.0"/><circle cx="537.1" cy="1599.8" r="3.0"/><circle cx="536.5" cy="1580.3" r="3.0"/><circle cx="544.0" cy="1581.7" r="3.0"/><circle cx="542.5" cy="1598.5" r="3.0"/><circle cx="553.1" cy="1588.3" r="3.0"/><circle cx="547.4" cy="1602.8" r="3.0"/><circle cx="548.8" cy="1587.7" r="3.0"/><circle cx="537.8" cy="1563.3" r="3.0"/><circle cx="541.1" cy="1589.3" r="3.0"/><circle cx="554.8" cy="1561.8" r="3.0"/><circle cx="555.3" cy="1579.5" r="3.0"/><circle cx="545.1" cy="1590.3" r="3.0"/><circle cx="544.2" cy="1598.7" r="3.0"/><circle cx="532.7" cy="1571.2" r="3.0"/><circle cx="539.8" cy="1572.8" r="3.0"/><circle cx="528.4" cy="1596.5" r="3.0"/><circle cx="540.0" cy="1587.0" r="3.0"/><circle cx="522.9" cy="1564.8" r="3.0"/><circle cx="530.8" cy="1590.2" r="3.0"/><circle cx="532.0" cy="1576.6" r="3.0"/><circle cx="539.5" cy="1599.8" r="3.0"/><circle cx="547.9" cy="1592.1" r="3.0"/><circle cx="524.4" cy="1571.4" r="3.0"/><circle cx="546.2" cy="1594.3" r="3.0"/><circle cx="551.6" cy="1596.4" r="3.0"/><circle cx="527.2" cy="1595.7" r="3.0"/><circle cx="526.1" cy="1586.3" r="3.0"/><circle cx="524.6" cy="1597.1" r="3.0"/><circle cx="574.9" cy="1584.1" r="3.0"/><circle cx="569.6" cy="1575.1" r="3.0"/><circle cx="561.5" cy="1557.6" r="3.0"/><circle cx="563.3" cy="1587.1" r="3.0"/><circle cx="568.8" cy="1556.1" r="3.0"/><circle cx="561.8" cy="1574.9" r="3.0"/><circle cx="578.5" cy="1585.4" r="3.0"/><circle cx="565.0" cy="1575.6" r="3.0"/><circle cx="578.9" cy="1558.4" r="3.0"/><circle cx="561.4" cy="1558.4" r="3.0"/><circle cx="568.2" cy="1572.0" r="3.0"/><circle cx="581.6" cy="1583.9" r="3.0"/><circle cx="564.1" cy="1570.7" r="3.0"/><circle cx="561.5" cy="1579.7" r="3.0"/><circle cx="579.5" cy="1580.7" r="3.0"/><circle cx="578.6" cy="1579.5" r="3.0"/><circle cx="571.8" cy="1551.7" r="3.0"/><circle cx="563.5" cy="1594.6" r="3.0"/><circle cx="567.2" cy="1583.5" r="3.0"/><circle cx="570.6" cy="1593.8" r="3.0"/><circle cx="582.3" cy="1570.5" r="3.0"/><circle cx="565.5" cy="1565.9" r="3.0"/><circle cx="575.5" cy="1561.6" r="3.0"/><circle cx="576.5" cy="1586.8" r="3.0"/><circle cx="580.2" cy="1582.1" r="3.0"/><circle cx="575.8" cy="1571.9" r="3.0"/><circle cx="569.1" cy="1580.3" r="3.0"/><circle cx="570.6" cy="1578.8" r="3.0"/><circle cx="571.3" cy="1580.1" r="3.0"/><circle cx="573.9" cy="1579.2" r="3.0"/><circle cx="572.6" cy="1584.0" r="3.0"/><circle cx="563.0" cy="1576.6" r="3.0"/><circle cx="578.0" cy="1596.8" r="3.0"/><circle cx="568.8" cy="1587.4" r="3.0"/><circle cx="574.7" cy="1595.7" r="3.0"/><circle cx="567.6" cy="1583.6" r="3.0"/><circle cx="570.7" cy="1590.5" r="3.0"/><circle cx="583.0" cy="1575.6" r="3.0"/><circle cx="561.0" cy="1563.0" r="3.0"/><circle cx="575.0" cy="1595.0" r="3.0"/><circle cx="564.9" cy="1590.9" r="3.0"/><circle cx="582.1" cy="1578.5" r="3.0"/><circle cx="579.1" cy="1559.8" r="3.0"/><circle cx="579.4" cy="1571.8" r="3.0"/><circle cx="606.3" cy="1113.7" r="3.0"/><circle cx="500.7" cy="1327.4" r="3.0"/><circle cx="241.6" cy="1359.3" r="3.0"/><circle cx="441.5" cy="1411.8" r="3.0"/><circle cx="486.9" cy="1452.4" r="3.0"/><circle cx="626.0" cy="1452.4" r="3.0"/><circle cx="470.3" cy="1473.3" r="3.0"/><circle cx="289.7" cy="1474.1" r="3.0"/><circle cx="154.1" cy="1511.1" r="3.0"/><circle cx="744.0" cy="1522.6" r="3.0"/><circle cx="332.3" cy="1488.6" r="3.0"/><circle cx="302.3" cy="1495.7" r="3.0"/><circle cx="308.2" cy="1492.2" r="3.0"/><circle cx="312.2" cy="1494.2" r="3.0"/><circle cx="386.3" cy="1493.4" r="3.0"/><circle cx="398.1" cy="1493.4" r="3.0"/><circle cx="410.4" cy="1491.0" r="3.0"/><circle cx="455.7" cy="1491.0" r="3.0"/><circle cx="596.1" cy="1503.2" r="3.0"/><circle cx="341.8" cy="1503.2" r="3.0"/><circle cx="350.8" cy="1502.1" r="3.0"/><circle cx="352.8" cy="1510.0" r="3.0"/><circle cx="458.5" cy="1507.6" r="3.0"/><circle cx="444.3" cy="1508.8" r="3.0"/><circle cx="442.7" cy="1513.5" r="3.0"/><circle cx="288.1" cy="1519.4" r="3.0"/><circle cx="307.8" cy="1521.0" r="3.0"/><circle cx="298.4" cy="1525.7" r="3.0"/><circle cx="325.6" cy="1515.9" r="3.0"/><circle cx="326.0" cy="1522.6" r="3.0"/><circle cx="333.1" cy="1522.6" r="3.0"/><circle cx="393.4" cy="1514.3" r="3.0"/><circle cx="399.3" cy="1519.4" r="3.0"/><circle cx="373.3" cy="1517.8" r="3.0"/><circle cx="376.4" cy="1521.8" r="3.0"/><circle cx="366.6" cy="1523.8" r="3.0"/><circle cx="481.0" cy="1523.8" r="3.0"/><circle cx="497.5" cy="1525.7" r="3.0"/><circle cx="505.0" cy="1530.9" r="3.0"/><circle cx="535.0" cy="1524.5" r="3.0"/><circle cx="585.8" cy="1520.2" r="3.0"/><circle cx="605.9" cy="1517.4" r="3.0"/><circle cx="593.7" cy="1529.3" r="3.0"/><circle cx="610.3" cy="1527.7" r="3.0"/><circle cx="201.5" cy="1543.6" r="3.0"/><circle cx="187.3" cy="1558.3" r="3.0"/><circle cx="193.1" cy="1560.7" r="3.0"/><circle cx="211.5" cy="1559.1" r="3.0"/><circle cx="206.8" cy="1572.0" r="3.0"/><circle cx="225.2" cy="1552.0" r="3.0"/><circle cx="241.5" cy="1546.3" r="3.0"/><circle cx="246.2" cy="1542.0" r="3.0"/><circle cx="266.7" cy="1543.1" r="3.0"/><circle cx="247.8" cy="1564.7" r="3.0"/><circle cx="256.2" cy="1569.4" r="3.0"/><circle cx="266.2" cy="1566.2" r="3.0"/><circle cx="269.9" cy="1574.1" r="3.0"/><circle cx="243.0" cy="1573.1" r="3.0"/><circle cx="246.7" cy="1575.7" r="3.0"/><circle cx="259.1" cy="1583.9" r="3.0"/><circle cx="256.7" cy="1600.6" r="3.0"/><circle cx="263.0" cy="1601.5" r="3.0"/><circle cx="272.7" cy="1597.3" r="3.0"/><circle cx="254.1" cy="1557.3" r="3.0"/><circle cx="266.7" cy="1557.3" r="3.0"/><circle cx="298.2" cy="1526.3" r="3.0"/><circle cx="285.6" cy="1533.1" r="3.0"/><circle cx="284.0" cy="1536.8" r="3.0"/><circle cx="283.5" cy="1541.5" r="3.0"/><circle cx="291.4" cy="1545.2" r="3.0"/><circle cx="291.4" cy="1551.0" r="3.0"/><circle cx="299.3" cy="1540.5" r="3.0"/><circle cx="283.5" cy="1578.3" r="3.0"/><circle cx="285.6" cy="1568.9" r="3.0"/><circle cx="285.6" cy="1573.1" r="3.0"/><circle cx="293.0" cy="1582.5" r="3.0"/><circle cx="297.2" cy="1598.3" r="3.0"/><circle cx="586.0" cy="1520.3" r="3.0"/><circle cx="583.2" cy="1540.5" r="3.0"/><circle cx="588.7" cy="1544.4" r="3.0"/><circle cx="592.6" cy="1543.6" r="3.0"/><circle cx="625.7" cy="1561.3" r="3.0"/><circle cx="636.0" cy="1560.2" r="3.0"/><circle cx="640.7" cy="1567.0" r="3.0"/><circle cx="649.4" cy="1566.0" r="3.0"/><circle cx="658.4" cy="1563.3" r="3.0"/><circle cx="664.7" cy="1562.9" r="3.0"/><circle cx="673.8" cy="1563.8" r="3.0"/><circle cx="612.3" cy="1554.4" r="3.0"/><circle cx="728.9" cy="1549.6" r="3.0"/><circle cx="750.0" cy="1557.8" r="3.0"/><circle cx="856.5" cy="1558.6" r="3.0"/><circle cx="707.0" cy="1584.6" r="3.0"/><circle cx="748.5" cy="1584.6" r="3.0"/><circle cx="700.7" cy="1600.4" r="3.0"/><circle cx="714.9" cy="1599.6" r="3.0"/><circle cx="740.6" cy="1598.0" r="3.0"/><circle cx="746.4" cy="1594.4" r="3.0"/><circle cx="767.2" cy="1593.0" r="3.0"/><circle cx="817.4" cy="1578.3" r="3.0"/><circle cx="700.0" cy="1573.6" r="3.0"/><circle cx="589.5" cy="1600.4" r="3.0"/><circle cx="613.1" cy="1601.2" r="3.0"/><circle cx="632.0" cy="1601.2" r="3.0"/><circle cx="651.0" cy="1603.9" r="3.0"/><circle cx="660.4" cy="1594.6" r="3.0"/><circle cx="625.7" cy="1597.3" r="3.0"/><circle cx="643.9" cy="1600.4" r="3.0"/><circle cx="653.3" cy="1589.1" r="3.0"/><circle cx="670.7" cy="1592.5" r="3.0"/><circle cx="605.2" cy="1593.3" r="3.0"/><circle cx="620.2" cy="1585.4" r="3.0"/><circle cx="628.9" cy="1585.9" r="3.0"/><circle cx="642.3" cy="1582.3" r="3.0"/><circle cx="651.0" cy="1581.2" r="3.0"/><circle cx="662.0" cy="1581.5" r="3.0"/><circle cx="674.6" cy="1583.1" r="3.0"/><circle cx="636.8" cy="1592.5" r="3.0"/><circle cx="598.0" cy="1560.0" r="3.0"/><circle cx="604.0" cy="1566.0" r="3.0"/><circle cx="610.0" cy="1572.0" r="3.0"/><circle cx="600.0" cy="1578.0" r="3.0"/><circle cx="615.0" cy="1568.0" r="3.0"/><circle cx="620.0" cy="1576.0" r="3.0"/><circle cx="596.0" cy="1586.0" r="3.0"/><circle cx="630.0" cy="1570.0" r="3.0"/><circle cx="645.0" cy="1574.0" r="3.0"/><circle cx="660.0" cy="1572.0" r="3.0"/><circle cx="668.0" cy="1576.0" r="3.0"/><circle cx="678.0" cy="1570.0" r="3.0"/><circle cx="590.0" cy="1552.0" r="3.0"/><circle cx="602.0" cy="1548.0" r="3.0"/><circle cx="618.0" cy="1560.0" r="3.0"/><circle cx="634.0" cy="1580.0" r="3.0"/><circle cx="656.0" cy="1584.0" r="3.0"/><circle cx="666.0" cy="1588.0" r="3.0"/><circle cx="680.0" cy="1580.0" r="3.0"/><circle cx="596.0" cy="1594.0" r="3.0"/><circle cx="610.0" cy="1582.0" r="3.0"/><circle cx="624.0" cy="1590.0" r="3.0"/></g>
<g class="rd3"><circle cx="313.9" cy="1561.1" r="5.2"/><circle cx="302.4" cy="1560.2" r="5.2"/><circle cx="323.5" cy="1561.9" r="5.2"/><circle cx="307.3" cy="1560.6" r="5.2"/><circle cx="308.9" cy="1560.7" r="5.2"/><circle cx="308.7" cy="1560.7" r="5.2"/><circle cx="319.9" cy="1561.6" r="5.2"/><circle cx="308.8" cy="1560.7" r="5.2"/><circle cx="312.1" cy="1561.0" r="5.2"/><circle cx="324.2" cy="1562.0" r="5.2"/><circle cx="312.0" cy="1561.0" r="5.2"/><circle cx="325.5" cy="1562.1" r="5.2"/><circle cx="325.4" cy="1562.1" r="5.2"/><circle cx="312.4" cy="1561.0" r="5.2"/><circle cx="306.2" cy="1560.5" r="5.2"/><circle cx="326.0" cy="1562.1" r="5.2"/><circle cx="315.4" cy="1561.2" r="5.2"/><circle cx="309.7" cy="1560.8" r="5.2"/><circle cx="301.3" cy="1560.1" r="5.2"/><circle cx="312.7" cy="1561.0" r="5.2"/><circle cx="300.6" cy="1560.0" r="5.2"/><circle cx="317.3" cy="1561.4" r="5.2"/><circle cx="310.8" cy="1560.9" r="5.2"/><circle cx="307.9" cy="1560.6" r="5.2"/><circle cx="305.8" cy="1560.4" r="5.2"/><circle cx="320.9" cy="1561.7" r="5.2"/><circle cx="324.9" cy="1562.0" r="5.2"/><circle cx="299.9" cy="1560.0" r="5.2"/><circle cx="314.6" cy="1561.2" r="5.2"/><circle cx="301.9" cy="1560.1" r="5.2"/><circle cx="328.9" cy="1562.4" r="5.2"/><circle cx="359.4" cy="1564.8" r="5.2"/><circle cx="337.8" cy="1563.1" r="5.2"/><circle cx="344.9" cy="1563.6" r="5.2"/><circle cx="356.8" cy="1564.6" r="5.2"/><circle cx="348.4" cy="1563.9" r="5.2"/><circle cx="339.0" cy="1563.2" r="5.2"/><circle cx="350.3" cy="1564.1" r="5.2"/><circle cx="352.9" cy="1564.3" r="5.2"/><circle cx="348.5" cy="1563.9" r="5.2"/><circle cx="340.2" cy="1563.3" r="5.2"/><circle cx="352.0" cy="1564.2" r="5.2"/><circle cx="339.8" cy="1563.2" r="5.2"/><circle cx="339.4" cy="1563.2" r="5.2"/><circle cx="336.8" cy="1563.0" r="5.2"/><circle cx="359.1" cy="1564.8" r="5.2"/><circle cx="331.6" cy="1562.6" r="5.2"/><circle cx="329.5" cy="1562.4" r="5.2"/><circle cx="337.2" cy="1563.0" r="5.2"/><circle cx="331.7" cy="1562.6" r="5.2"/><circle cx="339.5" cy="1563.2" r="5.2"/><circle cx="357.9" cy="1564.7" r="5.2"/><circle cx="358.2" cy="1564.7" r="5.2"/><circle cx="335.1" cy="1562.9" r="5.2"/><circle cx="337.3" cy="1563.0" r="5.2"/><circle cx="340.7" cy="1563.3" r="5.2"/><circle cx="358.3" cy="1564.7" r="5.2"/><circle cx="336.3" cy="1563.0" r="5.2"/><circle cx="352.3" cy="1564.2" r="5.2"/><circle cx="348.3" cy="1563.9" r="5.2"/><circle cx="356.0" cy="1564.5" r="5.2"/><circle cx="336.7" cy="1563.0" r="5.2"/><circle cx="357.6" cy="1564.6" r="5.2"/><circle cx="359.8" cy="1564.8" r="5.2"/><circle cx="340.5" cy="1563.3" r="5.2"/><circle cx="357.8" cy="1564.7" r="5.2"/><circle cx="351.3" cy="1564.2" r="5.2"/><circle cx="335.0" cy="1562.8" r="5.2"/><circle cx="342.0" cy="1563.4" r="5.2"/><circle cx="335.8" cy="1562.9" r="5.2"/><circle cx="356.8" cy="1564.6" r="5.2"/><circle cx="335.2" cy="1562.9" r="5.2"/><circle cx="395.1" cy="1567.4" r="5.2"/><circle cx="371.0" cy="1565.7" r="5.2"/><circle cx="395.7" cy="1567.5" r="5.2"/><circle cx="391.7" cy="1567.2" r="5.2"/><circle cx="389.3" cy="1567.0" r="5.2"/><circle cx="370.7" cy="1565.6" r="5.2"/><circle cx="388.7" cy="1567.0" r="5.2"/><circle cx="385.1" cy="1566.7" r="5.2"/><circle cx="373.9" cy="1565.9" r="5.2"/><circle cx="399.5" cy="1567.7" r="5.2"/><circle cx="398.3" cy="1567.6" r="5.2"/><circle cx="386.1" cy="1566.8" r="5.2"/><circle cx="396.3" cy="1567.5" r="5.2"/><circle cx="373.3" cy="1565.8" r="5.2"/><circle cx="366.7" cy="1565.3" r="5.2"/><circle cx="373.3" cy="1565.8" r="5.2"/><circle cx="382.7" cy="1566.5" r="5.2"/><circle cx="396.1" cy="1567.5" r="5.2"/><circle cx="393.6" cy="1567.3" r="5.2"/><circle cx="369.6" cy="1565.6" r="5.2"/><circle cx="392.8" cy="1567.2" r="5.2"/><circle cx="395.4" cy="1567.4" r="5.2"/><circle cx="383.3" cy="1566.6" r="5.2"/><circle cx="379.8" cy="1566.3" r="5.2"/><circle cx="378.8" cy="1566.2" r="5.2"/><circle cx="367.8" cy="1565.4" r="5.2"/><circle cx="370.2" cy="1565.6" r="5.2"/><circle cx="380.2" cy="1566.4" r="5.2"/><circle cx="380.5" cy="1566.4" r="5.2"/><circle cx="381.2" cy="1566.4" r="5.2"/><circle cx="377.8" cy="1566.2" r="5.2"/><circle cx="394.0" cy="1567.3" r="5.2"/><circle cx="366.6" cy="1565.3" r="5.2"/><circle cx="367.0" cy="1565.4" r="5.2"/><circle cx="397.3" cy="1567.6" r="5.2"/><circle cx="383.4" cy="1566.6" r="5.2"/><circle cx="384.7" cy="1566.7" r="5.2"/><circle cx="378.8" cy="1566.3" r="5.2"/><circle cx="377.1" cy="1566.1" r="5.2"/><circle cx="374.0" cy="1565.9" r="5.2"/><circle cx="381.3" cy="1566.4" r="5.2"/><circle cx="393.1" cy="1567.3" r="5.2"/><circle cx="361.7" cy="1565.0" r="5.2"/><circle cx="397.7" cy="1567.6" r="5.2"/><circle cx="367.5" cy="1565.4" r="5.2"/><circle cx="379.5" cy="1566.3" r="5.2"/><circle cx="393.1" cy="1567.3" r="5.2"/><circle cx="365.2" cy="1565.2" r="5.2"/><circle cx="386.0" cy="1566.8" r="5.2"/><circle cx="384.2" cy="1566.6" r="5.2"/><circle cx="382.1" cy="1566.5" r="5.2"/><circle cx="393.2" cy="1567.3" r="5.2"/><circle cx="365.1" cy="1565.2" r="5.2"/><circle cx="368.7" cy="1565.5" r="5.2"/><circle cx="396.5" cy="1567.5" r="5.2"/><circle cx="398.0" cy="1567.6" r="5.2"/><circle cx="364.9" cy="1565.2" r="5.2"/><circle cx="386.8" cy="1566.8" r="5.2"/><circle cx="363.8" cy="1565.1" r="5.2"/><circle cx="397.4" cy="1567.6" r="5.2"/><circle cx="397.8" cy="1567.6" r="5.2"/><circle cx="387.6" cy="1566.9" r="5.2"/><circle cx="379.2" cy="1566.3" r="5.2"/><circle cx="386.1" cy="1566.8" r="5.2"/><circle cx="382.4" cy="1566.5" r="5.2"/><circle cx="393.0" cy="1567.3" r="5.2"/><circle cx="393.4" cy="1567.3" r="5.2"/><circle cx="394.5" cy="1567.4" r="5.2"/><circle cx="393.6" cy="1567.3" r="5.2"/><circle cx="368.8" cy="1565.5" r="5.2"/><circle cx="368.2" cy="1565.5" r="5.2"/><circle cx="387.9" cy="1566.9" r="5.2"/><circle cx="422.2" cy="1569.2" r="5.2"/><circle cx="438.9" cy="1570.1" r="5.2"/><circle cx="402.3" cy="1567.9" r="5.2"/><circle cx="416.3" cy="1568.8" r="5.2"/><circle cx="434.9" cy="1569.9" r="5.2"/><circle cx="418.1" cy="1568.9" r="5.2"/><circle cx="405.4" cy="1568.1" r="5.2"/><circle cx="413.2" cy="1568.6" r="5.2"/><circle cx="438.7" cy="1570.1" r="5.2"/><circle cx="431.0" cy="1569.7" r="5.2"/><circle cx="433.7" cy="1569.9" r="5.2"/><circle cx="410.5" cy="1568.4" r="5.2"/><circle cx="432.3" cy="1569.8" r="5.2"/><circle cx="400.3" cy="1567.8" r="5.2"/><circle cx="408.9" cy="1568.3" r="5.2"/><circle cx="425.2" cy="1569.4" r="5.2"/><circle cx="426.5" cy="1569.4" r="5.2"/><circle cx="418.3" cy="1568.9" r="5.2"/><circle cx="438.5" cy="1570.1" r="5.2"/><circle cx="414.9" cy="1568.7" r="5.2"/><circle cx="411.0" cy="1568.5" r="5.2"/><circle cx="408.2" cy="1568.3" r="5.2"/><circle cx="430.0" cy="1569.6" r="5.2"/><circle cx="432.8" cy="1569.8" r="5.2"/><circle cx="433.2" cy="1569.8" r="5.2"/><circle cx="425.0" cy="1569.3" r="5.2"/><circle cx="401.4" cy="1567.8" r="5.2"/><circle cx="416.7" cy="1568.8" r="5.2"/><circle cx="406.8" cy="1568.2" r="5.2"/><circle cx="411.4" cy="1568.5" r="5.2"/><circle cx="401.2" cy="1567.8" r="5.2"/><circle cx="427.9" cy="1569.5" r="5.2"/><circle cx="410.1" cy="1568.4" r="5.2"/><circle cx="422.6" cy="1569.2" r="5.2"/><circle cx="438.7" cy="1570.1" r="5.2"/><circle cx="409.5" cy="1568.4" r="5.2"/><circle cx="411.5" cy="1568.5" r="5.2"/><circle cx="410.3" cy="1568.4" r="5.2"/><circle cx="402.7" cy="1567.9" r="5.2"/><circle cx="422.8" cy="1569.2" r="5.2"/><circle cx="422.2" cy="1569.2" r="5.2"/><circle cx="424.1" cy="1569.3" r="5.2"/><circle cx="438.7" cy="1570.1" r="5.2"/><circle cx="423.2" cy="1569.2" r="5.2"/><circle cx="424.5" cy="1569.3" r="5.2"/><circle cx="435.8" cy="1570.0" r="5.2"/><circle cx="435.2" cy="1569.9" r="5.2"/><circle cx="421.1" cy="1569.1" r="5.2"/><circle cx="424.4" cy="1569.3" r="5.2"/><circle cx="414.8" cy="1568.7" r="5.2"/><circle cx="420.0" cy="1569.0" r="5.2"/><circle cx="419.4" cy="1569.0" r="5.2"/><circle cx="421.3" cy="1569.1" r="5.2"/><circle cx="409.5" cy="1568.4" r="5.2"/><circle cx="424.2" cy="1569.3" r="5.2"/><circle cx="411.4" cy="1568.5" r="5.2"/><circle cx="412.5" cy="1568.6" r="5.2"/><circle cx="412.4" cy="1568.6" r="5.2"/><circle cx="431.6" cy="1569.7" r="5.2"/><circle cx="402.9" cy="1567.9" r="5.2"/><circle cx="440.0" cy="1570.2" r="5.2"/><circle cx="406.7" cy="1568.2" r="5.2"/><circle cx="424.9" cy="1569.3" r="5.2"/><circle cx="409.4" cy="1568.4" r="5.2"/><circle cx="427.5" cy="1569.5" r="5.2"/><circle cx="434.4" cy="1569.9" r="5.2"/><circle cx="417.5" cy="1568.9" r="5.2"/><circle cx="418.9" cy="1569.0" r="5.2"/><circle cx="439.5" cy="1570.2" r="5.2"/><circle cx="423.7" cy="1569.3" r="5.2"/><circle cx="414.8" cy="1568.7" r="5.2"/><circle cx="409.3" cy="1568.4" r="5.2"/><circle cx="434.1" cy="1569.9" r="5.2"/><circle cx="428.1" cy="1569.5" r="5.2"/><circle cx="412.5" cy="1568.6" r="5.2"/><circle cx="420.4" cy="1569.1" r="5.2"/><circle cx="405.6" cy="1568.1" r="5.2"/><circle cx="431.2" cy="1569.7" r="5.2"/><circle cx="436.2" cy="1570.0" r="5.2"/><circle cx="429.3" cy="1569.6" r="5.2"/><circle cx="428.6" cy="1569.6" r="5.2"/><circle cx="405.3" cy="1568.1" r="5.2"/><circle cx="436.6" cy="1570.0" r="5.2"/><circle cx="423.9" cy="1569.3" r="5.2"/><circle cx="436.0" cy="1570.0" r="5.2"/><circle cx="430.0" cy="1569.6" r="5.2"/><circle cx="435.7" cy="1570.0" r="5.2"/><circle cx="432.5" cy="1569.8" r="5.2"/><circle cx="429.4" cy="1569.6" r="5.2"/><circle cx="424.1" cy="1569.3" r="5.2"/><circle cx="411.3" cy="1568.5" r="5.2"/><circle cx="410.1" cy="1568.4" r="5.2"/><circle cx="476.9" cy="1572.0" r="5.2"/><circle cx="472.2" cy="1571.8" r="5.2"/><circle cx="450.3" cy="1570.7" r="5.2"/><circle cx="444.4" cy="1570.4" r="5.2"/><circle cx="475.4" cy="1571.9" r="5.2"/><circle cx="440.7" cy="1570.2" r="5.2"/><circle cx="465.3" cy="1571.5" r="5.2"/><circle cx="468.6" cy="1571.6" r="5.2"/><circle cx="457.3" cy="1571.1" r="5.2"/><circle cx="476.9" cy="1572.0" r="5.2"/><circle cx="466.1" cy="1571.5" r="5.2"/><circle cx="480.0" cy="1572.1" r="5.2"/><circle cx="467.9" cy="1571.6" r="5.2"/><circle cx="462.6" cy="1571.3" r="5.2"/><circle cx="443.4" cy="1570.4" r="5.2"/><circle cx="475.6" cy="1571.9" r="5.2"/><circle cx="444.9" cy="1570.5" r="5.2"/><circle cx="451.3" cy="1570.8" r="5.2"/><circle cx="466.2" cy="1571.5" r="5.2"/><circle cx="467.7" cy="1571.6" r="5.2"/><circle cx="477.4" cy="1572.0" r="5.2"/><circle cx="478.2" cy="1572.0" r="5.2"/><circle cx="477.2" cy="1572.0" r="5.2"/><circle cx="471.9" cy="1571.8" r="5.2"/><circle cx="455.5" cy="1571.0" r="5.2"/><circle cx="469.3" cy="1571.6" r="5.2"/><circle cx="446.4" cy="1570.5" r="5.2"/><circle cx="453.2" cy="1570.9" r="5.2"/><circle cx="480.2" cy="1572.1" r="5.2"/><circle cx="465.9" cy="1571.5" r="5.2"/><circle cx="477.5" cy="1572.0" r="5.2"/><circle cx="446.9" cy="1570.6" r="5.2"/><circle cx="464.2" cy="1571.4" r="5.2"/><circle cx="447.6" cy="1570.6" r="5.2"/><circle cx="468.6" cy="1571.6" r="5.2"/><circle cx="477.4" cy="1572.0" r="5.2"/><circle cx="457.7" cy="1571.1" r="5.2"/><circle cx="440.9" cy="1570.3" r="5.2"/><circle cx="453.6" cy="1570.9" r="5.2"/><circle cx="443.7" cy="1570.4" r="5.2"/><circle cx="458.6" cy="1571.2" r="5.2"/><circle cx="472.4" cy="1571.8" r="5.2"/><circle cx="479.6" cy="1572.1" r="5.2"/><circle cx="451.4" cy="1570.8" r="5.2"/><circle cx="446.2" cy="1570.5" r="5.2"/><circle cx="442.1" cy="1570.3" r="5.2"/><circle cx="452.6" cy="1570.9" r="5.2"/><circle cx="450.6" cy="1570.8" r="5.2"/><circle cx="448.5" cy="1570.7" r="5.2"/><circle cx="475.7" cy="1571.9" r="5.2"/><circle cx="451.7" cy="1570.8" r="5.2"/><circle cx="446.6" cy="1570.6" r="5.2"/><circle cx="446.3" cy="1570.5" r="5.2"/><circle cx="469.3" cy="1571.6" r="5.2"/><circle cx="457.5" cy="1571.1" r="5.2"/><circle cx="455.8" cy="1571.0" r="5.2"/><circle cx="468.5" cy="1571.6" r="5.2"/><circle cx="465.6" cy="1571.5" r="5.2"/><circle cx="458.7" cy="1571.2" r="5.2"/><circle cx="465.1" cy="1571.5" r="5.2"/><circle cx="452.6" cy="1570.9" r="5.2"/><circle cx="457.5" cy="1571.1" r="5.2"/><circle cx="467.3" cy="1571.6" r="5.2"/><circle cx="441.1" cy="1570.3" r="5.2"/><circle cx="456.6" cy="1571.1" r="5.2"/><circle cx="455.5" cy="1571.0" r="5.2"/><circle cx="453.2" cy="1570.9" r="5.2"/><circle cx="460.3" cy="1571.2" r="5.2"/><circle cx="467.9" cy="1571.6" r="5.2"/><circle cx="469.9" cy="1571.7" r="5.2"/><circle cx="471.1" cy="1571.7" r="5.2"/><circle cx="465.1" cy="1571.5" r="5.2"/><circle cx="440.8" cy="1570.2" r="5.2"/><circle cx="450.1" cy="1570.7" r="5.2"/><circle cx="467.0" cy="1571.5" r="5.2"/><circle cx="444.9" cy="1570.5" r="5.2"/><circle cx="463.5" cy="1571.4" r="5.2"/><circle cx="440.8" cy="1570.2" r="5.2"/><circle cx="473.9" cy="1571.8" r="5.2"/><circle cx="446.9" cy="1570.6" r="5.2"/><circle cx="457.7" cy="1571.1" r="5.2"/><circle cx="445.0" cy="1570.5" r="5.2"/><circle cx="447.3" cy="1570.6" r="5.2"/><circle cx="459.1" cy="1571.2" r="5.2"/><circle cx="461.1" cy="1571.3" r="5.2"/><circle cx="474.9" cy="1571.9" r="5.2"/><circle cx="448.5" cy="1570.7" r="5.2"/><circle cx="475.6" cy="1571.9" r="5.2"/><circle cx="449.7" cy="1570.7" r="5.2"/><circle cx="456.0" cy="1571.0" r="5.2"/><circle cx="478.7" cy="1572.0" r="5.2"/><circle cx="460.8" cy="1571.3" r="5.2"/><circle cx="450.4" cy="1570.8" r="5.2"/><circle cx="458.4" cy="1571.1" r="5.2"/><circle cx="473.2" cy="1571.8" r="5.2"/><circle cx="475.2" cy="1571.9" r="5.2"/><circle cx="444.7" cy="1570.5" r="5.2"/><circle cx="460.9" cy="1571.3" r="5.2"/><circle cx="455.3" cy="1571.0" r="5.2"/><circle cx="443.5" cy="1570.4" r="5.2"/><circle cx="457.8" cy="1571.1" r="5.2"/><circle cx="452.0" cy="1570.8" r="5.2"/><circle cx="469.9" cy="1571.7" r="5.2"/><circle cx="440.9" cy="1570.3" r="5.2"/><circle cx="498.5" cy="1572.8" r="5.2"/><circle cx="494.2" cy="1572.6" r="5.2"/><circle cx="497.2" cy="1572.7" r="5.2"/><circle cx="497.8" cy="1572.8" r="5.2"/><circle cx="519.6" cy="1573.5" r="5.2"/><circle cx="507.9" cy="1573.1" r="5.2"/><circle cx="495.8" cy="1572.7" r="5.2"/><circle cx="493.9" cy="1572.6" r="5.2"/><circle cx="497.9" cy="1572.8" r="5.2"/><circle cx="517.8" cy="1573.4" r="5.2"/><circle cx="504.3" cy="1573.0" r="5.2"/><circle cx="518.6" cy="1573.4" r="5.2"/><circle cx="488.6" cy="1572.4" r="5.2"/><circle cx="501.3" cy="1572.9" r="5.2"/><circle cx="509.3" cy="1573.1" r="5.2"/><circle cx="513.5" cy="1573.3" r="5.2"/><circle cx="484.5" cy="1572.3" r="5.2"/><circle cx="496.6" cy="1572.7" r="5.2"/><circle cx="515.4" cy="1573.3" r="5.2"/><circle cx="505.0" cy="1573.0" r="5.2"/><circle cx="486.0" cy="1572.3" r="5.2"/><circle cx="497.2" cy="1572.7" r="5.2"/><circle cx="500.5" cy="1572.9" r="5.2"/><circle cx="480.4" cy="1572.1" r="5.2"/><circle cx="497.3" cy="1572.7" r="5.2"/><circle cx="499.4" cy="1572.8" r="5.2"/><circle cx="519.0" cy="1573.4" r="5.2"/><circle cx="501.1" cy="1572.9" r="5.2"/><circle cx="501.5" cy="1572.9" r="5.2"/><circle cx="483.4" cy="1572.2" r="5.2"/><circle cx="481.9" cy="1572.2" r="5.2"/><circle cx="498.8" cy="1572.8" r="5.2"/><circle cx="505.7" cy="1573.0" r="5.2"/><circle cx="489.1" cy="1572.5" r="5.2"/><circle cx="503.4" cy="1573.0" r="5.2"/><circle cx="484.2" cy="1572.3" r="5.2"/><circle cx="491.4" cy="1572.5" r="5.2"/><circle cx="501.3" cy="1572.9" r="5.2"/><circle cx="492.7" cy="1572.6" r="5.2"/><circle cx="498.2" cy="1572.8" r="5.2"/><circle cx="509.0" cy="1573.1" r="5.2"/><circle cx="487.5" cy="1572.4" r="5.2"/><circle cx="506.7" cy="1573.1" r="5.2"/><circle cx="518.9" cy="1573.4" r="5.2"/><circle cx="513.5" cy="1573.3" r="5.2"/><circle cx="495.4" cy="1572.7" r="5.2"/><circle cx="506.0" cy="1573.0" r="5.2"/><circle cx="484.9" cy="1572.3" r="5.2"/><circle cx="509.3" cy="1573.1" r="5.2"/><circle cx="510.4" cy="1573.2" r="5.2"/><circle cx="489.2" cy="1572.5" r="5.2"/><circle cx="495.6" cy="1572.7" r="5.2"/><circle cx="504.6" cy="1573.0" r="5.2"/><circle cx="506.8" cy="1573.1" r="5.2"/><circle cx="505.3" cy="1573.0" r="5.2"/><circle cx="510.4" cy="1573.2" r="5.2"/><circle cx="514.5" cy="1573.3" r="5.2"/><circle cx="499.2" cy="1572.8" r="5.2"/><circle cx="481.0" cy="1572.1" r="5.2"/><circle cx="512.7" cy="1573.3" r="5.2"/><circle cx="484.7" cy="1572.3" r="5.2"/><circle cx="501.6" cy="1572.9" r="5.2"/><circle cx="509.0" cy="1573.1" r="5.2"/><circle cx="512.8" cy="1573.3" r="5.2"/><circle cx="501.6" cy="1572.9" r="5.2"/><circle cx="505.8" cy="1573.0" r="5.2"/><circle cx="519.1" cy="1573.4" r="5.2"/><circle cx="511.3" cy="1573.2" r="5.2"/><circle cx="491.8" cy="1572.5" r="5.2"/><circle cx="517.9" cy="1573.4" r="5.2"/><circle cx="507.6" cy="1573.1" r="5.2"/><circle cx="492.5" cy="1572.6" r="5.2"/><circle cx="491.4" cy="1572.5" r="5.2"/><circle cx="498.1" cy="1572.8" r="5.2"/><circle cx="500.8" cy="1572.9" r="5.2"/><circle cx="514.3" cy="1573.3" r="5.2"/><circle cx="498.7" cy="1572.8" r="5.2"/><circle cx="508.9" cy="1573.1" r="5.2"/><circle cx="493.8" cy="1572.6" r="5.2"/><circle cx="499.2" cy="1572.8" r="5.2"/><circle cx="493.4" cy="1572.6" r="5.2"/><circle cx="496.1" cy="1572.7" r="5.2"/><circle cx="508.4" cy="1573.1" r="5.2"/><circle cx="489.7" cy="1572.5" r="5.2"/><circle cx="500.0" cy="1572.8" r="5.2"/><circle cx="510.1" cy="1573.2" r="5.2"/><circle cx="480.8" cy="1572.1" r="5.2"/><circle cx="496.8" cy="1572.7" r="5.2"/><circle cx="511.4" cy="1573.2" r="5.2"/><circle cx="506.7" cy="1573.1" r="5.2"/><circle cx="513.1" cy="1573.3" r="5.2"/><circle cx="490.7" cy="1572.5" r="5.2"/><circle cx="505.0" cy="1573.0" r="5.2"/><circle cx="492.7" cy="1572.6" r="5.2"/><circle cx="483.7" cy="1572.2" r="5.2"/><circle cx="511.9" cy="1573.2" r="5.2"/><circle cx="492.3" cy="1572.6" r="5.2"/><circle cx="509.8" cy="1573.2" r="5.2"/><circle cx="511.3" cy="1573.2" r="5.2"/><circle cx="512.7" cy="1573.3" r="5.2"/><circle cx="532.1" cy="1573.8" r="5.2"/><circle cx="552.7" cy="1574.3" r="5.2"/><circle cx="530.3" cy="1573.8" r="5.2"/><circle cx="547.2" cy="1574.2" r="5.2"/><circle cx="520.8" cy="1573.5" r="5.2"/><circle cx="552.0" cy="1574.3" r="5.2"/><circle cx="523.0" cy="1573.6" r="5.2"/><circle cx="549.3" cy="1574.2" r="5.2"/><circle cx="545.9" cy="1574.1" r="5.2"/><circle cx="523.0" cy="1573.6" r="5.2"/><circle cx="543.9" cy="1574.1" r="5.2"/><circle cx="548.9" cy="1574.2" r="5.2"/><circle cx="552.9" cy="1574.3" r="5.2"/><circle cx="559.9" cy="1574.4" r="5.2"/><circle cx="530.1" cy="1573.7" r="5.2"/><circle cx="537.6" cy="1573.9" r="5.2"/><circle cx="535.2" cy="1573.9" r="5.2"/><circle cx="547.1" cy="1574.2" r="5.2"/><circle cx="528.1" cy="1573.7" r="5.2"/><circle cx="543.0" cy="1574.1" r="5.2"/><circle cx="530.1" cy="1573.7" r="5.2"/><circle cx="528.9" cy="1573.7" r="5.2"/><circle cx="550.8" cy="1574.3" r="5.2"/><circle cx="542.5" cy="1574.1" r="5.2"/><circle cx="551.8" cy="1574.3" r="5.2"/><circle cx="547.1" cy="1574.2" r="5.2"/><circle cx="554.7" cy="1574.3" r="5.2"/><circle cx="539.6" cy="1574.0" r="5.2"/><circle cx="521.0" cy="1573.5" r="5.2"/><circle cx="560.6" cy="1574.5" r="5.2"/><circle cx="529.7" cy="1573.7" r="5.2"/><circle cx="553.6" cy="1574.3" r="5.2"/><circle cx="528.5" cy="1573.7" r="5.2"/><circle cx="541.0" cy="1574.0" r="5.2"/><circle cx="532.1" cy="1573.8" r="5.2"/><circle cx="546.9" cy="1574.2" r="5.2"/><circle cx="523.7" cy="1573.6" r="5.2"/><circle cx="523.4" cy="1573.6" r="5.2"/><circle cx="539.0" cy="1574.0" r="5.2"/><circle cx="554.6" cy="1574.3" r="5.2"/><circle cx="539.2" cy="1574.0" r="5.2"/><circle cx="525.2" cy="1573.6" r="5.2"/><circle cx="560.4" cy="1574.5" r="5.2"/><circle cx="524.7" cy="1573.6" r="5.2"/><circle cx="533.0" cy="1573.8" r="5.2"/><circle cx="543.2" cy="1574.1" r="5.2"/><circle cx="531.3" cy="1573.8" r="5.2"/><circle cx="548.6" cy="1574.2" r="5.2"/><circle cx="537.3" cy="1573.9" r="5.2"/><circle cx="552.4" cy="1574.3" r="5.2"/><circle cx="523.8" cy="1573.6" r="5.2"/><circle cx="553.5" cy="1574.3" r="5.2"/><circle cx="556.7" cy="1574.4" r="5.2"/><circle cx="530.7" cy="1573.8" r="5.2"/><circle cx="530.0" cy="1573.7" r="5.2"/><circle cx="555.9" cy="1574.4" r="5.2"/><circle cx="537.1" cy="1573.9" r="5.2"/><circle cx="536.5" cy="1573.9" r="5.2"/><circle cx="544.0" cy="1574.1" r="5.2"/><circle cx="542.5" cy="1574.1" r="5.2"/><circle cx="553.1" cy="1574.3" r="5.2"/><circle cx="547.4" cy="1574.2" r="5.2"/><circle cx="548.8" cy="1574.2" r="5.2"/><circle cx="537.8" cy="1573.9" r="5.2"/><circle cx="541.1" cy="1574.0" r="5.2"/><circle cx="554.8" cy="1574.3" r="5.2"/><circle cx="555.3" cy="1574.4" r="5.2"/><circle cx="545.1" cy="1574.1" r="5.2"/><circle cx="544.2" cy="1574.1" r="5.2"/><circle cx="532.7" cy="1573.8" r="5.2"/><circle cx="539.8" cy="1574.0" r="5.2"/><circle cx="528.4" cy="1573.7" r="5.2"/><circle cx="540.0" cy="1574.0" r="5.2"/><circle cx="522.9" cy="1573.6" r="5.2"/><circle cx="530.8" cy="1573.8" r="5.2"/><circle cx="532.0" cy="1573.8" r="5.2"/><circle cx="539.5" cy="1574.0" r="5.2"/><circle cx="547.9" cy="1574.2" r="5.2"/><circle cx="524.4" cy="1573.6" r="5.2"/><circle cx="546.2" cy="1574.1" r="5.2"/><circle cx="551.6" cy="1574.3" r="5.2"/><circle cx="527.2" cy="1573.7" r="5.2"/><circle cx="526.1" cy="1573.6" r="5.2"/><circle cx="524.6" cy="1573.6" r="5.2"/><circle cx="574.9" cy="1574.7" r="5.2"/><circle cx="569.6" cy="1574.6" r="5.2"/><circle cx="561.5" cy="1574.5" r="5.2"/><circle cx="563.3" cy="1574.5" r="5.2"/><circle cx="568.8" cy="1574.6" r="5.2"/><circle cx="561.8" cy="1574.5" r="5.2"/><circle cx="578.5" cy="1574.8" r="5.2"/><circle cx="565.0" cy="1574.6" r="5.2"/><circle cx="578.9" cy="1574.8" r="5.2"/><circle cx="561.4" cy="1574.5" r="5.2"/><circle cx="568.2" cy="1574.6" r="5.2"/><circle cx="581.6" cy="1574.9" r="5.2"/><circle cx="564.1" cy="1574.5" r="5.2"/><circle cx="561.5" cy="1574.5" r="5.2"/><circle cx="579.5" cy="1574.8" r="5.2"/><circle cx="578.6" cy="1574.8" r="5.2"/><circle cx="571.8" cy="1574.7" r="5.2"/><circle cx="563.5" cy="1574.5" r="5.2"/><circle cx="567.2" cy="1574.6" r="5.2"/><circle cx="570.6" cy="1574.7" r="5.2"/><circle cx="582.3" cy="1574.9" r="5.2"/><circle cx="565.5" cy="1574.6" r="5.2"/><circle cx="575.5" cy="1574.8" r="5.2"/><circle cx="576.5" cy="1574.8" r="5.2"/><circle cx="580.2" cy="1574.8" r="5.2"/><circle cx="575.8" cy="1574.8" r="5.2"/><circle cx="569.1" cy="1574.6" r="5.2"/><circle cx="570.6" cy="1574.7" r="5.2"/><circle cx="571.3" cy="1574.7" r="5.2"/><circle cx="573.9" cy="1574.7" r="5.2"/><circle cx="572.6" cy="1574.7" r="5.2"/><circle cx="563.0" cy="1574.5" r="5.2"/><circle cx="578.0" cy="1574.8" r="5.2"/><circle cx="568.8" cy="1574.6" r="5.2"/><circle cx="574.7" cy="1574.7" r="5.2"/><circle cx="567.6" cy="1574.6" r="5.2"/><circle cx="570.7" cy="1574.7" r="5.2"/><circle cx="583.0" cy="1574.9" r="5.2"/><circle cx="561.0" cy="1574.5" r="5.2"/><circle cx="575.0" cy="1574.7" r="5.2"/><circle cx="564.9" cy="1574.6" r="5.2"/><circle cx="582.1" cy="1574.9" r="5.2"/><circle cx="579.1" cy="1574.8" r="5.2"/><circle cx="579.4" cy="1574.8" r="5.2"/><circle cx="606.3" cy="1575.3" r="5.2"/><circle cx="500.7" cy="1572.9" r="5.2"/><circle cx="241.6" cy="1555.2" r="5.2"/><circle cx="441.5" cy="1570.3" r="5.2"/><circle cx="486.9" cy="1572.4" r="5.2"/><circle cx="626.0" cy="1575.6" r="5.2"/><circle cx="470.3" cy="1571.7" r="5.2"/><circle cx="289.7" cy="1559.1" r="5.2"/><circle cx="154.1" cy="1548.7" r="5.2"/><circle cx="332.3" cy="1562.6" r="5.2"/><circle cx="302.3" cy="1560.2" r="5.2"/><circle cx="308.2" cy="1560.6" r="5.2"/><circle cx="312.2" cy="1561.0" r="5.2"/><circle cx="386.3" cy="1566.8" r="5.2"/><circle cx="398.1" cy="1567.6" r="5.2"/><circle cx="410.4" cy="1568.4" r="5.2"/><circle cx="455.7" cy="1571.0" r="5.2"/><circle cx="596.1" cy="1575.1" r="5.2"/><circle cx="341.8" cy="1563.4" r="5.2"/><circle cx="350.8" cy="1564.1" r="5.2"/><circle cx="352.8" cy="1564.3" r="5.2"/><circle cx="458.5" cy="1571.2" r="5.2"/><circle cx="444.3" cy="1570.4" r="5.2"/><circle cx="442.7" cy="1570.4" r="5.2"/><circle cx="288.1" cy="1559.0" r="5.2"/><circle cx="307.8" cy="1560.6" r="5.2"/><circle cx="298.4" cy="1559.8" r="5.2"/><circle cx="325.6" cy="1562.1" r="5.2"/><circle cx="326.0" cy="1562.1" r="5.2"/><circle cx="333.1" cy="1562.7" r="5.2"/><circle cx="393.4" cy="1567.3" r="5.2"/><circle cx="399.3" cy="1567.7" r="5.2"/><circle cx="373.3" cy="1565.8" r="5.2"/><circle cx="376.4" cy="1566.1" r="5.2"/><circle cx="366.6" cy="1565.3" r="5.2"/><circle cx="481.0" cy="1572.1" r="5.2"/><circle cx="497.5" cy="1572.8" r="5.2"/><circle cx="505.0" cy="1573.0" r="5.2"/><circle cx="535.0" cy="1573.9" r="5.2"/><circle cx="585.8" cy="1574.9" r="5.2"/><circle cx="605.9" cy="1575.3" r="5.2"/><circle cx="593.7" cy="1575.1" r="5.2"/><circle cx="610.3" cy="1575.3" r="5.2"/><circle cx="201.5" cy="1552.1" r="5.2"/><circle cx="187.3" cy="1551.1" r="5.2"/><circle cx="193.1" cy="1551.5" r="5.2"/><circle cx="211.5" cy="1552.9" r="5.2"/><circle cx="206.8" cy="1552.5" r="5.2"/><circle cx="225.2" cy="1553.9" r="5.2"/><circle cx="241.5" cy="1555.2" r="5.2"/><circle cx="246.2" cy="1555.6" r="5.2"/><circle cx="266.7" cy="1557.2" r="5.2"/><circle cx="247.8" cy="1555.7" r="5.2"/><circle cx="256.2" cy="1556.4" r="5.2"/><circle cx="266.2" cy="1557.2" r="5.2"/><circle cx="269.9" cy="1557.5" r="5.2"/><circle cx="243.0" cy="1555.3" r="5.2"/><circle cx="246.7" cy="1555.6" r="5.2"/><circle cx="259.1" cy="1556.6" r="5.2"/><circle cx="256.7" cy="1556.4" r="5.2"/><circle cx="263.0" cy="1556.9" r="5.2"/><circle cx="272.7" cy="1557.7" r="5.2"/><circle cx="254.1" cy="1556.2" r="5.2"/><circle cx="266.7" cy="1557.2" r="5.2"/><circle cx="298.2" cy="1559.8" r="5.2"/><circle cx="285.6" cy="1558.8" r="5.2"/><circle cx="284.0" cy="1558.6" r="5.2"/><circle cx="283.5" cy="1558.6" r="5.2"/><circle cx="291.4" cy="1559.2" r="5.2"/><circle cx="291.4" cy="1559.2" r="5.2"/><circle cx="299.3" cy="1559.9" r="5.2"/><circle cx="283.5" cy="1558.6" r="5.2"/><circle cx="285.6" cy="1558.8" r="5.2"/><circle cx="285.6" cy="1558.8" r="5.2"/><circle cx="293.0" cy="1559.4" r="5.2"/><circle cx="297.2" cy="1559.7" r="5.2"/><circle cx="586.0" cy="1574.9" r="5.2"/><circle cx="583.2" cy="1574.9" r="5.2"/><circle cx="588.7" cy="1575.0" r="5.2"/><circle cx="592.6" cy="1575.1" r="5.2"/><circle cx="625.7" cy="1575.6" r="5.2"/><circle cx="636.0" cy="1575.7" r="5.2"/><circle cx="640.7" cy="1575.8" r="5.2"/><circle cx="649.4" cy="1575.9" r="5.2"/><circle cx="658.4" cy="1576.0" r="5.2"/><circle cx="664.7" cy="1576.1" r="5.2"/><circle cx="673.8" cy="1576.3" r="5.2"/><circle cx="612.3" cy="1575.4" r="5.2"/><circle cx="589.5" cy="1575.0" r="5.2"/><circle cx="613.1" cy="1575.4" r="5.2"/><circle cx="632.0" cy="1575.7" r="5.2"/><circle cx="651.0" cy="1575.9" r="5.2"/><circle cx="660.4" cy="1576.1" r="5.2"/><circle cx="625.7" cy="1575.6" r="5.2"/><circle cx="643.9" cy="1575.8" r="5.2"/><circle cx="653.3" cy="1576.0" r="5.2"/><circle cx="670.7" cy="1576.2" r="5.2"/><circle cx="605.2" cy="1575.3" r="5.2"/><circle cx="620.2" cy="1575.5" r="5.2"/><circle cx="628.9" cy="1575.6" r="5.2"/><circle cx="642.3" cy="1575.8" r="5.2"/><circle cx="651.0" cy="1575.9" r="5.2"/><circle cx="662.0" cy="1576.1" r="5.2"/><circle cx="674.6" cy="1576.3" r="5.2"/><circle cx="636.8" cy="1575.7" r="5.2"/><circle cx="598.0" cy="1575.1" r="5.2"/><circle cx="604.0" cy="1575.2" r="5.2"/><circle cx="610.0" cy="1575.3" r="5.2"/><circle cx="600.0" cy="1575.2" r="5.2"/><circle cx="615.0" cy="1575.4" r="5.2"/><circle cx="620.0" cy="1575.5" r="5.2"/><circle cx="596.0" cy="1575.1" r="5.2"/><circle cx="630.0" cy="1575.6" r="5.2"/><circle cx="645.0" cy="1575.8" r="5.2"/><circle cx="660.0" cy="1576.1" r="5.2"/><circle cx="668.0" cy="1576.2" r="5.2"/><circle cx="590.0" cy="1575.0" r="5.2"/><circle cx="602.0" cy="1575.2" r="5.2"/><circle cx="618.0" cy="1575.5" r="5.2"/><circle cx="634.0" cy="1575.7" r="5.2"/><circle cx="656.0" cy="1576.0" r="5.2"/><circle cx="666.0" cy="1576.2" r="5.2"/><circle cx="596.0" cy="1575.1" r="5.2"/><circle cx="610.0" cy="1575.3" r="5.2"/><circle cx="624.0" cy="1575.5" r="5.2"/><circle cx="706.0" cy="1576.8" r="5.2"/><circle cx="709.2" cy="1576.9" r="5.2"/><circle cx="711.6" cy="1576.9" r="5.2"/><circle cx="714.8" cy="1577.0" r="5.2"/><circle cx="728.8" cy="1577.2" r="5.2"/><circle cx="740.5" cy="1577.4" r="5.2"/><circle cx="743.7" cy="1577.5" r="5.2"/><circle cx="746.9" cy="1577.5" r="5.2"/><circle cx="750.2" cy="1577.6" r="5.2"/><circle cx="767.0" cy="1577.9" r="5.2"/><circle cx="816.8" cy="1578.6" r="5.2"/><circle cx="856.6" cy="1578.9" r="5.2"/><circle cx="699.8" cy="1576.7" r="5.2"/><circle cx="678.7" cy="1576.4" r="5.2"/><circle cx="153.9" cy="1548.7" r="5.2"/><circle cx="188.4" cy="1551.1" r="5.2"/><circle cx="189.7" cy="1551.2" r="5.2"/><circle cx="192.9" cy="1551.5" r="5.2"/><circle cx="201.1" cy="1552.1" r="5.2"/><circle cx="206.5" cy="1552.5" r="5.2"/><circle cx="211.3" cy="1552.9" r="5.2"/><circle cx="224.8" cy="1553.9" r="5.2"/><circle cx="242.1" cy="1555.2" r="5.2"/><circle cx="245.9" cy="1555.5" r="5.2"/><circle cx="255.5" cy="1556.3" r="5.2"/><circle cx="257.1" cy="1556.4" r="5.2"/><circle cx="262.7" cy="1556.9" r="5.2"/><circle cx="265.9" cy="1557.2" r="5.2"/><circle cx="269.0" cy="1557.4" r="5.2"/><circle cx="273.2" cy="1557.7" r="5.2"/></g>
<rect x="126.2" y="1016.1" width="758.50" height="662.00" fill="none" stroke="#383838" stroke-width="2.2"/>
<line x1="109.2" y1="1618.3" x2="126.2" y2="1618.3" stroke="#383838" stroke-width="2.2"/>
<text class="tk" transform="translate(88.6,1618.3) rotate(-90)" text-anchor="middle">0</text>
<line x1="109.2" y1="1451.3" x2="126.2" y2="1451.3" stroke="#383838" stroke-width="2.2"/>
<text class="tk" transform="translate(88.6,1451.3) rotate(-90)" text-anchor="middle" textLength="46.6" lengthAdjust="spacingAndGlyphs">200</text>
<line x1="109.2" y1="1284.4" x2="126.2" y2="1284.4" stroke="#383838" stroke-width="2.2"/>
<text class="tk" transform="translate(88.6,1284.4) rotate(-90)" text-anchor="middle" textLength="46.6" lengthAdjust="spacingAndGlyphs">400</text>
<line x1="109.2" y1="1117.4" x2="126.2" y2="1117.4" stroke="#383838" stroke-width="2.2"/>
<text class="tk" transform="translate(88.6,1117.4) rotate(-90)" text-anchor="middle" textLength="46.6" lengthAdjust="spacingAndGlyphs">600</text>
<line x1="279.6" y1="1678.1" x2="279.6" y2="1694.6" stroke="#383838" stroke-width="2.2"/>
<text class="tk" x="279.6" y="1736.2" text-anchor="middle">6</text>
<line x1="440.2" y1="1678.1" x2="440.2" y2="1694.6" stroke="#383838" stroke-width="2.2"/>
<text class="tk" x="440.2" y="1736.2" text-anchor="middle">8</text>
<line x1="600.8" y1="1678.1" x2="600.8" y2="1694.6" stroke="#383838" stroke-width="2.2"/>
<text class="tk" x="600.8" y="1736.2" text-anchor="middle" textLength="31.1" lengthAdjust="spacingAndGlyphs">10</text>
<line x1="761.4" y1="1678.1" x2="761.4" y2="1694.6" stroke="#383838" stroke-width="2.2"/>
<text class="tk" x="761.4" y="1736.2" text-anchor="middle" textLength="31.1" lengthAdjust="spacingAndGlyphs">12</text>
<text class="ttl" x="223.5" y="1791.1" textLength="528.7" lengthAdjust="spacingAndGlyphs">Log2 Pan-Immune-Inflammation Value</text>
<text class="ttl" transform="translate(33.2,1671.4) rotate(-90)" textLength="631.6" lengthAdjust="spacingAndGlyphs">procollagen type I N-terminal propeptid(ng/ml)</text>
<rect x="1138.0" y="1016.9" width="753.90" height="658.20" fill="none" stroke="#383838" stroke-width="2.2"/>
<g class="rug"><line x1="1165.6" y1="1655" x2="1165.6" y2="1675"/><line x1="1198.9" y1="1655" x2="1198.9" y2="1675"/><line x1="1199.8" y1="1655" x2="1199.8" y2="1675"/><line x1="1201.1" y1="1655" x2="1201.1" y2="1675"/><line x1="1203.4" y1="1655" x2="1203.4" y2="1675"/><line x1="1204.3" y1="1655" x2="1204.3" y2="1675"/><line x1="1204.6" y1="1655" x2="1204.6" y2="1675"/><line x1="1212.5" y1="1655" x2="1212.5" y2="1675"/><line x1="1212.5" y1="1655" x2="1212.5" y2="1675"/><line x1="1217.9" y1="1655" x2="1217.9" y2="1675"/><line x1="1218.0" y1="1655" x2="1218.0" y2="1675"/><line x1="1222.7" y1="1655" x2="1222.7" y2="1675"/><line x1="1222.7" y1="1655" x2="1222.7" y2="1675"/><line x1="1236.0" y1="1655" x2="1236.0" y2="1675"/><line x1="1236.1" y1="1655" x2="1236.1" y2="1675"/><line x1="1252.2" y1="1655" x2="1252.2" y2="1675"/><line x1="1252.4" y1="1655" x2="1252.4" y2="1675"/><line x1="1253.2" y1="1655" x2="1253.2" y2="1675"/><line x1="1254.2" y1="1655" x2="1254.2" y2="1675"/><line x1="1257.0" y1="1655" x2="1257.0" y2="1675"/><line x1="1257.4" y1="1655" x2="1257.4" y2="1675"/><line x1="1258.7" y1="1655" x2="1258.7" y2="1675"/><line x1="1266.6" y1="1655" x2="1266.6" y2="1675"/><line x1="1267.0" y1="1655" x2="1267.0" y2="1675"/><line x1="1267.8" y1="1655" x2="1267.8" y2="1675"/><line x1="1268.2" y1="1655" x2="1268.2" y2="1675"/><line x1="1270.0" y1="1655" x2="1270.0" y2="1675"/><line x1="1273.7" y1="1655" x2="1273.7" y2="1675"/><line x1="1274.0" y1="1655" x2="1274.0" y2="1675"/><line x1="1276.9" y1="1655" x2="1276.9" y2="1675"/><line x1="1277.7" y1="1655" x2="1277.7" y2="1675"/><line x1="1280.0" y1="1655" x2="1280.0" y2="1675"/><line x1="1280.9" y1="1655" x2="1280.9" y2="1675"/><line x1="1283.3" y1="1655" x2="1283.3" y2="1675"/><line x1="1284.1" y1="1655" x2="1284.1" y2="1675"/><line x1="1290.7" y1="1655" x2="1290.7" y2="1675"/><line x1="1291.0" y1="1655" x2="1291.0" y2="1675"/><line x1="1291.9" y1="1655" x2="1291.9" y2="1675"/><line x1="1294.1" y1="1655" x2="1294.1" y2="1675"/><line x1="1294.9" y1="1655" x2="1294.9" y2="1675"/><line x1="1295.0" y1="1655" x2="1295.0" y2="1675"/><line x1="1295.8" y1="1655" x2="1295.8" y2="1675"/><line x1="1296.4" y1="1655" x2="1296.4" y2="1675"/><line x1="1296.8" y1="1655" x2="1296.8" y2="1675"/><line x1="1297.0" y1="1655" x2="1297.0" y2="1675"/><line x1="1298.2" y1="1655" x2="1298.2" y2="1675"/><line x1="1299.6" y1="1655" x2="1299.6" y2="1675"/><line x1="1300.8" y1="1655" x2="1300.8" y2="1675"/><line x1="1300.9" y1="1655" x2="1300.9" y2="1675"/><line x1="1301.3" y1="1655" x2="1301.3" y2="1675"/><line x1="1302.1" y1="1655" x2="1302.1" y2="1675"/><line x1="1303.6" y1="1655" x2="1303.6" y2="1675"/><line x1="1303.7" y1="1655" x2="1303.7" y2="1675"/><line x1="1304.6" y1="1655" x2="1304.6" y2="1675"/><line x1="1307.3" y1="1655" x2="1307.3" y2="1675"/><line x1="1307.6" y1="1655" x2="1307.6" y2="1675"/><line x1="1308.7" y1="1655" x2="1308.7" y2="1675"/><line x1="1309.7" y1="1655" x2="1309.7" y2="1675"/><line x1="1310.5" y1="1655" x2="1310.5" y2="1675"/><line x1="1310.6" y1="1655" x2="1310.6" y2="1675"/><line x1="1310.8" y1="1655" x2="1310.8" y2="1675"/><line x1="1311.2" y1="1655" x2="1311.2" y2="1675"/><line x1="1313.0" y1="1655" x2="1313.0" y2="1675"/><line x1="1315.2" y1="1655" x2="1315.2" y2="1675"/><line x1="1316.6" y1="1655" x2="1316.6" y2="1675"/><line x1="1317.7" y1="1655" x2="1317.7" y2="1675"/><line x1="1318.3" y1="1655" x2="1318.3" y2="1675"/><line x1="1318.8" y1="1655" x2="1318.8" y2="1675"/><line x1="1319.3" y1="1655" x2="1319.3" y2="1675"/><line x1="1321.9" y1="1655" x2="1321.9" y2="1675"/><line x1="1322.4" y1="1655" x2="1322.4" y2="1675"/><line x1="1322.5" y1="1655" x2="1322.5" y2="1675"/><line x1="1322.8" y1="1655" x2="1322.8" y2="1675"/><line x1="1323.2" y1="1655" x2="1323.2" y2="1675"/><line x1="1323.9" y1="1655" x2="1323.9" y2="1675"/><line x1="1324.0" y1="1655" x2="1324.0" y2="1675"/><line x1="1324.1" y1="1655" x2="1324.1" y2="1675"/><line x1="1325.4" y1="1655" x2="1325.4" y2="1675"/><line x1="1325.7" y1="1655" x2="1325.7" y2="1675"/><line x1="1326.3" y1="1655" x2="1326.3" y2="1675"/><line x1="1327.6" y1="1655" x2="1327.6" y2="1675"/><line x1="1327.8" y1="1655" x2="1327.8" y2="1675"/><line x1="1327.9" y1="1655" x2="1327.9" y2="1675"/><line x1="1328.2" y1="1655" x2="1328.2" y2="1675"/><line x1="1329.2" y1="1655" x2="1329.2" y2="1675"/><line x1="1330.2" y1="1655" x2="1330.2" y2="1675"/><line x1="1331.6" y1="1655" x2="1331.6" y2="1675"/><line x1="1332.6" y1="1655" x2="1332.6" y2="1675"/><line x1="1333.0" y1="1655" x2="1333.0" y2="1675"/><line x1="1335.2" y1="1655" x2="1335.2" y2="1675"/><line x1="1336.1" y1="1655" x2="1336.1" y2="1675"/><line x1="1336.5" y1="1655" x2="1336.5" y2="1675"/><line x1="1336.7" y1="1655" x2="1336.7" y2="1675"/><line x1="1337.7" y1="1655" x2="1337.7" y2="1675"/><line x1="1338.9" y1="1655" x2="1338.9" y2="1675"/><line x1="1339.2" y1="1655" x2="1339.2" y2="1675"/><line x1="1339.4" y1="1655" x2="1339.4" y2="1675"/><line x1="1339.5" y1="1655" x2="1339.5" y2="1675"/><line x1="1340.1" y1="1655" x2="1340.1" y2="1675"/><line x1="1340.1" y1="1655" x2="1340.1" y2="1675"/><line x1="1340.3" y1="1655" x2="1340.3" y2="1675"/><line x1="1340.4" y1="1655" x2="1340.4" y2="1675"/><line x1="1341.0" y1="1655" x2="1341.0" y2="1675"/><line x1="1341.3" y1="1655" x2="1341.3" y2="1675"/><line x1="1342.3" y1="1655" x2="1342.3" y2="1675"/><line x1="1342.4" y1="1655" x2="1342.4" y2="1675"/><line x1="1342.5" y1="1655" x2="1342.5" y2="1675"/><line x1="1342.8" y1="1655" x2="1342.8" y2="1675"/><line x1="1343.1" y1="1655" x2="1343.1" y2="1675"/><line x1="1343.4" y1="1655" x2="1343.4" y2="1675"/><line x1="1343.5" y1="1655" x2="1343.5" y2="1675"/><line x1="1343.7" y1="1655" x2="1343.7" y2="1675"/><line x1="1343.9" y1="1655" x2="1343.9" y2="1675"/><line x1="1344.6" y1="1655" x2="1344.6" y2="1675"/><line x1="1344.8" y1="1655" x2="1344.8" y2="1675"/><line x1="1344.8" y1="1655" x2="1344.8" y2="1675"/><line x1="1345.3" y1="1655" x2="1345.3" y2="1675"/><line x1="1345.9" y1="1655" x2="1345.9" y2="1675"/><line x1="1347.2" y1="1655" x2="1347.2" y2="1675"/><line x1="1347.6" y1="1655" x2="1347.6" y2="1675"/><line x1="1348.2" y1="1655" x2="1348.2" y2="1675"/><line x1="1348.5" y1="1655" x2="1348.5" y2="1675"/><line x1="1348.8" y1="1655" x2="1348.8" y2="1675"/><line x1="1349.2" y1="1655" x2="1349.2" y2="1675"/><line x1="1349.4" y1="1655" x2="1349.4" y2="1675"/><line x1="1350.6" y1="1655" x2="1350.6" y2="1675"/><line x1="1351.2" y1="1655" x2="1351.2" y2="1675"/><line x1="1352.1" y1="1655" x2="1352.1" y2="1675"/><line x1="1353.1" y1="1655" x2="1353.1" y2="1675"/><line x1="1353.3" y1="1655" x2="1353.3" y2="1675"/><line x1="1353.4" y1="1655" x2="1353.4" y2="1675"/><line x1="1353.9" y1="1655" x2="1353.9" y2="1675"/><line x1="1354.5" y1="1655" x2="1354.5" y2="1675"/><line x1="1357.0" y1="1655" x2="1357.0" y2="1675"/><line x1="1357.1" y1="1655" x2="1357.1" y2="1675"/><line x1="1357.5" y1="1655" x2="1357.5" y2="1675"/><line x1="1357.9" y1="1655" x2="1357.9" y2="1675"/><line x1="1358.0" y1="1655" x2="1358.0" y2="1675"/><line x1="1359.8" y1="1655" x2="1359.8" y2="1675"/><line x1="1359.8" y1="1655" x2="1359.8" y2="1675"/><line x1="1360.4" y1="1655" x2="1360.4" y2="1675"/><line x1="1360.6" y1="1655" x2="1360.6" y2="1675"/><line x1="1362.0" y1="1655" x2="1362.0" y2="1675"/><line x1="1362.2" y1="1655" x2="1362.2" y2="1675"/><line x1="1364.0" y1="1655" x2="1364.0" y2="1675"/><line x1="1364.8" y1="1655" x2="1364.8" y2="1675"/><line x1="1365.2" y1="1655" x2="1365.2" y2="1675"/><line x1="1365.4" y1="1655" x2="1365.4" y2="1675"/><line x1="1366.1" y1="1655" x2="1366.1" y2="1675"/><line x1="1366.9" y1="1655" x2="1366.9" y2="1675"/><line x1="1367.2" y1="1655" x2="1367.2" y2="1675"/><line x1="1367.3" y1="1655" x2="1367.3" y2="1675"/><line x1="1370.2" y1="1655" x2="1370.2" y2="1675"/><line x1="1370.5" y1="1655" x2="1370.5" y2="1675"/><line x1="1371.0" y1="1655" x2="1371.0" y2="1675"/><line x1="1371.3" y1="1655" x2="1371.3" y2="1675"/><line x1="1371.6" y1="1655" x2="1371.6" y2="1675"/><line x1="1371.7" y1="1655" x2="1371.7" y2="1675"/><line x1="1371.8" y1="1655" x2="1371.8" y2="1675"/><line x1="1371.9" y1="1655" x2="1371.9" y2="1675"/><line x1="1372.3" y1="1655" x2="1372.3" y2="1675"/><line x1="1372.7" y1="1655" x2="1372.7" y2="1675"/><line x1="1372.9" y1="1655" x2="1372.9" y2="1675"/><line x1="1373.0" y1="1655" x2="1373.0" y2="1675"/><line x1="1373.4" y1="1655" x2="1373.4" y2="1675"/><line x1="1373.7" y1="1655" x2="1373.7" y2="1675"/><line x1="1374.0" y1="1655" x2="1374.0" y2="1675"/><line x1="1374.8" y1="1655" x2="1374.8" y2="1675"/><line x1="1374.9" y1="1655" x2="1374.9" y2="1675"/><line x1="1375.5" y1="1655" x2="1375.5" y2="1675"/><line x1="1376.0" y1="1655" x2="1376.0" y2="1675"/><line x1="1376.3" y1="1655" x2="1376.3" y2="1675"/><line x1="1376.7" y1="1655" x2="1376.7" y2="1675"/><line x1="1376.8" y1="1655" x2="1376.8" y2="1675"/><line x1="1376.9" y1="1655" x2="1376.9" y2="1675"/><line x1="1377.9" y1="1655" x2="1377.9" y2="1675"/><line x1="1378.9" y1="1655" x2="1378.9" y2="1675"/><line x1="1379.0" y1="1655" x2="1379.0" y2="1675"/><line x1="1379.6" y1="1655" x2="1379.6" y2="1675"/><line x1="1379.8" y1="1655" x2="1379.8" y2="1675"/><line x1="1380.0" y1="1655" x2="1380.0" y2="1675"/><line x1="1380.1" y1="1655" x2="1380.1" y2="1675"/><line x1="1380.3" y1="1655" x2="1380.3" y2="1675"/><line x1="1380.6" y1="1655" x2="1380.6" y2="1675"/><line x1="1381.0" y1="1655" x2="1381.0" y2="1675"/><line x1="1382.0" y1="1655" x2="1382.0" y2="1675"/><line x1="1382.7" y1="1655" x2="1382.7" y2="1675"/><line x1="1382.8" y1="1655" x2="1382.8" y2="1675"/><line x1="1382.9" y1="1655" x2="1382.9" y2="1675"/><line x1="1383.2" y1="1655" x2="1383.2" y2="1675"/><line x1="1383.9" y1="1655" x2="1383.9" y2="1675"/><line x1="1384.3" y1="1655" x2="1384.3" y2="1675"/><line x1="1384.6" y1="1655" x2="1384.6" y2="1675"/><line x1="1384.7" y1="1655" x2="1384.7" y2="1675"/><line x1="1385.9" y1="1655" x2="1385.9" y2="1675"/><line x1="1386.1" y1="1655" x2="1386.1" y2="1675"/><line x1="1386.4" y1="1655" x2="1386.4" y2="1675"/><line x1="1386.5" y1="1655" x2="1386.5" y2="1675"/><line x1="1387.7" y1="1655" x2="1387.7" y2="1675"/><line x1="1388.0" y1="1655" x2="1388.0" y2="1675"/><line x1="1388.8" y1="1655" x2="1388.8" y2="1675"/><line x1="1390.0" y1="1655" x2="1390.0" y2="1675"/><line x1="1390.2" y1="1655" x2="1390.2" y2="1675"/><line x1="1390.4" y1="1655" x2="1390.4" y2="1675"/><line x1="1392.1" y1="1655" x2="1392.1" y2="1675"/><line x1="1392.5" y1="1655" x2="1392.5" y2="1675"/><line x1="1392.7" y1="1655" x2="1392.7" y2="1675"/><line x1="1394.6" y1="1655" x2="1394.6" y2="1675"/><line x1="1395.3" y1="1655" x2="1395.3" y2="1675"/><line x1="1395.7" y1="1655" x2="1395.7" y2="1675"/><line x1="1396.0" y1="1655" x2="1396.0" y2="1675"/><line x1="1396.5" y1="1655" x2="1396.5" y2="1675"/><line x1="1396.7" y1="1655" x2="1396.7" y2="1675"/><line x1="1396.8" y1="1655" x2="1396.8" y2="1675"/><line x1="1397.2" y1="1655" x2="1397.2" y2="1675"/><line x1="1397.6" y1="1655" x2="1397.6" y2="1675"/><line x1="1397.9" y1="1655" x2="1397.9" y2="1675"/><line x1="1398.2" y1="1655" x2="1398.2" y2="1675"/><line x1="1398.9" y1="1655" x2="1398.9" y2="1675"/><line x1="1398.9" y1="1655" x2="1398.9" y2="1675"/><line x1="1399.3" y1="1655" x2="1399.3" y2="1675"/><line x1="1399.9" y1="1655" x2="1399.9" y2="1675"/><line x1="1400.1" y1="1655" x2="1400.1" y2="1675"/><line x1="1400.6" y1="1655" x2="1400.6" y2="1675"/><line x1="1401.5" y1="1655" x2="1401.5" y2="1675"/><line x1="1401.7" y1="1655" x2="1401.7" y2="1675"/><line x1="1401.8" y1="1655" x2="1401.8" y2="1675"/><line x1="1402.3" y1="1655" x2="1402.3" y2="1675"/><line x1="1402.4" y1="1655" x2="1402.4" y2="1675"/><line x1="1402.5" y1="1655" x2="1402.5" y2="1675"/><line x1="1403.6" y1="1655" x2="1403.6" y2="1675"/><line x1="1404.1" y1="1655" x2="1404.1" y2="1675"/><line x1="1404.3" y1="1655" x2="1404.3" y2="1675"/><line x1="1405.0" y1="1655" x2="1405.0" y2="1675"/><line x1="1406.0" y1="1655" x2="1406.0" y2="1675"/><line x1="1406.1" y1="1655" x2="1406.1" y2="1675"/><line x1="1406.4" y1="1655" x2="1406.4" y2="1675"/><line x1="1406.5" y1="1655" x2="1406.5" y2="1675"/><line x1="1406.7" y1="1655" x2="1406.7" y2="1675"/><line x1="1407.3" y1="1655" x2="1407.3" y2="1675"/><line x1="1407.9" y1="1655" x2="1407.9" y2="1675"/><line x1="1408.0" y1="1655" x2="1408.0" y2="1675"/><line x1="1408.8" y1="1655" x2="1408.8" y2="1675"/><line x1="1409.3" y1="1655" x2="1409.3" y2="1675"/><line x1="1410.1" y1="1655" x2="1410.1" y2="1675"/><line x1="1410.4" y1="1655" x2="1410.4" y2="1675"/><line x1="1410.7" y1="1655" x2="1410.7" y2="1675"/><line x1="1411.3" y1="1655" x2="1411.3" y2="1675"/><line x1="1411.4" y1="1655" x2="1411.4" y2="1675"/><line x1="1412.0" y1="1655" x2="1412.0" y2="1675"/><line x1="1412.0" y1="1655" x2="1412.0" y2="1675"/><line x1="1412.2" y1="1655" x2="1412.2" y2="1675"/><line x1="1412.4" y1="1655" x2="1412.4" y2="1675"/><line x1="1412.6" y1="1655" x2="1412.6" y2="1675"/><line x1="1412.7" y1="1655" x2="1412.7" y2="1675"/><line x1="1412.9" y1="1655" x2="1412.9" y2="1675"/><line x1="1413.1" y1="1655" x2="1413.1" y2="1675"/><line x1="1413.2" y1="1655" x2="1413.2" y2="1675"/><line x1="1413.4" y1="1655" x2="1413.4" y2="1675"/><line x1="1413.5" y1="1655" x2="1413.5" y2="1675"/><line x1="1413.6" y1="1655" x2="1413.6" y2="1675"/><line x1="1413.8" y1="1655" x2="1413.8" y2="1675"/><line x1="1414.0" y1="1655" x2="1414.0" y2="1675"/><line x1="1414.5" y1="1655" x2="1414.5" y2="1675"/><line x1="1414.8" y1="1655" x2="1414.8" y2="1675"/><line x1="1415.0" y1="1655" x2="1415.0" y2="1675"/><line x1="1415.5" y1="1655" x2="1415.5" y2="1675"/><line x1="1415.7" y1="1655" x2="1415.7" y2="1675"/><line x1="1416.3" y1="1655" x2="1416.3" y2="1675"/><line x1="1416.6" y1="1655" x2="1416.6" y2="1675"/><line x1="1417.1" y1="1655" x2="1417.1" y2="1675"/><line x1="1418.2" y1="1655" x2="1418.2" y2="1675"/><line x1="1418.5" y1="1655" x2="1418.5" y2="1675"/><line x1="1419.0" y1="1655" x2="1419.0" y2="1675"/><line x1="1419.1" y1="1655" x2="1419.1" y2="1675"/><line x1="1419.4" y1="1655" x2="1419.4" y2="1675"/><line x1="1419.8" y1="1655" x2="1419.8" y2="1675"/><line x1="1420.2" y1="1655" x2="1420.2" y2="1675"/><line x1="1420.4" y1="1655" x2="1420.4" y2="1675"/><line x1="1420.5" y1="1655" x2="1420.5" y2="1675"/><line x1="1421.6" y1="1655" x2="1421.6" y2="1675"/><line x1="1421.7" y1="1655" x2="1421.7" y2="1675"/><line x1="1421.8" y1="1655" x2="1421.8" y2="1675"/><line x1="1422.1" y1="1655" x2="1422.1" y2="1675"/><line x1="1423.1" y1="1655" x2="1423.1" y2="1675"/><line x1="1423.4" y1="1655" x2="1423.4" y2="1675"/><line x1="1423.8" y1="1655" x2="1423.8" y2="1675"/><line x1="1424.5" y1="1655" x2="1424.5" y2="1675"/><line x1="1424.6" y1="1655" x2="1424.6" y2="1675"/><line x1="1424.8" y1="1655" x2="1424.8" y2="1675"/><line x1="1425.0" y1="1655" x2="1425.0" y2="1675"/><line x1="1425.0" y1="1655" x2="1425.0" y2="1675"/><line x1="1425.5" y1="1655" x2="1425.5" y2="1675"/><line x1="1425.6" y1="1655" x2="1425.6" y2="1675"/><line x1="1425.8" y1="1655" x2="1425.8" y2="1675"/><line x1="1426.4" y1="1655" x2="1426.4" y2="1675"/><line x1="1426.7" y1="1655" x2="1426.7" y2="1675"/><line x1="1426.8" y1="1655" x2="1426.8" y2="1675"/><line x1="1426.9" y1="1655" x2="1426.9" y2="1675"/><line x1="1427.1" y1="1655" x2="1427.1" y2="1675"/><line x1="1427.3" y1="1655" x2="1427.3" y2="1675"/><line x1="1427.6" y1="1655" x2="1427.6" y2="1675"/><line x1="1428.1" y1="1655" x2="1428.1" y2="1675"/><line x1="1428.2" y1="1655" x2="1428.2" y2="1675"/><line x1="1428.3" y1="1655" x2="1428.3" y2="1675"/><line x1="1428.6" y1="1655" x2="1428.6" y2="1675"/><line x1="1429.2" y1="1655" x2="1429.2" y2="1675"/><line x1="1430.0" y1="1655" x2="1430.0" y2="1675"/><line x1="1430.1" y1="1655" x2="1430.1" y2="1675"/><line x1="1430.2" y1="1655" x2="1430.2" y2="1675"/><line x1="1430.5" y1="1655" x2="1430.5" y2="1675"/><line x1="1430.6" y1="1655" x2="1430.6" y2="1675"/><line x1="1430.9" y1="1655" x2="1430.9" y2="1675"/><line x1="1431.3" y1="1655" x2="1431.3" y2="1675"/><line x1="1431.3" y1="1655" x2="1431.3" y2="1675"/><line x1="1431.6" y1="1655" x2="1431.6" y2="1675"/><line x1="1431.8" y1="1655" x2="1431.8" y2="1675"/><line x1="1432.1" y1="1655" x2="1432.1" y2="1675"/><line x1="1432.3" y1="1655" x2="1432.3" y2="1675"/><line x1="1432.4" y1="1655" x2="1432.4" y2="1675"/><line x1="1432.5" y1="1655" x2="1432.5" y2="1675"/><line x1="1432.8" y1="1655" x2="1432.8" y2="1675"/><line x1="1432.9" y1="1655" x2="1432.9" y2="1675"/><line x1="1433.2" y1="1655" x2="1433.2" y2="1675"/><line x1="1434.2" y1="1655" x2="1434.2" y2="1675"/><line x1="1434.4" y1="1655" x2="1434.4" y2="1675"/><line x1="1434.5" y1="1655" x2="1434.5" y2="1675"/><line x1="1434.8" y1="1655" x2="1434.8" y2="1675"/><line x1="1434.9" y1="1655" x2="1434.9" y2="1675"/><line x1="1435.0" y1="1655" x2="1435.0" y2="1675"/><line x1="1435.6" y1="1655" x2="1435.6" y2="1675"/><line x1="1435.9" y1="1655" x2="1435.9" y2="1675"/><line x1="1436.7" y1="1655" x2="1436.7" y2="1675"/><line x1="1437.1" y1="1655" x2="1437.1" y2="1675"/><line x1="1437.7" y1="1655" x2="1437.7" y2="1675"/><line x1="1438.4" y1="1655" x2="1438.4" y2="1675"/><line x1="1438.5" y1="1655" x2="1438.5" y2="1675"/><line x1="1438.7" y1="1655" x2="1438.7" y2="1675"/><line x1="1439.1" y1="1655" x2="1439.1" y2="1675"/><line x1="1439.3" y1="1655" x2="1439.3" y2="1675"/><line x1="1439.5" y1="1655" x2="1439.5" y2="1675"/><line x1="1439.6" y1="1655" x2="1439.6" y2="1675"/><line x1="1439.7" y1="1655" x2="1439.7" y2="1675"/><line x1="1439.9" y1="1655" x2="1439.9" y2="1675"/><line x1="1440.0" y1="1655" x2="1440.0" y2="1675"/><line x1="1440.1" y1="1655" x2="1440.1" y2="1675"/><line x1="1440.4" y1="1655" x2="1440.4" y2="1675"/><line x1="1440.8" y1="1655" x2="1440.8" y2="1675"/><line x1="1441.4" y1="1655" x2="1441.4" y2="1675"/><line x1="1441.5" y1="1655" x2="1441.5" y2="1675"/><line x1="1441.9" y1="1655" x2="1441.9" y2="1675"/><line x1="1442.0" y1="1655" x2="1442.0" y2="1675"/><line x1="1442.1" y1="1655" x2="1442.1" y2="1675"/><line x1="1442.3" y1="1655" x2="1442.3" y2="1675"/><line x1="1442.5" y1="1655" x2="1442.5" y2="1675"/><line x1="1442.7" y1="1655" x2="1442.7" y2="1675"/><line x1="1442.8" y1="1655" x2="1442.8" y2="1675"/><line x1="1443.8" y1="1655" x2="1443.8" y2="1675"/><line x1="1444.2" y1="1655" x2="1444.2" y2="1675"/><line x1="1444.6" y1="1655" x2="1444.6" y2="1675"/><line x1="1444.8" y1="1655" x2="1444.8" y2="1675"/><line x1="1445.1" y1="1655" x2="1445.1" y2="1675"/><line x1="1445.2" y1="1655" x2="1445.2" y2="1675"/><line x1="1445.2" y1="1655" x2="1445.2" y2="1675"/><line x1="1445.4" y1="1655" x2="1445.4" y2="1675"/><line x1="1445.6" y1="1655" x2="1445.6" y2="1675"/><line x1="1446.2" y1="1655" x2="1446.2" y2="1675"/><line x1="1446.7" y1="1655" x2="1446.7" y2="1675"/><line x1="1446.7" y1="1655" x2="1446.7" y2="1675"/><line x1="1447.3" y1="1655" x2="1447.3" y2="1675"/><line x1="1448.1" y1="1655" x2="1448.1" y2="1675"/><line x1="1448.4" y1="1655" x2="1448.4" y2="1675"/><line x1="1448.9" y1="1655" x2="1448.9" y2="1675"/><line x1="1449.1" y1="1655" x2="1449.1" y2="1675"/><line x1="1449.3" y1="1655" x2="1449.3" y2="1675"/><line x1="1449.7" y1="1655" x2="1449.7" y2="1675"/><line x1="1449.9" y1="1655" x2="1449.9" y2="1675"/><line x1="1450.2" y1="1655" x2="1450.2" y2="1675"/><line x1="1450.6" y1="1655" x2="1450.6" y2="1675"/><line x1="1450.7" y1="1655" x2="1450.7" y2="1675"/><line x1="1450.8" y1="1655" x2="1450.8" y2="1675"/><line x1="1451.0" y1="1655" x2="1451.0" y2="1675"/><line x1="1451.1" y1="1655" x2="1451.1" y2="1675"/><line x1="1451.2" y1="1655" x2="1451.2" y2="1675"/><line x1="1451.3" y1="1655" x2="1451.3" y2="1675"/><line x1="1451.4" y1="1655" x2="1451.4" y2="1675"/><line x1="1451.5" y1="1655" x2="1451.5" y2="1675"/><line x1="1451.8" y1="1655" x2="1451.8" y2="1675"/><line x1="1452.0" y1="1655" x2="1452.0" y2="1675"/><line x1="1452.1" y1="1655" x2="1452.1" y2="1675"/><line x1="1452.8" y1="1655" x2="1452.8" y2="1675"/><line x1="1452.9" y1="1655" x2="1452.9" y2="1675"/><line x1="1453.9" y1="1655" x2="1453.9" y2="1675"/><line x1="1454.2" y1="1655" x2="1454.2" y2="1675"/><line x1="1454.2" y1="1655" x2="1454.2" y2="1675"/><line x1="1454.8" y1="1655" x2="1454.8" y2="1675"/><line x1="1455.0" y1="1655" x2="1455.0" y2="1675"/><line x1="1455.2" y1="1655" x2="1455.2" y2="1675"/><line x1="1455.4" y1="1655" x2="1455.4" y2="1675"/><line x1="1456.5" y1="1655" x2="1456.5" y2="1675"/><line x1="1456.6" y1="1655" x2="1456.6" y2="1675"/><line x1="1456.7" y1="1655" x2="1456.7" y2="1675"/><line x1="1456.8" y1="1655" x2="1456.8" y2="1675"/><line x1="1456.9" y1="1655" x2="1456.9" y2="1675"/><line x1="1457.2" y1="1655" x2="1457.2" y2="1675"/><line x1="1457.3" y1="1655" x2="1457.3" y2="1675"/><line x1="1457.4" y1="1655" x2="1457.4" y2="1675"/><line x1="1457.7" y1="1655" x2="1457.7" y2="1675"/><line x1="1458.0" y1="1655" x2="1458.0" y2="1675"/><line x1="1458.6" y1="1655" x2="1458.6" y2="1675"/><line x1="1458.7" y1="1655" x2="1458.7" y2="1675"/><line x1="1458.8" y1="1655" x2="1458.8" y2="1675"/><line x1="1459.0" y1="1655" x2="1459.0" y2="1675"/><line x1="1459.1" y1="1655" x2="1459.1" y2="1675"/><line x1="1459.9" y1="1655" x2="1459.9" y2="1675"/><line x1="1460.0" y1="1655" x2="1460.0" y2="1675"/><line x1="1460.9" y1="1655" x2="1460.9" y2="1675"/><line x1="1461.0" y1="1655" x2="1461.0" y2="1675"/><line x1="1461.3" y1="1655" x2="1461.3" y2="1675"/><line x1="1461.8" y1="1655" x2="1461.8" y2="1675"/><line x1="1461.8" y1="1655" x2="1461.8" y2="1675"/><line x1="1461.9" y1="1655" x2="1461.9" y2="1675"/><line x1="1462.3" y1="1655" x2="1462.3" y2="1675"/><line x1="1462.4" y1="1655" x2="1462.4" y2="1675"/><line x1="1462.8" y1="1655" x2="1462.8" y2="1675"/><line x1="1463.0" y1="1655" x2="1463.0" y2="1675"/><line x1="1463.3" y1="1655" x2="1463.3" y2="1675"/><line x1="1463.6" y1="1655" x2="1463.6" y2="1675"/><line x1="1464.2" y1="1655" x2="1464.2" y2="1675"/><line x1="1464.4" y1="1655" x2="1464.4" y2="1675"/><line x1="1464.6" y1="1655" x2="1464.6" y2="1675"/><line x1="1464.7" y1="1655" x2="1464.7" y2="1675"/><line x1="1465.0" y1="1655" x2="1465.0" y2="1675"/><line x1="1465.1" y1="1655" x2="1465.1" y2="1675"/><line x1="1465.3" y1="1655" x2="1465.3" y2="1675"/><line x1="1465.4" y1="1655" x2="1465.4" y2="1675"/><line x1="1465.6" y1="1655" x2="1465.6" y2="1675"/><line x1="1465.7" y1="1655" x2="1465.7" y2="1675"/><line x1="1465.7" y1="1655" x2="1465.7" y2="1675"/><line x1="1466.0" y1="1655" x2="1466.0" y2="1675"/><line x1="1466.1" y1="1655" x2="1466.1" y2="1675"/><line x1="1466.3" y1="1655" x2="1466.3" y2="1675"/><line x1="1466.5" y1="1655" x2="1466.5" y2="1675"/><line x1="1466.7" y1="1655" x2="1466.7" y2="1675"/><line x1="1466.9" y1="1655" x2="1466.9" y2="1675"/><line x1="1467.5" y1="1655" x2="1467.5" y2="1675"/><line x1="1467.6" y1="1655" x2="1467.6" y2="1675"/><line x1="1467.7" y1="1655" x2="1467.7" y2="1675"/><line x1="1468.0" y1="1655" x2="1468.0" y2="1675"/><line x1="1468.1" y1="1655" x2="1468.1" y2="1675"/><line x1="1468.5" y1="1655" x2="1468.5" y2="1675"/><line x1="1468.7" y1="1655" x2="1468.7" y2="1675"/><line x1="1469.2" y1="1655" x2="1469.2" y2="1675"/><line x1="1469.6" y1="1655" x2="1469.6" y2="1675"/><line x1="1469.7" y1="1655" x2="1469.7" y2="1675"/><line x1="1470.1" y1="1655" x2="1470.1" y2="1675"/><line x1="1470.6" y1="1655" x2="1470.6" y2="1675"/><line x1="1470.8" y1="1655" x2="1470.8" y2="1675"/><line x1="1471.0" y1="1655" x2="1471.0" y2="1675"/><line x1="1471.2" y1="1655" x2="1471.2" y2="1675"/><line x1="1472.2" y1="1655" x2="1472.2" y2="1675"/><line x1="1472.6" y1="1655" x2="1472.6" y2="1675"/><line x1="1473.0" y1="1655" x2="1473.0" y2="1675"/><line x1="1473.1" y1="1655" x2="1473.1" y2="1675"/><line x1="1473.2" y1="1655" x2="1473.2" y2="1675"/><line x1="1473.3" y1="1655" x2="1473.3" y2="1675"/><line x1="1473.4" y1="1655" x2="1473.4" y2="1675"/><line x1="1473.5" y1="1655" x2="1473.5" y2="1675"/><line x1="1473.7" y1="1655" x2="1473.7" y2="1675"/><line x1="1473.8" y1="1655" x2="1473.8" y2="1675"/><line x1="1474.0" y1="1655" x2="1474.0" y2="1675"/><line x1="1474.6" y1="1655" x2="1474.6" y2="1675"/><line x1="1475.0" y1="1655" x2="1475.0" y2="1675"/><line x1="1476.3" y1="1655" x2="1476.3" y2="1675"/><line x1="1476.4" y1="1655" x2="1476.4" y2="1675"/><line x1="1477.0" y1="1655" x2="1477.0" y2="1675"/><line x1="1477.2" y1="1655" x2="1477.2" y2="1675"/><line x1="1477.2" y1="1655" x2="1477.2" y2="1675"/><line x1="1477.3" y1="1655" x2="1477.3" y2="1675"/><line x1="1477.4" y1="1655" x2="1477.4" y2="1675"/><line x1="1477.6" y1="1655" x2="1477.6" y2="1675"/><line x1="1477.7" y1="1655" x2="1477.7" y2="1675"/><line x1="1477.9" y1="1655" x2="1477.9" y2="1675"/><line x1="1478.1" y1="1655" x2="1478.1" y2="1675"/><line x1="1478.3" y1="1655" x2="1478.3" y2="1675"/><line x1="1478.6" y1="1655" x2="1478.6" y2="1675"/><line x1="1478.7" y1="1655" x2="1478.7" y2="1675"/><line x1="1478.8" y1="1655" x2="1478.8" y2="1675"/><line x1="1478.9" y1="1655" x2="1478.9" y2="1675"/><line x1="1479.9" y1="1655" x2="1479.9" y2="1675"/><line x1="1480.0" y1="1655" x2="1480.0" y2="1675"/><line x1="1480.1" y1="1655" x2="1480.1" y2="1675"/><line x1="1480.3" y1="1655" x2="1480.3" y2="1675"/><line x1="1480.4" y1="1655" x2="1480.4" y2="1675"/><line x1="1481.2" y1="1655" x2="1481.2" y2="1675"/><line x1="1481.5" y1="1655" x2="1481.5" y2="1675"/><line x1="1481.7" y1="1655" x2="1481.7" y2="1675"/><line x1="1481.9" y1="1655" x2="1481.9" y2="1675"/><line x1="1482.0" y1="1655" x2="1482.0" y2="1675"/><line x1="1482.4" y1="1655" x2="1482.4" y2="1675"/><line x1="1482.8" y1="1655" x2="1482.8" y2="1675"/><line x1="1482.9" y1="1655" x2="1482.9" y2="1675"/><line x1="1483.1" y1="1655" x2="1483.1" y2="1675"/><line x1="1484.0" y1="1655" x2="1484.0" y2="1675"/><line x1="1484.1" y1="1655" x2="1484.1" y2="1675"/><line x1="1484.7" y1="1655" x2="1484.7" y2="1675"/><line x1="1484.8" y1="1655" x2="1484.8" y2="1675"/><line x1="1485.3" y1="1655" x2="1485.3" y2="1675"/><line x1="1485.5" y1="1655" x2="1485.5" y2="1675"/><line x1="1485.6" y1="1655" x2="1485.6" y2="1675"/><line x1="1485.9" y1="1655" x2="1485.9" y2="1675"/><line x1="1486.0" y1="1655" x2="1486.0" y2="1675"/><line x1="1486.1" y1="1655" x2="1486.1" y2="1675"/><line x1="1486.4" y1="1655" x2="1486.4" y2="1675"/><line x1="1486.5" y1="1655" x2="1486.5" y2="1675"/><line x1="1486.7" y1="1655" x2="1486.7" y2="1675"/><line x1="1487.2" y1="1655" x2="1487.2" y2="1675"/><line x1="1487.3" y1="1655" x2="1487.3" y2="1675"/><line x1="1487.4" y1="1655" x2="1487.4" y2="1675"/><line x1="1487.5" y1="1655" x2="1487.5" y2="1675"/><line x1="1487.7" y1="1655" x2="1487.7" y2="1675"/><line x1="1487.8" y1="1655" x2="1487.8" y2="1675"/><line x1="1488.3" y1="1655" x2="1488.3" y2="1675"/><line x1="1488.7" y1="1655" x2="1488.7" y2="1675"/><line x1="1489.0" y1="1655" x2="1489.0" y2="1675"/><line x1="1490.2" y1="1655" x2="1490.2" y2="1675"/><line x1="1490.5" y1="1655" x2="1490.5" y2="1675"/><line x1="1490.7" y1="1655" x2="1490.7" y2="1675"/><line x1="1490.8" y1="1655" x2="1490.8" y2="1675"/><line x1="1490.9" y1="1655" x2="1490.9" y2="1675"/><line x1="1491.4" y1="1655" x2="1491.4" y2="1675"/><line x1="1491.7" y1="1655" x2="1491.7" y2="1675"/><line x1="1491.8" y1="1655" x2="1491.8" y2="1675"/><line x1="1492.2" y1="1655" x2="1492.2" y2="1675"/><line x1="1492.3" y1="1655" x2="1492.3" y2="1675"/><line x1="1493.5" y1="1655" x2="1493.5" y2="1675"/><line x1="1493.7" y1="1655" x2="1493.7" y2="1675"/><line x1="1493.9" y1="1655" x2="1493.9" y2="1675"/><line x1="1494.1" y1="1655" x2="1494.1" y2="1675"/><line x1="1494.3" y1="1655" x2="1494.3" y2="1675"/><line x1="1494.6" y1="1655" x2="1494.6" y2="1675"/><line x1="1495.6" y1="1655" x2="1495.6" y2="1675"/><line x1="1496.0" y1="1655" x2="1496.0" y2="1675"/><line x1="1496.1" y1="1655" x2="1496.1" y2="1675"/><line x1="1496.3" y1="1655" x2="1496.3" y2="1675"/><line x1="1496.4" y1="1655" x2="1496.4" y2="1675"/><line x1="1496.5" y1="1655" x2="1496.5" y2="1675"/><line x1="1496.6" y1="1655" x2="1496.6" y2="1675"/><line x1="1497.1" y1="1655" x2="1497.1" y2="1675"/><line x1="1497.4" y1="1655" x2="1497.4" y2="1675"/><line x1="1498.7" y1="1655" x2="1498.7" y2="1675"/><line x1="1498.9" y1="1655" x2="1498.9" y2="1675"/><line x1="1499.1" y1="1655" x2="1499.1" y2="1675"/><line x1="1499.7" y1="1655" x2="1499.7" y2="1675"/><line x1="1499.9" y1="1655" x2="1499.9" y2="1675"/><line x1="1500.1" y1="1655" x2="1500.1" y2="1675"/><line x1="1500.3" y1="1655" x2="1500.3" y2="1675"/><line x1="1500.5" y1="1655" x2="1500.5" y2="1675"/><line x1="1501.1" y1="1655" x2="1501.1" y2="1675"/><line x1="1501.4" y1="1655" x2="1501.4" y2="1675"/><line x1="1501.5" y1="1655" x2="1501.5" y2="1675"/><line x1="1502.3" y1="1655" x2="1502.3" y2="1675"/><line x1="1502.4" y1="1655" x2="1502.4" y2="1675"/><line x1="1502.5" y1="1655" x2="1502.5" y2="1675"/><line x1="1502.8" y1="1655" x2="1502.8" y2="1675"/><line x1="1502.9" y1="1655" x2="1502.9" y2="1675"/><line x1="1503.0" y1="1655" x2="1503.0" y2="1675"/><line x1="1503.2" y1="1655" x2="1503.2" y2="1675"/><line x1="1503.7" y1="1655" x2="1503.7" y2="1675"/><line x1="1504.4" y1="1655" x2="1504.4" y2="1675"/><line x1="1504.8" y1="1655" x2="1504.8" y2="1675"/><line x1="1505.2" y1="1655" x2="1505.2" y2="1675"/><line x1="1505.4" y1="1655" x2="1505.4" y2="1675"/><line x1="1505.5" y1="1655" x2="1505.5" y2="1675"/><line x1="1505.7" y1="1655" x2="1505.7" y2="1675"/><line x1="1507.4" y1="1655" x2="1507.4" y2="1675"/><line x1="1507.9" y1="1655" x2="1507.9" y2="1675"/><line x1="1508.0" y1="1655" x2="1508.0" y2="1675"/><line x1="1508.0" y1="1655" x2="1508.0" y2="1675"/><line x1="1508.1" y1="1655" x2="1508.1" y2="1675"/><line x1="1508.4" y1="1655" x2="1508.4" y2="1675"/><line x1="1508.7" y1="1655" x2="1508.7" y2="1675"/><line x1="1508.9" y1="1655" x2="1508.9" y2="1675"/><line x1="1509.0" y1="1655" x2="1509.0" y2="1675"/><line x1="1509.1" y1="1655" x2="1509.1" y2="1675"/><line x1="1509.2" y1="1655" x2="1509.2" y2="1675"/><line x1="1509.2" y1="1655" x2="1509.2" y2="1675"/><line x1="1510.1" y1="1655" x2="1510.1" y2="1675"/><line x1="1510.3" y1="1655" x2="1510.3" y2="1675"/><line x1="1510.4" y1="1655" x2="1510.4" y2="1675"/><line x1="1510.6" y1="1655" x2="1510.6" y2="1675"/><line x1="1510.7" y1="1655" x2="1510.7" y2="1675"/><line x1="1510.9" y1="1655" x2="1510.9" y2="1675"/><line x1="1511.1" y1="1655" x2="1511.1" y2="1675"/><line x1="1511.4" y1="1655" x2="1511.4" y2="1675"/><line x1="1512.0" y1="1655" x2="1512.0" y2="1675"/><line x1="1512.1" y1="1655" x2="1512.1" y2="1675"/><line x1="1512.7" y1="1655" x2="1512.7" y2="1675"/><line x1="1513.0" y1="1655" x2="1513.0" y2="1675"/><line x1="1513.2" y1="1655" x2="1513.2" y2="1675"/><line x1="1513.7" y1="1655" x2="1513.7" y2="1675"/><line x1="1514.3" y1="1655" x2="1514.3" y2="1675"/><line x1="1514.5" y1="1655" x2="1514.5" y2="1675"/><line x1="1514.7" y1="1655" x2="1514.7" y2="1675"/><line x1="1514.7" y1="1655" x2="1514.7" y2="1675"/><line x1="1514.9" y1="1655" x2="1514.9" y2="1675"/><line x1="1515.0" y1="1655" x2="1515.0" y2="1675"/><line x1="1515.1" y1="1655" x2="1515.1" y2="1675"/><line x1="1515.3" y1="1655" x2="1515.3" y2="1675"/><line x1="1515.5" y1="1655" x2="1515.5" y2="1675"/><line x1="1515.6" y1="1655" x2="1515.6" y2="1675"/><line x1="1515.9" y1="1655" x2="1515.9" y2="1675"/><line x1="1515.9" y1="1655" x2="1515.9" y2="1675"/><line x1="1516.7" y1="1655" x2="1516.7" y2="1675"/><line x1="1517.0" y1="1655" x2="1517.0" y2="1675"/><line x1="1517.2" y1="1655" x2="1517.2" y2="1675"/><line x1="1517.4" y1="1655" x2="1517.4" y2="1675"/><line x1="1517.6" y1="1655" x2="1517.6" y2="1675"/><line x1="1518.2" y1="1655" x2="1518.2" y2="1675"/><line x1="1518.4" y1="1655" x2="1518.4" y2="1675"/><line x1="1518.8" y1="1655" x2="1518.8" y2="1675"/><line x1="1519.0" y1="1655" x2="1519.0" y2="1675"/><line x1="1519.7" y1="1655" x2="1519.7" y2="1675"/><line x1="1519.9" y1="1655" x2="1519.9" y2="1675"/><line x1="1520.8" y1="1655" x2="1520.8" y2="1675"/><line x1="1521.4" y1="1655" x2="1521.4" y2="1675"/><line x1="1521.8" y1="1655" x2="1521.8" y2="1675"/><line x1="1521.9" y1="1655" x2="1521.9" y2="1675"/><line x1="1522.0" y1="1655" x2="1522.0" y2="1675"/><line x1="1522.2" y1="1655" x2="1522.2" y2="1675"/><line x1="1522.2" y1="1655" x2="1522.2" y2="1675"/><line x1="1522.3" y1="1655" x2="1522.3" y2="1675"/><line x1="1522.6" y1="1655" x2="1522.6" y2="1675"/><line x1="1523.2" y1="1655" x2="1523.2" y2="1675"/><line x1="1523.3" y1="1655" x2="1523.3" y2="1675"/><line x1="1523.8" y1="1655" x2="1523.8" y2="1675"/><line x1="1523.8" y1="1655" x2="1523.8" y2="1675"/><line x1="1524.6" y1="1655" x2="1524.6" y2="1675"/><line x1="1524.6" y1="1655" x2="1524.6" y2="1675"/><line x1="1525.0" y1="1655" x2="1525.0" y2="1675"/><line x1="1525.0" y1="1655" x2="1525.0" y2="1675"/><line x1="1525.5" y1="1655" x2="1525.5" y2="1675"/><line x1="1525.8" y1="1655" x2="1525.8" y2="1675"/><line x1="1525.8" y1="1655" x2="1525.8" y2="1675"/><line x1="1526.0" y1="1655" x2="1526.0" y2="1675"/><line x1="1526.1" y1="1655" x2="1526.1" y2="1675"/><line x1="1526.5" y1="1655" x2="1526.5" y2="1675"/><line x1="1526.7" y1="1655" x2="1526.7" y2="1675"/><line x1="1526.8" y1="1655" x2="1526.8" y2="1675"/><line x1="1526.9" y1="1655" x2="1526.9" y2="1675"/><line x1="1527.3" y1="1655" x2="1527.3" y2="1675"/><line x1="1527.3" y1="1655" x2="1527.3" y2="1675"/><line x1="1527.6" y1="1655" x2="1527.6" y2="1675"/><line x1="1528.1" y1="1655" x2="1528.1" y2="1675"/><line x1="1528.2" y1="1655" x2="1528.2" y2="1675"/><line x1="1528.4" y1="1655" x2="1528.4" y2="1675"/><line x1="1528.5" y1="1655" x2="1528.5" y2="1675"/><line x1="1528.7" y1="1655" x2="1528.7" y2="1675"/><line x1="1528.9" y1="1655" x2="1528.9" y2="1675"/><line x1="1529.1" y1="1655" x2="1529.1" y2="1675"/><line x1="1529.3" y1="1655" x2="1529.3" y2="1675"/><line x1="1529.6" y1="1655" x2="1529.6" y2="1675"/><line x1="1530.1" y1="1655" x2="1530.1" y2="1675"/><line x1="1530.2" y1="1655" x2="1530.2" y2="1675"/><line x1="1530.6" y1="1655" x2="1530.6" y2="1675"/><line x1="1530.8" y1="1655" x2="1530.8" y2="1675"/><line x1="1531.3" y1="1655" x2="1531.3" y2="1675"/><line x1="1531.3" y1="1655" x2="1531.3" y2="1675"/><line x1="1531.7" y1="1655" x2="1531.7" y2="1675"/><line x1="1532.4" y1="1655" x2="1532.4" y2="1675"/><line x1="1532.6" y1="1655" x2="1532.6" y2="1675"/><line x1="1532.7" y1="1655" x2="1532.7" y2="1675"/><line x1="1532.9" y1="1655" x2="1532.9" y2="1675"/><line x1="1532.9" y1="1655" x2="1532.9" y2="1675"/><line x1="1533.1" y1="1655" x2="1533.1" y2="1675"/><line x1="1533.2" y1="1655" x2="1533.2" y2="1675"/><line x1="1533.3" y1="1655" x2="1533.3" y2="1675"/><line x1="1533.6" y1="1655" x2="1533.6" y2="1675"/><line x1="1533.7" y1="1655" x2="1533.7" y2="1675"/><line x1="1534.2" y1="1655" x2="1534.2" y2="1675"/><line x1="1534.3" y1="1655" x2="1534.3" y2="1675"/><line x1="1534.4" y1="1655" x2="1534.4" y2="1675"/><line x1="1534.8" y1="1655" x2="1534.8" y2="1675"/><line x1="1534.9" y1="1655" x2="1534.9" y2="1675"/><line x1="1535.2" y1="1655" x2="1535.2" y2="1675"/><line x1="1535.6" y1="1655" x2="1535.6" y2="1675"/><line x1="1536.1" y1="1655" x2="1536.1" y2="1675"/><line x1="1536.3" y1="1655" x2="1536.3" y2="1675"/><line x1="1536.4" y1="1655" x2="1536.4" y2="1675"/><line x1="1536.6" y1="1655" x2="1536.6" y2="1675"/><line x1="1536.7" y1="1655" x2="1536.7" y2="1675"/><line x1="1536.9" y1="1655" x2="1536.9" y2="1675"/><line x1="1537.1" y1="1655" x2="1537.1" y2="1675"/><line x1="1537.6" y1="1655" x2="1537.6" y2="1675"/><line x1="1537.7" y1="1655" x2="1537.7" y2="1675"/><line x1="1538.0" y1="1655" x2="1538.0" y2="1675"/><line x1="1538.0" y1="1655" x2="1538.0" y2="1675"/><line x1="1538.3" y1="1655" x2="1538.3" y2="1675"/><line x1="1538.7" y1="1655" x2="1538.7" y2="1675"/><line x1="1538.8" y1="1655" x2="1538.8" y2="1675"/><line x1="1539.0" y1="1655" x2="1539.0" y2="1675"/><line x1="1539.4" y1="1655" x2="1539.4" y2="1675"/><line x1="1540.0" y1="1655" x2="1540.0" y2="1675"/><line x1="1540.3" y1="1655" x2="1540.3" y2="1675"/><line x1="1540.4" y1="1655" x2="1540.4" y2="1675"/><line x1="1540.4" y1="1655" x2="1540.4" y2="1675"/><line x1="1540.8" y1="1655" x2="1540.8" y2="1675"/><line x1="1541.0" y1="1655" x2="1541.0" y2="1675"/><line x1="1541.3" y1="1655" x2="1541.3" y2="1675"/><line x1="1541.4" y1="1655" x2="1541.4" y2="1675"/><line x1="1541.8" y1="1655" x2="1541.8" y2="1675"/><line x1="1542.1" y1="1655" x2="1542.1" y2="1675"/><line x1="1542.3" y1="1655" x2="1542.3" y2="1675"/><line x1="1543.7" y1="1655" x2="1543.7" y2="1675"/><line x1="1543.8" y1="1655" x2="1543.8" y2="1675"/><line x1="1544.2" y1="1655" x2="1544.2" y2="1675"/><line x1="1544.3" y1="1655" x2="1544.3" y2="1675"/><line x1="1544.4" y1="1655" x2="1544.4" y2="1675"/><line x1="1544.9" y1="1655" x2="1544.9" y2="1675"/><line x1="1545.7" y1="1655" x2="1545.7" y2="1675"/><line x1="1546.6" y1="1655" x2="1546.6" y2="1675"/><line x1="1547.3" y1="1655" x2="1547.3" y2="1675"/><line x1="1547.6" y1="1655" x2="1547.6" y2="1675"/><line x1="1548.4" y1="1655" x2="1548.4" y2="1675"/><line x1="1548.8" y1="1655" x2="1548.8" y2="1675"/><line x1="1549.1" y1="1655" x2="1549.1" y2="1675"/><line x1="1549.1" y1="1655" x2="1549.1" y2="1675"/><line x1="1549.8" y1="1655" x2="1549.8" y2="1675"/><line x1="1550.5" y1="1655" x2="1550.5" y2="1675"/><line x1="1551.3" y1="1655" x2="1551.3" y2="1675"/><line x1="1551.4" y1="1655" x2="1551.4" y2="1675"/><line x1="1551.9" y1="1655" x2="1551.9" y2="1675"/><line x1="1552.3" y1="1655" x2="1552.3" y2="1675"/><line x1="1552.5" y1="1655" x2="1552.5" y2="1675"/><line x1="1552.6" y1="1655" x2="1552.6" y2="1675"/><line x1="1553.4" y1="1655" x2="1553.4" y2="1675"/><line x1="1553.7" y1="1655" x2="1553.7" y2="1675"/><line x1="1553.9" y1="1655" x2="1553.9" y2="1675"/><line x1="1554.1" y1="1655" x2="1554.1" y2="1675"/><line x1="1554.6" y1="1655" x2="1554.6" y2="1675"/><line x1="1555.3" y1="1655" x2="1555.3" y2="1675"/><line x1="1555.8" y1="1655" x2="1555.8" y2="1675"/><line x1="1557.1" y1="1655" x2="1557.1" y2="1675"/><line x1="1557.3" y1="1655" x2="1557.3" y2="1675"/><line x1="1557.8" y1="1655" x2="1557.8" y2="1675"/><line x1="1557.9" y1="1655" x2="1557.9" y2="1675"/><line x1="1558.1" y1="1655" x2="1558.1" y2="1675"/><line x1="1558.5" y1="1655" x2="1558.5" y2="1675"/><line x1="1558.5" y1="1655" x2="1558.5" y2="1675"/><line x1="1559.2" y1="1655" x2="1559.2" y2="1675"/><line x1="1559.5" y1="1655" x2="1559.5" y2="1675"/><line x1="1559.8" y1="1655" x2="1559.8" y2="1675"/><line x1="1559.9" y1="1655" x2="1559.9" y2="1675"/><line x1="1560.1" y1="1655" x2="1560.1" y2="1675"/><line x1="1560.2" y1="1655" x2="1560.2" y2="1675"/><line x1="1560.9" y1="1655" x2="1560.9" y2="1675"/><line x1="1561.4" y1="1655" x2="1561.4" y2="1675"/><line x1="1562.5" y1="1655" x2="1562.5" y2="1675"/><line x1="1562.9" y1="1655" x2="1562.9" y2="1675"/><line x1="1563.4" y1="1655" x2="1563.4" y2="1675"/><line x1="1563.6" y1="1655" x2="1563.6" y2="1675"/><line x1="1563.8" y1="1655" x2="1563.8" y2="1675"/><line x1="1564.0" y1="1655" x2="1564.0" y2="1675"/><line x1="1564.5" y1="1655" x2="1564.5" y2="1675"/><line x1="1564.7" y1="1655" x2="1564.7" y2="1675"/><line x1="1565.0" y1="1655" x2="1565.0" y2="1675"/><line x1="1565.3" y1="1655" x2="1565.3" y2="1675"/><line x1="1565.9" y1="1655" x2="1565.9" y2="1675"/><line x1="1566.4" y1="1655" x2="1566.4" y2="1675"/><line x1="1566.8" y1="1655" x2="1566.8" y2="1675"/><line x1="1567.2" y1="1655" x2="1567.2" y2="1675"/><line x1="1567.2" y1="1655" x2="1567.2" y2="1675"/><line x1="1567.5" y1="1655" x2="1567.5" y2="1675"/><line x1="1567.6" y1="1655" x2="1567.6" y2="1675"/><line x1="1568.1" y1="1655" x2="1568.1" y2="1675"/><line x1="1568.2" y1="1655" x2="1568.2" y2="1675"/><line x1="1568.3" y1="1655" x2="1568.3" y2="1675"/><line x1="1568.9" y1="1655" x2="1568.9" y2="1675"/><line x1="1569.0" y1="1655" x2="1569.0" y2="1675"/><line x1="1569.3" y1="1655" x2="1569.3" y2="1675"/><line x1="1569.4" y1="1655" x2="1569.4" y2="1675"/><line x1="1570.8" y1="1655" x2="1570.8" y2="1675"/><line x1="1571.0" y1="1655" x2="1571.0" y2="1675"/><line x1="1571.4" y1="1655" x2="1571.4" y2="1675"/><line x1="1571.6" y1="1655" x2="1571.6" y2="1675"/><line x1="1572.5" y1="1655" x2="1572.5" y2="1675"/><line x1="1573.8" y1="1655" x2="1573.8" y2="1675"/><line x1="1573.9" y1="1655" x2="1573.9" y2="1675"/><line x1="1574.0" y1="1655" x2="1574.0" y2="1675"/><line x1="1574.2" y1="1655" x2="1574.2" y2="1675"/><line x1="1575.5" y1="1655" x2="1575.5" y2="1675"/><line x1="1575.9" y1="1655" x2="1575.9" y2="1675"/><line x1="1577.0" y1="1655" x2="1577.0" y2="1675"/><line x1="1577.5" y1="1655" x2="1577.5" y2="1675"/><line x1="1577.6" y1="1655" x2="1577.6" y2="1675"/><line x1="1577.8" y1="1655" x2="1577.8" y2="1675"/><line x1="1578.7" y1="1655" x2="1578.7" y2="1675"/><line x1="1579.2" y1="1655" x2="1579.2" y2="1675"/><line x1="1579.3" y1="1655" x2="1579.3" y2="1675"/><line x1="1579.4" y1="1655" x2="1579.4" y2="1675"/><line x1="1579.5" y1="1655" x2="1579.5" y2="1675"/><line x1="1579.5" y1="1655" x2="1579.5" y2="1675"/><line x1="1579.6" y1="1655" x2="1579.6" y2="1675"/><line x1="1579.9" y1="1655" x2="1579.9" y2="1675"/><line x1="1580.7" y1="1655" x2="1580.7" y2="1675"/><line x1="1580.8" y1="1655" x2="1580.8" y2="1675"/><line x1="1581.6" y1="1655" x2="1581.6" y2="1675"/><line x1="1581.8" y1="1655" x2="1581.8" y2="1675"/><line x1="1582.2" y1="1655" x2="1582.2" y2="1675"/><line x1="1582.3" y1="1655" x2="1582.3" y2="1675"/><line x1="1582.4" y1="1655" x2="1582.4" y2="1675"/><line x1="1582.9" y1="1655" x2="1582.9" y2="1675"/><line x1="1583.2" y1="1655" x2="1583.2" y2="1675"/><line x1="1583.3" y1="1655" x2="1583.3" y2="1675"/><line x1="1583.8" y1="1655" x2="1583.8" y2="1675"/><line x1="1584.0" y1="1655" x2="1584.0" y2="1675"/><line x1="1584.4" y1="1655" x2="1584.4" y2="1675"/><line x1="1585.4" y1="1655" x2="1585.4" y2="1675"/><line x1="1585.5" y1="1655" x2="1585.5" y2="1675"/><line x1="1585.8" y1="1655" x2="1585.8" y2="1675"/><line x1="1586.0" y1="1655" x2="1586.0" y2="1675"/><line x1="1587.0" y1="1655" x2="1587.0" y2="1675"/><line x1="1587.8" y1="1655" x2="1587.8" y2="1675"/><line x1="1589.1" y1="1655" x2="1589.1" y2="1675"/><line x1="1589.3" y1="1655" x2="1589.3" y2="1675"/><line x1="1589.7" y1="1655" x2="1589.7" y2="1675"/><line x1="1590.1" y1="1655" x2="1590.1" y2="1675"/><line x1="1590.2" y1="1655" x2="1590.2" y2="1675"/><line x1="1590.6" y1="1655" x2="1590.6" y2="1675"/><line x1="1590.7" y1="1655" x2="1590.7" y2="1675"/><line x1="1591.5" y1="1655" x2="1591.5" y2="1675"/><line x1="1591.7" y1="1655" x2="1591.7" y2="1675"/><line x1="1592.5" y1="1655" x2="1592.5" y2="1675"/><line x1="1592.6" y1="1655" x2="1592.6" y2="1675"/><line x1="1594.0" y1="1655" x2="1594.0" y2="1675"/><line x1="1594.8" y1="1655" x2="1594.8" y2="1675"/><line x1="1594.9" y1="1655" x2="1594.9" y2="1675"/><line x1="1595.2" y1="1655" x2="1595.2" y2="1675"/><line x1="1595.3" y1="1655" x2="1595.3" y2="1675"/><line x1="1595.9" y1="1655" x2="1595.9" y2="1675"/><line x1="1596.1" y1="1655" x2="1596.1" y2="1675"/><line x1="1596.6" y1="1655" x2="1596.6" y2="1675"/><line x1="1597.3" y1="1655" x2="1597.3" y2="1675"/><line x1="1597.4" y1="1655" x2="1597.4" y2="1675"/><line x1="1598.5" y1="1655" x2="1598.5" y2="1675"/><line x1="1598.8" y1="1655" x2="1598.8" y2="1675"/><line x1="1598.8" y1="1655" x2="1598.8" y2="1675"/><line x1="1599.0" y1="1655" x2="1599.0" y2="1675"/><line x1="1600.0" y1="1655" x2="1600.0" y2="1675"/><line x1="1600.2" y1="1655" x2="1600.2" y2="1675"/><line x1="1600.4" y1="1655" x2="1600.4" y2="1675"/><line x1="1600.9" y1="1655" x2="1600.9" y2="1675"/><line x1="1601.1" y1="1655" x2="1601.1" y2="1675"/><line x1="1601.2" y1="1655" x2="1601.2" y2="1675"/><line x1="1601.6" y1="1655" x2="1601.6" y2="1675"/><line x1="1602.4" y1="1655" x2="1602.4" y2="1675"/><line x1="1602.5" y1="1655" x2="1602.5" y2="1675"/><line x1="1602.6" y1="1655" x2="1602.6" y2="1675"/><line x1="1604.1" y1="1655" x2="1604.1" y2="1675"/><line x1="1604.7" y1="1655" x2="1604.7" y2="1675"/><line x1="1605.0" y1="1655" x2="1605.0" y2="1675"/><line x1="1607.3" y1="1655" x2="1607.3" y2="1675"/><line x1="1608.8" y1="1655" x2="1608.8" y2="1675"/><line x1="1609.5" y1="1655" x2="1609.5" y2="1675"/><line x1="1610.3" y1="1655" x2="1610.3" y2="1675"/><line x1="1611.0" y1="1655" x2="1611.0" y2="1675"/><line x1="1611.7" y1="1655" x2="1611.7" y2="1675"/><line x1="1613.6" y1="1655" x2="1613.6" y2="1675"/><line x1="1613.8" y1="1655" x2="1613.8" y2="1675"/><line x1="1614.6" y1="1655" x2="1614.6" y2="1675"/><line x1="1615.2" y1="1655" x2="1615.2" y2="1675"/><line x1="1616.1" y1="1655" x2="1616.1" y2="1675"/><line x1="1617.3" y1="1655" x2="1617.3" y2="1675"/><line x1="1619.4" y1="1655" x2="1619.4" y2="1675"/><line x1="1619.8" y1="1655" x2="1619.8" y2="1675"/><line x1="1620.4" y1="1655" x2="1620.4" y2="1675"/><line x1="1620.6" y1="1655" x2="1620.6" y2="1675"/><line x1="1621.0" y1="1655" x2="1621.0" y2="1675"/><line x1="1622.5" y1="1655" x2="1622.5" y2="1675"/><line x1="1622.8" y1="1655" x2="1622.8" y2="1675"/><line x1="1624.9" y1="1655" x2="1624.9" y2="1675"/><line x1="1625.7" y1="1655" x2="1625.7" y2="1675"/><line x1="1627.2" y1="1655" x2="1627.2" y2="1675"/><line x1="1628.6" y1="1655" x2="1628.6" y2="1675"/><line x1="1629.3" y1="1655" x2="1629.3" y2="1675"/><line x1="1631.6" y1="1655" x2="1631.6" y2="1675"/><line x1="1632.0" y1="1655" x2="1632.0" y2="1675"/><line x1="1634.4" y1="1655" x2="1634.4" y2="1675"/><line x1="1635.2" y1="1655" x2="1635.2" y2="1675"/><line x1="1635.2" y1="1655" x2="1635.2" y2="1675"/><line x1="1637.0" y1="1655" x2="1637.0" y2="1675"/><line x1="1637.4" y1="1655" x2="1637.4" y2="1675"/><line x1="1640.3" y1="1655" x2="1640.3" y2="1675"/><line x1="1644.5" y1="1655" x2="1644.5" y2="1675"/><line x1="1644.7" y1="1655" x2="1644.7" y2="1675"/><line x1="1645.0" y1="1655" x2="1645.0" y2="1675"/><line x1="1647.0" y1="1655" x2="1647.0" y2="1675"/><line x1="1649.6" y1="1655" x2="1649.6" y2="1675"/><line x1="1652.5" y1="1655" x2="1652.5" y2="1675"/><line x1="1653.0" y1="1655" x2="1653.0" y2="1675"/><line x1="1658.6" y1="1655" x2="1658.6" y2="1675"/><line x1="1658.9" y1="1655" x2="1658.9" y2="1675"/><line x1="1660.0" y1="1655" x2="1660.0" y2="1675"/><line x1="1661.6" y1="1655" x2="1661.6" y2="1675"/><line x1="1662.6" y1="1655" x2="1662.6" y2="1675"/><line x1="1664.9" y1="1655" x2="1664.9" y2="1675"/><line x1="1667.2" y1="1655" x2="1667.2" y2="1675"/><line x1="1668.9" y1="1655" x2="1668.9" y2="1675"/><line x1="1670.1" y1="1655" x2="1670.1" y2="1675"/><line x1="1672.6" y1="1655" x2="1672.6" y2="1675"/><line x1="1673.4" y1="1655" x2="1673.4" y2="1675"/><line x1="1675.3" y1="1655" x2="1675.3" y2="1675"/><line x1="1677.0" y1="1655" x2="1677.0" y2="1675"/><line x1="1677.8" y1="1655" x2="1677.8" y2="1675"/><line x1="1680.6" y1="1655" x2="1680.6" y2="1675"/><line x1="1680.9" y1="1655" x2="1680.9" y2="1675"/><line x1="1682.5" y1="1655" x2="1682.5" y2="1675"/><line x1="1684.8" y1="1655" x2="1684.8" y2="1675"/><line x1="1687.1" y1="1655" x2="1687.1" y2="1675"/><line x1="1708.1" y1="1655" x2="1708.1" y2="1675"/><line x1="1714.2" y1="1655" x2="1714.2" y2="1675"/><line x1="1717.4" y1="1655" x2="1717.4" y2="1675"/><line x1="1719.8" y1="1655" x2="1719.8" y2="1675"/><line x1="1723.0" y1="1655" x2="1723.0" y2="1675"/><line x1="1736.9" y1="1655" x2="1736.9" y2="1675"/><line x1="1748.6" y1="1655" x2="1748.6" y2="1675"/><line x1="1751.7" y1="1655" x2="1751.7" y2="1675"/><line x1="1754.9" y1="1655" x2="1754.9" y2="1675"/><line x1="1758.1" y1="1655" x2="1758.1" y2="1675"/><line x1="1774.9" y1="1655" x2="1774.9" y2="1675"/><line x1="1824.4" y1="1655" x2="1824.4" y2="1675"/><line x1="1863.9" y1="1655" x2="1863.9" y2="1675"/></g>
<path class="ci" d="M1165.5,1114.2 L1167.5,1116.7 L1169.5,1119.2 L1171.5,1121.7 L1173.5,1124.2 L1175.5,1126.7 L1177.5,1129.2 L1179.5,1131.6 L1181.5,1134.1 L1183.5,1136.5 L1185.5,1139.0 L1187.5,1141.4 L1189.5,1143.9 L1191.5,1146.3 L1193.5,1148.7 L1195.5,1151.1 L1197.5,1153.5 L1199.5,1155.9 L1201.5,1158.3 L1203.5,1160.7 L1205.5,1163.1 L1207.5,1165.4 L1209.5,1167.8 L1211.5,1170.1 L1213.5,1172.5 L1215.5,1174.8 L1217.5,1177.1 L1219.5,1179.5 L1221.5,1181.8 L1223.5,1184.1 L1225.5,1186.4 L1227.5,1188.6 L1229.5,1190.9 L1231.5,1193.2 L1233.5,1195.4 L1235.5,1197.7 L1237.5,1199.9 L1239.5,1202.2 L1241.5,1204.4 L1243.5,1206.6 L1245.5,1208.8 L1247.5,1211.0 L1249.5,1213.2 L1251.5,1215.4 L1253.5,1217.5 L1255.5,1219.7 L1257.5,1221.9 L1259.5,1224.0 L1261.5,1226.1 L1263.5,1228.3 L1265.5,1230.4 L1267.5,1232.5 L1269.5,1234.6 L1271.5,1236.7 L1273.5,1238.7 L1275.5,1240.8 L1277.5,1242.9 L1279.5,1244.9 L1281.5,1246.9 L1283.5,1249.0 L1285.5,1251.0 L1287.5,1253.0 L1289.5,1255.0 L1291.5,1257.0 L1293.5,1258.9 L1295.5,1260.9 L1297.5,1262.8 L1299.5,1264.8 L1301.5,1266.7 L1303.5,1268.6 L1305.5,1270.5 L1307.5,1272.4 L1309.5,1274.3 L1311.5,1276.2 L1313.5,1278.1 L1315.5,1279.9 L1317.5,1281.8 L1319.5,1283.6 L1321.5,1285.4 L1323.5,1287.2 L1325.5,1289.0 L1327.5,1290.8 L1329.5,1292.6 L1331.5,1294.4 L1333.5,1296.1 L1335.5,1297.8 L1337.5,1299.6 L1339.5,1301.3 L1341.5,1303.0 L1343.5,1304.7 L1345.5,1306.4 L1347.5,1308.0 L1349.5,1309.7 L1351.5,1311.3 L1353.5,1313.0 L1355.5,1314.6 L1357.5,1316.2 L1359.5,1317.8 L1361.5,1319.4 L1363.5,1320.9 L1365.5,1322.5 L1367.5,1324.0 L1369.5,1325.6 L1371.5,1327.1 L1373.5,1328.6 L1375.5,1330.1 L1377.5,1331.6 L1379.5,1333.0 L1381.5,1334.5 L1383.5,1335.9 L1385.5,1337.3 L1387.5,1338.8 L1389.5,1340.2 L1391.5,1341.5 L1393.5,1342.9 L1395.5,1344.3 L1397.5,1345.6 L1399.5,1347.0 L1401.5,1348.3 L1403.5,1349.6 L1405.5,1350.9 L1407.5,1352.1 L1409.5,1353.4 L1411.5,1354.7 L1413.5,1355.9 L1415.5,1357.1 L1417.5,1358.3 L1419.5,1359.5 L1421.5,1360.7 L1423.5,1361.8 L1425.5,1363.0 L1427.5,1364.1 L1429.5,1365.2 L1431.5,1366.4 L1433.5,1367.4 L1435.5,1368.5 L1437.5,1369.6 L1439.5,1370.6 L1441.5,1371.6 L1443.5,1372.7 L1445.5,1373.7 L1447.5,1374.6 L1449.5,1375.6 L1451.5,1376.6 L1453.5,1377.5 L1455.5,1378.4 L1457.5,1379.3 L1459.5,1380.2 L1461.5,1381.1 L1463.5,1382.0 L1465.5,1382.8 L1467.5,1383.6 L1469.5,1384.4 L1471.5,1385.2 L1473.5,1386.0 L1475.5,1386.8 L1477.5,1387.5 L1479.5,1388.3 L1481.5,1389.0 L1483.5,1389.7 L1485.5,1390.4 L1487.5,1391.0 L1489.5,1391.7 L1491.5,1392.3 L1493.5,1392.9 L1495.5,1393.5 L1497.5,1394.1 L1499.5,1394.7 L1501.5,1395.2 L1503.5,1395.8 L1505.5,1396.3 L1507.5,1396.8 L1509.5,1397.3 L1511.5,1397.7 L1513.5,1398.2 L1515.5,1398.6 L1517.5,1399.0 L1519.5,1399.4 L1521.5,1399.8 L1523.5,1400.2 L1525.5,1400.6 L1527.5,1400.9 L1529.5,1401.2 L1531.5,1401.5 L1533.5,1401.8 L1535.5,1402.1 L1537.5,1402.4 L1539.5,1402.6 L1541.5,1402.9 L1543.5,1403.1 L1545.5,1403.3 L1547.5,1403.5 L1549.5,1403.7 L1551.5,1403.8 L1553.5,1404.0 L1555.5,1404.1 L1557.5,1404.3 L1559.5,1404.4 L1561.5,1404.5 L1563.5,1404.6 L1565.5,1404.6 L1567.5,1404.7 L1569.5,1404.7 L1571.5,1404.8 L1573.5,1404.8 L1575.5,1404.8 L1577.5,1404.8 L1579.5,1404.8 L1581.5,1404.8 L1583.5,1404.7 L1585.5,1404.7 L1587.5,1404.6 L1589.5,1404.5 L1591.5,1404.5 L1593.5,1404.4 L1595.5,1404.2 L1597.5,1404.1 L1599.5,1404.0 L1601.5,1403.9 L1603.5,1403.7 L1605.5,1403.5 L1607.5,1403.4 L1609.5,1403.2 L1611.5,1403.0 L1613.5,1402.8 L1615.5,1402.6 L1617.5,1402.3 L1619.5,1402.1 L1621.5,1401.9 L1623.5,1401.6 L1625.5,1401.3 L1627.5,1401.1 L1629.5,1400.8 L1631.5,1400.5 L1633.5,1400.2 L1635.5,1399.9 L1637.5,1399.6 L1639.5,1399.3 L1641.5,1398.9 L1643.5,1398.6 L1645.5,1398.2 L1647.5,1397.9 L1649.5,1397.5 L1651.5,1397.1 L1653.5,1396.7 L1655.5,1396.4 L1657.5,1396.0 L1659.5,1395.6 L1661.5,1395.1 L1663.5,1394.7 L1665.5,1394.3 L1667.5,1393.9 L1669.5,1393.4 L1671.5,1393.0 L1673.5,1392.5 L1675.5,1392.1 L1677.5,1391.6 L1679.5,1391.1 L1681.5,1390.6 L1683.5,1390.2 L1685.5,1389.7 L1687.5,1389.2 L1689.5,1388.7 L1691.5,1388.2 L1693.5,1387.7 L1695.5,1387.1 L1697.5,1386.6 L1699.5,1386.1 L1701.5,1385.6 L1703.5,1385.0 L1705.5,1384.5 L1707.5,1383.9 L1709.5,1383.4 L1711.5,1382.8 L1713.5,1382.2 L1715.5,1381.7 L1717.5,1381.1 L1719.5,1380.5 L1721.5,1379.9 L1723.5,1379.3 L1725.5,1378.7 L1727.5,1378.1 L1729.5,1377.5 L1731.5,1376.9 L1733.5,1376.3 L1735.5,1375.7 L1737.5,1375.0 L1739.5,1374.4 L1741.5,1373.7 L1743.5,1373.1 L1745.5,1372.4 L1747.5,1371.8 L1749.5,1371.1 L1751.5,1370.4 L1753.5,1369.7 L1755.5,1369.0 L1757.5,1368.3 L1759.5,1367.6 L1761.5,1366.9 L1763.5,1366.1 L1765.5,1365.4 L1767.5,1364.7 L1769.5,1363.9 L1771.5,1363.1 L1773.5,1362.4 L1775.5,1361.6 L1777.5,1360.8 L1779.5,1360.0 L1781.5,1359.2 L1783.5,1358.4 L1785.5,1357.6 L1787.5,1356.8 L1789.5,1355.9 L1791.5,1355.1 L1793.5,1354.2 L1795.5,1353.4 L1797.5,1352.5 L1799.5,1351.6 L1801.5,1350.7 L1803.5,1349.8 L1805.5,1348.9 L1807.5,1348.0 L1809.5,1347.1 L1811.5,1346.1 L1813.5,1345.2 L1815.5,1344.2 L1817.5,1343.2 L1819.5,1342.2 L1821.5,1341.3 L1823.5,1340.3 L1825.5,1339.2 L1827.5,1338.2 L1829.5,1337.2 L1831.5,1336.1 L1833.5,1335.1 L1835.5,1334.0 L1837.5,1332.9 L1839.5,1331.9 L1841.5,1330.8 L1843.5,1329.6 L1845.5,1328.5 L1847.5,1327.4 L1849.5,1326.2 L1851.5,1325.1 L1853.5,1323.9 L1855.5,1322.7 L1857.5,1321.5 L1859.5,1320.3 L1861.5,1319.1 L1863.5,1317.9 L1864.6,1317.2"/>
<path class="ci" d="M1165.1,1315.9 L1167.1,1315.8 L1169.1,1315.7 L1171.1,1315.7 L1173.1,1315.7 L1175.1,1315.6 L1177.1,1315.6 L1179.1,1315.6 L1181.1,1315.7 L1183.1,1315.7 L1185.1,1315.7 L1187.1,1315.8 L1189.1,1315.8 L1191.1,1315.9 L1193.1,1316.0 L1195.1,1316.1 L1197.1,1316.2 L1199.1,1316.3 L1201.1,1316.5 L1203.1,1316.6 L1205.1,1316.8 L1207.1,1317.0 L1209.1,1317.1 L1211.1,1317.3 L1213.1,1317.5 L1215.1,1317.7 L1217.1,1318.0 L1219.1,1318.2 L1221.1,1318.5 L1223.1,1318.7 L1225.1,1319.0 L1227.1,1319.3 L1229.1,1319.6 L1231.1,1319.9 L1233.1,1320.2 L1235.1,1320.5 L1237.1,1320.8 L1239.1,1321.2 L1241.1,1321.5 L1243.1,1321.9 L1245.1,1322.3 L1247.1,1322.7 L1249.1,1323.1 L1251.1,1323.5 L1253.1,1323.9 L1255.1,1324.3 L1257.1,1324.8 L1259.1,1325.2 L1261.1,1325.7 L1263.1,1326.1 L1265.1,1326.6 L1267.1,1327.1 L1269.1,1327.6 L1271.1,1328.1 L1273.1,1328.6 L1275.1,1329.2 L1277.1,1329.7 L1279.1,1330.2 L1281.1,1330.8 L1283.1,1331.4 L1285.1,1331.9 L1287.1,1332.5 L1289.1,1333.1 L1291.1,1333.7 L1293.1,1334.3 L1295.1,1335.0 L1297.1,1335.6 L1299.1,1336.2 L1301.1,1336.9 L1303.1,1337.5 L1305.1,1338.2 L1307.1,1338.9 L1309.1,1339.6 L1311.1,1340.3 L1313.1,1341.0 L1315.1,1341.7 L1317.1,1342.4 L1319.1,1343.1 L1321.1,1343.9 L1323.1,1344.6 L1325.1,1345.4 L1327.1,1346.1 L1329.1,1346.9 L1331.1,1347.7 L1333.1,1348.5 L1335.1,1349.3 L1337.1,1350.1 L1339.1,1350.9 L1341.1,1351.7 L1343.1,1352.6 L1345.1,1353.4 L1347.1,1354.2 L1349.1,1355.1 L1351.1,1355.9 L1353.1,1356.8 L1355.1,1357.7 L1357.1,1358.6 L1359.1,1359.4 L1361.1,1360.3 L1363.1,1361.2 L1365.1,1362.1 L1367.1,1363.0 L1369.1,1363.9 L1371.1,1364.8 L1373.1,1365.7 L1375.1,1366.6 L1377.1,1367.6 L1379.1,1368.5 L1381.1,1369.4 L1383.1,1370.3 L1385.1,1371.3 L1387.1,1372.2 L1389.1,1373.1 L1391.1,1374.1 L1393.1,1375.0 L1395.1,1375.9 L1397.1,1376.9 L1399.1,1377.8 L1401.1,1378.7 L1403.1,1379.7 L1405.1,1380.6 L1407.1,1381.5 L1409.1,1382.4 L1411.1,1383.4 L1413.1,1384.3 L1415.1,1385.2 L1417.1,1386.2 L1419.1,1387.1 L1421.1,1388.0 L1423.1,1388.9 L1425.1,1389.8 L1427.1,1390.7 L1429.1,1391.6 L1431.1,1392.5 L1433.1,1393.4 L1435.1,1394.3 L1437.1,1395.2 L1439.1,1396.1 L1441.1,1397.0 L1443.1,1397.9 L1445.1,1398.7 L1447.1,1399.6 L1449.1,1400.5 L1451.1,1401.3 L1453.1,1402.2 L1455.1,1403.1 L1457.1,1403.9 L1459.1,1404.8 L1461.1,1405.6 L1463.1,1406.4 L1465.1,1407.3 L1467.1,1408.1 L1469.1,1408.9 L1471.1,1409.7 L1473.1,1410.5 L1475.1,1411.4 L1477.1,1412.2 L1479.1,1413.0 L1481.1,1413.7 L1483.1,1414.5 L1485.1,1415.3 L1487.1,1416.1 L1489.1,1416.9 L1491.1,1417.6 L1493.1,1418.4 L1495.1,1419.1 L1497.1,1419.9 L1499.1,1420.6 L1501.1,1421.3 L1503.1,1422.1 L1505.1,1422.8 L1507.1,1423.5 L1509.1,1424.2 L1511.1,1424.9 L1513.1,1425.6 L1515.1,1426.3 L1517.1,1427.0 L1519.1,1427.7 L1521.1,1428.4 L1523.1,1429.1 L1525.1,1429.7 L1527.1,1430.4 L1529.1,1431.1 L1531.1,1431.7 L1533.1,1432.4 L1535.1,1433.0 L1537.1,1433.7 L1539.1,1434.3 L1541.1,1435.0 L1543.1,1435.6 L1545.1,1436.3 L1547.1,1436.9 L1549.1,1437.6 L1551.1,1438.2 L1553.1,1438.8 L1555.1,1439.5 L1557.1,1440.1 L1559.1,1440.7 L1561.1,1441.4 L1563.1,1442.0 L1565.1,1442.6 L1567.1,1443.2 L1569.1,1443.9 L1571.1,1444.5 L1573.1,1445.1 L1575.1,1445.8 L1577.1,1446.4 L1579.1,1447.0 L1581.1,1447.7 L1583.1,1448.3 L1585.1,1448.9 L1587.1,1449.6 L1589.1,1450.2 L1591.1,1450.9 L1593.1,1451.5 L1595.1,1452.1 L1597.1,1452.8 L1599.1,1453.4 L1601.1,1454.1 L1603.1,1454.8 L1605.1,1455.4 L1607.1,1456.1 L1609.1,1456.7 L1611.1,1457.4 L1613.1,1458.1 L1615.1,1458.8 L1617.1,1459.5 L1619.1,1460.1 L1621.1,1460.8 L1623.1,1461.5 L1625.1,1462.2 L1627.1,1463.0 L1629.1,1463.7 L1631.1,1464.4 L1633.1,1465.1 L1635.1,1465.8 L1637.1,1466.6 L1639.1,1467.3 L1641.1,1468.1 L1643.1,1468.8 L1645.1,1469.6 L1647.1,1470.4 L1649.1,1471.1 L1651.1,1471.9 L1653.1,1472.7 L1655.1,1473.5 L1657.1,1474.3 L1659.1,1475.2 L1661.1,1476.0 L1663.1,1476.8 L1665.1,1477.7 L1667.1,1478.5 L1669.1,1479.4 L1671.1,1480.3 L1673.1,1481.1 L1675.1,1482.0 L1677.1,1482.9 L1679.1,1483.8 L1681.1,1484.8 L1683.1,1485.7 L1685.1,1486.6 L1687.1,1487.6 L1689.1,1488.5 L1691.1,1489.5 L1693.1,1490.5 L1695.1,1491.5 L1697.1,1492.5 L1699.1,1493.5 L1701.1,1494.5 L1703.1,1495.5 L1705.1,1496.6 L1707.1,1497.6 L1709.1,1498.7 L1711.1,1499.7 L1713.1,1500.8 L1715.1,1501.9 L1717.1,1503.0 L1719.1,1504.1 L1721.1,1505.2 L1723.1,1506.3 L1725.1,1507.5 L1727.1,1508.6 L1729.1,1509.7 L1731.1,1510.9 L1733.1,1512.0 L1735.1,1513.2 L1737.1,1514.4 L1739.1,1515.6 L1741.1,1516.8 L1743.1,1518.0 L1745.1,1519.2 L1747.1,1520.4 L1749.1,1521.6 L1751.1,1522.8 L1753.1,1524.1 L1755.1,1525.3 L1757.1,1526.6 L1759.1,1527.8 L1761.1,1529.1 L1763.1,1530.4 L1765.1,1531.6 L1767.1,1532.9 L1769.1,1534.2 L1771.1,1535.5 L1773.1,1536.8 L1775.1,1538.1 L1777.1,1539.5 L1779.1,1540.8 L1781.1,1542.1 L1783.1,1543.5 L1785.1,1544.8 L1787.1,1546.1 L1789.1,1547.5 L1791.1,1548.9 L1793.1,1550.2 L1795.1,1551.6 L1797.1,1553.0 L1799.1,1554.4 L1801.1,1555.7 L1803.1,1557.1 L1805.1,1558.5 L1807.1,1559.9 L1809.1,1561.3 L1811.1,1562.8 L1813.1,1564.2 L1815.1,1565.6 L1817.1,1567.0 L1819.1,1568.5 L1821.1,1569.9 L1823.1,1571.3 L1825.1,1572.8 L1827.1,1574.2 L1829.1,1575.7 L1831.1,1577.1 L1833.1,1578.6 L1835.1,1580.1 L1837.1,1581.5 L1839.1,1583.0 L1841.1,1584.5 L1843.1,1586.0 L1845.1,1587.5 L1847.1,1588.9 L1849.1,1590.4 L1851.1,1591.9 L1853.1,1593.4 L1855.1,1594.9 L1857.1,1596.4 L1859.1,1597.9 L1861.1,1599.4 L1863.1,1600.9 L1864.6,1602.1"/>
<path class="rc" d="M1165.1,1214.9 L1167.1,1216.0 L1169.1,1217.2 L1171.1,1218.3 L1173.1,1219.5 L1175.1,1220.6 L1177.1,1221.8 L1179.1,1223.0 L1181.1,1224.1 L1183.1,1225.3 L1185.1,1226.5 L1187.1,1227.6 L1189.1,1228.8 L1191.1,1230.0 L1193.1,1231.2 L1195.1,1232.4 L1197.1,1233.6 L1199.1,1234.8 L1201.1,1236.0 L1203.1,1237.2 L1205.1,1238.4 L1207.1,1239.6 L1209.1,1240.8 L1211.1,1242.0 L1213.1,1243.2 L1215.1,1244.4 L1217.1,1245.7 L1219.1,1246.9 L1221.1,1248.1 L1223.1,1249.3 L1225.1,1250.6 L1227.1,1251.8 L1229.1,1253.1 L1231.1,1254.3 L1233.1,1255.6 L1235.1,1256.8 L1237.1,1258.1 L1239.1,1259.3 L1241.1,1260.6 L1243.1,1261.9 L1245.1,1263.1 L1247.1,1264.4 L1249.1,1265.7 L1251.1,1267.0 L1253.1,1268.2 L1255.1,1269.5 L1257.1,1270.8 L1259.1,1272.1 L1261.1,1273.4 L1263.1,1274.7 L1265.1,1276.0 L1267.1,1277.3 L1269.1,1278.6 L1271.1,1279.9 L1273.1,1281.2 L1275.1,1282.6 L1277.1,1283.9 L1279.1,1285.2 L1281.1,1286.5 L1283.1,1287.9 L1285.1,1289.2 L1287.1,1290.5 L1289.1,1291.9 L1291.1,1293.2 L1293.1,1294.5 L1295.1,1295.9 L1297.1,1297.2 L1299.1,1298.6 L1301.1,1299.9 L1303.1,1301.3 L1305.1,1302.6 L1307.1,1304.0 L1309.1,1305.3 L1311.1,1306.7 L1313.1,1308.0 L1315.1,1309.4 L1317.1,1310.7 L1319.1,1312.1 L1321.1,1313.4 L1323.1,1314.8 L1325.1,1316.1 L1327.1,1317.5 L1329.1,1318.8 L1331.1,1320.1 L1333.1,1321.5 L1335.1,1322.8 L1337.1,1324.1 L1339.1,1325.5 L1341.1,1326.8 L1343.1,1328.1 L1345.1,1329.5 L1347.1,1330.8 L1349.1,1332.1 L1351.1,1333.4 L1353.1,1334.7 L1355.1,1336.0 L1357.1,1337.3 L1359.1,1338.6 L1361.1,1339.9 L1363.1,1341.2 L1365.1,1342.4 L1367.1,1343.7 L1369.1,1345.0 L1371.1,1346.2 L1373.1,1347.5 L1375.1,1348.7 L1377.1,1350.0 L1379.1,1351.2 L1381.1,1352.4 L1383.1,1353.6 L1385.1,1354.8 L1387.1,1356.0 L1389.1,1357.2 L1391.1,1358.4 L1393.1,1359.6 L1395.1,1360.8 L1397.1,1361.9 L1399.1,1363.1 L1401.1,1364.2 L1403.1,1365.4 L1405.1,1366.5 L1407.1,1367.6 L1409.1,1368.7 L1411.1,1369.8 L1413.1,1370.9 L1415.1,1372.0 L1417.1,1373.1 L1419.1,1374.1 L1421.1,1375.2 L1423.1,1376.2 L1425.1,1377.3 L1427.1,1378.3 L1429.1,1379.3 L1431.1,1380.3 L1433.1,1381.3 L1435.1,1382.3 L1437.1,1383.3 L1439.1,1384.2 L1441.1,1385.2 L1443.1,1386.1 L1445.1,1387.0 L1447.1,1387.9 L1449.1,1388.8 L1451.1,1389.7 L1453.1,1390.6 L1455.1,1391.5 L1457.1,1392.3 L1459.1,1393.2 L1461.1,1394.0 L1463.1,1394.8 L1465.1,1395.6 L1467.1,1396.4 L1469.1,1397.2 L1471.1,1397.9 L1473.1,1398.7 L1475.1,1399.4 L1477.1,1400.2 L1479.1,1400.9 L1481.1,1401.6 L1483.1,1402.3 L1485.1,1403.0 L1487.1,1403.6 L1489.1,1404.3 L1491.1,1405.0 L1493.1,1405.6 L1495.1,1406.2 L1497.1,1406.9 L1499.1,1407.5 L1501.1,1408.1 L1503.1,1408.7 L1505.1,1409.2 L1507.1,1409.8 L1509.1,1410.4 L1511.1,1410.9 L1513.1,1411.5 L1515.1,1412.0 L1517.1,1412.5 L1519.1,1413.0 L1521.1,1413.6 L1523.1,1414.1 L1525.1,1414.5 L1527.1,1415.0 L1529.1,1415.5 L1531.1,1416.0 L1533.1,1416.4 L1535.1,1416.9 L1537.1,1417.3 L1539.1,1417.8 L1541.1,1418.2 L1543.1,1418.6 L1545.1,1419.0 L1547.1,1419.4 L1549.1,1419.8 L1551.1,1420.2 L1553.1,1420.6 L1555.1,1421.0 L1557.1,1421.4 L1559.1,1421.7 L1561.1,1422.1 L1563.1,1422.5 L1565.1,1422.8 L1567.1,1423.2 L1569.1,1423.5 L1571.1,1423.8 L1573.1,1424.2 L1575.1,1424.5 L1577.1,1424.8 L1579.1,1425.1 L1581.1,1425.4 L1583.1,1425.7 L1585.1,1426.0 L1587.1,1426.3 L1589.1,1426.6 L1591.1,1426.9 L1593.1,1427.2 L1595.1,1427.5 L1597.1,1427.8 L1599.1,1428.1 L1601.1,1428.3 L1603.1,1428.6 L1605.1,1428.9 L1607.1,1429.1 L1609.1,1429.4 L1611.1,1429.6 L1613.1,1429.9 L1615.1,1430.2 L1617.1,1430.4 L1619.1,1430.7 L1621.1,1430.9 L1623.1,1431.2 L1625.1,1431.4 L1627.1,1431.6 L1629.1,1431.9 L1631.1,1432.1 L1633.1,1432.4 L1635.1,1432.6 L1637.1,1432.8 L1639.1,1433.1 L1641.1,1433.3 L1643.1,1433.5 L1645.1,1433.8 L1647.1,1434.0 L1649.1,1434.3 L1651.1,1434.5 L1653.1,1434.7 L1655.1,1435.0 L1657.1,1435.2 L1659.1,1435.4 L1661.1,1435.7 L1663.1,1435.9 L1665.1,1436.2 L1667.1,1436.4 L1669.1,1436.7 L1671.1,1436.9 L1673.1,1437.2 L1675.1,1437.4 L1677.1,1437.7 L1679.1,1437.9 L1681.1,1438.2 L1683.1,1438.4 L1685.1,1438.7 L1687.1,1438.9 L1689.1,1439.2 L1691.1,1439.5 L1693.1,1439.7 L1695.1,1440.0 L1697.1,1440.3 L1699.1,1440.6 L1701.1,1440.8 L1703.1,1441.1 L1705.1,1441.4 L1707.1,1441.7 L1709.1,1441.9 L1711.1,1442.2 L1713.1,1442.5 L1715.1,1442.8 L1717.1,1443.1 L1719.1,1443.3 L1721.1,1443.6 L1723.1,1443.9 L1725.1,1444.2 L1727.1,1444.5 L1729.1,1444.8 L1731.1,1445.1 L1733.1,1445.3 L1735.1,1445.6 L1737.1,1445.9 L1739.1,1446.2 L1741.1,1446.5 L1743.1,1446.8 L1745.1,1447.1 L1747.1,1447.3 L1749.1,1447.6 L1751.1,1447.9 L1753.1,1448.2 L1755.1,1448.5 L1757.1,1448.7 L1759.1,1449.0 L1761.1,1449.3 L1763.1,1449.6 L1765.1,1449.8 L1767.1,1450.1 L1769.1,1450.4 L1771.1,1450.7 L1773.1,1450.9 L1775.1,1451.2 L1777.1,1451.4 L1779.1,1451.7 L1781.1,1452.0 L1783.1,1452.2 L1785.1,1452.5 L1787.1,1452.7 L1789.1,1453.0 L1791.1,1453.2 L1793.1,1453.5 L1795.1,1453.7 L1797.1,1454.0 L1799.1,1454.2 L1801.1,1454.4 L1803.1,1454.7 L1805.1,1454.9 L1807.1,1455.1 L1809.1,1455.3 L1811.1,1455.5 L1813.1,1455.8 L1815.1,1456.0 L1817.1,1456.2 L1819.1,1456.4 L1821.1,1456.6 L1823.1,1456.8 L1825.1,1457.0 L1827.1,1457.1 L1829.1,1457.3 L1831.1,1457.5 L1833.1,1457.7 L1835.1,1457.8 L1837.1,1458.0 L1839.1,1458.2 L1841.1,1458.3 L1843.1,1458.5 L1845.1,1458.6 L1847.1,1458.8 L1849.1,1458.9 L1851.1,1459.0 L1853.1,1459.2 L1855.1,1459.3 L1857.1,1459.4 L1859.1,1459.5 L1861.1,1459.6 L1863.1,1459.7 L1864.6,1459.8"/>
<line x1="1121.0" y1="1642.9" x2="1138.0" y2="1642.9" stroke="#383838" stroke-width="2.2"/>
<text class="tk" transform="translate(1099.9,1642.9) rotate(-90)" text-anchor="middle" textLength="31.1" lengthAdjust="spacingAndGlyphs">20</text>
<line x1="1121.0" y1="1508.0" x2="1138.0" y2="1508.0" stroke="#383838" stroke-width="2.2"/>
<text class="tk" transform="translate(1099.9,1508.0) rotate(-90)" text-anchor="middle" textLength="31.1" lengthAdjust="spacingAndGlyphs">40</text>
<line x1="1121.0" y1="1373.1" x2="1138.0" y2="1373.1" stroke="#383838" stroke-width="2.2"/>
<text class="tk" transform="translate(1099.9,1373.1) rotate(-90)" text-anchor="middle" textLength="31.1" lengthAdjust="spacingAndGlyphs">60</text>
<line x1="1121.0" y1="1238.2" x2="1138.0" y2="1238.2" stroke="#383838" stroke-width="2.2"/>
<text class="tk" transform="translate(1099.9,1238.2) rotate(-90)" text-anchor="middle" textLength="31.1" lengthAdjust="spacingAndGlyphs">80</text>
<line x1="1121.0" y1="1103.3" x2="1138.0" y2="1103.3" stroke="#383838" stroke-width="2.2"/>
<text class="tk" transform="translate(1099.9,1103.3) rotate(-90)" text-anchor="middle" textLength="46.6" lengthAdjust="spacingAndGlyphs">100</text>
<line x1="1290.5" y1="1675.1" x2="1290.5" y2="1691.6" stroke="#383838" stroke-width="2.2"/>
<text class="tk" x="1290.5" y="1732.3" text-anchor="middle">6</text>
<line x1="1450.1" y1="1675.1" x2="1450.1" y2="1691.6" stroke="#383838" stroke-width="2.2"/>
<text class="tk" x="1450.1" y="1732.3" text-anchor="middle">8</text>
<line x1="1609.7" y1="1675.1" x2="1609.7" y2="1691.6" stroke="#383838" stroke-width="2.2"/>
<text class="tk" x="1609.7" y="1732.3" text-anchor="middle" textLength="31.1" lengthAdjust="spacingAndGlyphs">10</text>
<line x1="1769.3" y1="1675.1" x2="1769.3" y2="1691.6" stroke="#383838" stroke-width="2.2"/>
<text class="tk" x="1769.3" y="1732.3" text-anchor="middle" textLength="31.1" lengthAdjust="spacingAndGlyphs">12</text>
<text class="ttl" x="1254.5" y="1789.2" textLength="526.1" lengthAdjust="spacingAndGlyphs">Log2 Pan-Immune-Inflammation Value</text>
<text class="ttl" transform="translate(1049.3,1684.8) rotate(-90)" textLength="626.8" lengthAdjust="spacingAndGlyphs">procollagen type I N-terminal propeptid(ng/ml)</text>
</g></svg></body></html>
